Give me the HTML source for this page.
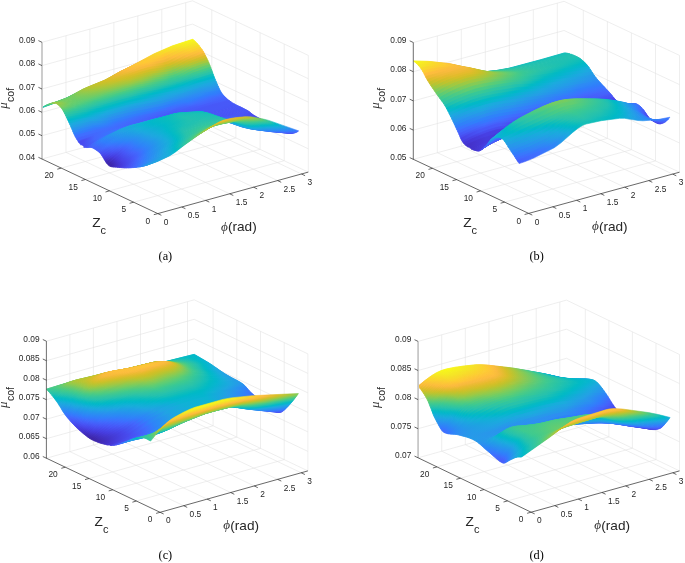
<!DOCTYPE html>
<html><head><meta charset="utf-8"><style>
html,body{margin:0;padding:0;background:#fff;}
svg{display:block;will-change:transform;font-family:"Liberation Sans",sans-serif;}
</style></head><body>
<svg width="685" height="563" viewBox="0 0 685 563">
<rect width="685" height="563" fill="#fff"/>
<path d="M133.7 202.2L284.2 160.7M109.6 190.8L260.1 149.3M85.4 179.5L235.9 138M61.3 168.1L211.8 126.6M181.8 207L66 152.4M205.7 200.4L89.9 145.8M229.7 193.8L113.9 139.2M253.6 187.2L137.8 132.6M277.6 180.6L161.8 126M301.5 174L185.7 119.4M42 159L42 42.3M66 152.4L66 35.7M89.9 145.8L89.9 29.1M113.9 139.2L113.9 22.5M137.8 132.6L137.8 15.9M161.8 126L161.8 9.3M185.7 119.4L185.7 2.7M42 159L192.5 117.5M42 135.7L192.5 94.2M42 112.3L192.5 70.8M42 89L192.5 47.5M42 65.6L192.5 24.1M42 42.3L192.5 0.8M308.3 172.1L308.3 55.4M284.2 160.7L284.2 44M260.1 149.3L260.1 32.6M235.9 138L235.9 21.3M211.8 126.6L211.8 9.9M308.3 172.1L192.5 117.5M308.3 148.8L192.5 94.2M308.3 125.4L192.5 70.8M308.3 102.1L192.5 47.5M308.3 78.7L192.5 24.1M308.3 55.4L192.5 0.8" stroke="#e2e2e2" stroke-width="0.6" fill="none"/>
<defs><linearGradient id="a82" gradientUnits="userSpaceOnUse" x1="42.5" x2="193"><stop offset="0" stop-color="#19bfb5"/><stop offset=".178" stop-color="#32c69e"/><stop offset=".344" stop-color="#5ecd74"/><stop offset=".4" stop-color="#79cc5f"/><stop offset=".478" stop-color="#bec32e"/><stop offset=".511" stop-color="#d5be27"/><stop offset=".578" stop-color="#f2ba38"/><stop offset=".611" stop-color="#fdbc3e"/><stop offset=".733" stop-color="#f8da2b"/><stop offset=".9" stop-color="#f7f51b"/><stop offset="1" stop-color="#f9fa15"/></linearGradient><linearGradient id="a81" gradientUnits="userSpaceOnUse" x1="43.62" x2="194.12"><stop offset="0" stop-color="#28c3ab"/><stop offset=".144" stop-color="#36c899"/><stop offset=".211" stop-color="#4dcc82"/><stop offset=".389" stop-color="#92ca4c"/><stop offset=".467" stop-color="#cdc028"/><stop offset=".522" stop-color="#ebba31"/><stop offset=".578" stop-color="#fcbc3e"/><stop offset=".756" stop-color="#f8d92b"/><stop offset=".933" stop-color="#f7f41c"/><stop offset="1" stop-color="#f8f817"/></linearGradient><linearGradient id="a80" gradientUnits="userSpaceOnUse" x1="45" x2="195.5"><stop offset="0" stop-color="#33c69d"/><stop offset=".133" stop-color="#40ca8d"/><stop offset=".2" stop-color="#62cd70"/><stop offset=".267" stop-color="#89cb53"/><stop offset=".389" stop-color="#b2c635"/><stop offset=".444" stop-color="#d4bf27"/><stop offset=".511" stop-color="#f5ba3b"/><stop offset=".556" stop-color="#febe3c"/><stop offset=".722" stop-color="#fccf30"/><stop offset=".833" stop-color="#f6e028"/><stop offset=".978" stop-color="#f7f31d"/><stop offset="1" stop-color="#f7f41c"/></linearGradient><linearGradient id="a79" gradientUnits="userSpaceOnUse" x1="46.56" x2="197.06"><stop offset="0" stop-color="#3fca8e"/><stop offset=".111" stop-color="#4dcc82"/><stop offset=".167" stop-color="#64cd6f"/><stop offset=".244" stop-color="#9ec942"/><stop offset=".378" stop-color="#c7c129"/><stop offset=".444" stop-color="#e5bb2c"/><stop offset=".5" stop-color="#faba3e"/><stop offset=".622" stop-color="#fecb33"/><stop offset=".789" stop-color="#feca33"/><stop offset=".922" stop-color="#f5e725"/><stop offset="1" stop-color="#f5ee21"/></linearGradient><linearGradient id="a78" gradientUnits="userSpaceOnUse" x1="48.16" x2="198.66"><stop offset="0" stop-color="#52cc7e"/><stop offset=".133" stop-color="#63cd70"/><stop offset=".178" stop-color="#7dcc5b"/><stop offset=".244" stop-color="#afc636"/><stop offset=".356" stop-color="#cfc027"/><stop offset=".444" stop-color="#eaba30"/><stop offset=".511" stop-color="#fbbb3e"/><stop offset=".644" stop-color="#fec934"/><stop offset=".778" stop-color="#febe3c"/><stop offset=".922" stop-color="#f6de29"/><stop offset="1" stop-color="#f5e626"/></linearGradient><linearGradient id="a77" gradientUnits="userSpaceOnUse" x1="49.7" x2="200.2"><stop offset="0" stop-color="#64cd6f"/><stop offset=".133" stop-color="#6dcd67"/><stop offset=".178" stop-color="#85cc56"/><stop offset=".244" stop-color="#b4c534"/><stop offset=".344" stop-color="#d0bf27"/><stop offset=".456" stop-color="#ebba31"/><stop offset=".544" stop-color="#fbbb3e"/><stop offset=".656" stop-color="#fec13a"/><stop offset=".722" stop-color="#f7ba3c"/><stop offset=".778" stop-color="#f2ba38"/><stop offset=".822" stop-color="#febd3d"/><stop offset=".933" stop-color="#fad62d"/><stop offset="1" stop-color="#f6dd29"/></linearGradient><linearGradient id="a76" gradientUnits="userSpaceOnUse" x1="51.13" x2="201.63"><stop offset="0" stop-color="#77cc60"/><stop offset=".111" stop-color="#71cd65"/><stop offset=".156" stop-color="#78cc5f"/><stop offset=".256" stop-color="#b4c533"/><stop offset=".378" stop-color="#d3bf27"/><stop offset=".567" stop-color="#f5ba3b"/><stop offset=".656" stop-color="#f9ba3d"/><stop offset=".756" stop-color="#e1bc2a"/><stop offset=".8" stop-color="#e8bb2e"/><stop offset=".844" stop-color="#fabb3e"/><stop offset=".933" stop-color="#fdcc32"/><stop offset="1" stop-color="#fad42e"/></linearGradient><linearGradient id="a75" gradientUnits="userSpaceOnUse" x1="52.46" x2="202.96"><stop offset="0" stop-color="#89cb53"/><stop offset=".078" stop-color="#74cd62"/><stop offset=".144" stop-color="#74cd62"/><stop offset=".267" stop-color="#afc636"/><stop offset=".411" stop-color="#d2bf27"/><stop offset=".544" stop-color="#e6bb2d"/><stop offset=".656" stop-color="#e9bb2f"/><stop offset=".756" stop-color="#cdc028"/><stop offset=".8" stop-color="#d5be27"/><stop offset=".844" stop-color="#eaba30"/><stop offset=".889" stop-color="#fbbb3e"/><stop offset="1" stop-color="#feca33"/></linearGradient><linearGradient id="a74" gradientUnits="userSpaceOnUse" x1="53.7" x2="204.2"><stop offset="0" stop-color="#96ca48"/><stop offset=".067" stop-color="#78cc5f"/><stop offset=".133" stop-color="#70cd65"/><stop offset=".189" stop-color="#83cc57"/><stop offset=".267" stop-color="#a5c83d"/><stop offset=".444" stop-color="#cfc027"/><stop offset=".556" stop-color="#d7be28"/><stop offset=".667" stop-color="#d2bf27"/><stop offset=".756" stop-color="#b5c533"/><stop offset=".789" stop-color="#bac430"/><stop offset=".844" stop-color="#d8be28"/><stop offset=".9" stop-color="#efba35"/><stop offset=".967" stop-color="#fdbc3e"/><stop offset="1" stop-color="#febf3b"/></linearGradient><linearGradient id="a73" gradientUnits="userSpaceOnUse" x1="54.9" x2="205.4"><stop offset="0" stop-color="#9fc942"/><stop offset=".067" stop-color="#78cc5f"/><stop offset=".122" stop-color="#6dcd68"/><stop offset=".178" stop-color="#78cc5f"/><stop offset=".278" stop-color="#9dc943"/><stop offset=".489" stop-color="#c9c129"/><stop offset=".656" stop-color="#bfc32d"/><stop offset=".756" stop-color="#9bc944"/><stop offset=".789" stop-color="#a0c840"/><stop offset=".856" stop-color="#cbc028"/><stop offset=".911" stop-color="#e2bc2b"/><stop offset="1" stop-color="#f1ba38"/></linearGradient><linearGradient id="a72" gradientUnits="userSpaceOnUse" x1="56.04" x2="206.54"><stop offset="0" stop-color="#a1c840"/><stop offset=".067" stop-color="#77cc5f"/><stop offset=".122" stop-color="#69cd6a"/><stop offset=".189" stop-color="#75cc61"/><stop offset=".322" stop-color="#9bc944"/><stop offset=".5" stop-color="#bbc430"/><stop offset=".622" stop-color="#aec637"/><stop offset=".689" stop-color="#98ca47"/><stop offset=".756" stop-color="#7fcc5a"/><stop offset=".789" stop-color="#85cb56"/><stop offset=".878" stop-color="#c3c22b"/><stop offset=".978" stop-color="#dbbd28"/><stop offset="1" stop-color="#ddbd29"/></linearGradient><linearGradient id="a71" gradientUnits="userSpaceOnUse" x1="57.13" x2="207.63"><stop offset="0" stop-color="#9fc941"/><stop offset=".078" stop-color="#70cd65"/><stop offset=".133" stop-color="#66cd6d"/><stop offset=".478" stop-color="#a8c73b"/><stop offset=".556" stop-color="#a5c83d"/><stop offset=".667" stop-color="#88cb53"/><stop offset=".744" stop-color="#65cd6e"/><stop offset=".778" stop-color="#65cd6e"/><stop offset=".822" stop-color="#80cc59"/><stop offset=".878" stop-color="#abc739"/><stop offset=".978" stop-color="#c3c22b"/><stop offset="1" stop-color="#c5c22a"/></linearGradient><linearGradient id="a70" gradientUnits="userSpaceOnUse" x1="58.16" x2="208.66"><stop offset="0" stop-color="#99c946"/><stop offset=".078" stop-color="#6ccd68"/><stop offset=".133" stop-color="#62cd70"/><stop offset=".311" stop-color="#78cc5f"/><stop offset=".489" stop-color="#94ca4a"/><stop offset=".567" stop-color="#8dcb4f"/><stop offset=".667" stop-color="#6dcd67"/><stop offset=".744" stop-color="#4ecc82"/><stop offset=".778" stop-color="#4dcc82"/><stop offset=".822" stop-color="#65cd6e"/><stop offset=".878" stop-color="#8fcb4e"/><stop offset=".978" stop-color="#a8c73b"/><stop offset="1" stop-color="#a9c73a"/></linearGradient><linearGradient id="a69" gradientUnits="userSpaceOnUse" x1="59.14" x2="209.64"><stop offset="0" stop-color="#92ca4b"/><stop offset=".078" stop-color="#67cd6c"/><stop offset=".133" stop-color="#5dcd75"/><stop offset=".3" stop-color="#64cd6f"/><stop offset=".467" stop-color="#7bcc5d"/><stop offset=".544" stop-color="#79cc5e"/><stop offset=".678" stop-color="#50cc7f"/><stop offset=".744" stop-color="#3bc992"/><stop offset=".789" stop-color="#3dca90"/><stop offset=".844" stop-color="#5ccc75"/><stop offset=".9" stop-color="#78cc5f"/><stop offset="1" stop-color="#8bcb51"/></linearGradient><linearGradient id="a68" gradientUnits="userSpaceOnUse" x1="60.07" x2="210.57"><stop offset="0" stop-color="#8acb51"/><stop offset=".078" stop-color="#62cd70"/><stop offset=".167" stop-color="#53cc7d"/><stop offset=".289" stop-color="#51cc7f"/><stop offset=".422" stop-color="#60cd72"/><stop offset=".544" stop-color="#5fcd73"/><stop offset=".733" stop-color="#32c69e"/><stop offset=".789" stop-color="#32c69e"/><stop offset=".844" stop-color="#44cb89"/><stop offset=".9" stop-color="#5bcc77"/><stop offset="1" stop-color="#69cd6b"/></linearGradient><linearGradient id="a67" gradientUnits="userSpaceOnUse" x1="60.95" x2="211.45"><stop offset="0" stop-color="#81cc58"/><stop offset=".089" stop-color="#58cc79"/><stop offset=".222" stop-color="#40ca8d"/><stop offset=".333" stop-color="#46cb87"/><stop offset=".533" stop-color="#4acb85"/><stop offset=".756" stop-color="#27c2ac"/><stop offset=".822" stop-color="#30c5a1"/><stop offset=".911" stop-color="#43ca8b"/><stop offset="1" stop-color="#4bcb83"/></linearGradient><linearGradient id="a66" gradientUnits="userSpaceOnUse" x1="61.77" x2="212.27"><stop offset="0" stop-color="#75cc61"/><stop offset=".111" stop-color="#48cb86"/><stop offset=".233" stop-color="#36c799"/><stop offset=".467" stop-color="#3ac994"/><stop offset=".589" stop-color="#32c69e"/><stop offset=".767" stop-color="#18bfb6"/><stop offset=".889" stop-color="#32c69f"/><stop offset="1" stop-color="#36c899"/></linearGradient><linearGradient id="a65" gradientUnits="userSpaceOnUse" x1="62.59" x2="213.09"><stop offset="0" stop-color="#67cd6c"/><stop offset=".111" stop-color="#3eca8f"/><stop offset=".244" stop-color="#2ec4a5"/><stop offset=".467" stop-color="#30c5a2"/><stop offset=".6" stop-color="#24c1ae"/><stop offset=".756" stop-color="#06bcbf"/><stop offset=".811" stop-color="#0fbeba"/><stop offset=".889" stop-color="#25c2ae"/><stop offset="1" stop-color="#29c3aa"/></linearGradient><linearGradient id="a64" gradientUnits="userSpaceOnUse" x1="63.47" x2="213.97"><stop offset="0" stop-color="#57cc7a"/><stop offset=".089" stop-color="#3ac994"/><stop offset=".244" stop-color="#23c1af"/><stop offset=".456" stop-color="#24c1ae"/><stop offset=".578" stop-color="#12beb9"/><stop offset=".678" stop-color="#01bac4"/><stop offset=".789" stop-color="#00b9c8"/><stop offset=".911" stop-color="#0dbdbb"/><stop offset="1" stop-color="#0ebebb"/></linearGradient><linearGradient id="a63" gradientUnits="userSpaceOnUse" x1="64.42" x2="214.92"><stop offset="0" stop-color="#43cb8a"/><stop offset=".189" stop-color="#1dc0b3"/><stop offset=".256" stop-color="#10beba"/><stop offset=".433" stop-color="#11beba"/><stop offset=".589" stop-color="#00b9c8"/><stop offset=".778" stop-color="#0db3d3"/><stop offset=".889" stop-color="#01b8c9"/><stop offset="1" stop-color="#01b7ca"/></linearGradient><linearGradient id="a62" gradientUnits="userSpaceOnUse" x1="65.46" x2="215.96"><stop offset="0" stop-color="#34c79b"/><stop offset=".133" stop-color="#1dc0b3"/><stop offset=".211" stop-color="#03bbc2"/><stop offset=".489" stop-color="#02b7cb"/><stop offset=".7" stop-color="#18addb"/><stop offset=".844" stop-color="#14b0d8"/><stop offset="1" stop-color="#14b0d8"/></linearGradient><linearGradient id="a61" gradientUnits="userSpaceOnUse" x1="66.52" x2="217.02"><stop offset="0" stop-color="#28c3ab"/><stop offset=".178" stop-color="#00b9c6"/><stop offset=".278" stop-color="#08b4d1"/><stop offset=".444" stop-color="#0eb3d4"/><stop offset=".678" stop-color="#1fa6e2"/><stop offset=".867" stop-color="#1ca9df"/><stop offset="1" stop-color="#1fa6e2"/></linearGradient><linearGradient id="a60" gradientUnits="userSpaceOnUse" x1="67.58" x2="218.08"><stop offset="0" stop-color="#12beb9"/><stop offset=".133" stop-color="#00b9c8"/><stop offset=".189" stop-color="#0cb3d3"/><stop offset=".256" stop-color="#18aedb"/><stop offset=".533" stop-color="#20a5e3"/><stop offset=".767" stop-color="#259ce7"/><stop offset=".944" stop-color="#23a0e5"/><stop offset="1" stop-color="#259ce7"/></linearGradient><linearGradient id="a59" gradientUnits="userSpaceOnUse" x1="68.64" x2="219.14"><stop offset="0" stop-color="#00b9c7"/><stop offset=".122" stop-color="#08b5d0"/><stop offset=".222" stop-color="#1ea8e1"/><stop offset=".556" stop-color="#2698ea"/><stop offset=".733" stop-color="#2994ed"/><stop offset=".944" stop-color="#2798ea"/><stop offset="1" stop-color="#2b91ef"/></linearGradient><linearGradient id="a58" gradientUnits="userSpaceOnUse" x1="69.71" x2="220.21"><stop offset="0" stop-color="#0eb3d4"/><stop offset=".167" stop-color="#1ca9e0"/><stop offset=".267" stop-color="#269ae8"/><stop offset=".544" stop-color="#2d8ef1"/><stop offset=".678" stop-color="#2d88f6"/><stop offset=".933" stop-color="#2c90f0"/><stop offset="1" stop-color="#2e87f7"/></linearGradient><linearGradient id="a57" gradientUnits="userSpaceOnUse" x1="70.77" x2="221.27"><stop offset="0" stop-color="#1caadf"/><stop offset=".167" stop-color="#23a1e5"/><stop offset=".267" stop-color="#2c8ff0"/><stop offset=".556" stop-color="#2f81fa"/><stop offset=".667" stop-color="#327cfc"/><stop offset=".856" stop-color="#2d89f6"/><stop offset=".978" stop-color="#2f81fa"/><stop offset="1" stop-color="#307efc"/></linearGradient><linearGradient id="a56" gradientUnits="userSpaceOnUse" x1="71.8" x2="222.3"><stop offset="0" stop-color="#23a0e5"/><stop offset=".167" stop-color="#2797ea"/><stop offset=".267" stop-color="#2e84f8"/><stop offset=".533" stop-color="#3677fe"/><stop offset=".656" stop-color="#3e6fff"/><stop offset=".767" stop-color="#2f80fb"/><stop offset=".956" stop-color="#317dfc"/><stop offset="1" stop-color="#3776fe"/></linearGradient><linearGradient id="a55" gradientUnits="userSpaceOnUse" x1="72.81" x2="223.31"><stop offset="0" stop-color="#2895ec"/><stop offset=".167" stop-color="#2d8ef2"/><stop offset=".267" stop-color="#337bfd"/><stop offset=".6" stop-color="#4466fd"/><stop offset=".678" stop-color="#426afe"/><stop offset=".767" stop-color="#3479fd"/><stop offset=".967" stop-color="#3975ff"/><stop offset="1" stop-color="#3d71ff"/></linearGradient><linearGradient id="a54" gradientUnits="userSpaceOnUse" x1="73.87" x2="224.37"><stop offset="0" stop-color="#2d89f5"/><stop offset=".167" stop-color="#2e84f9"/><stop offset=".278" stop-color="#3c72ff"/><stop offset=".656" stop-color="#465ffb"/><stop offset=".767" stop-color="#3b72ff"/><stop offset="1" stop-color="#406dfe"/></linearGradient><linearGradient id="a53" gradientUnits="userSpaceOnUse" x1="75.07" x2="225.57"><stop offset="0" stop-color="#327cfc"/><stop offset=".178" stop-color="#3678fd"/><stop offset=".311" stop-color="#416bfe"/><stop offset=".656" stop-color="#475af9"/><stop offset=".778" stop-color="#416bfe"/><stop offset="1" stop-color="#4368fe"/></linearGradient><linearGradient id="a52" gradientUnits="userSpaceOnUse" x1="76.5" x2="227"><stop offset="0" stop-color="#3f6eff"/><stop offset=".2" stop-color="#3f6fff"/><stop offset=".667" stop-color="#4758f8"/><stop offset=".833" stop-color="#4465fd"/><stop offset="1" stop-color="#4563fd"/></linearGradient><linearGradient id="a51" gradientUnits="userSpaceOnUse" x1="78.17" x2="228.67"><stop offset="0" stop-color="#4561fc"/><stop offset=".178" stop-color="#406dfe"/><stop offset=".478" stop-color="#4563fd"/><stop offset=".667" stop-color="#4758f8"/><stop offset=".967" stop-color="#4660fc"/><stop offset="1" stop-color="#465ffb"/></linearGradient><linearGradient id="a50" gradientUnits="userSpaceOnUse" x1="79.95" x2="230.45"><stop offset="0" stop-color="#4855f6"/><stop offset=".122" stop-color="#416cfe"/><stop offset=".333" stop-color="#406dfe"/><stop offset=".678" stop-color="#4758f8"/><stop offset="1" stop-color="#475cfa"/></linearGradient><linearGradient id="a49" gradientUnits="userSpaceOnUse" x1="82.87" x2="233.37"><stop offset="0" stop-color="#484bef"/><stop offset=".078" stop-color="#4467fd"/><stop offset=".189" stop-color="#3974ff"/><stop offset=".356" stop-color="#3d71ff"/><stop offset=".7" stop-color="#4757f7"/><stop offset="1" stop-color="#4759f8"/></linearGradient><linearGradient id="a48" gradientUnits="userSpaceOnUse" x1="85.97" x2="236.47"><stop offset="0" stop-color="#4851f3"/><stop offset=".089" stop-color="#3e6fff"/><stop offset=".222" stop-color="#307ffb"/><stop offset=".411" stop-color="#3975fe"/><stop offset=".667" stop-color="#4759f8"/><stop offset=".978" stop-color="#4757f7"/><stop offset="1" stop-color="#4758f8"/></linearGradient><linearGradient id="a47" gradientUnits="userSpaceOnUse" x1="87.7" x2="238.2"><stop offset="0" stop-color="#4757f7"/><stop offset=".078" stop-color="#3975ff"/><stop offset=".144" stop-color="#2e83f9"/><stop offset=".278" stop-color="#2d8bf3"/><stop offset=".5" stop-color="#3579fd"/><stop offset=".622" stop-color="#465efb"/><stop offset=".867" stop-color="#4853f5"/><stop offset="1" stop-color="#4758f8"/></linearGradient><linearGradient id="a46" gradientUnits="userSpaceOnUse" x1="88.84" x2="239.34"><stop offset="0" stop-color="#475bfa"/><stop offset=".056" stop-color="#3a74ff"/><stop offset=".1" stop-color="#2e83f9"/><stop offset=".244" stop-color="#2896eb"/><stop offset=".522" stop-color="#2f82fa"/><stop offset=".6" stop-color="#4467fd"/><stop offset=".711" stop-color="#4757f7"/><stop offset=".967" stop-color="#4855f6"/><stop offset="1" stop-color="#4758f8"/></linearGradient><linearGradient id="a45" gradientUnits="userSpaceOnUse" x1="89.82" x2="240.32"><stop offset="0" stop-color="#465ffb"/><stop offset=".067" stop-color="#307efb"/><stop offset=".178" stop-color="#2698ea"/><stop offset=".3" stop-color="#249ee6"/><stop offset=".522" stop-color="#2d8cf3"/><stop offset=".567" stop-color="#317cfc"/><stop offset=".622" stop-color="#4465fd"/><stop offset=".767" stop-color="#4854f6"/><stop offset=".989" stop-color="#4757f7"/><stop offset="1" stop-color="#4757f8"/></linearGradient><linearGradient id="a44" gradientUnits="userSpaceOnUse" x1="90.8" x2="241.3"><stop offset="0" stop-color="#4561fc"/><stop offset=".056" stop-color="#307efb"/><stop offset=".144" stop-color="#2698ea"/><stop offset=".256" stop-color="#1fa6e2"/><stop offset=".511" stop-color="#2698ea"/><stop offset=".578" stop-color="#2f80fb"/><stop offset=".633" stop-color="#4367fd"/><stop offset=".767" stop-color="#4854f6"/><stop offset=".978" stop-color="#4756f6"/><stop offset="1" stop-color="#4757f7"/></linearGradient><linearGradient id="a43" gradientUnits="userSpaceOnUse" x1="91.81" x2="242.31"><stop offset="0" stop-color="#4563fd"/><stop offset=".056" stop-color="#2f81fa"/><stop offset=".144" stop-color="#259ce7"/><stop offset=".256" stop-color="#1baade"/><stop offset=".511" stop-color="#23a1e4"/><stop offset=".578" stop-color="#2d89f6"/><stop offset=".611" stop-color="#3777fe"/><stop offset=".667" stop-color="#4465fd"/><stop offset=".778" stop-color="#4855f6"/><stop offset=".978" stop-color="#4855f6"/><stop offset="1" stop-color="#4757f7"/></linearGradient><linearGradient id="a42" gradientUnits="userSpaceOnUse" x1="92.85" x2="243.35"><stop offset="0" stop-color="#4564fd"/><stop offset=".056" stop-color="#2f82fa"/><stop offset=".156" stop-color="#23a0e5"/><stop offset=".267" stop-color="#18addb"/><stop offset=".511" stop-color="#1da8e0"/><stop offset=".578" stop-color="#2b91ef"/><stop offset=".622" stop-color="#337afd"/><stop offset=".689" stop-color="#4464fd"/><stop offset=".789" stop-color="#4855f6"/><stop offset=".967" stop-color="#4854f6"/><stop offset="1" stop-color="#4757f7"/></linearGradient><linearGradient id="a41" gradientUnits="userSpaceOnUse" x1="93.93" x2="244.43"><stop offset="0" stop-color="#4564fd"/><stop offset=".056" stop-color="#2f81fa"/><stop offset=".156" stop-color="#23a0e5"/><stop offset=".267" stop-color="#16afda"/><stop offset=".444" stop-color="#13b0d7"/><stop offset=".533" stop-color="#1caadf"/><stop offset=".644" stop-color="#347afd"/><stop offset=".711" stop-color="#4563fc"/><stop offset=".822" stop-color="#4854f5"/><stop offset=".989" stop-color="#4756f6"/><stop offset="1" stop-color="#4757f7"/></linearGradient><linearGradient id="a40" gradientUnits="userSpaceOnUse" x1="95.02" x2="245.52"><stop offset="0" stop-color="#4562fc"/><stop offset=".056" stop-color="#307ffb"/><stop offset=".167" stop-color="#22a1e4"/><stop offset=".3" stop-color="#11b1d6"/><stop offset=".422" stop-color="#0ab4d2"/><stop offset=".522" stop-color="#11b1d6"/><stop offset=".589" stop-color="#269ae8"/><stop offset=".667" stop-color="#3579fd"/><stop offset=".722" stop-color="#4564fd"/><stop offset=".856" stop-color="#4852f4"/><stop offset="1" stop-color="#4757f7"/></linearGradient><linearGradient id="a39" gradientUnits="userSpaceOnUse" x1="96.06" x2="246.56"><stop offset="0" stop-color="#4661fc"/><stop offset=".056" stop-color="#317cfc"/><stop offset=".178" stop-color="#22a2e4"/><stop offset=".322" stop-color="#09b4d1"/><stop offset=".489" stop-color="#03b6cd"/><stop offset=".533" stop-color="#09b4d1"/><stop offset=".589" stop-color="#22a2e4"/><stop offset=".689" stop-color="#3777fe"/><stop offset=".744" stop-color="#4562fc"/><stop offset=".889" stop-color="#4852f4"/><stop offset="1" stop-color="#4756f7"/></linearGradient><linearGradient id="a38" gradientUnits="userSpaceOnUse" x1="97.04" x2="247.54"><stop offset="0" stop-color="#465ffb"/><stop offset=".067" stop-color="#307efb"/><stop offset=".211" stop-color="#1da9e0"/><stop offset=".356" stop-color="#01b7cb"/><stop offset=".522" stop-color="#00b9c7"/><stop offset=".556" stop-color="#0bb3d2"/><stop offset=".6" stop-color="#20a4e3"/><stop offset=".7" stop-color="#3579fd"/><stop offset=".744" stop-color="#4465fd"/><stop offset=".878" stop-color="#4852f4"/><stop offset="1" stop-color="#4756f7"/></linearGradient><linearGradient id="a37" gradientUnits="userSpaceOnUse" x1="97.97" x2="248.47"><stop offset="0" stop-color="#465efb"/><stop offset=".056" stop-color="#3777fe"/><stop offset=".1" stop-color="#2d88f6"/><stop offset=".244" stop-color="#17aeda"/><stop offset=".344" stop-color="#01b8ca"/><stop offset=".522" stop-color="#03bbc2"/><stop offset=".556" stop-color="#02b7cb"/><stop offset=".6" stop-color="#1babde"/><stop offset=".689" stop-color="#2e86f8"/><stop offset=".733" stop-color="#406dfe"/><stop offset=".822" stop-color="#4759f8"/><stop offset=".978" stop-color="#4854f5"/><stop offset="1" stop-color="#4855f6"/></linearGradient><linearGradient id="a36" gradientUnits="userSpaceOnUse" x1="98.87" x2="249.37"><stop offset="0" stop-color="#475cfa"/><stop offset=".056" stop-color="#3a74ff"/><stop offset=".1" stop-color="#2e86f8"/><stop offset=".244" stop-color="#17afda"/><stop offset=".333" stop-color="#01b8ca"/><stop offset=".522" stop-color="#08bdbe"/><stop offset=".567" stop-color="#01b8c9"/><stop offset=".622" stop-color="#1babde"/><stop offset=".689" stop-color="#2d8df2"/><stop offset=".722" stop-color="#3678fe"/><stop offset=".756" stop-color="#4367fd"/><stop offset=".889" stop-color="#4854f6"/><stop offset="1" stop-color="#4853f5"/></linearGradient><linearGradient id="a35" gradientUnits="userSpaceOnUse" x1="99.77" x2="250.27"><stop offset="0" stop-color="#475af9"/><stop offset=".056" stop-color="#3d71ff"/><stop offset=".1" stop-color="#2e83f9"/><stop offset=".233" stop-color="#19acdc"/><stop offset=".333" stop-color="#01b8ca"/><stop offset=".456" stop-color="#0bbdbd"/><stop offset=".522" stop-color="#0ebebb"/><stop offset=".578" stop-color="#00b9c7"/><stop offset=".611" stop-color="#0cb3d3"/><stop offset=".667" stop-color="#22a2e4"/><stop offset=".722" stop-color="#317dfc"/><stop offset=".756" stop-color="#4269fe"/><stop offset=".889" stop-color="#4756f6"/><stop offset="1" stop-color="#4851f4"/></linearGradient><linearGradient id="a34" gradientUnits="userSpaceOnUse" x1="100.73" x2="251.23"><stop offset="0" stop-color="#4855f6"/><stop offset=".067" stop-color="#3c71ff"/><stop offset=".111" stop-color="#2e84f9"/><stop offset=".244" stop-color="#17aeda"/><stop offset=".333" stop-color="#01b8ca"/><stop offset=".433" stop-color="#0abdbd"/><stop offset=".522" stop-color="#13beb9"/><stop offset=".6" stop-color="#00b8c8"/><stop offset=".633" stop-color="#0bb4d2"/><stop offset=".678" stop-color="#22a2e4"/><stop offset=".733" stop-color="#3579fd"/><stop offset=".767" stop-color="#4368fe"/><stop offset=".956" stop-color="#4852f4"/><stop offset="1" stop-color="#484ff2"/></linearGradient><linearGradient id="a33" gradientUnits="userSpaceOnUse" x1="101.82" x2="252.32"><stop offset="0" stop-color="#484ef1"/><stop offset=".067" stop-color="#416cfe"/><stop offset=".122" stop-color="#2e84f8"/><stop offset=".244" stop-color="#18aedb"/><stop offset=".333" stop-color="#01b8ca"/><stop offset=".422" stop-color="#08bcbe"/><stop offset=".511" stop-color="#16bfb7"/><stop offset=".578" stop-color="#08bdbe"/><stop offset=".633" stop-color="#01b7cb"/><stop offset=".656" stop-color="#0eb3d4"/><stop offset=".689" stop-color="#23a0e5"/><stop offset=".733" stop-color="#317dfc"/><stop offset=".767" stop-color="#416bfe"/><stop offset="1" stop-color="#484cf0"/></linearGradient><linearGradient id="a32" gradientUnits="userSpaceOnUse" x1="102.98" x2="253.48"><stop offset="0" stop-color="#4745ea"/><stop offset=".067" stop-color="#4465fd"/><stop offset=".122" stop-color="#2f7ffb"/><stop offset=".233" stop-color="#1babde"/><stop offset=".333" stop-color="#01b7ca"/><stop offset=".411" stop-color="#06bcbf"/><stop offset=".5" stop-color="#19bfb6"/><stop offset=".578" stop-color="#0ebebb"/><stop offset=".644" stop-color="#00b8c9"/><stop offset=".656" stop-color="#05b6ce"/><stop offset=".689" stop-color="#21a4e3"/><stop offset=".744" stop-color="#3678fd"/><stop offset=".789" stop-color="#4369fe"/><stop offset="1" stop-color="#484aee"/></linearGradient><linearGradient id="a31" gradientUnits="userSpaceOnUse" x1="104.12" x2="254.62"><stop offset="0" stop-color="#463cdf"/><stop offset=".056" stop-color="#4758f8"/><stop offset=".1" stop-color="#3f6eff"/><stop offset=".144" stop-color="#2e85f8"/><stop offset=".244" stop-color="#19acdc"/><stop offset=".333" stop-color="#01b7cb"/><stop offset=".411" stop-color="#07bcbf"/><stop offset=".5" stop-color="#1bc0b4"/><stop offset=".578" stop-color="#12beb9"/><stop offset=".644" stop-color="#00b9c6"/><stop offset=".656" stop-color="#02b7cb"/><stop offset=".689" stop-color="#1fa6e2"/><stop offset=".744" stop-color="#327bfc"/><stop offset=".789" stop-color="#416bfe"/><stop offset=".989" stop-color="#484bef"/><stop offset="1" stop-color="#4849ed"/></linearGradient><linearGradient id="a30" gradientUnits="userSpaceOnUse" x1="105.27" x2="255.77"><stop offset="0" stop-color="#4434d0"/><stop offset=".044" stop-color="#484bef"/><stop offset=".1" stop-color="#4368fe"/><stop offset=".144" stop-color="#2f81fa"/><stop offset=".233" stop-color="#1da8e0"/><stop offset=".344" stop-color="#01b8c9"/><stop offset=".411" stop-color="#07bcbe"/><stop offset=".5" stop-color="#1dc0b3"/><stop offset=".589" stop-color="#12beb9"/><stop offset=".656" stop-color="#00b8c9"/><stop offset=".689" stop-color="#1da8e0"/><stop offset=".733" stop-color="#2e86f7"/><stop offset=".778" stop-color="#3d70ff"/><stop offset=".944" stop-color="#4853f5"/><stop offset="1" stop-color="#4849ed"/></linearGradient><linearGradient id="a29" gradientUnits="userSpaceOnUse" x1="106.49" x2="256.99"><stop offset="0" stop-color="#422ebf"/><stop offset=".033" stop-color="#463ee1"/><stop offset=".089" stop-color="#475dfa"/><stop offset=".133" stop-color="#3876fe"/><stop offset=".167" stop-color="#2d89f5"/><stop offset=".244" stop-color="#1baadf"/><stop offset=".344" stop-color="#01b8ca"/><stop offset=".411" stop-color="#08bcbe"/><stop offset=".489" stop-color="#1ec0b3"/><stop offset=".578" stop-color="#18bfb6"/><stop offset=".644" stop-color="#04bbc1"/><stop offset=".656" stop-color="#00b9c6"/><stop offset=".667" stop-color="#04b6ce"/><stop offset=".689" stop-color="#1baade"/><stop offset=".733" stop-color="#2d89f5"/><stop offset=".778" stop-color="#3a73ff"/><stop offset=".9" stop-color="#475cfa"/><stop offset="1" stop-color="#4848ec"/></linearGradient><linearGradient id="a28" gradientUnits="userSpaceOnUse" x1="107.95" x2="258.45"><stop offset="0" stop-color="#3f29b0"/><stop offset=".044" stop-color="#473ee1"/><stop offset=".1" stop-color="#465efb"/><stop offset=".133" stop-color="#3c72ff"/><stop offset=".167" stop-color="#2e86f7"/><stop offset=".244" stop-color="#1ca9e0"/><stop offset=".344" stop-color="#01b8ca"/><stop offset=".4" stop-color="#05bcc0"/><stop offset=".489" stop-color="#1fc0b2"/><stop offset=".589" stop-color="#18bfb6"/><stop offset=".644" stop-color="#08bcbe"/><stop offset=".667" stop-color="#01b7cb"/><stop offset=".689" stop-color="#19acdc"/><stop offset=".744" stop-color="#2e84f8"/><stop offset=".811" stop-color="#3f6eff"/><stop offset=".967" stop-color="#484ff2"/><stop offset="1" stop-color="#4847ec"/></linearGradient><linearGradient id="a27" gradientUnits="userSpaceOnUse" x1="109.64" x2="260.14"><stop offset="0" stop-color="#3e26a8"/><stop offset=".044" stop-color="#463bdd"/><stop offset=".089" stop-color="#4756f6"/><stop offset=".133" stop-color="#3e70ff"/><stop offset=".167" stop-color="#2e85f8"/><stop offset=".244" stop-color="#1da8e0"/><stop offset=".356" stop-color="#00b8c8"/><stop offset=".411" stop-color="#09bdbe"/><stop offset=".489" stop-color="#20c1b1"/><stop offset=".589" stop-color="#1bc0b4"/><stop offset=".644" stop-color="#0cbdbc"/><stop offset=".667" stop-color="#00b8c8"/><stop offset=".7" stop-color="#1ea7e1"/><stop offset=".744" stop-color="#2e87f7"/><stop offset=".822" stop-color="#3f6eff"/><stop offset=".967" stop-color="#484ff2"/><stop offset="1" stop-color="#4747eb"/></linearGradient><linearGradient id="a26" gradientUnits="userSpaceOnUse" x1="111.42" x2="261.92"><stop offset="0" stop-color="#3e27ac"/><stop offset=".044" stop-color="#463cdf"/><stop offset=".089" stop-color="#4756f7"/><stop offset=".133" stop-color="#3e70ff"/><stop offset=".167" stop-color="#2e84f8"/><stop offset=".244" stop-color="#1ea7e1"/><stop offset=".356" stop-color="#00b9c8"/><stop offset=".411" stop-color="#0abdbd"/><stop offset=".489" stop-color="#21c1b1"/><stop offset=".6" stop-color="#1bc0b4"/><stop offset=".644" stop-color="#10beba"/><stop offset=".667" stop-color="#00b9c6"/><stop offset=".678" stop-color="#06b5cf"/><stop offset=".7" stop-color="#1da8e0"/><stop offset=".744" stop-color="#2d89f6"/><stop offset=".822" stop-color="#3e6fff"/><stop offset=".956" stop-color="#4852f4"/><stop offset="1" stop-color="#4746eb"/></linearGradient><linearGradient id="a25" gradientUnits="userSpaceOnUse" x1="113.25" x2="263.75"><stop offset="0" stop-color="#402ab5"/><stop offset=".044" stop-color="#473fe2"/><stop offset=".1" stop-color="#465dfa"/><stop offset=".144" stop-color="#3776fe"/><stop offset=".178" stop-color="#2d89f5"/><stop offset=".256" stop-color="#1da9e0"/><stop offset=".344" stop-color="#01b8c9"/><stop offset=".4" stop-color="#08bcbe"/><stop offset=".489" stop-color="#21c1b0"/><stop offset=".611" stop-color="#1bc0b4"/><stop offset=".644" stop-color="#13beb8"/><stop offset=".667" stop-color="#01bac5"/><stop offset=".678" stop-color="#04b6ce"/><stop offset=".7" stop-color="#1caadf"/><stop offset=".744" stop-color="#2d8af5"/><stop offset=".822" stop-color="#3d71ff"/><stop offset=".956" stop-color="#4852f4"/><stop offset="1" stop-color="#4746ea"/></linearGradient><linearGradient id="a24" gradientUnits="userSpaceOnUse" x1="115.11" x2="265.61"><stop offset="0" stop-color="#422ebf"/><stop offset=".044" stop-color="#4741e5"/><stop offset=".111" stop-color="#4564fd"/><stop offset=".156" stop-color="#317cfc"/><stop offset=".244" stop-color="#20a5e2"/><stop offset=".3" stop-color="#0fb2d4"/><stop offset=".344" stop-color="#00b9c8"/><stop offset=".411" stop-color="#10beba"/><stop offset=".489" stop-color="#22c1b0"/><stop offset=".622" stop-color="#1bc0b4"/><stop offset=".644" stop-color="#16bfb7"/><stop offset=".667" stop-color="#02bbc3"/><stop offset=".678" stop-color="#02b7cc"/><stop offset=".7" stop-color="#1babde"/><stop offset=".744" stop-color="#2d8bf3"/><stop offset=".822" stop-color="#3c72ff"/><stop offset=".956" stop-color="#4852f4"/><stop offset="1" stop-color="#4745ea"/></linearGradient><linearGradient id="a23" gradientUnits="userSpaceOnUse" x1="116.97" x2="267.47"><stop offset="0" stop-color="#4332c9"/><stop offset=".044" stop-color="#4744e8"/><stop offset=".111" stop-color="#4564fd"/><stop offset=".167" stop-color="#2f82fa"/><stop offset=".256" stop-color="#1ea8e1"/><stop offset=".3" stop-color="#0eb2d4"/><stop offset=".333" stop-color="#00b8c9"/><stop offset=".4" stop-color="#10beba"/><stop offset=".489" stop-color="#23c1af"/><stop offset=".633" stop-color="#1cc0b4"/><stop offset=".656" stop-color="#10beba"/><stop offset=".667" stop-color="#03bbc2"/><stop offset=".678" stop-color="#01b7ca"/><stop offset=".7" stop-color="#1aacdd"/><stop offset=".756" stop-color="#2e87f7"/><stop offset=".844" stop-color="#406dfe"/><stop offset=".967" stop-color="#484ef1"/><stop offset="1" stop-color="#4745e9"/></linearGradient><linearGradient id="a22" gradientUnits="userSpaceOnUse" x1="118.83" x2="269.33"><stop offset="0" stop-color="#4535d2"/><stop offset=".056" stop-color="#484bef"/><stop offset=".122" stop-color="#4269fe"/><stop offset=".178" stop-color="#2e87f7"/><stop offset=".278" stop-color="#18aedb"/><stop offset=".322" stop-color="#02b7cb"/><stop offset=".356" stop-color="#05bcc0"/><stop offset=".456" stop-color="#20c1b1"/><stop offset=".589" stop-color="#22c1b0"/><stop offset=".644" stop-color="#1bc0b4"/><stop offset=".667" stop-color="#06bcc0"/><stop offset=".678" stop-color="#00b8c9"/><stop offset=".7" stop-color="#18addb"/><stop offset=".744" stop-color="#2d8ef1"/><stop offset=".811" stop-color="#3875fe"/><stop offset=".911" stop-color="#475cfa"/><stop offset="1" stop-color="#4744e8"/></linearGradient><linearGradient id="a21" gradientUnits="userSpaceOnUse" x1="120.68" x2="271.18"><stop offset="0" stop-color="#4639da"/><stop offset=".078" stop-color="#4757f8"/><stop offset=".133" stop-color="#3d70ff"/><stop offset=".167" stop-color="#2f82fa"/><stop offset=".267" stop-color="#1babde"/><stop offset=".322" stop-color="#01b8c9"/><stop offset=".356" stop-color="#09bdbe"/><stop offset=".422" stop-color="#1dc0b3"/><stop offset=".544" stop-color="#25c2ae"/><stop offset=".644" stop-color="#1ec0b2"/><stop offset=".678" stop-color="#00b9c7"/><stop offset=".689" stop-color="#08b4d0"/><stop offset=".7" stop-color="#17aeda"/><stop offset=".744" stop-color="#2c90f0"/><stop offset=".811" stop-color="#3876fe"/><stop offset=".9" stop-color="#465efb"/><stop offset="1" stop-color="#4743e7"/></linearGradient><linearGradient id="a20" gradientUnits="userSpaceOnUse" x1="122.54" x2="273.04"><stop offset="0" stop-color="#463ee1"/><stop offset=".089" stop-color="#4660fc"/><stop offset=".144" stop-color="#3479fd"/><stop offset=".256" stop-color="#1da8e0"/><stop offset=".289" stop-color="#10b2d5"/><stop offset=".322" stop-color="#00b9c7"/><stop offset=".389" stop-color="#1bc0b4"/><stop offset=".511" stop-color="#27c2ac"/><stop offset=".644" stop-color="#21c1b0"/><stop offset=".667" stop-color="#0dbdbc"/><stop offset=".678" stop-color="#01bac5"/><stop offset=".689" stop-color="#05b5ce"/><stop offset=".7" stop-color="#15b0d8"/><stop offset=".744" stop-color="#2b91ef"/><stop offset=".8" stop-color="#337afd"/><stop offset=".878" stop-color="#4563fd"/><stop offset="1" stop-color="#4742e6"/></linearGradient><linearGradient id="a19" gradientUnits="userSpaceOnUse" x1="124.4" x2="274.9"><stop offset="0" stop-color="#4743e7"/><stop offset=".089" stop-color="#4466fd"/><stop offset=".144" stop-color="#307ffb"/><stop offset=".267" stop-color="#19addc"/><stop offset=".311" stop-color="#01b8ca"/><stop offset=".333" stop-color="#05bcc0"/><stop offset=".378" stop-color="#1dc0b3"/><stop offset=".511" stop-color="#2ac3aa"/><stop offset=".644" stop-color="#24c1ae"/><stop offset=".667" stop-color="#11beba"/><stop offset=".678" stop-color="#02bbc3"/><stop offset=".689" stop-color="#03b6cd"/><stop offset=".711" stop-color="#1caadf"/><stop offset=".756" stop-color="#2d8cf3"/><stop offset=".811" stop-color="#3777fe"/><stop offset=".889" stop-color="#465ffb"/><stop offset="1" stop-color="#4741e5"/></linearGradient><linearGradient id="a18" gradientUnits="userSpaceOnUse" x1="126.23" x2="276.73"><stop offset="0" stop-color="#4849ed"/><stop offset=".078" stop-color="#4368fe"/><stop offset=".144" stop-color="#2e84f8"/><stop offset=".267" stop-color="#18aedb"/><stop offset=".311" stop-color="#00b9c7"/><stop offset=".333" stop-color="#0abdbd"/><stop offset=".367" stop-color="#1fc0b2"/><stop offset=".489" stop-color="#2cc4a7"/><stop offset=".644" stop-color="#27c2ac"/><stop offset=".667" stop-color="#15bfb7"/><stop offset=".678" stop-color="#05bcc0"/><stop offset=".689" stop-color="#01b7cb"/><stop offset=".711" stop-color="#1babde"/><stop offset=".767" stop-color="#2d89f6"/><stop offset=".822" stop-color="#3a73ff"/><stop offset=".9" stop-color="#475bfa"/><stop offset="1" stop-color="#4740e4"/></linearGradient><linearGradient id="a17" gradientUnits="userSpaceOnUse" x1="128.01" x2="278.51"><stop offset="0" stop-color="#484ef1"/><stop offset=".078" stop-color="#3f6eff"/><stop offset=".133" stop-color="#2e85f8"/><stop offset=".256" stop-color="#1aacdc"/><stop offset=".3" stop-color="#01b7ca"/><stop offset=".322" stop-color="#06bcc0"/><stop offset=".367" stop-color="#24c1af"/><stop offset=".511" stop-color="#2fc5a4"/><stop offset=".644" stop-color="#2ac3a9"/><stop offset=".667" stop-color="#1abfb5"/><stop offset=".678" stop-color="#08bcbe"/><stop offset=".689" stop-color="#00b8c8"/><stop offset=".711" stop-color="#19addc"/><stop offset=".767" stop-color="#2d8af5"/><stop offset=".822" stop-color="#3974ff"/><stop offset=".9" stop-color="#475bf9"/><stop offset="1" stop-color="#4740e4"/></linearGradient><linearGradient id="a16" gradientUnits="userSpaceOnUse" x1="129.73" x2="280.23"><stop offset="0" stop-color="#4854f5"/><stop offset=".067" stop-color="#3f6fff"/><stop offset=".122" stop-color="#2e85f8"/><stop offset=".256" stop-color="#17aeda"/><stop offset=".3" stop-color="#00b9c8"/><stop offset=".322" stop-color="#0abdbd"/><stop offset=".356" stop-color="#23c1af"/><stop offset=".444" stop-color="#2fc5a3"/><stop offset=".633" stop-color="#2ec4a4"/><stop offset=".656" stop-color="#28c3ab"/><stop offset=".667" stop-color="#1fc0b2"/><stop offset=".689" stop-color="#01bac6"/><stop offset=".7" stop-color="#08b5d0"/><stop offset=".711" stop-color="#17aeda"/><stop offset=".756" stop-color="#2b91ef"/><stop offset=".811" stop-color="#347afd"/><stop offset=".878" stop-color="#4562fc"/><stop offset="1" stop-color="#4740e4"/></linearGradient><linearGradient id="a15" gradientUnits="userSpaceOnUse" x1="131.4" x2="281.9"><stop offset="0" stop-color="#475af9"/><stop offset=".067" stop-color="#3a74ff"/><stop offset=".111" stop-color="#2e85f8"/><stop offset=".244" stop-color="#18addb"/><stop offset=".289" stop-color="#01b8ca"/><stop offset=".311" stop-color="#06bcbf"/><stop offset=".356" stop-color="#27c2ac"/><stop offset=".478" stop-color="#33c79d"/><stop offset=".644" stop-color="#2fc5a3"/><stop offset=".667" stop-color="#23c1af"/><stop offset=".689" stop-color="#02bbc3"/><stop offset=".7" stop-color="#04b6cd"/><stop offset=".711" stop-color="#14b0d8"/><stop offset=".744" stop-color="#269ae8"/><stop offset=".811" stop-color="#327cfc"/><stop offset=".878" stop-color="#4563fd"/><stop offset="1" stop-color="#4740e4"/></linearGradient><linearGradient id="a14" gradientUnits="userSpaceOnUse" x1="133.02" x2="283.52"><stop offset="0" stop-color="#465ffb"/><stop offset=".067" stop-color="#3579fd"/><stop offset=".233" stop-color="#18addb"/><stop offset=".289" stop-color="#00b9c6"/><stop offset=".311" stop-color="#0cbdbc"/><stop offset=".344" stop-color="#25c2ad"/><stop offset=".411" stop-color="#32c69f"/><stop offset=".544" stop-color="#37c897"/><stop offset=".644" stop-color="#32c69f"/><stop offset=".667" stop-color="#28c2ab"/><stop offset=".689" stop-color="#06bcbf"/><stop offset=".7" stop-color="#01b8ca"/><stop offset=".722" stop-color="#1aabdd"/><stop offset=".778" stop-color="#2d8cf3"/><stop offset=".822" stop-color="#347afd"/><stop offset=".878" stop-color="#4464fd"/><stop offset="1" stop-color="#4740e4"/></linearGradient><linearGradient id="a13" gradientUnits="userSpaceOnUse" x1="134.59" x2="285.09"><stop offset="0" stop-color="#4465fd"/><stop offset=".078" stop-color="#2f82fa"/><stop offset=".2" stop-color="#1da8e1"/><stop offset=".244" stop-color="#0eb3d4"/><stop offset=".278" stop-color="#00b9c7"/><stop offset=".3" stop-color="#0abdbd"/><stop offset=".344" stop-color="#29c3aa"/><stop offset=".467" stop-color="#3bc992"/><stop offset=".611" stop-color="#38c895"/><stop offset=".656" stop-color="#31c69f"/><stop offset=".678" stop-color="#21c1b1"/><stop offset=".7" stop-color="#00b9c6"/><stop offset=".733" stop-color="#1ea7e1"/><stop offset=".789" stop-color="#2d8bf4"/><stop offset=".833" stop-color="#3578fd"/><stop offset=".889" stop-color="#4563fc"/><stop offset="1" stop-color="#4741e5"/></linearGradient><linearGradient id="a12" gradientUnits="userSpaceOnUse" x1="136.1" x2="286.6"><stop offset="0" stop-color="#416bfe"/><stop offset=".078" stop-color="#2e86f8"/><stop offset=".2" stop-color="#1babde"/><stop offset=".267" stop-color="#00b9c7"/><stop offset=".289" stop-color="#09bdbe"/><stop offset=".333" stop-color="#28c2ab"/><stop offset=".456" stop-color="#40ca8d"/><stop offset=".556" stop-color="#43cb8a"/><stop offset=".644" stop-color="#39c895"/><stop offset=".678" stop-color="#27c2ac"/><stop offset=".7" stop-color="#03bbc2"/><stop offset=".711" stop-color="#03b6cd"/><stop offset=".733" stop-color="#1baade"/><stop offset=".8" stop-color="#2d8af5"/><stop offset=".844" stop-color="#3777fe"/><stop offset=".9" stop-color="#4661fc"/><stop offset="1" stop-color="#4741e5"/></linearGradient><linearGradient id="a11" gradientUnits="userSpaceOnUse" x1="137.54" x2="288.04"><stop offset="0" stop-color="#3c71ff"/><stop offset=".067" stop-color="#2e86f7"/><stop offset=".189" stop-color="#1babde"/><stop offset=".244" stop-color="#01b7ca"/><stop offset=".267" stop-color="#03bbc2"/><stop offset=".322" stop-color="#27c2ac"/><stop offset=".456" stop-color="#48cb86"/><stop offset=".533" stop-color="#4ecc81"/><stop offset=".644" stop-color="#3eca8f"/><stop offset=".678" stop-color="#2cc4a7"/><stop offset=".689" stop-color="#1fc0b2"/><stop offset=".7" stop-color="#0bbdbd"/><stop offset=".711" stop-color="#00b9c8"/><stop offset=".733" stop-color="#18addb"/><stop offset=".789" stop-color="#2b92ee"/><stop offset=".844" stop-color="#337afd"/><stop offset=".9" stop-color="#4563fd"/><stop offset="1" stop-color="#4741e5"/></linearGradient><linearGradient id="a10" gradientUnits="userSpaceOnUse" x1="138.78" x2="289.28"><stop offset="0" stop-color="#3777fe"/><stop offset=".067" stop-color="#2d8af5"/><stop offset=".189" stop-color="#19addc"/><stop offset=".233" stop-color="#01b7cb"/><stop offset=".267" stop-color="#09bdbe"/><stop offset=".311" stop-color="#27c2ac"/><stop offset=".467" stop-color="#55cc7c"/><stop offset=".533" stop-color="#5acc77"/><stop offset=".644" stop-color="#45cb88"/><stop offset=".689" stop-color="#27c2ac"/><stop offset=".711" stop-color="#03bbc1"/><stop offset=".722" stop-color="#02b7cc"/><stop offset=".744" stop-color="#1aacdd"/><stop offset=".822" stop-color="#2d89f6"/><stop offset=".856" stop-color="#347afd"/><stop offset=".911" stop-color="#4562fc"/><stop offset="1" stop-color="#4742e6"/></linearGradient><linearGradient id="a9" gradientUnits="userSpaceOnUse" x1="139.82" x2="290.32"><stop offset="0" stop-color="#327bfc"/><stop offset=".156" stop-color="#20a5e2"/><stop offset=".2" stop-color="#11b2d5"/><stop offset=".233" stop-color="#00b9c7"/><stop offset=".267" stop-color="#10beba"/><stop offset=".311" stop-color="#2bc3a8"/><stop offset=".422" stop-color="#4fcc80"/><stop offset=".5" stop-color="#67cd6c"/><stop offset=".6" stop-color="#5ccc76"/><stop offset=".644" stop-color="#4fcc80"/><stop offset=".689" stop-color="#2ec4a4"/><stop offset=".7" stop-color="#24c1af"/><stop offset=".722" stop-color="#01bac4"/><stop offset=".733" stop-color="#04b6ce"/><stop offset=".756" stop-color="#1aacdd"/><stop offset=".833" stop-color="#2d89f5"/><stop offset=".867" stop-color="#347afd"/><stop offset=".922" stop-color="#4660fc"/><stop offset="1" stop-color="#4744e8"/></linearGradient><linearGradient id="a8" gradientUnits="userSpaceOnUse" x1="140.75" x2="291.25"><stop offset="0" stop-color="#2f80fb"/><stop offset=".133" stop-color="#23a0e5"/><stop offset=".189" stop-color="#14b0d7"/><stop offset=".222" stop-color="#01b8c9"/><stop offset=".244" stop-color="#05bcc0"/><stop offset=".3" stop-color="#2ac3a9"/><stop offset=".4" stop-color="#4ecc81"/><stop offset=".489" stop-color="#74cd62"/><stop offset=".556" stop-color="#72cd63"/><stop offset=".644" stop-color="#5acc77"/><stop offset=".689" stop-color="#34c79b"/><stop offset=".711" stop-color="#21c1b0"/><stop offset=".733" stop-color="#01bac4"/><stop offset=".744" stop-color="#03b6cd"/><stop offset=".767" stop-color="#18aedb"/><stop offset=".844" stop-color="#2d8af4"/><stop offset=".878" stop-color="#347afd"/><stop offset=".922" stop-color="#4464fd"/><stop offset="1" stop-color="#4747eb"/></linearGradient><linearGradient id="a7" gradientUnits="userSpaceOnUse" x1="141.62" x2="292.12"><stop offset="0" stop-color="#2e83f9"/><stop offset=".133" stop-color="#22a2e4"/><stop offset=".189" stop-color="#11b2d5"/><stop offset=".211" stop-color="#02b7cc"/><stop offset=".233" stop-color="#03bbc2"/><stop offset=".289" stop-color="#29c3aa"/><stop offset=".378" stop-color="#4bcb84"/><stop offset=".478" stop-color="#80cc59"/><stop offset=".533" stop-color="#85cc56"/><stop offset=".633" stop-color="#6bcd69"/><stop offset=".667" stop-color="#54cc7c"/><stop offset=".7" stop-color="#34c79c"/><stop offset=".722" stop-color="#21c1b0"/><stop offset=".744" stop-color="#02bbc3"/><stop offset=".756" stop-color="#01b7cb"/><stop offset=".789" stop-color="#1aabdd"/><stop offset=".867" stop-color="#2e85f8"/><stop offset=".922" stop-color="#4269fe"/><stop offset="1" stop-color="#484aee"/></linearGradient><linearGradient id="a6" gradientUnits="userSpaceOnUse" x1="142.47" x2="292.97"><stop offset="0" stop-color="#2e87f7"/><stop offset=".144" stop-color="#1ea7e1"/><stop offset=".189" stop-color="#0db3d3"/><stop offset=".211" stop-color="#01b8c9"/><stop offset=".233" stop-color="#07bcbf"/><stop offset=".278" stop-color="#28c2ab"/><stop offset=".356" stop-color="#46cb87"/><stop offset=".478" stop-color="#8fcb4e"/><stop offset=".522" stop-color="#95ca49"/><stop offset=".611" stop-color="#81cc58"/><stop offset=".656" stop-color="#6bcd69"/><stop offset=".711" stop-color="#34c79b"/><stop offset=".733" stop-color="#24c1af"/><stop offset=".756" stop-color="#06bcc0"/><stop offset=".767" stop-color="#00b9c7"/><stop offset=".789" stop-color="#10b2d5"/><stop offset=".833" stop-color="#259de6"/><stop offset=".9" stop-color="#347afd"/><stop offset=".944" stop-color="#4564fd"/><stop offset="1" stop-color="#484df1"/></linearGradient><linearGradient id="a5" gradientUnits="userSpaceOnUse" x1="143.35" x2="293.85"><stop offset="0" stop-color="#2d8bf4"/><stop offset=".156" stop-color="#1babde"/><stop offset=".211" stop-color="#00b9c6"/><stop offset=".233" stop-color="#0dbdbb"/><stop offset=".267" stop-color="#27c2ac"/><stop offset=".344" stop-color="#47cb86"/><stop offset=".478" stop-color="#9fc941"/><stop offset=".522" stop-color="#a5c83d"/><stop offset=".611" stop-color="#91ca4d"/><stop offset=".656" stop-color="#7acc5d"/><stop offset=".722" stop-color="#35c799"/><stop offset=".756" stop-color="#1cc0b4"/><stop offset=".778" stop-color="#02bbc3"/><stop offset=".789" stop-color="#01b7cb"/><stop offset=".822" stop-color="#1caadf"/><stop offset=".889" stop-color="#2e86f7"/><stop offset=".944" stop-color="#4269fe"/><stop offset="1" stop-color="#4851f4"/></linearGradient><linearGradient id="a4" gradientUnits="userSpaceOnUse" x1="144.25" x2="294.75"><stop offset="0" stop-color="#2c8ff0"/><stop offset=".156" stop-color="#19addc"/><stop offset=".2" stop-color="#01b8c9"/><stop offset=".222" stop-color="#09bdbe"/><stop offset=".256" stop-color="#25c2ad"/><stop offset=".333" stop-color="#49cb85"/><stop offset=".467" stop-color="#a9c73a"/><stop offset=".511" stop-color="#b6c532"/><stop offset=".589" stop-color="#a8c73b"/><stop offset=".656" stop-color="#8acb52"/><stop offset=".722" stop-color="#40ca8d"/><stop offset=".767" stop-color="#22c1b0"/><stop offset=".789" stop-color="#05bcc0"/><stop offset=".8" stop-color="#00b8c8"/><stop offset=".833" stop-color="#1babde"/><stop offset=".9" stop-color="#2d87f7"/><stop offset=".933" stop-color="#3876fe"/><stop offset=".978" stop-color="#465ffb"/><stop offset="1" stop-color="#4756f7"/></linearGradient><linearGradient id="a3" gradientUnits="userSpaceOnUse" x1="145.15" x2="295.65"><stop offset="0" stop-color="#2a93ed"/><stop offset=".144" stop-color="#1babde"/><stop offset=".2" stop-color="#00b9c7"/><stop offset=".222" stop-color="#0fbebb"/><stop offset=".256" stop-color="#2ac3a9"/><stop offset=".311" stop-color="#42ca8b"/><stop offset=".433" stop-color="#a2c83f"/><stop offset=".489" stop-color="#c2c22c"/><stop offset=".544" stop-color="#c2c22c"/><stop offset=".633" stop-color="#a6c83c"/><stop offset=".667" stop-color="#90ca4d"/><stop offset=".744" stop-color="#3ac994"/><stop offset=".778" stop-color="#26c2ad"/><stop offset=".8" stop-color="#08bcbe"/><stop offset=".811" stop-color="#00b9c7"/><stop offset=".822" stop-color="#06b5cf"/><stop offset=".844" stop-color="#1aabdd"/><stop offset=".911" stop-color="#2d89f6"/><stop offset=".944" stop-color="#3777fe"/><stop offset=".989" stop-color="#4660fc"/><stop offset="1" stop-color="#475bf9"/></linearGradient><linearGradient id="a2" gradientUnits="userSpaceOnUse" x1="146.05" x2="296.55"><stop offset="0" stop-color="#2797ea"/><stop offset=".133" stop-color="#1baadf"/><stop offset=".167" stop-color="#0fb2d4"/><stop offset=".189" stop-color="#01b8ca"/><stop offset=".2" stop-color="#01bac4"/><stop offset=".244" stop-color="#28c2ab"/><stop offset=".3" stop-color="#42ca8b"/><stop offset=".411" stop-color="#9fc941"/><stop offset=".467" stop-color="#c7c129"/><stop offset=".511" stop-color="#d3bf27"/><stop offset=".589" stop-color="#c5c22a"/><stop offset=".656" stop-color="#a9c73a"/><stop offset=".7" stop-color="#7dcc5b"/><stop offset=".756" stop-color="#3dca90"/><stop offset=".789" stop-color="#29c3ab"/><stop offset=".822" stop-color="#01bac5"/><stop offset=".833" stop-color="#04b6ce"/><stop offset=".856" stop-color="#19acdc"/><stop offset=".922" stop-color="#2d8af4"/><stop offset=".956" stop-color="#3578fd"/><stop offset="1" stop-color="#4660fc"/></linearGradient><linearGradient id="a1" gradientUnits="userSpaceOnUse" x1="146.93" x2="297.43"><stop offset="0" stop-color="#259be8"/><stop offset=".133" stop-color="#1aacdd"/><stop offset=".167" stop-color="#0cb3d2"/><stop offset=".189" stop-color="#00b9c8"/><stop offset=".2" stop-color="#03bbc1"/><stop offset=".244" stop-color="#2cc3a7"/><stop offset=".289" stop-color="#41ca8c"/><stop offset=".389" stop-color="#9cc944"/><stop offset=".444" stop-color="#c8c129"/><stop offset=".489" stop-color="#ddbd29"/><stop offset=".556" stop-color="#dbbd28"/><stop offset=".633" stop-color="#c3c22b"/><stop offset=".678" stop-color="#a6c83c"/><stop offset=".756" stop-color="#4dcc82"/><stop offset=".789" stop-color="#32c69f"/><stop offset=".811" stop-color="#20c1b1"/><stop offset=".833" stop-color="#02bbc3"/><stop offset=".844" stop-color="#02b7cc"/><stop offset=".867" stop-color="#18aedb"/><stop offset=".944" stop-color="#2e86f7"/><stop offset=".989" stop-color="#416cfe"/><stop offset="1" stop-color="#4466fd"/></linearGradient><linearGradient id="a0" gradientUnits="userSpaceOnUse" x1="147.75" x2="298.25"><stop offset="0" stop-color="#249fe5"/><stop offset=".133" stop-color="#19addc"/><stop offset=".178" stop-color="#02b7cb"/><stop offset=".189" stop-color="#01bac5"/><stop offset=".2" stop-color="#06bcbf"/><stop offset=".233" stop-color="#29c3ab"/><stop offset=".278" stop-color="#3fca8e"/><stop offset=".367" stop-color="#98ca47"/><stop offset=".422" stop-color="#c6c22a"/><stop offset=".467" stop-color="#e2bc2b"/><stop offset=".511" stop-color="#ecba32"/><stop offset=".6" stop-color="#dcbd29"/><stop offset=".656" stop-color="#c6c22a"/><stop offset=".7" stop-color="#a1c840"/><stop offset=".778" stop-color="#46cb88"/><stop offset=".822" stop-color="#23c1af"/><stop offset=".844" stop-color="#04bbc1"/><stop offset=".856" stop-color="#01b8ca"/><stop offset=".889" stop-color="#1baade"/><stop offset=".978" stop-color="#337bfd"/><stop offset="1" stop-color="#416cfe"/></linearGradient></defs><g stroke-width=".6" stroke-linejoin="round"><path fill="url(#a82)" stroke="url(#a82)" d="M43 107l20.1-7.3l18.4-8.2l18.4-7.7l5-2.7l11.7-7.3l6.7-3.7l18.4-9.1l21.7-9.9l13.4-5.5l16.7-5.6l-1-.7l-20.1 6.5l-18.4 8l-33.4 18.1l-16.7 10.5l-6.7 3.5l-33.5 13.8l-21.7 8z"/><path fill="url(#a81)" stroke="url(#a81)" d="M44.2 106.2l8.4-2.7l11.7-4.5l18.4-9l18.4-7.6l5-2.6l13.4-7.9l15-7.2l25.1-9.8l16.7-7.4l18.4-6.6l-1.9-1.4l-20.1 6.6l-18.4 8l-33.4 17.5l-16.8 10.5l-6.6 3.4l-33.5 14l-21.7 8z"/><path fill="url(#a80)" stroke="url(#a80)" d="M45.8 105.4l10-3.3l11.7-4.5l15.1-8.2l21.7-9l15-8.2l13.4-6.2l8.4-3.1l21.7-6.5l16.7-7.9l16.8-6.1l-2.5-2.2l-20.1 7l-28.4 12.4l-25.1 12l-15 9.2l-5 2.6l-18.4 7.7l-18.4 8.4l-11.7 4.5l-8.4 2.8z"/><path fill="url(#a79)" stroke="url(#a79)" d="M47.4 104.7l8.3-2.6l11.7-4.2l5-2.5l8.4-4.9l5-2.6l20.1-8.1l15-7.4l13.4-5.8l8.4-2.9l16.7-3.7l5-1.3l5-2.3l11.7-6l16.8-6.2l-2.6-2.7l-16.7 5.9l-18.4 8.3l-18.4 6.3l-8.4 3.4l-13.3 6.2l-16.8 9.5l-20 8.3l-16.7 8.6l-11.8 4.6l-10 3.3z"/><path fill="url(#a78)" stroke="url(#a78)" d="M49 104.2l20-6.4l5-2.4l13.4-7.4l18.4-7.3l31.8-13.4l8.3-2.7l15.1-2.3l5-1.3l5-2.3l11.7-6.2l16.8-6.4l-2.6-3l-16.7 6.1l-16.7 8.1l-21.8 5.8l-8.3 3.1l-13.4 6l-15.1 7.9l-21.7 8.9l-11.7 6.6l-5 2.5l-11.7 4.4l-8.4 2.6z"/><path fill="url(#a77)" stroke="url(#a77)" d="M50.4 103.7l10.1-2.7l11.7-3.6l13.4-7.1l5-2.3l33.4-13.2l16.7-6.3l8.4-2.3l13.4-1.6l5-1.4l5-2.3l11.7-6.2l16.7-6.7l-2.3-3l-16.8 6.3l-11.7 6.1l-5 2.3l-5 1.3l-15 2.8l-8.4 2.7l-15.1 6.3l-15 7l-20.1 8l-5 2.6l-8.4 4.9l-5 2.5l-10 3.5l-10 3.1z"/><path fill="url(#a76)" stroke="url(#a76)" d="M51.8 103.3l10.1-2.1l11.7-3.2l15-7.5l5-2.1l30.1-11.6l16.7-5.7l10.1-2.8l13.4-1.6l5-1.3l5-2.3l11.7-6.3l16.7-6.9l-2.2-2.9l-16.7 6.4l-11.7 6.2l-5 2.3l-5.1 1.4l-13.3 1.7l-8.4 2.5l-51.8 20.7l-16.8 9l-10 3.3l-11.7 3.4z"/><path fill="url(#a75)" stroke="url(#a75)" d="M53.1 103l10-1.4l11.7-2.9l18.4-8.4l28.5-10.8l8.3-2.9l20.1-5.8l15-1.9l5-1.4l5.1-2.3l11.7-6.3l16.7-6.9l-2-3.2l-16.8 6.8l-11.7 6.3l-5 2.3l-5 1.3l-13.4 1.6l-10 2.9l-16.7 6l-31.8 12.5l-18.4 9.1l-11.7 3.5l-10 2.4z"/><path fill="url(#a74)" stroke="url(#a74)" d="M54.3 102.9l10-.8l10.1-2.2l5-1.8l16.7-7.2l26.8-10l6.7-2.2l21.7-5.7l13.4-1.7l5-1l5-2.1l13.4-7.3l16.7-6.7l-1.9-3.4l-16.8 6.9l-11.7 6.3l-5 2.3l-5 1.3l-13.4 1.6l-11.7 3.3l-15 4.9l-28.5 10.9l-6.7 2.7l-15 7.3l-11.7 3.1l-10 1.7z"/><path fill="url(#a73)" stroke="url(#a73)" d="M55.5 103.1l10-.4l5-.8l5-1.2l28.5-11l20-7.3l8.4-2.7l20.1-4.6l13.3-1.6l5.1-1l5-2.1l13.4-7.4l16.7-6.4l-1.9-3.7l-16.7 6.9l-13.4 7.2l-5 2l-5 1.1l-13.4 1.7l-21.7 6l-35.2 13l-18.3 8.2l-5.1 1.4l-6.7 1.4l-10 1.1z"/><path fill="url(#a72)" stroke="url(#a72)" d="M56.6 103.6l10-.3l5-.7l5.1-1.2l45.1-16.3l13.4-4.2l18.4-3.8l13.4-1.4l5-1.1l5-2.1l10-5.8l3.4-1.7l10-3.9l6.7-2.2l-1.8-3.7l-16.7 6.6l-13.4 7.3l-5 2.1l-5 1.1l-13.4 1.6l-20.1 5l-8.3 2.6l-23.4 8.6l-8.4 3.3l-11.7 5.1l-5 1.8l-10.1 2.1l-10 .5z"/><path fill="url(#a71)" stroke="url(#a71)" d="M57.7 104.4l10-.4l8.4-1.4l10-3.2l40.1-13.9l11.7-3.4l16.7-3l13.4-1.3l5-1.1l5.1-2.1l10-5.8l3.3-1.6l10.1-3.8l6.7-2.2l-1.7-3.6l-6.7 2.3l-10.1 3.9l-13.3 7.5l-5.1 2.1l-5 1.1l-13.4 1.4l-18.3 4l-8.4 2.5l-18.4 6.6l-31.8 12l-5 1.2l-5 .8l-10 .3z"/><path fill="url(#a70)" stroke="url(#a70)" d="M58.7 105.2l10-.4l8.4-1.4l21.7-6.5l28.4-9.6l11.7-3.3l16.8-2.9l11.7-1.1l6.6-1.3l5.1-2.1l10-5.7l3.3-1.5l10.1-3.8l6.7-2.1l-1.6-3.6l-6.7 2.2l-10.1 3.8l-3.3 1.6l-10 5.9l-5.1 2.1l-5 1.1l-13.4 1.4l-16.7 3.2l-13.4 4l-46.8 16.5l-8.3 1.7l-5.1 .5l-6.6 0z"/><path fill="url(#a69)" stroke="url(#a69)" d="M59.6 106.1l11.7-.8l10.1-2l18.4-4.9l16.7-5.7l23.4-6.8l16.7-2.8l13.4-1.4l5-1.1l5-2.1l13.4-6.9l10-3.7l6.7-2.1l-1.5-3.6l-6.7 2.1l-10 3.8l-3.4 1.6l-10 5.8l-5 2.1l-6.7 1.3l-11.7 1l-16.7 3l-11.7 3.4l-28.5 9.7l-21.7 6.9l-8.4 1.5l-10 .3z"/><path fill="url(#a68)" stroke="url(#a68)" d="M60.5 107.1l15.1-1.4l16.7-3.5l8.4-2.2l16.7-5.6l23.4-6.5l33.4-5.2l5.1-1.6l15-7.3l16.7-5.6l-1.4-3.7l-6.7 2.1l-10 3.7l-3.4 1.6l-10 5.6l-5 2l-6.7 1.3l-11.7 1.2l-16.8 2.8l-16.7 4.8l-23.4 7.9l-21.7 6.2l-8.4 1.4l-10 .5z"/><path fill="url(#a67)" stroke="url(#a67)" d="M61.4 108.1l15-1.5l16.7-3l8.4-2.1l16.7-5.4l21.8-5.9l35.1-5.8l5-1.7l15.1-6.8l16.7-5.3l-1.4-3.7l-16.7 5.7l-13.4 6.7l-3.3 1.5l-3.4 1l-5 .9l-11.7 1.3l-16.7 2.8l-23.4 6.7l-16.8 5.6l-10 2.7l-15 3.4l-6.7 .8l-8.4 .5z"/><path fill="url(#a66)" stroke="url(#a66)" d="M62.2 109.2l15-1.6l18.4-2.9l6.7-1.7l16.7-5.3l21.8-5.6l35.1-6.2l5-1.6l13.4-5.8l18.4-5.7l-1.3-3.6l-16.7 5.5l-15.1 7.1l-5 1.6l-5 1l-23.4 3.4l-6.7 1.3l-23.4 6.6l-16.7 5.4l-10.1 2.4l-15 2.8l-13.4 1.2z"/><path fill="url(#a65)" stroke="url(#a65)" d="M63 110.5l15.1-1.6l18.4-2.7l6.7-1.6l18.3-5.6l18.4-4.5l35.2-6.6l6.6-2l13.4-5.3l18.4-5.4l-1.3-3.8l-16.8 5.3l-15 6.6l-5 1.6l-35.1 6l-21.8 5.8l-16.7 5.3l-8.4 2.1l-16.7 2.9l-15 1.4z"/><path fill="url(#a64)" stroke="url(#a64)" d="M63.9 112.1l28.4-3.4l8.4-1.5l20.1-5.9l8.3-2.1l13.4-3l26.8-5.1l8.3-1.9l5-1.5l13.4-5.1l18.4-5l-1.4-3.9l-18.4 5.6l-13.4 5.6l-6.7 1.9l-35.1 6.5l-20.1 5.1l-16.7 5.2l-6.7 1.6l-18.4 2.9l-15 1.5z"/><path fill="url(#a63)" stroke="url(#a63)" d="M64.9 114.1l30.1-3.9l6.7-1.2l26.8-7.4l31.7-6.3l16.8-3.7l6.7-1.9l13.3-4.9l18.4-4.8l-1.6-4l-18.4 5.2l-13.4 5.3l-5 1.5l-8.3 1.9l-25.1 4.6l-11.7 2.6l-11.7 3l-20.1 6l-10 1.7l-26.8 3.2z"/><path fill="url(#a62)" stroke="url(#a62)" d="M66 116.3l20.1-3.1l11.7-1.3l5-1l25.1-6.8l31.7-6.2l16.8-3.8l8.3-2.4l15.1-5.2l16.7-4.1l-1.7-3.9l-18.4 5l-13.4 4.9l-5 1.5l-11.7 2.7l-23.4 4.5l-13.4 2.8l-28.4 7.9l-6.7 1.3l-30.1 3.7z"/><path fill="url(#a61)" stroke="url(#a61)" d="M67.1 118.5l20-3.5l11.7-1.2l5-.8l25.1-6.7l30.1-5.7l13.4-3.2l11.7-3.1l16.7-5.7l8.4-2.1l8.4-1.6l-1.7-3.9l-18.4 4.7l-13.4 4.8l-6.7 1.9l-16.7 3.8l-31.8 6.3l-26.8 7.3l-5 .9l-31.7 4.3z"/><path fill="url(#a60)" stroke="url(#a60)" d="M68.1 120.7l20.1-3.9l11.7-1l5-.7l25.1-6.4l30.1-5.8l23.4-6.2l20.1-6.6l6.7-1.5l8.3-1.4l-1.7-3.8l-16.7 4l-16.7 5.7l-8.4 2.2l-15 3.5l-31.8 6.2l-25.1 6.7l-5 .9l-11.7 1.4l-20.1 3.2z"/><path fill="url(#a59)" stroke="url(#a59)" d="M69.2 122.9l8.3-2l11.7-2.2l16.8-1.3l25-6.3l30.1-5.8l11.8-3.2l30.1-9.6l8.3-1.9l8.4-1.1l-1.7-3.7l-8.4 1.5l-6.7 1.6l-20 6.6l-21.8 5.6l-31.8 6.1l-26.7 6.9l-15.1 1.6l-20 3.7z"/><path fill="url(#a58)" stroke="url(#a58)" d="M70.2 125.2l20.1-4.5l16.7-1l26.8-6.5l28.4-5.5l6.7-1.8l15-5.3l20.1-6.2l6.7-1.5l10-1.3l-1.7-3.4l-8.3 1.2l-6.7 1.5l-20.1 6.5l-23.4 6.5l-30.1 5.7l-25.1 6.4l-16.7 1.5l-11.7 2.2l-8.4 1.9z"/><path fill="url(#a57)" stroke="url(#a57)" d="M71.3 127.7l20.1-4.9l5-.4l8.3 0l5.1-.7l25-6.1l28.5-5.6l6.7-1.8l15-6l15.1-4.5l10-2.7l11.7-1.7l-1.7-2.9l-10 1.3l-6.7 1.6l-33.5 10.7l-8.3 2.3l-28.5 5.4l-26.7 6.6l-16.7 1.2l-11.7 2.3l-8.4 2z"/><path fill="url(#a56)" stroke="url(#a56)" d="M72.3 130l20.1-5l5-.5l8.4-.1l5-.6l26.7-6.5l28.5-5.7l5-1.4l11.7-5.3l5-1.9l21.7-6l13.4-2.4l-1.6-2.2l-10 1.3l-6.7 1.5l-20.1 6.1l-15 5.6l-6.7 1.8l-28.5 5.6l-26.7 6.5l-16.7 .8l-20.1 4.7z"/><path fill="url(#a55)" stroke="url(#a55)" d="M73.3 132.4l20.1-5.2l5-.6l11.7-.8l33.4-7.8l23.5-4.7l5-1.5l11.7-5.6l3.3-1.3l23.4-6.4l13.4-2.8l-1.6-1.9l-13.4 2.3l-16.7 4.6l-8.4 2.6l-11.7 5.1l-6.7 2.1l-30.1 6l-25 6.1l-5.1 .6l-8.3 0l-5 .5l-20.1 4.9z"/><path fill="url(#a54)" stroke="url(#a54)" d="M74.4 134.9l20.1-5.4l18.4-2.5l33.4-7.9l21.8-4.3l5-1.5l15-6.9l21.8-6l15-3.6l-1.8-1.8l-13.3 2.5l-21.8 6l-5 1.8l-11.7 5.5l-5 1.5l-26.8 5.3l-28.4 6.8l-5 .6l-8.4 .2l-5 .6l-20.1 5.1z"/><path fill="url(#a53)" stroke="url(#a53)" d="M75.7 137.5l21.7-6.2l15.1-2.8l35.1-8.3l23.4-4.8l5-1.6l10.1-4.4l5-1.8l20.1-5.8l15-3.7l-2-2l-13.4 2.9l-23.4 6.4l-3.4 1.3l-11.7 5.6l-5 1.5l-23.4 4.7l-31.8 7.5l-3.3 .6l-10.1 .6l-5 .7l-20 5.3z"/><path fill="url(#a52)" stroke="url(#a52)" d="M77.3 140.1l18.4-6l23.4-6.1l31.8-7.3l21.7-4.4l18.4-6.3l15.1-4.8l21.7-5.7l-2.6-2.3l-15 3.5l-21.7 6.2l-13.4 6l-6.7 2.2l-21.7 4.4l-33.5 7.8l-16.7 2.4l-21.8 5.9z"/><path fill="url(#a51)" stroke="url(#a51)" d="M79 142.7l15.1-6.3l23.4-7.1l33.5-7.6l23.4-4.7l20-5.9l16.8-5.3l18.3-4.8l-2.8-2.4l-16.7 4.2l-18.4 5.4l-15 5.9l-5 1.7l-21.8 4.4l-36.8 8.6l-13.3 2.8l-23.5 6.8z"/><path fill="url(#a50)" stroke="url(#a50)" d="M80.9 145.2l8.3-4.8l6.7-3.2l6.7-2.4l13.4-4.1l10-2.6l21.7-4.7l28.5-5.6l20-5.4l16.8-5.1l18.4-5.1l-2.9-2.1l-20.1 5.2l-35.1 11.2l-25.1 5.1l-33.4 7.9l-20.1 5.7l-16.7 5.9z"/><path fill="url(#a49)" stroke="url(#a49)" d="M84.9 147.6l10-6.4l6.7-3.4l10-3.7l10.1-3.2l8.3-2.1l16.8-3.4l30.1-5.4l11.7-2.5l30.1-7.9l16.7-5.1l-6.5-4l-18.4 4.8l-36.8 11.4l-23.4 4.7l-33.4 7.8l-21.7 6.3l-16.8 6.3z"/><path fill="url(#a48)" stroke="url(#a48)" d="M87.1 147.5l10-6.4l6.7-3.5l11.7-4.7l10-3.2l8.4-2l25.1-4.8l6.7-1l13.3-1.2l10.1-1.9l11.7-2.7l20-5.3l16.8-5.3l-3.5-1.7l-23.4 6.9l-26.8 7l-8.3 1.9l-28.5 5.2l-18.4 3.8l-8.3 2.1l-13.4 4.3l-8.4 3.2l-6.7 3.6l-8.3 5.5z"/><path fill="url(#a47)" stroke="url(#a47)" d="M88.3 147.4l8.4-5.7l8.4-4.7l11.7-5l10-3.5l10-2.3l26.8-5l5-.5l13.4 0l10-1.7l10-2.2l20.1-5.3l16.7-5.3l-2-1l-16.7 5.2l-30.1 7.7l-10.1 2.1l-15 2l-10 1.7l-21.8 4.2l-8.3 2l-10.1 3.2l-11.7 4.5l-6.7 3.4l-10 6.4z"/><path fill="url(#a46)" stroke="url(#a46)" d="M89.3 147.3l8.4-5.9l8.4-5l13.3-6.1l8.4-2.9l8.4-2l16.7-3.4l13.4-2.3l5 0l11.7 1l11.7-1.7l8.4-1.7l20-5.3l16.7-5.3l-1.6-.8l-16.7 5.3l-20.1 5.3l-10 2.3l-10 1.9l-13.4 .6l-6.7 .8l-25.1 4.7l-10 2.3l-10 3.4l-11.7 4.8l-8.4 4.6l-8.4 5.6z"/><path fill="url(#a45)" stroke="url(#a45)" d="M90.3 147.3l8.4-6.2l8.3-5.2l13.4-6.4l8.4-3l25-5.6l13.4-2.4l5 .1l8.4 1.5l3.3 .3l6.7-.5l8.4-1.2l6.7-1.4l18.4-4.8l16.7-5.4l-1.5-.7l-16.8 5.3l-20 5.3l-8.4 1.8l-11.7 1.9l-11.7-.4l-5 .2l-26.8 4.9l-11.7 2.7l-8.3 2.8l-13.4 5.8l-8.4 4.9l-8.3 5.8z"/><path fill="url(#a44)" stroke="url(#a44)" d="M91.3 147.5l8.4-6.5l8.3-5.4l13.4-6.7l8.4-3l25.1-6.1l13.3-2.4l5 .2l11.8 2.4l8.3-.4l8.4-.9l10-2.2l13.4-3.4l16.7-5.5l-1.6-.8l-16.7 5.4l-18.4 4.8l-8.4 1.8l-13.4 1.8l-11.7-1.3l-5 0l-13.4 2.3l-16.7 3.4l-8.3 2.1l-8.4 2.9l-13.4 6.2l-8.3 5.1l-8.4 6z"/><path fill="url(#a43)" stroke="url(#a43)" d="M92.3 147.7l8.4-6.5l6.7-4.5l15-8l6.7-2.6l21.7-5.9l10.1-2.3l10-1.6l3.4 .3l10 2.5l3.3 .4l8.4-.1l6.7-.5l8.3-1.6l13.4-3.3l8.4-2.4l10-3.5l-1.6-.8l-16.7 5.5l-18.4 4.7l-6.7 1.3l-8.4 1.1l-6.7 .4l-11.7-2.1l-5-.2l-13.4 2.4l-25 5.8l-8.4 3l-13.4 6.5l-8.3 5.3l-8.4 6.4z"/><path fill="url(#a42)" stroke="url(#a42)" d="M93.4 148.2l8.3-6.5l6.7-4.6l15.1-8.1l8.3-3.3l21.8-6.3l10-2.4l8.4-1.4l5 .5l8.3 2.3l3.4 .5l10 .3l6.7-.4l10-1.9l10.1-2.3l8.3-2.5l10.1-3.4l-1.7-.9l-16.7 5.5l-13.4 3.4l-10.1 2.1l-6.6 .7l-8.4 .3l-3.3-.3l-10.1-2.3l-5-.2l-15 2.9l-23.5 5.8l-8.3 3.1l-13.4 6.8l-8.4 5.5l-8.3 6.4z"/><path fill="url(#a41)" stroke="url(#a41)" d="M94.5 148.9l8.4-6.4l6.6-4.6l15.1-8.2l6.7-3l6.7-2.3l16.7-5.2l18.4-4.3l5 .5l8.4 2.3l3.3 .6l11.7 .7l6.7-.3l10-1.7l8.4-1.9l10-2.9l8.4-3l-1.8-.9l-16.7 5.5l-11.7 2.9l-10.1 2l-6.6 .6l-10.1 0l-3.3-.5l-10.1-2.5l-3.3-.3l-10 1.7l-10.1 2.4l-21.7 6l-6.7 2.7l-15 8l-6.7 4.6l-8.4 6.5z"/><path fill="url(#a40)" stroke="url(#a40)" d="M95.6 149.6l8.3-6.3l6.7-4.5l10-5.8l8.4-4.3l8.4-3.5l10-3.7l16.7-4.7l8.4-2.2l3.3-.3l3.4 .4l11.7 2.8l11.7 1.3l6.7 0l10-1.5l8.4-1.7l10-2.9l8.4-2.9l-1.7-.9l-10.1 3.5l-8.3 2.4l-10.1 2.3l-10 1.8l-6.7 .2l-10-.4l-3.4-.6l-8.3-2.3l-5.1-.5l-6.6 1.2l-11.7 2.8l-21.8 6.6l-8.3 3.4l-15.1 8.2l-6.7 4.5l-8.3 6.5z"/><path fill="url(#a39)" stroke="url(#a39)" d="M96.6 150.3l8.3-6.1l8.4-5.5l10-5.9l8.4-4.4l10-4.3l8.4-3.2l23.4-6.8l3.3-.4l3.4 .3l10 2.3l11.7 2l5 .5l3.4 0l10-1.2l6.7-1.2l10-2.8l10.1-3.3l-1.7-.8l-8.3 2.9l-10 2.9l-8.4 1.8l-10 1.7l-6.7 .2l-11.7-1l-3.4-.7l-8.3-2.2l-3.4-.5l-3.3 .3l-15.1 3.8l-15 4.5l-10.1 3.7l-6.7 3.1l-15 8.3l-6.7 4.5l-8.4 6.4z"/><path fill="url(#a38)" stroke="url(#a38)" d="M97.5 150.9l16.7-11.4l11.7-7l8.4-4.5l16.7-7l23.4-7.2l3.4-.5l5 .3l13.4 2.5l10 2.4l5 .4l8.4-.8l8.3-1.4l11.8-3.2l8.3-2.7l-1.5-.8l-8.4 2.9l-10 2.9l-8.4 1.7l-10 1.3l-6.7-.1l-11.7-1.6l-13.4-3l-3.3 0l-3.4 .7l-21.7 6.1l-8.4 3.1l-10 4.2l-8.4 4.2l-10 5.8l-8.4 5.5l-8.3 6.2z"/><path fill="url(#a37)" stroke="url(#a37)" d="M98.4 151.6l16.7-11.2l13.4-8.3l6.7-3.7l16.7-7.2l13.4-4.5l10-3l5.1-.7l6.6 .5l10.1 1.6l10 3.1l5 .8l8.4-.7l8.4-1.4l11.7-3l8.3-2.5l-1.4-.9l-8.4 2.8l-11.7 3.2l-6.7 1.2l-10 1.2l-6.7-.5l-23.4-4.7l-3.4-.2l-3.3 .5l-23.4 7l-8.4 3.2l-10 4.4l-6.7 3.5l-11.7 7l-8.4 5.5l-8.3 6z"/><path fill="url(#a36)" stroke="url(#a36)" d="M99.3 152.3l26.8-17.5l10-6l16.7-7.3l13.4-4.7l10-3.1l3.4-.7l5-.3l11.7 .9l3.4 .9l10 4l1.7 .4l3.3 .1l8.4-.8l6.7-1.1l20-5l-1.4-1l-8.4 2.6l-11.7 3.1l-8.4 1.4l-8.3 .7l-5-.5l-10.1-2.7l-13.3-2.3l-5.1-.2l-3.3 .5l-23.4 7.4l-16.7 7.1l-8.4 4.5l-11.7 7.2l-16.7 11.3z"/><path fill="url(#a35)" stroke="url(#a35)" d="M100.2 153.3l28.5-19l8.3-5l8.4-3.9l8.3-3.5l15.1-5.5l8.3-2.6l3.4-.7l5-.6l11.7 .2l3.4 .9l10 4.8l1.7 .5l3.3 .2l13.4-1.6l21.7-4.6l-1.4-1.2l-8.4 2.4l-11.7 2.9l-6.7 1.1l-8.3 .8l-5.1-.4l-10-3.4l-3.3-.8l-13.4-1.4l-3.4 .1l-3.3 .6l-10 3.1l-13.4 4.6l-16.7 7.3l-6.7 3.7l-13.4 8.4l-16.7 11.2z"/><path fill="url(#a34)" stroke="url(#a34)" d="M101.2 154.6l30.1-20.7l6.7-4.1l8.4-3.9l8.3-3.5l15.1-5.7l8.4-2.6l8.3-1.6l11.7-.5l3.4 .9l10 5.4l1.7 .6l3.3 .4l11.7-1.4l23.4-4.2l-1.6-1.3l-20 4.7l-8.4 1.3l-6.7 .7l-3.3-.2l-1.7-.5l-10-4.2l-3.4-.9l-11.7-.7l-5 .4l-3.4 .7l-10 3.1l-13.4 4.8l-8.3 3.5l-8.4 3.9l-8.4 4.9l-28.4 18.7z"/><path fill="url(#a33)" stroke="url(#a33)" d="M102.4 156.4l30.1-21.7l6.7-4.2l6.7-3.3l10-4.2l15.1-5.8l8.3-2.8l10.1-2l10-.8l1.7 .3l3.3 1.4l8.4 5l1.6 .7l3.4 .4l6.7-.5l28.4-4.2l-1.9-1.5l-21.7 4.4l-13.4 1.6l-3.3-.3l-1.7-.6l-10-4.9l-3.4-1l-11.7 .1l-8.3 1.4l-8.4 2.6l-15.1 5.5l-8.3 3.5l-8.4 3.9l-6.7 4l-30.1 20.2z"/><path fill="url(#a32)" stroke="url(#a32)" d="M103.6 158.3l30.1-22.7l6.7-4.4l6.6-3.3l8.4-3.6l16.7-6.7l8.4-2.8l10-2.1l10.1-1.1l1.6 .2l3.4 1.5l8.3 5.1l1.7 .7l3.4 .5l6.6-.5l28.5-3.7l-1.9-1.3l-25.1 4.2l-10 1.1l-3.4-.4l-1.6-.7l-8.4-4.8l-3.3-1.4l-1.7-.4l-10 .6l-10.1 1.9l-8.3 2.7l-15.1 5.7l-8.4 3.5l-8.3 4l-6.7 4.1l-30.1 21.1z"/><path fill="url(#a31)" stroke="url(#a31)" d="M104.7 160.2l30.1-23.7l6.7-4.6l13.3-6.4l16.8-6.8l8.3-3l10.1-2.4l11.7-1.5l3.3 .8l10 5.9l3.4 1.1l6.7-.2l30.1-3.3l-1.8-1.1l-28.4 3.9l-6.7 .6l-3.4-.5l-1.6-.7l-8.4-5l-3.3-1.5l-1.7-.3l-10 1l-10.1 2.1l-8.3 2.8l-16.8 6.5l-8.3 3.6l-6.7 3.3l-6.7 4.3l-30.1 22.1z"/><path fill="url(#a30)" stroke="url(#a30)" d="M105.8 162.1l30.1-24.7l6.7-4.7l6.7-3.5l6.7-3.1l16.7-7l8.4-3l10-2.4l11.7-1.7l3.4 .8l10 5.8l3.4 1.1l6.6 0l13.4-1.5l16.7-1.5l-1.8-1l-28.4 3.4l-6.7 .5l-3.4-.5l-1.7-.7l-8.3-5.1l-3.4-1.4l-1.6-.3l-11.7 1.5l-10.1 2.3l-8.3 3l-16.8 6.8l-13.3 6.3l-6.7 4.5l-30.1 23z"/><path fill="url(#a29)" stroke="url(#a29)" d="M107.1 163.9l30.1-25.5l6.7-4.9l6.7-3.6l6.7-3.1l16.7-7.1l8.4-3.1l11.7-2.8l10-1.5l1.7 .2l3.3 1.3l6.7 4l3.4 1.7l3.3 .6l5-.2l13.4-1.3l16.7-1.2l-2-1.1l-30.1 3.2l-6.7 .1l-3.3-1.1l-10.1-5.8l-3.3-.8l-11.7 1.5l-10.1 2.4l-8.3 3l-16.7 6.9l-13.4 6.5l-6.7 4.6l-30.1 24z"/><path fill="url(#a28)" stroke="url(#a28)" d="M108.8 165.6l28.4-24.7l8.4-6.4l6.6-3.6l6.7-3.2l16.8-7.3l8.3-3.1l11.7-2.9l10.1-1.6l1.6 .1l3.4 1.3l6.7 4l3.3 1.6l3.4 .6l5 0l13.3-1.2l16.8-.9l-2.7-1.4l-16.7 1.4l-13.4 1.4l-6.7 .1l-3.3-1.2l-10-5.7l-3.4-.8l-11.7 1.7l-10 2.4l-8.4 3.1l-16.7 7l-6.7 3.1l-6.7 3.5l-6.7 4.8l-30.1 24.8z"/><path fill="url(#a27)" stroke="url(#a27)" d="M110.5 166.5l28.4-24.6l8.4-6.3l6.7-3.8l8.4-4.1l15-6.6l8.4-3.1l11.7-2.9l10-1.8l3.4 .7l3.3 1.6l6.7 4l1.7 .7l3.3 .6l6.7-.1l11.7-1l16.7-.6l-2.8-1.5l-16.7 1.1l-13.4 1.3l-5 .1l-3.3-.6l-3.4-1.7l-6.7-4l-3.3-1.3l-1.7-.1l-10 1.5l-11.7 2.8l-8.4 3.1l-16.7 7.2l-6.7 3.2l-6.7 3.6l-6.7 4.9l-30.1 25.8z"/><path fill="url(#a26)" stroke="url(#a26)" d="M112.3 166.9l28.5-24l8.3-6.3l8.4-4.8l8.3-4.1l13.4-5.8l8.4-3.1l11.7-2.9l10-1.9l3.4 .6l3.3 1.6l6.7 3.9l1.7 .8l3.3 .7l5-.1l13.4-1l16.7-.4l-2.9-1.5l-16.7 .8l-13.4 1.1l-5 .1l-3.3-.6l-3.4-1.7l-6.7-3.9l-3.3-1.3l-1.7-.1l-10 1.7l-11.7 2.9l-6.7 2.4l-16.7 7.2l-8.4 4l-6.7 3.7l-8.3 6.4l-28.5 24.7z"/><path fill="url(#a25)" stroke="url(#a25)" d="M114.2 167l30.1-24.4l8.3-6l8.4-4.8l8.4-4.2l11.7-4.9l8.3-3l11.7-3l10.1-2l3.3 .6l3.4 1.5l6.6 4l1.7 .7l3.4 .7l5 0l13.4-.9l16.7-.2l-3-1.6l-16.7 .5l-13.4 1.1l-5 .1l-3.4-.7l-1.6-.7l-6.7-4l-3.4-1.6l-3.3-.6l-10 1.8l-11.7 2.9l-8.4 3.1l-15.1 6.7l-8.3 4.1l-6.7 3.8l-8.4 6.3l-28.4 24.4z"/><path fill="url(#a24)" stroke="url(#a24)" d="M116 167.1l20.1-15.4l11.7-9.3l8.4-5.8l8.3-5l6.7-3.4l11.7-4.8l8.4-2.9l11.7-3l10-2.1l3.4 .5l3.3 1.6l6.7 3.9l1.7 .8l3.3 .7l5 .1l13.4-.8l16.7-.2l-2.9-1.5l-16.8 .3l-13.3 1l-5 0l-3.4-.7l-1.7-.7l-6.7-4l-3.3-1.6l-3.3-.6l-10.1 2l-11.7 3l-8.3 3l-13.4 5.8l-8.4 4.2l-8.3 4.8l-6.7 5l-30.1 25z"/><path fill="url(#a23)" stroke="url(#a23)" d="M117.9 167.3l20.1-14.6l15-11.8l11.7-7.6l5-2.8l5.1-2.4l10-4l8.3-2.8l13.4-3.4l8.4-1.8l1.7 .1l3.3 1.1l8.4 4.8l1.6 .7l3.4 .8l5 .1l13.4-.6l16.7-.1l-3-1.6l-16.7 .2l-13.4 .9l-5 0l-3.3-.7l-1.7-.8l-6.7-3.9l-3.3-1.6l-3.4-.5l-10 2l-11.7 3l-8.4 3l-11.7 4.9l-8.4 4.2l-8.3 4.9l-6.7 4.7l-31.8 25.4z"/><path fill="url(#a22)" stroke="url(#a22)" d="M119.8 167.5l20-14l15.1-11.7l13.3-8.8l8.4-4.4l10-3.7l8.4-2.8l13.4-3.5l8.3-1.8l1.7 0l3.4 1.1l8.3 4.8l1.7 .7l3.3 .9l6.7 .2l28.5-.5l-3-1.6l-16.7 .2l-11.7 .6l-6.7 0l-3.4-.8l-1.7-.7l-6.6-3.9l-3.4-1.6l-3.3-.5l-10.1 2.1l-11.7 3l-8.3 2.9l-11.7 4.7l-11.7 6.5l-10.1 6.6l-13.4 10.6l-20 15.1z"/><path fill="url(#a21)" stroke="url(#a21)" d="M121.6 167.6l20.1-13.6l16.7-12.6l13.4-8.8l5-2.7l3.3-1.4l16.8-5.6l20-5.2l3.4-.3l3.3 1.1l10.1 5.6l3.3 .8l6.7 .4l28.4-.3l-3-1.6l-16.7 .1l-13.4 .5l-5-.1l-3.3-.8l-1.7-.8l-8.4-4.8l-3.3-1.1l-1.7 0l-8.3 1.8l-13.4 3.5l-8.4 2.7l-10 3.9l-5 2.4l-5 2.9l-11.7 7.7l-15.1 11.7l-20.1 14.4z"/><path fill="url(#a20)" stroke="url(#a20)" d="M123.5 167.7l18.4-12.3l18.4-13.3l15-9.9l6.7-3.1l10-3.5l8.4-2.6l18.4-4.7l3.3-.2l3.4 1l10 5.6l3.4 .9l8.3 .6l26.8-.1l-3-1.7l-28.4 .4l-6.7-.3l-1.7-.3l-3.3-1.3l-8.4-4.8l-3.3-1l-1.7-.1l-21.8 5.4l-16.7 5.8l-3.3 1.4l-5 2.6l-13.4 8.7l-16.7 12.9l-20.1 13.8z"/><path fill="url(#a19)" stroke="url(#a19)" d="M125.3 167.8l51.9-35.1l3.3-1.8l5-1.9l10.1-3.4l8.3-2.4l16.7-4.3l3.4-.2l3.3 1l10.1 5.7l3.3 .9l10 .7l25.1 0l-2.9-1.6l-26.8 .2l-8.4-.4l-3.3-.9l-10-5.5l-3.4-1.1l-3.3 .2l-20.1 5.2l-16.7 5.7l-3.4 1.3l-5 2.7l-15 10l-18.4 13.7l-16.7 11.2z"/><path fill="url(#a18)" stroke="url(#a18)" d="M127.1 167.8l48.5-32.5l5-3.1l3.4-1.5l10-3.5l15.1-4.4l13.3-3.3l3.4-.2l3.3 1l10.1 5.6l3.3 1l5 .7l6.7 .3l23.4 .1l-2.9-1.5l-26.7 0l-8.4-.6l-3.3-.9l-10-5.6l-3.4-1.1l-3.3 .3l-18.4 4.7l-18.4 6l-6.7 3.1l-16.7 11.1l-15.1 10.8l-20.1 13.5z"/><path fill="url(#a17)" stroke="url(#a17)" d="M128.9 167.8l53.5-35.1l3.3-1.6l10.1-3.5l16.7-4.8l11.7-2.8l3.3-.2l1.7 .4l3.4 1.4l8.3 4.9l3.4 1l6.7 .9l6.6 .3l11.8 .3l10-.2l-2.8-1.4l-25.1 0l-10-.8l-3.4-1l-10-5.6l-3.4-1.1l-3.3 .3l-15.1 3.7l-8.3 2.4l-10 3.3l-6.7 2.5l-3.4 1.8l-51.8 34.9z"/><path fill="url(#a16)" stroke="url(#a16)" d="M130.6 167.7l53.5-34.5l3.3-1.6l10.1-3.6l16.7-4.8l11.7-2.8l3.3-.2l1.7 .4l3.4 1.5l8.3 4.8l5 1.4l6.7 .8l8.4 .5l10 .2l8.4-.2l-2.7-1.3l-10.1 .2l-13.3-.3l-11.8-1l-3.3-1l-8.4-4.8l-3.3-1.5l-1.7-.4l-3.3 .2l-13.4 3.3l-16.7 4.9l-8.4 3l-3.3 1.5l-5 3.1l-48.5 32.3z"/><path fill="url(#a15)" stroke="url(#a15)" d="M132.2 167.6l53.5-34l5.1-2.2l10-3.6l16.7-4.7l10-2.3l3.4-.2l1.7 .4l3.3 1.5l8.4 4.7l5 1.4l6.7 1l8.3 .6l10.1 .3l8.3-.1l-2.6-1.2l-10 .1l-11.7-.3l-6.7-.4l-6.7-.9l-3.4-1.1l-8.3-4.8l-3.4-1.4l-1.6-.4l-3.4 .2l-11.7 2.8l-16.7 4.8l-10 3.5l-3.4 1.6l-53.5 34.9z"/><path fill="url(#a14)" stroke="url(#a14)" d="M133.8 167.5l53.5-33.5l5-2.2l11.8-4.3l15-4.2l10-2.2l3.4-.2l1.7 .4l3.3 1.4l8.4 4.8l5 1.4l6.7 1l8.3 .7l10.1 .5l8.3 0l-2.5-1.2l-8.4 .2l-10-.3l-8.4-.5l-6.7-.9l-5-1.4l-8.4-4.8l-3.3-1.4l-1.7-.4l-3.3 .2l-10 2.3l-16.8 4.7l-10 3.5l-5 2.2l-53.5 34.4z"/><path fill="url(#a13)" stroke="url(#a13)" d="M135.4 167.4l46.8-29.1l6.7-3.9l5-2.3l11.7-4.5l6.7-2.1l8.3-2.1l10.1-2.1l3.3-.2l5 1.8l8.4 4.7l5 1.4l6.7 1.1l8.4 .9l10 .6l8.4 .2l-2.5-1.1l-8.4 .1l-10-.4l-8.4-.7l-6.6-.9l-5.1-1.5l-8.3-4.7l-3.4-1.5l-1.6-.4l-3.4 .2l-10 2.3l-16.7 4.7l-10.1 3.7l-5 2.2l-53.5 33.8z"/><path fill="url(#a12)" stroke="url(#a12)" d="M136.8 167.2l18.4-10.9l26.8-16.8l8.4-4.8l16.7-7l5-1.7l8.4-2.2l11.7-2.4l3.3-.1l5 1.8l8.4 4.5l5 1.5l6.7 1.2l8.4 1l10 .8l8.3 .3l-2.3-1l-8.4-.1l-10-.5l-8.4-.8l-6.7-1l-5-1.5l-8.4-4.7l-5-1.8l-3.3 .2l-10 2.2l-15.1 4.2l-11.7 4.3l-5 2.3l-53.5 33.3z"/><path fill="url(#a11)" stroke="url(#a11)" d="M138.2 167.1l16.7-9.6l20.1-12.8l16.7-9.7l16.8-7.3l5-1.8l8.3-2.1l11.7-2.3l3.4-.1l5 1.7l8.4 4.4l5 1.5l8.3 1.6l8.4 1.1l16.7 1.3l-2.2-.9l-8.3-.2l-10.1-.8l-8.3-.9l-6.7-1.1l-5-1.5l-8.4-4.6l-5-1.8l-3.4 .1l-10 2.1l-8.4 2.1l-6.6 2.2l-10.1 3.9l-6.7 3l-6.7 3.8l-28.4 17.8l-18.4 11.1z"/><path fill="url(#a10)" stroke="url(#a10)" d="M139.3 166.9l18.4-10.3l18.4-11.9l16.8-9.6l16.7-7.7l5-1.7l8.4-2.2l11.7-2.2l3.3-.1l5 1.6l8.4 4.2l6.7 1.9l15 2.8l16.7 1.6l-1.7-.5l-8.4-.4l-10-.9l-8.4-1.1l-6.7-1.3l-5-1.5l-8.4-4.5l-5-1.7l-3.3 .1l-11.7 2.3l-8.4 2.2l-5 1.7l-16.7 7.2l-16.8 9.7l-20 12.8l-16.7 9.7z"/><path fill="url(#a9)" stroke="url(#a9)" d="M140.3 166.8l18.4-10.1l18.4-11.9l16.7-9.7l11.7-5.7l6.7-2.9l5-1.7l6.7-1.6l11.7-2.1l3.4-.1l5 1.4l10 4.4l10 2.7l13.4 2.6l13.4 1.3l-1.5-.2l-16.8-1.4l-8.3-1.3l-8.4-1.6l-5-1.6l-8.4-4.3l-5-1.7l-3.3 .1l-11.7 2.3l-8.4 2.1l-5 1.8l-16.7 7.4l-16.7 9.7l-18.4 11.8l-18.4 10.5z"/><path fill="url(#a8)" stroke="url(#a8)" d="M141.2 166.6l10-5.1l10.1-5.7l16.7-11l16.7-9.7l16.7-8.4l5-1.9l6.7-1.7l11.7-2.1l5.1-.4l5 1.2l10 4.1l15.1 4.2l10 2l11.7 1.3l-1.4 0l-15.1-1.5l-15-2.8l-6.7-1.8l-10.1-4.7l-5-1.5l-3.3 .1l-11.7 2.2l-6.7 1.6l-5 1.7l-6.7 2.8l-11.7 5.6l-16.8 9.6l-18.4 11.9l-18.3 10.2z"/><path fill="url(#a7)" stroke="url(#a7)" d="M142 166.4l10.1-4.9l10-5.6l18.4-12.1l16.7-9.7l16.8-8.5l3.3-1.3l6.7-1.7l13.4-2.2l5 0l3.3 .9l10.1 3.6l18.4 5.5l10 1.9l8.3 1l-1.3 .2l-13.4-1.5l-11.7-2.4l-11.7-3.2l-10-4.2l-5.1-1.4l-3.3 .1l-11.7 2.1l-6.7 1.6l-5 1.7l-18.4 8.8l-16.7 9.7l-18.4 11.9l-18.4 10z"/><path fill="url(#a6)" stroke="url(#a6)" d="M142.9 166.3l10-4.8l10.1-5.5l16.7-11.2l6.7-4.1l23.4-13.2l6.7-3.1l8.3-2.3l13.4-2.2l5 .1l5 1.1l26.8 8.8l10 2.1l8.4 1.2l-1.4 .2l-10-1.2l-10-1.9l-16.8-4.8l-10-3.9l-3.3-.9l-5-.1l-13.4 2.3l-6.7 1.7l-5 2l-16.8 8.4l-16.7 9.8l-16.7 11l-10 5.7l-10.1 5z"/><path fill="url(#a5)" stroke="url(#a5)" d="M143.8 166l8.4-3.7l11.7-6.2l23.4-15.5l23.4-13.5l6.7-3.3l6.7-1.9l6.7-1.3l8.3-1.1l3.4-.2l3.3 .4l15.1 4.1l16.7 5.9l8.3 1.9l8.4 1.3l-1.4 .4l-8.4-1.1l-10-2l-20.1-6.2l-6.7-2.4l-5-1.3l-5-.1l-13.4 2.2l-6.7 1.7l-3.3 1.3l-16.8 8.6l-16.7 9.8l-18.4 12.1l-10 5.6l-10 4.9z"/><path fill="url(#a4)" stroke="url(#a4)" d="M144.7 165.8l8.4-3.6l11.7-6l25.1-16.7l23.4-13.8l5-2.4l6.7-2l6.7-1.2l8.3-1.1l3.4-.1l3.3 .3l5 1l10.1 2.7l16.7 6.1l8.3 2.1l8.4 1.6l-1.4 .4l-8.4-1.2l-8.4-1.8l-16.7-5.7l-15-4.4l-3.4-.4l-3.3 .2l-13.4 2l-8.4 2.4l-6.7 3.1l-23.4 13.4l-23.4 15.3l-10 5.5l-10 4.7z"/><path fill="url(#a3)" stroke="url(#a3)" d="M145.6 165.5l10-4.1l11.7-6l15.1-10.6l10-6.6l21.8-13.1l5-2.4l6.7-2l6.7-1.2l8.3-1l3.4-.1l5 .5l13.4 3.1l18.4 6.7l15 3.6l-1.4 .5l-8.4-1.4l-8.4-2l-16.7-6l-15-3.9l-3.4-.4l-3.3 .2l-8.4 1.1l-6.7 1.3l-6.7 1.9l-6.7 3.3l-23.4 13.7l-23.4 15.5l-11.7 6.2l-8.3 3.6z"/><path fill="url(#a2)" stroke="url(#a2)" d="M146.5 165.2l8.4-3.1l11.7-5.7l5-3.1l11.7-8.5l11.7-7.9l16.7-10.4l8.4-4.4l6.7-2l6.7-1.2l10-1l3.3 0l5.1 .6l11.7 2.7l16.7 6.1l16.7 4.6l-1.4 .7l-8.4-1.7l-8.4-2.2l-16.7-6.1l-13.4-3.4l-5-.5l-3.3 .1l-8.4 1.1l-6.7 1.2l-6.7 1.9l-5 2.5l-23.4 13.9l-8.4 5.4l-15 10.5l-11.7 6.1l-10 4.3z"/><path fill="url(#a1)" stroke="url(#a1)" d="M147.4 165l10-3.7l11.7-5.7l28.4-20.2l15.1-9.5l8.3-4.4l6.7-2l6.7-1.1l10-1.1l3.4 0l5 .6l13.4 2.9l15 5.5l16.8 5.2l-1.4 .7l-16.7-4.4l-16.7-6.1l-13.4-3.1l-5-.5l-3.4 .2l-8.3 1l-6.7 1.2l-6.7 1.9l-8.4 4.4l-18.4 11.3l-10 6.7l-11.7 8.5l-5 3.1l-11.7 5.7l-8.4 3.3z"/><path fill="url(#a0)" stroke="url(#a0)" d="M148.2 164.7l10-3.5l11.7-5.5l5-3.3l10-7.7l18.4-13.1l15.1-9.2l5-2.2l5-1.3l6.7-1.2l10-1l5.1 .1l5 .7l8.3 1.6l5.1 1.3l30.1 10.5l-1.3 .8l-16.7-4.8l-15.1-5.6l-13.4-3.1l-5-.6l-3.3 0l-10.1 1.1l-6.7 1.2l-6.6 1.9l-8.4 4.5l-15.1 9.3l-13.3 9.2l-11.7 8.6l-5.1 3.1l-11.7 5.5l-8.3 3.1z"/></g>
<path d="M42 159.3L42 42.3" stroke="#c8c8c8" stroke-width="1.8" fill="none"/>
<path d="M157.8 213.6L42 159M157.8 213.6L308.3 172.1M157.8 213.6L153.8 214.7M133.7 202.2L129.6 203.3M109.6 190.8L105.5 192M85.4 179.5L81.4 180.6M61.3 168.1L57.3 169.2M157.8 213.6L161.4 215.3M181.8 207L185.4 208.7M205.7 200.4L209.3 202.1M229.7 193.8L233.3 195.5M253.6 187.2L257.2 188.9M277.6 180.6L281.2 182.3M301.5 174L305.1 175.7M42 159L38.4 157.3M42 135.7L38.4 134M42 112.3L38.4 110.6M42 89L38.4 87.3M42 65.6L38.4 63.9M42 42.3L38.4 40.6" stroke="#262626" stroke-width="0.7" fill="none"/>
<g font-size="8.35" fill="#262626"><text x="150.2" y="223.7" text-anchor="end">0</text><text x="126.1" y="212.3" text-anchor="end">5</text><text x="102" y="200.9" text-anchor="end">10</text><text x="77.8" y="189.6" text-anchor="end">15</text><text x="53.7" y="178.2" text-anchor="end">20</text><text x="163.8" y="224.7">0</text><text x="187.8" y="218.1">0.5</text><text x="211.7" y="211.5">1</text><text x="235.7" y="204.9">1.5</text><text x="259.6" y="198.3">2</text><text x="283.6" y="191.7">2.5</text><text x="307.5" y="185.1">3</text><text x="35.2" y="159.6" text-anchor="end">0.04</text><text x="35.2" y="136.3" text-anchor="end">0.05</text><text x="35.2" y="112.9" text-anchor="end">0.06</text><text x="35.2" y="89.6" text-anchor="end">0.07</text><text x="35.2" y="66.2" text-anchor="end">0.08</text><text x="35.2" y="42.9" text-anchor="end">0.09</text></g>
<g fill="#262626"><text x="92.3" y="227.4" font-size="13.7">Z</text><text x="100.6" y="234" font-size="11">c</text><text x="221" y="230.6" font-size="13.2" font-family="Liberation Serif" font-style="italic" fill="#333">&#981;</text><text x="228" y="230.9" font-size="13.6">(rad)</text><text transform="translate(7.2 108.8) rotate(-90)"><tspan font-family="Liberation Serif" font-style="italic" font-size="13" fill="#333">&#956;</tspan><tspan font-size="10.6" dy="6.8" dx="0.3">cof</tspan></text></g>
<text x="165.4" y="260" font-family="Liberation Serif" font-size="12.3" text-anchor="middle" fill="#000">(a)</text>
<path d="M504.7 202.1L655.5 160.9M480.6 190.9L631.4 149.7M456.6 179.6L607.4 138.4M432.5 168.3L583.3 127.1M552.7 206.8L437.3 152.7M576.7 200.3L461.3 146.2M600.7 193.7L485.3 139.6M624.7 187.2L509.3 133.1M648.7 180.6L533.3 126.5M672.7 174.1L557.3 120M413.3 159.3L413.3 42.5M437.3 152.7L437.3 35.9M461.3 146.2L461.3 29.4M485.3 139.6L485.3 22.8M509.3 133.1L509.3 16.3M533.3 126.5L533.3 9.7M557.3 120L557.3 3.2M413.3 159.3L564.1 118.1M413.3 130.1L564.1 88.9M413.3 100.9L564.1 59.7M413.3 71.7L564.1 30.5M413.3 42.5L564.1 1.3M679.5 172.2L679.5 55.4M655.5 160.9L655.5 44.1M631.4 149.7L631.4 32.9M607.4 138.4L607.4 21.6M583.3 127.1L583.3 10.3M679.5 172.2L564.1 118.1M679.5 143L564.1 88.9M679.5 113.8L564.1 59.7M679.5 84.6L564.1 30.5M679.5 55.4L564.1 1.3" stroke="#e2e2e2" stroke-width="0.6" fill="none"/>
<defs><linearGradient id="b69" gradientUnits="userSpaceOnUse" x1="414.17" x2="564.97"><stop offset="0" stop-color="#f9fa15"/><stop offset=".111" stop-color="#f7dd2a"/><stop offset=".2" stop-color="#febf3c"/><stop offset=".222" stop-color="#f7ba3c"/><stop offset=".267" stop-color="#d7be28"/><stop offset=".289" stop-color="#bfc32d"/><stop offset=".344" stop-color="#74cd62"/><stop offset=".389" stop-color="#42ca8b"/><stop offset=".433" stop-color="#30c5a2"/><stop offset=".611" stop-color="#08bcbe"/><stop offset="1" stop-color="#07bcbf"/></linearGradient><linearGradient id="b68" gradientUnits="userSpaceOnUse" x1="416.05" x2="566.85"><stop offset="0" stop-color="#f8f719"/><stop offset=".122" stop-color="#f8d92b"/><stop offset=".211" stop-color="#febd3d"/><stop offset=".233" stop-color="#f5ba3b"/><stop offset=".278" stop-color="#d4bf27"/><stop offset=".3" stop-color="#bcc42f"/><stop offset=".378" stop-color="#5acc77"/><stop offset=".411" stop-color="#3eca8f"/><stop offset=".489" stop-color="#2dc4a6"/><stop offset=".656" stop-color="#0fbeba"/><stop offset="1" stop-color="#10beba"/></linearGradient><linearGradient id="b67" gradientUnits="userSpaceOnUse" x1="418.14" x2="568.94"><stop offset="0" stop-color="#f6f020"/><stop offset=".133" stop-color="#fad52e"/><stop offset=".222" stop-color="#fdbc3e"/><stop offset=".244" stop-color="#f3ba39"/><stop offset=".278" stop-color="#dcbd29"/><stop offset=".3" stop-color="#c6c22a"/><stop offset=".344" stop-color="#91ca4c"/><stop offset=".389" stop-color="#5dcd75"/><stop offset=".433" stop-color="#3eca8f"/><stop offset=".578" stop-color="#25c2ad"/><stop offset=".733" stop-color="#18bfb6"/><stop offset="1" stop-color="#17bfb6"/></linearGradient><linearGradient id="b66" gradientUnits="userSpaceOnUse" x1="420.39" x2="571.19"><stop offset="0" stop-color="#f5e725"/><stop offset=".156" stop-color="#fdcd31"/><stop offset=".233" stop-color="#fbbb3e"/><stop offset=".289" stop-color="#d9be28"/><stop offset=".311" stop-color="#c4c22b"/><stop offset=".378" stop-color="#77cc5f"/><stop offset=".422" stop-color="#51cc7f"/><stop offset=".478" stop-color="#3bc992"/><stop offset=".622" stop-color="#27c2ac"/><stop offset=".911" stop-color="#1cc0b4"/><stop offset="1" stop-color="#1cc0b4"/></linearGradient><linearGradient id="b65" gradientUnits="userSpaceOnUse" x1="422.45" x2="573.25"><stop offset="0" stop-color="#f8d92b"/><stop offset=".156" stop-color="#fec934"/><stop offset=".233" stop-color="#fcbc3e"/><stop offset=".267" stop-color="#eeba34"/><stop offset=".3" stop-color="#d6be28"/><stop offset=".333" stop-color="#b6c532"/><stop offset=".411" stop-color="#64cd6f"/><stop offset=".467" stop-color="#47cb87"/><stop offset=".567" stop-color="#31c6a0"/><stop offset=".744" stop-color="#22c1b0"/><stop offset="1" stop-color="#1ec0b2"/></linearGradient><linearGradient id="b64" gradientUnits="userSpaceOnUse" x1="424.09" x2="574.89"><stop offset="0" stop-color="#fecb33"/><stop offset=".244" stop-color="#fabb3e"/><stop offset=".3" stop-color="#ddbd29"/><stop offset=".333" stop-color="#c0c32d"/><stop offset=".422" stop-color="#65cd6e"/><stop offset=".511" stop-color="#3eca8f"/><stop offset=".656" stop-color="#2ac3a9"/><stop offset=".889" stop-color="#1fc0b2"/><stop offset="1" stop-color="#1fc0b2"/></linearGradient><linearGradient id="b63" gradientUnits="userSpaceOnUse" x1="425.6" x2="576.4"><stop offset="0" stop-color="#febd3d"/><stop offset=".244" stop-color="#fabb3e"/><stop offset=".3" stop-color="#e2bc2b"/><stop offset=".333" stop-color="#c7c129"/><stop offset=".422" stop-color="#6ecd67"/><stop offset=".511" stop-color="#43cb8a"/><stop offset=".622" stop-color="#2fc5a3"/><stop offset=".833" stop-color="#1fc0b2"/><stop offset="1" stop-color="#1fc0b2"/></linearGradient><linearGradient id="b62" gradientUnits="userSpaceOnUse" x1="427.21" x2="578.01"><stop offset="0" stop-color="#edba33"/><stop offset=".144" stop-color="#f9ba3e"/><stop offset=".256" stop-color="#f5ba3b"/><stop offset=".311" stop-color="#dbbd28"/><stop offset=".344" stop-color="#c0c32d"/><stop offset=".433" stop-color="#6fcd66"/><stop offset=".544" stop-color="#3eca8f"/><stop offset=".678" stop-color="#2bc3a8"/><stop offset=".856" stop-color="#1fc0b2"/><stop offset="1" stop-color="#1fc0b2"/></linearGradient><linearGradient id="b61" gradientUnits="userSpaceOnUse" x1="428.96" x2="579.76"><stop offset="0" stop-color="#d9be28"/><stop offset=".089" stop-color="#efba35"/><stop offset=".244" stop-color="#f3ba39"/><stop offset=".3" stop-color="#dfbc2a"/><stop offset=".333" stop-color="#c9c128"/><stop offset=".4" stop-color="#91ca4c"/><stop offset=".456" stop-color="#6bcd69"/><stop offset=".567" stop-color="#3bc992"/><stop offset=".7" stop-color="#29c3aa"/><stop offset=".878" stop-color="#1dc0b3"/><stop offset="1" stop-color="#1cc0b3"/></linearGradient><linearGradient id="b60" gradientUnits="userSpaceOnUse" x1="430.75" x2="581.55"><stop offset="0" stop-color="#c4c22b"/><stop offset=".067" stop-color="#e0bc2a"/><stop offset=".178" stop-color="#eeba34"/><stop offset=".256" stop-color="#ebba31"/><stop offset=".322" stop-color="#cec027"/><stop offset=".378" stop-color="#a6c83c"/><stop offset=".456" stop-color="#71cd64"/><stop offset=".567" stop-color="#3eca8f"/><stop offset=".689" stop-color="#2bc3a8"/><stop offset=".944" stop-color="#17bfb6"/><stop offset="1" stop-color="#16bfb7"/></linearGradient><linearGradient id="b59" gradientUnits="userSpaceOnUse" x1="432.53" x2="583.33"><stop offset="0" stop-color="#adc638"/><stop offset=".056" stop-color="#ccc028"/><stop offset=".144" stop-color="#e3bc2b"/><stop offset=".244" stop-color="#e6bb2d"/><stop offset=".311" stop-color="#cfc027"/><stop offset=".378" stop-color="#a5c83d"/><stop offset=".478" stop-color="#68cd6c"/><stop offset=".578" stop-color="#3cc991"/><stop offset=".7" stop-color="#2ac3a9"/><stop offset="1" stop-color="#0cbdbc"/></linearGradient><linearGradient id="b58" gradientUnits="userSpaceOnUse" x1="434.27" x2="585.07"><stop offset="0" stop-color="#96ca48"/><stop offset=".067" stop-color="#bfc32d"/><stop offset=".156" stop-color="#d8be28"/><stop offset=".244" stop-color="#dcbd29"/><stop offset=".311" stop-color="#c7c129"/><stop offset=".389" stop-color="#98ca47"/><stop offset=".511" stop-color="#56cc7b"/><stop offset=".589" stop-color="#38c895"/><stop offset=".722" stop-color="#26c2ad"/><stop offset="1" stop-color="#04bbc1"/></linearGradient><linearGradient id="b57" gradientUnits="userSpaceOnUse" x1="435.99" x2="586.79"><stop offset="0" stop-color="#7ecc5b"/><stop offset=".078" stop-color="#b0c636"/><stop offset=".167" stop-color="#cac128"/><stop offset=".244" stop-color="#cdc027"/><stop offset=".322" stop-color="#b4c533"/><stop offset=".489" stop-color="#5ccc75"/><stop offset=".578" stop-color="#38c896"/><stop offset=".7" stop-color="#24c1ae"/><stop offset=".933" stop-color="#02bac3"/><stop offset="1" stop-color="#00b9c8"/></linearGradient><linearGradient id="b56" gradientUnits="userSpaceOnUse" x1="437.74" x2="588.54"><stop offset="0" stop-color="#66cd6d"/><stop offset=".078" stop-color="#98ca47"/><stop offset=".156" stop-color="#b4c534"/><stop offset=".244" stop-color="#b9c430"/><stop offset=".322" stop-color="#a3c83e"/><stop offset=".522" stop-color="#45cb88"/><stop offset=".622" stop-color="#2cc4a7"/><stop offset=".833" stop-color="#03bbc2"/><stop offset=".978" stop-color="#05b5cf"/><stop offset="1" stop-color="#08b5d0"/></linearGradient><linearGradient id="b55" gradientUnits="userSpaceOnUse" x1="439.53" x2="590.33"><stop offset="0" stop-color="#52cc7e"/><stop offset=".1" stop-color="#88cb53"/><stop offset=".189" stop-color="#a0c941"/><stop offset=".267" stop-color="#9dc943"/><stop offset=".367" stop-color="#7ccc5c"/><stop offset=".544" stop-color="#37c897"/><stop offset=".678" stop-color="#13beb8"/><stop offset=".767" stop-color="#02bac3"/><stop offset=".878" stop-color="#06b5cf"/><stop offset="1" stop-color="#17aeda"/></linearGradient><linearGradient id="b54" gradientUnits="userSpaceOnUse" x1="441.33" x2="592.13"><stop offset="0" stop-color="#3fca8e"/><stop offset=".133" stop-color="#78cc5f"/><stop offset=".222" stop-color="#86cb55"/><stop offset=".311" stop-color="#7acc5e"/><stop offset=".522" stop-color="#38c896"/><stop offset=".622" stop-color="#1bc0b4"/><stop offset=".689" stop-color="#04bbc1"/><stop offset=".789" stop-color="#04b6cd"/><stop offset=".956" stop-color="#1caadf"/><stop offset="1" stop-color="#1fa6e2"/></linearGradient><linearGradient id="b53" gradientUnits="userSpaceOnUse" x1="443.1" x2="593.9"><stop offset="0" stop-color="#33c79c"/><stop offset=".156" stop-color="#62cd71"/><stop offset=".244" stop-color="#68cd6b"/><stop offset=".389" stop-color="#4fcc80"/><stop offset=".544" stop-color="#2cc4a6"/><stop offset=".656" stop-color="#01bac4"/><stop offset=".744" stop-color="#08b4d1"/><stop offset=".911" stop-color="#1ea7e1"/><stop offset="1" stop-color="#249ee6"/></linearGradient><linearGradient id="b52" gradientUnits="userSpaceOnUse" x1="444.77" x2="595.57"><stop offset="0" stop-color="#2ac3a9"/><stop offset=".167" stop-color="#49cb85"/><stop offset=".267" stop-color="#4ccb83"/><stop offset=".5" stop-color="#2dc4a6"/><stop offset=".567" stop-color="#15bfb8"/><stop offset=".611" stop-color="#02bac3"/><stop offset=".667" stop-color="#06b5cf"/><stop offset=".789" stop-color="#1babde"/><stop offset="1" stop-color="#2796eb"/></linearGradient><linearGradient id="b51" gradientUnits="userSpaceOnUse" x1="446.3" x2="597.1"><stop offset="0" stop-color="#17bfb6"/><stop offset=".078" stop-color="#2dc4a5"/><stop offset=".222" stop-color="#38c896"/><stop offset=".422" stop-color="#2bc3a8"/><stop offset=".5" stop-color="#1ac0b5"/><stop offset=".567" stop-color="#01bac4"/><stop offset=".622" stop-color="#08b4d0"/><stop offset=".711" stop-color="#1babde"/><stop offset="1" stop-color="#2b91ef"/></linearGradient><linearGradient id="b50" gradientUnits="userSpaceOnUse" x1="447.73" x2="598.53"><stop offset="0" stop-color="#01bac4"/><stop offset=".122" stop-color="#25c2ad"/><stop offset=".267" stop-color="#2bc3a8"/><stop offset=".4" stop-color="#1abfb5"/><stop offset=".522" stop-color="#00b9c7"/><stop offset=".589" stop-color="#0eb2d4"/><stop offset=".7" stop-color="#1fa5e2"/><stop offset=".989" stop-color="#2d8cf3"/><stop offset="1" stop-color="#2d8cf3"/></linearGradient><linearGradient id="b49" gradientUnits="userSpaceOnUse" x1="449.05" x2="599.85"><stop offset="0" stop-color="#08b5d0"/><stop offset=".056" stop-color="#01bac5"/><stop offset=".2" stop-color="#19bfb5"/><stop offset=".311" stop-color="#12beb9"/><stop offset=".433" stop-color="#00b9c7"/><stop offset=".511" stop-color="#09b4d1"/><stop offset=".622" stop-color="#1da8e0"/><stop offset=".878" stop-color="#2d8bf3"/><stop offset="1" stop-color="#2d87f7"/></linearGradient><linearGradient id="b48" gradientUnits="userSpaceOnUse" x1="450.32" x2="601.12"><stop offset="0" stop-color="#18addb"/><stop offset=".111" stop-color="#01b8ca"/><stop offset=".256" stop-color="#02bbc3"/><stop offset=".389" stop-color="#05b6ce"/><stop offset=".6" stop-color="#21a3e3"/><stop offset=".833" stop-color="#2e87f7"/><stop offset="1" stop-color="#2e83f9"/></linearGradient><linearGradient id="b47" gradientUnits="userSpaceOnUse" x1="451.59" x2="602.39"><stop offset="0" stop-color="#20a5e3"/><stop offset=".189" stop-color="#06b5cf"/><stop offset=".311" stop-color="#0cb3d3"/><stop offset=".567" stop-color="#249fe5"/><stop offset=".833" stop-color="#2f7ffb"/><stop offset="1" stop-color="#307ffb"/></linearGradient><linearGradient id="b46" gradientUnits="userSpaceOnUse" x1="452.86" x2="603.66"><stop offset="0" stop-color="#259be7"/><stop offset=".189" stop-color="#18aedb"/><stop offset=".411" stop-color="#21a3e3"/><stop offset=".833" stop-color="#3678fd"/><stop offset="1" stop-color="#337afd"/></linearGradient><linearGradient id="b45" gradientUnits="userSpaceOnUse" x1="454.11" x2="604.91"><stop offset="0" stop-color="#2b92ef"/><stop offset=".189" stop-color="#20a5e2"/><stop offset=".389" stop-color="#259be8"/><stop offset=".733" stop-color="#3579fd"/><stop offset=".867" stop-color="#3d71ff"/><stop offset="1" stop-color="#3876fe"/></linearGradient><linearGradient id="b44" gradientUnits="userSpaceOnUse" x1="455.32" x2="606.12"><stop offset="0" stop-color="#2e87f7"/><stop offset=".178" stop-color="#269ae8"/><stop offset=".356" stop-color="#2a93ed"/><stop offset=".667" stop-color="#3678fe"/><stop offset=".844" stop-color="#426afe"/><stop offset="1" stop-color="#3c72ff"/></linearGradient><linearGradient id="b43" gradientUnits="userSpaceOnUse" x1="456.54" x2="607.34"><stop offset="0" stop-color="#327cfc"/><stop offset=".178" stop-color="#2c8ff0"/><stop offset=".344" stop-color="#2d89f6"/><stop offset=".622" stop-color="#3d70ff"/><stop offset=".856" stop-color="#4563fd"/><stop offset="1" stop-color="#406dfe"/></linearGradient><linearGradient id="b42" gradientUnits="userSpaceOnUse" x1="457.73" x2="608.53"><stop offset="0" stop-color="#3e70ff"/><stop offset=".122" stop-color="#2f81fa"/><stop offset=".289" stop-color="#2f82f9"/><stop offset=".567" stop-color="#4368fe"/><stop offset=".878" stop-color="#465efb"/><stop offset="1" stop-color="#4269fe"/></linearGradient><linearGradient id="b41" gradientUnits="userSpaceOnUse" x1="458.87" x2="609.67"><stop offset="0" stop-color="#4564fd"/><stop offset=".178" stop-color="#3479fd"/><stop offset=".311" stop-color="#3a73ff"/><stop offset=".489" stop-color="#4660fc"/><stop offset=".789" stop-color="#4758f8"/><stop offset=".989" stop-color="#4564fd"/><stop offset="1" stop-color="#4465fd"/></linearGradient><linearGradient id="b40" gradientUnits="userSpaceOnUse" x1="459.95" x2="610.75"><stop offset="0" stop-color="#4758f8"/><stop offset=".167" stop-color="#3f6fff"/><stop offset=".289" stop-color="#416bfe"/><stop offset=".467" stop-color="#4855f6"/><stop offset=".733" stop-color="#4850f3"/><stop offset="1" stop-color="#4661fc"/></linearGradient><linearGradient id="b39" gradientUnits="userSpaceOnUse" x1="461.06" x2="611.86"><stop offset="0" stop-color="#484df0"/><stop offset=".156" stop-color="#4464fd"/><stop offset=".278" stop-color="#4562fc"/><stop offset=".456" stop-color="#4849ed"/><stop offset=".722" stop-color="#4747eb"/><stop offset="1" stop-color="#475cfa"/></linearGradient><linearGradient id="b38" gradientUnits="userSpaceOnUse" x1="462.46" x2="613.26"><stop offset="0" stop-color="#4742e6"/><stop offset=".122" stop-color="#4757f7"/><stop offset=".256" stop-color="#475af9"/><stop offset=".444" stop-color="#463cdf"/><stop offset=".7" stop-color="#463cdf"/><stop offset=".844" stop-color="#4850f2"/><stop offset="1" stop-color="#4756f6"/></linearGradient><linearGradient id="b37" gradientUnits="userSpaceOnUse" x1="464.16" x2="614.96"><stop offset="0" stop-color="#463bdc"/><stop offset=".122" stop-color="#484cef"/><stop offset=".267" stop-color="#484df0"/><stop offset=".433" stop-color="#4434ce"/><stop offset=".689" stop-color="#4434d0"/><stop offset=".811" stop-color="#484aee"/><stop offset="1" stop-color="#484ef1"/></linearGradient><linearGradient id="b36" gradientUnits="userSpaceOnUse" x1="466.4" x2="617.2"><stop offset="0" stop-color="#4536d4"/><stop offset=".133" stop-color="#4740e4"/><stop offset=".278" stop-color="#463ee1"/><stop offset=".433" stop-color="#412dbd"/><stop offset=".689" stop-color="#4230c3"/><stop offset=".789" stop-color="#4743e7"/><stop offset="1" stop-color="#4847ec"/></linearGradient><linearGradient id="b35" gradientUnits="userSpaceOnUse" x1="469.81" x2="620.61"><stop offset="0" stop-color="#4432cb"/><stop offset=".111" stop-color="#463bdc"/><stop offset=".256" stop-color="#463bdd"/><stop offset=".356" stop-color="#422ebe"/><stop offset=".433" stop-color="#3e27aa"/><stop offset=".678" stop-color="#3f29b2"/><stop offset=".744" stop-color="#4434d0"/><stop offset=".8" stop-color="#4741e5"/><stop offset="1" stop-color="#4744e8"/></linearGradient><linearGradient id="b34" gradientUnits="userSpaceOnUse" x1="472.51" x2="623.31"><stop offset="0" stop-color="#4433cc"/><stop offset=".1" stop-color="#473fe3"/><stop offset=".256" stop-color="#4743e7"/><stop offset=".356" stop-color="#4434cf"/><stop offset=".433" stop-color="#412dbc"/><stop offset=".689" stop-color="#422fc1"/><stop offset=".789" stop-color="#4742e6"/><stop offset="1" stop-color="#4746eb"/></linearGradient><linearGradient id="b33" gradientUnits="userSpaceOnUse" x1="473.62" x2="624.42"><stop offset="0" stop-color="#4433cd"/><stop offset=".1" stop-color="#4741e6"/><stop offset=".256" stop-color="#4848ec"/><stop offset=".456" stop-color="#4537d5"/><stop offset=".689" stop-color="#4536d5"/><stop offset=".811" stop-color="#4849ed"/><stop offset="1" stop-color="#4849ed"/></linearGradient><linearGradient id="b32" gradientUnits="userSpaceOnUse" x1="474.44" x2="625.24"><stop offset="0" stop-color="#4434cf"/><stop offset=".111" stop-color="#4744e9"/><stop offset=".267" stop-color="#484cf0"/><stop offset=".644" stop-color="#473fe3"/><stop offset=".867" stop-color="#484ef1"/><stop offset="1" stop-color="#484bee"/></linearGradient><linearGradient id="b31" gradientUnits="userSpaceOnUse" x1="475.16" x2="625.96"><stop offset="0" stop-color="#4435d0"/><stop offset=".111" stop-color="#4746ea"/><stop offset=".289" stop-color="#4851f4"/><stop offset=".722" stop-color="#484cf0"/><stop offset=".911" stop-color="#4851f3"/><stop offset="1" stop-color="#484cf0"/></linearGradient><linearGradient id="b30" gradientUnits="userSpaceOnUse" x1="475.84" x2="626.64"><stop offset="0" stop-color="#4535d2"/><stop offset=".111" stop-color="#4848ec"/><stop offset=".322" stop-color="#4759f9"/><stop offset=".544" stop-color="#4759f8"/><stop offset=".789" stop-color="#4756f7"/><stop offset="1" stop-color="#484ef1"/></linearGradient><linearGradient id="b29" gradientUnits="userSpaceOnUse" x1="476.56" x2="627.36"><stop offset="0" stop-color="#4536d3"/><stop offset=".111" stop-color="#484aee"/><stop offset=".344" stop-color="#4465fd"/><stop offset=".511" stop-color="#4367fd"/><stop offset="1" stop-color="#4850f2"/></linearGradient><linearGradient id="b28" gradientUnits="userSpaceOnUse" x1="477.3" x2="628.1"><stop offset="0" stop-color="#4537d5"/><stop offset=".1" stop-color="#484cef"/><stop offset=".278" stop-color="#4367fd"/><stop offset=".444" stop-color="#3677fe"/><stop offset=".844" stop-color="#465efb"/><stop offset="1" stop-color="#4852f4"/></linearGradient><linearGradient id="b27" gradientUnits="userSpaceOnUse" x1="478.07" x2="628.87"><stop offset="0" stop-color="#4538d8"/><stop offset=".1" stop-color="#4850f3"/><stop offset=".267" stop-color="#3e70ff"/><stop offset=".389" stop-color="#2f82fa"/><stop offset=".544" stop-color="#2f80fb"/><stop offset=".833" stop-color="#4563fc"/><stop offset="1" stop-color="#4854f5"/></linearGradient><linearGradient id="b26" gradientUnits="userSpaceOnUse" x1="478.89" x2="629.69"><stop offset="0" stop-color="#463adb"/><stop offset=".089" stop-color="#4854f5"/><stop offset=".222" stop-color="#3b73ff"/><stop offset=".322" stop-color="#2e85f8"/><stop offset=".467" stop-color="#2c90f0"/><stop offset=".711" stop-color="#347afd"/><stop offset=".878" stop-color="#4563fc"/><stop offset="1" stop-color="#4756f7"/></linearGradient><linearGradient id="b25" gradientUnits="userSpaceOnUse" x1="479.73" x2="630.53"><stop offset="0" stop-color="#463de0"/><stop offset=".089" stop-color="#475bfa"/><stop offset=".189" stop-color="#3678fe"/><stop offset=".289" stop-color="#2d8bf4"/><stop offset=".444" stop-color="#259be8"/><stop offset=".667" stop-color="#2d89f5"/><stop offset=".778" stop-color="#3678fe"/><stop offset=".922" stop-color="#4562fc"/><stop offset="1" stop-color="#4759f8"/></linearGradient><linearGradient id="b24" gradientUnits="userSpaceOnUse" x1="480.58" x2="631.38"><stop offset="0" stop-color="#4742e6"/><stop offset=".078" stop-color="#4660fb"/><stop offset=".167" stop-color="#317dfc"/><stop offset=".378" stop-color="#22a2e4"/><stop offset=".522" stop-color="#22a2e4"/><stop offset=".756" stop-color="#2e84f8"/><stop offset=".911" stop-color="#4368fe"/><stop offset="1" stop-color="#475cfa"/></linearGradient><linearGradient id="b23" gradientUnits="userSpaceOnUse" x1="481.42" x2="632.22"><stop offset="0" stop-color="#4747eb"/><stop offset=".078" stop-color="#4367fd"/><stop offset=".156" stop-color="#2e84f9"/><stop offset=".356" stop-color="#1caadf"/><stop offset=".489" stop-color="#17aeda"/><stop offset=".722" stop-color="#2a93ed"/><stop offset=".856" stop-color="#3678fd"/><stop offset=".989" stop-color="#4561fc"/><stop offset="1" stop-color="#4660fb"/></linearGradient><linearGradient id="b22" gradientUnits="userSpaceOnUse" x1="482.27" x2="633.07"><stop offset="0" stop-color="#484df0"/><stop offset=".078" stop-color="#3e6fff"/><stop offset=".122" stop-color="#2f81fa"/><stop offset=".267" stop-color="#20a5e3"/><stop offset=".422" stop-color="#03b6cd"/><stop offset=".522" stop-color="#08b4d1"/><stop offset=".667" stop-color="#1fa5e2"/><stop offset=".889" stop-color="#3678fe"/><stop offset="1" stop-color="#4563fd"/></linearGradient><linearGradient id="b21" gradientUnits="userSpaceOnUse" x1="483.17" x2="633.97"><stop offset="0" stop-color="#4853f5"/><stop offset=".056" stop-color="#406dfe"/><stop offset=".1" stop-color="#2f81fa"/><stop offset=".222" stop-color="#20a4e3"/><stop offset=".3" stop-color="#0fb2d5"/><stop offset=".356" stop-color="#00b9c8"/><stop offset=".456" stop-color="#09bdbd"/><stop offset=".567" stop-color="#01b8ca"/><stop offset=".711" stop-color="#1fa6e2"/><stop offset=".856" stop-color="#2e85f8"/><stop offset=".989" stop-color="#4269fe"/><stop offset="1" stop-color="#4367fd"/></linearGradient><linearGradient id="b20" gradientUnits="userSpaceOnUse" x1="484.2" x2="635"><stop offset="0" stop-color="#475bf9"/><stop offset=".044" stop-color="#3d71ff"/><stop offset=".089" stop-color="#2e85f8"/><stop offset=".211" stop-color="#1caadf"/><stop offset=".3" stop-color="#00b8c8"/><stop offset=".344" stop-color="#0bbdbc"/><stop offset=".411" stop-color="#22c1b0"/><stop offset=".489" stop-color="#21c1b0"/><stop offset=".611" stop-color="#00b9c6"/><stop offset=".667" stop-color="#0ab4d2"/><stop offset=".767" stop-color="#23a0e5"/><stop offset=".944" stop-color="#3777fe"/><stop offset="1" stop-color="#426afe"/></linearGradient><linearGradient id="b19" gradientUnits="userSpaceOnUse" x1="485.44" x2="636.24"><stop offset="0" stop-color="#4464fd"/><stop offset=".056" stop-color="#2f81fa"/><stop offset=".178" stop-color="#1aacdd"/><stop offset=".256" stop-color="#00b9c7"/><stop offset=".289" stop-color="#0abdbd"/><stop offset=".356" stop-color="#29c3ab"/><stop offset=".444" stop-color="#32c69e"/><stop offset=".556" stop-color="#27c2ac"/><stop offset=".656" stop-color="#01bac4"/><stop offset=".7" stop-color="#06b5cf"/><stop offset=".756" stop-color="#1caadf"/><stop offset=".9" stop-color="#2e87f7"/><stop offset=".967" stop-color="#3875fe"/><stop offset="1" stop-color="#406dfe"/></linearGradient><linearGradient id="b18" gradientUnits="userSpaceOnUse" x1="486.82" x2="637.62"><stop offset="0" stop-color="#3c71ff"/><stop offset=".033" stop-color="#2e83f9"/><stop offset=".144" stop-color="#18aedb"/><stop offset=".2" stop-color="#00b8c8"/><stop offset=".233" stop-color="#08bcbe"/><stop offset=".3" stop-color="#29c3aa"/><stop offset=".422" stop-color="#3eca8e"/><stop offset=".511" stop-color="#39c995"/><stop offset=".622" stop-color="#20c1b1"/><stop offset=".689" stop-color="#02bbc3"/><stop offset=".722" stop-color="#03b6cd"/><stop offset=".778" stop-color="#1babde"/><stop offset=".922" stop-color="#2e85f8"/><stop offset="1" stop-color="#406cfe"/></linearGradient><linearGradient id="b17" gradientUnits="userSpaceOnUse" x1="488.12" x2="638.92"><stop offset="0" stop-color="#307ffb"/><stop offset=".1" stop-color="#1caadf"/><stop offset=".156" stop-color="#01b8c9"/><stop offset=".189" stop-color="#0bbdbd"/><stop offset=".244" stop-color="#27c2ac"/><stop offset=".4" stop-color="#4dcc82"/><stop offset=".467" stop-color="#51cc7f"/><stop offset=".578" stop-color="#35c79a"/><stop offset=".667" stop-color="#1bc0b4"/><stop offset=".722" stop-color="#01bac5"/><stop offset=".756" stop-color="#08b4d1"/><stop offset=".8" stop-color="#1babde"/><stop offset=".967" stop-color="#3678fd"/><stop offset="1" stop-color="#416bfe"/></linearGradient><linearGradient id="b16" gradientUnits="userSpaceOnUse" x1="489.33" x2="640.13"><stop offset="0" stop-color="#2d8cf3"/><stop offset=".089" stop-color="#16afd9"/><stop offset=".122" stop-color="#01b7cb"/><stop offset=".144" stop-color="#04bbc1"/><stop offset=".2" stop-color="#27c2ac"/><stop offset=".333" stop-color="#4ccb83"/><stop offset=".422" stop-color="#62cd71"/><stop offset=".489" stop-color="#5ecd74"/><stop offset=".633" stop-color="#2fc5a3"/><stop offset=".7" stop-color="#16bfb7"/><stop offset=".744" stop-color="#00b9c6"/><stop offset=".778" stop-color="#0ab4d2"/><stop offset=".833" stop-color="#1ea7e1"/><stop offset=".967" stop-color="#3678fd"/><stop offset="1" stop-color="#4368fe"/></linearGradient><linearGradient id="b15" gradientUnits="userSpaceOnUse" x1="490.68" x2="641.48"><stop offset="0" stop-color="#2798ea"/><stop offset=".067" stop-color="#14b0d8"/><stop offset=".1" stop-color="#01b8c9"/><stop offset=".122" stop-color="#06bcbf"/><stop offset=".167" stop-color="#26c2ad"/><stop offset=".3" stop-color="#4ecc81"/><stop offset=".411" stop-color="#70cd65"/><stop offset=".478" stop-color="#6fcd66"/><stop offset=".567" stop-color="#4fcc81"/><stop offset=".644" stop-color="#32c69e"/><stop offset=".711" stop-color="#1cc0b3"/><stop offset=".756" stop-color="#02bbc3"/><stop offset=".789" stop-color="#06b5cf"/><stop offset=".833" stop-color="#1babde"/><stop offset=".956" stop-color="#317dfc"/><stop offset="1" stop-color="#4465fd"/></linearGradient><linearGradient id="b14" gradientUnits="userSpaceOnUse" x1="492.53" x2="643.33"><stop offset="0" stop-color="#21a3e4"/><stop offset=".044" stop-color="#13b1d7"/><stop offset=".078" stop-color="#01b8c9"/><stop offset=".1" stop-color="#06bcc0"/><stop offset=".144" stop-color="#25c2ae"/><stop offset=".278" stop-color="#4fcc80"/><stop offset=".4" stop-color="#78cc5f"/><stop offset=".467" stop-color="#7bcc5d"/><stop offset=".556" stop-color="#5dcd74"/><stop offset=".644" stop-color="#37c897"/><stop offset=".722" stop-color="#20c1b1"/><stop offset=".767" stop-color="#03bbc2"/><stop offset=".8" stop-color="#05b5cf"/><stop offset=".844" stop-color="#1babde"/><stop offset=".944" stop-color="#2f81fa"/><stop offset=".989" stop-color="#4466fd"/><stop offset="1" stop-color="#465ffb"/></linearGradient><linearGradient id="b13" gradientUnits="userSpaceOnUse" x1="494.62" x2="645.42"><stop offset="0" stop-color="#1caadf"/><stop offset=".067" stop-color="#00b8c8"/><stop offset=".1" stop-color="#0dbdbc"/><stop offset=".156" stop-color="#2bc3a8"/><stop offset=".278" stop-color="#4dcc82"/><stop offset=".4" stop-color="#75cc61"/><stop offset=".467" stop-color="#79cc5f"/><stop offset=".556" stop-color="#5dcd75"/><stop offset=".644" stop-color="#38c896"/><stop offset=".722" stop-color="#21c1b0"/><stop offset=".778" stop-color="#01bac5"/><stop offset=".8" stop-color="#05b6ce"/><stop offset=".844" stop-color="#1caadf"/><stop offset=".933" stop-color="#2f81fa"/><stop offset=".967" stop-color="#426bfe"/><stop offset="1" stop-color="#4854f5"/></linearGradient><linearGradient id="b12" gradientUnits="userSpaceOnUse" x1="496.63" x2="647.43"><stop offset="0" stop-color="#16afd9"/><stop offset=".056" stop-color="#00b8c8"/><stop offset=".089" stop-color="#09bdbe"/><stop offset=".156" stop-color="#29c3aa"/><stop offset=".278" stop-color="#46cb88"/><stop offset=".4" stop-color="#6dcd67"/><stop offset=".467" stop-color="#71cd64"/><stop offset=".556" stop-color="#58cc79"/><stop offset=".656" stop-color="#34c79c"/><stop offset=".722" stop-color="#20c1b1"/><stop offset=".767" stop-color="#02bbc3"/><stop offset=".789" stop-color="#02b7cc"/><stop offset=".833" stop-color="#1aabdd"/><stop offset=".922" stop-color="#2f81fa"/><stop offset=".956" stop-color="#4368fe"/><stop offset="1" stop-color="#4747eb"/></linearGradient><linearGradient id="b11" gradientUnits="userSpaceOnUse" x1="499.28" x2="650.08"><stop offset="0" stop-color="#0bb3d2"/><stop offset=".044" stop-color="#00b9c8"/><stop offset=".089" stop-color="#09bdbd"/><stop offset=".178" stop-color="#2ac3a9"/><stop offset=".3" stop-color="#43ca8b"/><stop offset=".411" stop-color="#64cd6f"/><stop offset=".489" stop-color="#63cd70"/><stop offset=".667" stop-color="#30c5a2"/><stop offset=".722" stop-color="#1cc0b4"/><stop offset=".767" stop-color="#00b9c6"/><stop offset=".789" stop-color="#06b5cf"/><stop offset=".822" stop-color="#1aacdd"/><stop offset=".9" stop-color="#2d88f6"/><stop offset=".922" stop-color="#3579fd"/><stop offset=".956" stop-color="#465efb"/><stop offset=".989" stop-color="#4743e8"/><stop offset="1" stop-color="#463adc"/></linearGradient><linearGradient id="b10" gradientUnits="userSpaceOnUse" x1="502.16" x2="652.96"><stop offset="0" stop-color="#09b4d1"/><stop offset=".067" stop-color="#00bac6"/><stop offset=".133" stop-color="#11beba"/><stop offset=".244" stop-color="#2ec4a4"/><stop offset=".356" stop-color="#48cb86"/><stop offset=".433" stop-color="#59cc78"/><stop offset=".522" stop-color="#4fcc80"/><stop offset=".7" stop-color="#22c1b0"/><stop offset=".756" stop-color="#01bac5"/><stop offset=".778" stop-color="#06b5cf"/><stop offset=".811" stop-color="#19acdc"/><stop offset=".9" stop-color="#2e84f9"/><stop offset=".933" stop-color="#416cfe"/><stop offset=".967" stop-color="#4852f4"/><stop offset="1" stop-color="#4538d8"/></linearGradient><linearGradient id="b9" gradientUnits="userSpaceOnUse" x1="504.41" x2="655.21"><stop offset="0" stop-color="#16afda"/><stop offset=".111" stop-color="#00b8c9"/><stop offset=".178" stop-color="#0abdbd"/><stop offset=".3" stop-color="#30c5a2"/><stop offset=".422" stop-color="#4ccb83"/><stop offset=".5" stop-color="#49cb85"/><stop offset=".689" stop-color="#21c1b1"/><stop offset=".744" stop-color="#01bac5"/><stop offset=".767" stop-color="#05b6ce"/><stop offset=".811" stop-color="#1caadf"/><stop offset=".9" stop-color="#2f81fa"/><stop offset=".933" stop-color="#4269fe"/><stop offset=".978" stop-color="#4848ed"/><stop offset="1" stop-color="#4538d7"/></linearGradient><linearGradient id="b8" gradientUnits="userSpaceOnUse" x1="506.18" x2="656.98"><stop offset="0" stop-color="#1ea7e1"/><stop offset=".122" stop-color="#0db3d3"/><stop offset=".189" stop-color="#00b8c8"/><stop offset=".244" stop-color="#0abdbd"/><stop offset=".322" stop-color="#2dc4a6"/><stop offset=".422" stop-color="#42ca8b"/><stop offset=".522" stop-color="#3dc990"/><stop offset=".667" stop-color="#23c1af"/><stop offset=".733" stop-color="#01bac4"/><stop offset=".756" stop-color="#04b6cd"/><stop offset=".8" stop-color="#1babde"/><stop offset=".889" stop-color="#2e85f8"/><stop offset=".933" stop-color="#4367fd"/><stop offset=".978" stop-color="#4847ec"/><stop offset="1" stop-color="#4537d6"/></linearGradient><linearGradient id="b7" gradientUnits="userSpaceOnUse" x1="507.79" x2="658.59"><stop offset="0" stop-color="#249ee6"/><stop offset=".178" stop-color="#11b1d6"/><stop offset=".256" stop-color="#00b9c6"/><stop offset=".289" stop-color="#0dbdbb"/><stop offset=".344" stop-color="#2bc3a8"/><stop offset=".433" stop-color="#3cc991"/><stop offset=".544" stop-color="#35c79a"/><stop offset=".656" stop-color="#21c1b1"/><stop offset=".722" stop-color="#01bac4"/><stop offset=".756" stop-color="#08b4d1"/><stop offset=".8" stop-color="#1da8e0"/><stop offset=".889" stop-color="#2e83f9"/><stop offset=".933" stop-color="#4466fd"/><stop offset=".978" stop-color="#4848ec"/><stop offset="1" stop-color="#4538d8"/></linearGradient><linearGradient id="b6" gradientUnits="userSpaceOnUse" x1="509.46" x2="660.26"><stop offset="0" stop-color="#2895ec"/><stop offset=".211" stop-color="#17aeda"/><stop offset=".289" stop-color="#00b9c6"/><stop offset=".322" stop-color="#12beb9"/><stop offset=".367" stop-color="#2bc3a8"/><stop offset=".444" stop-color="#37c897"/><stop offset=".578" stop-color="#2dc4a5"/><stop offset=".667" stop-color="#15bfb7"/><stop offset=".711" stop-color="#02bac4"/><stop offset=".744" stop-color="#07b5d0"/><stop offset=".789" stop-color="#1caadf"/><stop offset=".889" stop-color="#2f81fa"/><stop offset=".933" stop-color="#4466fd"/><stop offset=".978" stop-color="#484aee"/><stop offset="1" stop-color="#463bdd"/></linearGradient><linearGradient id="b5" gradientUnits="userSpaceOnUse" x1="511.1" x2="661.9"><stop offset="0" stop-color="#2d8df2"/><stop offset=".244" stop-color="#1aacdd"/><stop offset=".311" stop-color="#00b9c6"/><stop offset=".333" stop-color="#0abdbd"/><stop offset=".378" stop-color="#28c2ab"/><stop offset=".444" stop-color="#33c69d"/><stop offset=".589" stop-color="#27c2ac"/><stop offset=".711" stop-color="#00b9c7"/><stop offset=".744" stop-color="#0db3d3"/><stop offset=".8" stop-color="#21a3e3"/><stop offset=".9" stop-color="#337bfc"/><stop offset=".944" stop-color="#4562fc"/><stop offset="1" stop-color="#4741e5"/></linearGradient><linearGradient id="b4" gradientUnits="userSpaceOnUse" x1="512.71" x2="663.51"><stop offset="0" stop-color="#2e85f8"/><stop offset=".211" stop-color="#249fe5"/><stop offset=".289" stop-color="#14b0d8"/><stop offset=".322" stop-color="#01b8ca"/><stop offset=".344" stop-color="#05bcc0"/><stop offset=".389" stop-color="#25c2ae"/><stop offset=".444" stop-color="#2fc5a3"/><stop offset=".578" stop-color="#23c1af"/><stop offset=".7" stop-color="#00b9c7"/><stop offset=".733" stop-color="#0bb3d2"/><stop offset=".789" stop-color="#20a4e3"/><stop offset=".9" stop-color="#337bfc"/><stop offset=".956" stop-color="#465ffb"/><stop offset="1" stop-color="#4849ed"/></linearGradient><linearGradient id="b3" gradientUnits="userSpaceOnUse" x1="514.3" x2="665.1"><stop offset="0" stop-color="#327bfc"/><stop offset=".189" stop-color="#2993ed"/><stop offset=".289" stop-color="#1baade"/><stop offset=".344" stop-color="#00b9c7"/><stop offset=".367" stop-color="#0abdbd"/><stop offset=".4" stop-color="#22c1b0"/><stop offset=".456" stop-color="#2bc3a8"/><stop offset=".567" stop-color="#1fc0b2"/><stop offset=".678" stop-color="#01bac5"/><stop offset=".711" stop-color="#05b6ce"/><stop offset=".767" stop-color="#1da9e0"/><stop offset=".9" stop-color="#327cfc"/><stop offset=".956" stop-color="#4564fd"/><stop offset="1" stop-color="#4851f4"/></linearGradient><linearGradient id="b2" gradientUnits="userSpaceOnUse" x1="515.75" x2="666.55"><stop offset="0" stop-color="#3c72ff"/><stop offset=".189" stop-color="#2d8bf3"/><stop offset=".3" stop-color="#1da8e0"/><stop offset=".333" stop-color="#0cb3d3"/><stop offset=".356" stop-color="#00b8c8"/><stop offset=".378" stop-color="#08bdbe"/><stop offset=".411" stop-color="#1fc0b2"/><stop offset=".456" stop-color="#26c2ad"/><stop offset=".567" stop-color="#18bfb6"/><stop offset=".656" stop-color="#01bac4"/><stop offset=".7" stop-color="#05b6ce"/><stop offset=".756" stop-color="#1ca9df"/><stop offset=".878" stop-color="#2e84f8"/><stop offset=".956" stop-color="#426afe"/><stop offset="1" stop-color="#475bfa"/></linearGradient><linearGradient id="b1" gradientUnits="userSpaceOnUse" x1="517.1" x2="667.9"><stop offset="0" stop-color="#4369fe"/><stop offset=".133" stop-color="#3579fd"/><stop offset=".256" stop-color="#2a93ee"/><stop offset=".333" stop-color="#15afd9"/><stop offset=".367" stop-color="#00b8c8"/><stop offset=".389" stop-color="#08bcbe"/><stop offset=".422" stop-color="#1cc0b4"/><stop offset=".489" stop-color="#1ec0b3"/><stop offset=".644" stop-color="#00b9c6"/><stop offset=".689" stop-color="#05b6ce"/><stop offset=".756" stop-color="#1ea7e1"/><stop offset=".867" stop-color="#2d87f7"/><stop offset=".944" stop-color="#3a73ff"/><stop offset="1" stop-color="#4467fd"/></linearGradient><linearGradient id="b0" gradientUnits="userSpaceOnUse" x1="518.42" x2="669.22"><stop offset="0" stop-color="#4660fc"/><stop offset=".144" stop-color="#3c72ff"/><stop offset=".244" stop-color="#2d88f6"/><stop offset=".333" stop-color="#1aacdd"/><stop offset=".378" stop-color="#00b8c8"/><stop offset=".433" stop-color="#17bfb6"/><stop offset=".533" stop-color="#10beba"/><stop offset=".633" stop-color="#00b9c7"/><stop offset=".689" stop-color="#0ab4d1"/><stop offset=".756" stop-color="#21a4e3"/><stop offset=".867" stop-color="#2d88f6"/><stop offset="1" stop-color="#3a74ff"/></linearGradient></defs><g stroke-width=".6" stroke-linejoin="round"><path fill="url(#b69)" stroke="url(#b69)" d="M415 62.1l8.4-.3l8.4 .3l18.4 1.8l6.7 1.7l15.1 5.3l5 1l5.1 .2l16.7-1.8l13.4-2.5l30.2-8l23.4-6.7l-1.7-.1l-23.5 6.7l-31.8 8.6l-13.4 2.4l-15.1 1.6l-5-.1l-5-1.1l-16.8-6.1l-6.7-1.6l-18.4-2.1l-15.1-.4z"/><path fill="url(#b68)" stroke="url(#b68)" d="M417.1 63.9l8.3-.6l8.4-.1l18.4 1.1l6.7 1.5l16.8 5.3l5 .8l5.1-.1l15-1.6l13.4-2.4l23.5-6l30.2-8.4l-3.3-.4l-23.4 6.7l-31.9 8.5l-13.4 2.4l-15 1.6l-5.1-.1l-5-1.1l-16.7-6l-6.7-1.6l-18.5-1.9l-15.1-.3z"/><path fill="url(#b67)" stroke="url(#b67)" d="M419.2 66.2l6.7-.9l8.4-.5l10.1-.2l10 .4l6.7 1.2l13.4 4l5 1.1l5.1 .5l8.3-.5l13.5-1.5l11.7-2.2l21.8-5.5l30.1-8.2l-3.4-.8l-26.9 7.6l-26.8 7.1l-13.4 2.5l-16.7 1.7l-5.1-.2l-5-1l-15.1-5.1l-6.7-1.7l-18.4-1.5l-8.4-.2l-8.3 .4z"/><path fill="url(#b66)" stroke="url(#b66)" d="M421.6 69.3l6.7-1.4l8.3-1.1l10.1-.7l10-.3l6.7 .9l13.4 3.6l6.7 1.3l5.1 .2l11.7-.8l11.7-1.5l10.1-1.9l20.1-4.8l30.2-8.1l-3.8-1.2l-30.1 8.4l-23.5 5.9l-13.4 2.4l-15.1 1.5l-5 .1l-5-.7l-16.8-5.2l-6.7-1.4l-18.4-.8l-8.4 .3l-8.4 .7z"/><path fill="url(#b65)" stroke="url(#b65)" d="M423.3 72.4l15.1-3.3l20.1-2.6l3.4 .1l5 .7l13.4 3.4l6.7 1.1l8.4-.1l13.4-1.2l11.7-1.7l15.1-3.2l38.5-10.2l-2.8-1.1l-30.2 8.1l-20.1 5l-11.7 2.2l-11.8 1.4l-10 .8l-5-.2l-6.7-1.4l-13.4-3.7l-6.7-1.1l-10.1 0l-10 .4l-8.4 .8l-6.7 1.1z"/><path fill="url(#b64)" stroke="url(#b64)" d="M424.8 75.3l21.8-5.2l11.7-2.6l3.4-.4l6.7 .4l15.1 3.6l6.7 .9l13.4-.6l11.7-1.1l10.1-1.7l16.7-3.5l33.5-9l-2.3-1l-28.5 7.6l-15.1 3.7l-13.4 2.8l-11.7 1.6l-11.8 .9l-6.7 .1l-6.7-1.1l-15.1-3.8l-6.7-.7l-10 .6l-10.1 1l-8.3 1.4l-6.7 1.5z"/><path fill="url(#b63)" stroke="url(#b63)" d="M426.4 78.4l20.1-6.2l13.4-3.6l3.3-.7l3.4-.1l5 .5l13.4 2.9l6.7 .9l16.8-.7l13.4-1.4l23.4-4.6l31.9-8.6l-2.5-1.1l-35.2 9.3l-16.7 3.6l-11.8 1.9l-13.4 1.1l-10 .2l-6.7-1.1l-13.4-3.3l-6.7-.7l-3.4 .3l-15.1 2.4l-18.4 4.1z"/><path fill="url(#b62)" stroke="url(#b62)" d="M428.1 81.4l8.3-3.7l8.4-2.9l13.4-4l6.7-1.6l3.4-.2l5 .2l15.1 2.6l5 .4l13.4-.3l11.7-.8l10.1-1.3l16.7-3.2l33.6-8.9l-2.8-1.4l-31.8 8.6l-16.7 3.6l-10.1 1.7l-13.4 1.3l-13.4 .5l-6.7-.9l-15.1-3.5l-6.7-.3l-13.4 3l-23.5 6.1z"/><path fill="url(#b61)" stroke="url(#b61)" d="M429.9 84.1l6.7-3.5l8.3-3.5l10.1-3.3l11.7-3.1l3.4-.3l5 0l20.1 2.1l16.8-.4l11.7-.8l11.7-1.7l13.4-2.6l31.9-8.1l-2.9-1.8l-33.5 9l-18.5 3.6l-10 1.3l-11.7 .8l-11.8 .3l-6.7-.8l-13.4-2.7l-5-.4l-3.4 .2l-3.3 .6l-16.8 4.8l-16.7 5.7z"/><path fill="url(#b60)" stroke="url(#b60)" d="M431.7 86.8l8.3-4.6l8.4-3.7l10.1-3.5l10-2.7l8.4-.5l20.1 1.3l20.1-.5l10.1-.8l10-1.4l13.4-2.6l31.9-7.4l-2.9-2.3l-31.9 8.4l-16.7 3.2l-10.1 1.4l-11.7 .9l-15.1 .3l-5-.4l-15.1-2.2l-5-.2l-3.4 .3l-10 2.6l-11.7 3.6l-8.4 3.3l-6.7 3.2z"/><path fill="url(#b59)" stroke="url(#b59)" d="M433.4 89.3l8.4-4.8l8.4-4l10-3.7l10.1-2.8l5-.6l5-.1l18.4 .6l20.2-.5l10-.7l8.4-1.1l11.7-2.2l35.2-7.4l-2.8-2.5l-31.8 7.9l-13.4 2.5l-11.8 1.7l-10 .7l-18.4 .4l-20.2-1.7l-5 0l-3.3 .4l-10.1 2.6l-10 3.3l-8.4 3.5l-8.4 4.5z"/><path fill="url(#b58)" stroke="url(#b58)" d="M435.1 91.8l8.4-4.9l10.1-4.9l10-3.7l8.4-2.3l8.4-1l20.1 .1l21.8-.7l10-.7l16.8-2.7l36.8-7.4l-2.7-2.6l-33.6 7.5l-13.4 2.5l-8.3 1.2l-10.1 .7l-20.1 .5l-20.1-1.1l-8.4 .7l-10 2.7l-10.1 3.6l-8.4 3.8l-8.3 4.7z"/><path fill="url(#b57)" stroke="url(#b57)" d="M436.8 94.3l8.4-5l10.1-4.9l10-3.9l8.4-2.3l5-.8l6.7-.5l40.2-1.3l10.1-.7l16.8-2.6l35.1-6.7l-2.7-3l-35.2 7.3l-18.4 3.1l-10 .7l-21.8 .7l-20.1-.4l-8.4 .8l-8.4 2.2l-10 3.7l-10.1 4.8l-8.4 4.9z"/><path fill="url(#b56)" stroke="url(#b56)" d="M438.6 96.8l10.1-5.8l10-4.7l10.1-3.7l8.4-2.1l6.7-1l8.4-.7l18.4-1.2l18.4-.4l8.4-.6l13.4-1.9l38.5-6.7l-2.8-3.7l-36.9 7.2l-16.8 2.7l-8.3 .6l-23.5 .7l-18.4 .2l-10.1 1.1l-8.4 2.2l-10 3.8l-10.1 4.9l-8.3 5z"/><path fill="url(#b55)" stroke="url(#b55)" d="M440.4 99.2l10.1-5.5l10-4.6l10.1-3.7l10-2.5l10.1-1.6l20.1-1.9l21.8-.5l8.4-.6l50.2-7.5l-2.8-4.3l-36.9 6.8l-15.1 2.3l-8.4 .6l-40.2 1.5l-11.7 1.2l-8.4 2.1l-10 3.7l-10.1 4.7l-10 5.9z"/><path fill="url(#b54)" stroke="url(#b54)" d="M442.2 101.7l11.8-6.1l11.7-5l10-3.3l10.1-2.3l10-1.7l16.8-2.1l6.7-.3l16.8-.2l6.7-.4l50.2-6.7l-2.8-4.5l-50.3 8.1l-8.4 .6l-21.8 .6l-20.1 1.5l-10 1.4l-10.1 2.4l-10 3.7l-10.1 4.7l-10 5.7z"/><path fill="url(#b53)" stroke="url(#b53)" d="M444 104.2l11.7-5.8l11.7-4.9l10.1-3.3l13.4-3l23.5-3.7l6.7-.4l16.7-.2l6.7-.4l50.3-6.4l-2.8-4.1l-50.3 7.1l-6.7 .5l-23.4 .5l-18.5 2l-10 1.6l-10.1 2.4l-10 3.5l-10.1 4.4l-11.7 6.2z"/><path fill="url(#b52)" stroke="url(#b52)" d="M445.6 106.7l13.4-6.4l11.7-4.6l10.1-3.1l13.4-2.9l21.7-3.5l31.9-1.6l23.4-2.9l25.2-3.5l-2.6-3.4l-48.6 6.3l-8.3 .5l-16.8 .2l-6.7 .4l-25.1 3.7l-11.8 2.7l-10 3.3l-11.7 4.9l-11.8 6z"/><path fill="url(#b51)" stroke="url(#b51)" d="M447 109.3l11.8-5.5l11.7-4.7l10.1-3.2l11.7-2.7l26.8-4.3l26.8-1.7l20.1-2l16.8-2.5l15-2.8l-2.3-2.9l-50.3 6.4l-23.4 .8l-6.8 .4l-21.7 3.5l-13.4 2.9l-10.1 3.1l-11.7 4.7l-13.4 6.5z"/><path fill="url(#b50)" stroke="url(#b50)" d="M448.4 112l11.7-5.5l11.8-4.7l10-3.1l10.1-2.4l11.7-2.1l16.8-2.6l48.6-4.2l16.7-3l13.4-3l-2.2-2.5l-18.4 3l-18.4 2.4l-16.8 1.7l-25.1 1.3l-25.2 4l-11.7 2.6l-11.7 3.6l-11.8 4.8l-11.7 5.6z"/><path fill="url(#b49)" stroke="url(#b49)" d="M449.7 114.6l11.7-5.6l10.1-4l10-3.3l10.1-2.5l11.7-2.2l20.1-3.1l46.9-4.3l15.1-3l15.1-3.8l-2-2.2l-13.4 2.7l-16.8 2.7l-21.8 2.2l-26.8 1.9l-26.8 4.3l-11.7 2.7l-10.1 3.2l-11.7 4.7l-11.7 5.5z"/><path fill="url(#b48)" stroke="url(#b48)" d="M451 117.2l11.7-5.6l10-4.1l10.1-3.3l8.4-2.1l11.7-2.2l23.5-3.6l26.8-2.9l18.4-1.6l30.2-7.6l-2.1-2.2l-13.4 3.2l-16.7 3.1l-46.9 4.1l-18.5 2.8l-11.7 2.1l-10.1 2.4l-10 3.1l-11.7 4.7l-11.8 5.5z"/><path fill="url(#b47)" stroke="url(#b47)" d="M452.2 119.8l10.1-4.8l10-4.2l10.1-3.5l8.4-2.2l11.7-2.3l25.1-3.8l26.8-3.4l13.4-1.1l5.1-.7l30.1-8.2l-2-2.2l-16.8 4.2l-13.4 2.9l-45.2 4.3l-21.8 3.2l-11.7 2.2l-10.1 2.5l-10 3.3l-10.1 4.1l-11.7 5.5z"/><path fill="url(#b46)" stroke="url(#b46)" d="M453.5 122.4l10.1-4.8l8.3-3.5l10.1-3.5l8.4-2.4l11.7-2.3l26.8-4.1l45.2-6.2l16.8-4.5l13.4-4.2l-2-2.1l-30.2 7.8l-5 .7l-13.4 1l-26.8 3.1l-23.5 3.5l-11.7 2.2l-8.4 2.2l-10.1 3.3l-10 4.1l-11.7 5.5z"/><path fill="url(#b45)" stroke="url(#b45)" d="M454.7 125l10.1-4.8l8.3-3.4l10.1-3.5l8.4-2.4l11.7-2.2l72.1-11.3l16.7-4.6l13.4-4.6l-1.9-2.1l-16.8 4.9l-13.4 3.6l-18.4 2l-25.2 3.4l-26.8 4l-11.7 2.2l-8.4 2.3l-10 3.4l-10.1 4.2l-10 4.8z"/><path fill="url(#b44)" stroke="url(#b44)" d="M455.9 127.6l10.1-4.7l8.4-3.4l8.3-2.9l8.4-2.5l10.1-2.1l20.1-3.1l53.6-9.4l6.7-1.6l10.1-3l15-5.4l-1.9-2.1l-13.4 4.4l-16.8 4.5l-18.4 2.5l-51.9 7.9l-13.5 2.6l-8.3 2.3l-10.1 3.6l-8.4 3.5l-10 4.8z"/><path fill="url(#b43)" stroke="url(#b43)" d="M457.1 130.2l10.1-4.6l8.4-3.4l8.4-2.9l8.3-2.4l8.4-1.8l20.1-3l13.4-2.4l41.9-8.5l15.1-4.2l16.7-6.2l-1.9-2.1l-15.1 5.3l-16.7 4.4l-72.1 11.6l-11.7 2.4l-8.4 2.5l-8.4 3l-8.3 3.4l-10.1 4.8z"/><path fill="url(#b42)" stroke="url(#b42)" d="M458.3 132.7l8.4-3.9l8.4-3.4l8.3-3l8.4-2.5l10.1-2.1l21.8-3l20.1-3.9l11.7-2.6l31.8-8.2l10.1-3.5l11.7-4.6l-1.9-2l-16.7 6.1l-15.1 4.2l-51.9 9.6l-23.5 3.6l-8.4 1.8l-8.3 2.4l-8.4 3l-8.4 3.4l-10.1 4.6z"/><path fill="url(#b41)" stroke="url(#b41)" d="M459.4 135.3l8.4-4l8.4-3.5l8.4-3l8.3-2.6l10.1-1.9l21.8-2.6l28.5-6.1l11.7-3.2l23.4-7.1l21.8-8l-1.8-2l-18.4 6.9l-15.1 4.1l-36.8 7.9l-16.8 3.1l-20.1 3l-10 2.2l-8.4 2.5l-8.4 3l-8.4 3.4l-8.4 3.9z"/><path fill="url(#b40)" stroke="url(#b40)" d="M460.5 137.9l6.7-3.5l8.4-3.8l8.3-3.2l8.4-2.6l5-1.3l5.1-.8l16.7-1.3l6.7-1l26.8-6.1l15.1-4.3l43.6-15.5l-1.7-1.9l-11.7 4.5l-10.1 3.5l-33.5 9.1l-30.2 6.3l-21.7 2.9l-10.1 2l-8.4 2.6l-8.4 2.9l-8.3 3.5l-8.4 3.9z"/><path fill="url(#b39)" stroke="url(#b39)" d="M461.6 140.4l6.7-3.6l8.4-3.9l6.7-2.7l8.4-2.8l5-1.4l5.1-.9l18.4-1l5-.6l25.1-6.1l15.1-4.1l20.1-8.2l26.8-9.1l-1.8-2.3l-21.8 7.9l-23.5 7.5l-11.7 3.3l-28.5 6.2l-23.4 2.7l-10.1 2.1l-8.4 2.7l-8.3 3.1l-15.1 7z"/><path fill="url(#b38)" stroke="url(#b38)" d="M463.3 142.9l8.4-4.3l8.3-3.6l8.4-3.1l8.4-2.5l8.4-1.4l15.1-.6l6.7-.7l38.5-10.3l5-2l11.7-5.9l5.1-2.1l26.8-8.3l-2.6-3.3l-45.3 16.1l-13.4 3.7l-26.8 6.3l-6.7 .9l-16.8 1.2l-5 .8l-5 1.3l-8.4 2.7l-8.4 3.2l-8.3 3.8l-6.7 3.5z"/><path fill="url(#b37)" stroke="url(#b37)" d="M465 144.8l15.1-6.4l8.4-2.9l10-3l8.4-1.5l15.1-1l6.7-.9l36.9-10.1l6.7-2.7l10-5.6l5-2.3l28.5-8.3l-2.8-3.3l-13.4 4.1l-13.4 4.7l-20.1 8.7l-18.4 5l-21.8 5.5l-6.7 .7l-16.8 .7l-5 .9l-5 1.4l-8.4 2.8l-6.7 2.6l-8.4 3.9l-6.7 3.6z"/><path fill="url(#b36)" stroke="url(#b36)" d="M467.8 147.1l15.1-5.6l20.1-5.9l6.7-1.2l15-1.4l6.7-1.1l35.2-9.8l6.7-2.5l11.8-6.8l5-2.5l28.5-7.8l-4.4-4.3l-26.8 8.3l-5.1 2.1l-11.7 5.9l-5 2l-38.6 10.3l-6.7 .8l-15 .6l-8.4 1.4l-8.4 2.5l-8.4 3.1l-8.3 3.6l-8.4 4.2z"/><path fill="url(#b35)" stroke="url(#b35)" d="M471.9 149.3l6.7-3.1l8.3-3.3l8.4-2.9l10.1-3l8.3-1.4l15.1-.7l6.7-.8l11.8-3.1l25.1-7.3l5-2l11.7-6.8l5.1-2.5l28.5-8l-6.6-4l-28.4 8.2l-5.1 2.4l-10 5.5l-6.7 2.8l-36.9 10.1l-6.7 .9l-15.1 1.1l-8.4 1.6l-18.4 5.8l-15.1 6.3z"/><path fill="url(#b34)" stroke="url(#b34)" d="M473.2 149.8l15.1-6.9l15-5.2l10.1-2.4l16.7-1.7l6.7-1.1l18.5-4.8l21.8-6.2l15-7.7l5.1-2l26.8-7.2l-2.1-.4l-28.5 8.1l-5.1 2.5l-8.3 5.1l-5.1 2.7l-13.4 4.3l-26.8 7.4l-6.7 .8l-15.1 .6l-6.7 1l-10 2.8l-10.1 3.3l-8.3 3.2l-6.7 3z"/><path fill="url(#b33)" stroke="url(#b33)" d="M474.1 150.1l16.7-7.8l15.1-5.3l10.1-2.5l21.7-3.8l35.2-9.1l6.7-2.2l16.8-7.3l11.7-3.3l16.8-4.2l-1.5-.1l-28.5 8l-5 2.3l-11.7 6.5l-5 1.9l-36.9 10.1l-6.7 .9l-15.1 1.1l-8.4 1.6l-8.3 2.4l-8.4 2.9l-8.4 3.5l-8.4 3.9z"/><path fill="url(#b32)" stroke="url(#b32)" d="M474.8 150.3l18.4-8.6l8.4-3.3l6.7-2.2l10.1-2.7l55.3-13.4l6.7-2.1l18.4-6.8l11.7-3.1l15.1-3.4l-1.2-.1l-28.5 7.6l-16.7 8l-6.7 2.2l-35.2 9.3l-23.5 3.4l-10 2.5l-15.1 5.4l-15.1 7z"/><path fill="url(#b31)" stroke="url(#b31)" d="M475.5 150.5l13.4-6.6l10.1-4.3l8.3-3.2l13.4-4.2l25.2-7.1l30.1-7l28.5-8.7l21.8-4.7l-1.1-.1l-13.4 3.2l-13.4 3.6l-5 1.8l-13.4 5.6l-6.7 2.1l-35.2 9l-21.8 4.4l-10.1 2.6l-15 5.5l-16.8 7.8z"/><path fill="url(#b30)" stroke="url(#b30)" d="M476.2 150.7l15.1-7.5l11.7-5.3l21.8-8l13.4-4.4l11.7-3.2l25.1-5.2l31.9-8.4l20.1-4l-1.1 0l-13.4 2.8l-11.7 3l-20.2 7l-6.7 2l-28.4 6.7l-35.2 9.4l-8.4 2.8l-8.4 3.3l-18.4 8.7z"/><path fill="url(#b29)" stroke="url(#b29)" d="M476.9 150.9l15.1-7.9l13.4-6.3l23.5-9.5l11.7-4.2l11.7-3l21.8-4.2l35.2-7.7l18.4-3.4l-1.2 0l-21.7 4.6l-30.2 8.7l-26.8 6l-16.8 4.6l-16.7 5.4l-11.7 4.2l-11.8 5l-15.1 7.3z"/><path fill="url(#b28)" stroke="url(#b28)" d="M477.7 151l15-8.3l13.5-6.7l23.4-10.5l13.4-4.9l15.1-3.4l70.4-12.5l-1.2 0l-20.1 3.9l-31.9 7.8l-25.1 5.1l-10 2.7l-13.4 4.5l-23.5 9.1l-11.7 5.3l-15.1 7.6z"/><path fill="url(#b27)" stroke="url(#b27)" d="M478.5 151l16.7-9.9l13.4-7l21.8-10.3l6.7-2.7l6.7-2.3l8.4-2.2l10-1.9l67.1-10l-1.3 0l-18.4 3.3l-35.2 7.2l-20.1 3.8l-13.4 3.3l-11.8 4.3l-23.4 9.9l-13.4 6.4l-15.1 8z"/><path fill="url(#b26)" stroke="url(#b26)" d="M479.3 150.9l16.8-10.8l13.4-7.5l21.8-10.6l6.7-2.8l6.7-2.3l10-2.5l11.7-1.9l16.8-2.3l25.1-2.6l21.8-3l-1.3 .1l-68.7 11.5l-8.4 1.6l-8.4 2.2l-6.7 2.2l-6.7 2.7l-23.5 10.7l-13.4 6.9l-15 8.5z"/><path fill="url(#b25)" stroke="url(#b25)" d="M480.2 150.5l15-10.5l13.4-8.1l23.5-11.7l6.7-2.8l6.7-2.4l10.1-2.4l13.4-2l15-1.8l25.2-1.8l21.8-2.5l-1.4 .2l-20.1 3l-25.1 3.1l-20.1 2.9l-11.8 2.2l-8.4 2.1l-6.7 2.3l-6.7 2.8l-21.7 10.4l-13.4 7.2l-16.8 10.3z"/><path fill="url(#b24)" stroke="url(#b24)" d="M481 150l15.1-11.1l13.4-8.5l23.4-12l6.7-2.9l6.7-2.4l11.8-2.7l15.1-1.9l13.4-1.3l20.1-.6l25.1-2.3l-1.4 .3l-21.7 2.8l-25.2 2.2l-16.7 2.2l-11.8 1.9l-10 2.4l-6.7 2.4l-6.7 2.8l-23.5 11.5l-13.4 7.9l-15.1 10z"/><path fill="url(#b23)" stroke="url(#b23)" d="M481.8 149.4l15.1-11.5l13.4-8.8l23.5-12.5l6.7-3l6.7-2.4l6.7-1.7l6.7-1.2l21.8-2.2l6.7-.4l16.7 .1l26.8-1.8l-1.3 .4l-23.5 2.5l-21.7 1.2l-15.1 1.6l-13.4 1.9l-11.8 2.7l-6.7 2.3l-6.7 2.9l-23.4 11.8l-13.4 8.3l-15.1 10.8z"/><path fill="url(#b22)" stroke="url(#b22)" d="M482.7 148.7l15.1-11.8l13.4-9.1l23.4-12.9l6.7-3.1l6.7-2.4l6.7-1.7l6.7-1.2l21.8-1.9l6.7-.2l18.5 .6l25.1-1.2l-1.4 .4l-26.8 2.2l-16.7 .2l-6.7 .4l-21.8 2.4l-6.7 1.2l-6.7 1.8l-6.7 2.3l-6.7 3l-23.5 12.1l-13.4 8.7l-15.1 11.3z"/><path fill="url(#b21)" stroke="url(#b21)" d="M483.6 148l15.1-12.1l13.4-9.3l23.5-13.3l6.7-3.2l6.7-2.5l6.7-1.7l8.4-1.3l21.8-1.5l5 0l18.4 1l25.1-.5l-1.5 .3l-13.4 1l-13.4 .7l-16.7-.3l-6.7 .3l-21.8 2.1l-6.7 1.2l-6.7 1.7l-6.7 2.4l-6.7 3l-23.5 12.6l-13.4 8.9l-15.1 11.7z"/><path fill="url(#b20)" stroke="url(#b20)" d="M484.8 147l16.7-13.6l13.4-9.2l15.1-8.8l8.4-4.5l6.7-3.1l6.7-2.3l6.7-1.5l6.7-.9l21.8-1.2l6.7 .2l16.7 1.3l25.2 .2l-1.8 .1l-25.2 1l-18.4-.7l-6.7 .1l-13.4 1l-8.4 .9l-6.7 1.1l-6.7 1.7l-6.7 2.5l-6.7 3.1l-23.4 13.1l-13.4 9.1l-15.1 11.9z"/><path fill="url(#b19)" stroke="url(#b19)" d="M486.1 145.7l16.8-14l6.7-4.9l6.7-4.5l21.8-12.2l8.4-3.8l6.7-2.3l6.7-1.5l6.7-.8l21.7-.9l6.7 .3l16.8 1.5l25.1 1.5l-2.2-.5l-25.1 .3l-16.8-1l-6.7-.2l-21.7 1.5l-6.7 1l-6.7 1.5l-6.7 2.3l-6.8 3l-8.3 4.5l-15.1 8.7l-13.4 9.1l-16.8 13.4z"/><path fill="url(#b18)" stroke="url(#b18)" d="M487.5 144l8.4-7.4l8.4-6.8l6.7-5l6.7-4.3l13.4-7.4l10-5.1l8.4-3.5l6.7-2l6.7-1.3l6.7-.7l21.8-.4l10 .7l36.9 4.1l-2.2-1.2l-25.1-.6l-16.8-1.5l-6.7-.2l-21.8 1l-6.7 1l-6.7 1.5l-6.7 2.3l-6.7 3l-8.4 4.5l-15 8.8l-13.4 9.2l-16.8 13.8z"/><path fill="url(#b17)" stroke="url(#b17)" d="M488.7 142.2l8.4-7.3l8.4-6.7l6.7-4.9l6.7-4.3l13.4-7.1l10-4.9l8.4-3.4l6.7-2l6.7-1.2l6.7-.6l25.2-.1l8.3 .7l15.1 1.8l20.1 3.6l-1.9-1.4l-46.9-3.9l-15.1 .2l-8.4 .5l-6.7 .8l-6.7 1.5l-6.7 2.2l-8.4 3.8l-21.8 12l-6.7 4.4l-6.7 4.9l-8.3 6.8l-8.4 7.3z"/><path fill="url(#b16)" stroke="url(#b16)" d="M489.9 140.5l8.4-7.1l8.4-6.5l6.7-4.8l6.7-4.1l13.4-7l10.1-4.7l8.3-3.3l8.4-2.4l6.7-1.1l6.7-.4l20.1 0l6.7 .4l10.1 1l10 1.5l10.1 2.1l10 2.7l-1.9-1.6l-20.1-2.8l-25.1-2.5l-23.5 .3l-6.7 .7l-6.7 1.2l-6.7 2l-8.4 3.5l-10 5l-13.4 7.3l-6.7 4.3l-6.8 4.9l-8.3 6.8l-8.4 7.4z"/><path fill="url(#b15)" stroke="url(#b15)" d="M491.4 138.9l16.8-12.9l6.7-4.6l6.7-4l13.4-6.8l10-4.6l8.4-3.3l8.4-2.4l6.7-1l8.4-.5l18.4 .1l10.1 .6l10 1.3l8.4 1.6l8.4 2.3l10 3.4l-2.3-2l-10.1-2.2l-10.1-1.7l-13.4-1.8l-10-.8l-25.1 0l-6.7 .6l-6.8 1.2l-6.7 2l-8.3 3.4l-10.1 4.8l-13.4 7.1l-6.7 4.3l-6.7 4.8l-8.4 6.7l-8.3 7.3z"/><path fill="url(#b14)" stroke="url(#b14)" d="M493.6 137.7l16.8-11.8l8.4-5.1l6.7-3.7l15.1-7.4l8.3-3.7l8.4-3.1l8.4-2.2l8.4-1l8.3-.3l16.8 0l11.7 .9l8.4 1.4l8.4 2.2l8.4 3.1l8.3 3.9l-3.5-4l-10.1-2.7l-10-2.2l-10.1-1.5l-10-1.1l-6.7-.3l-20.1 0l-6.7 .4l-6.7 1l-8.4 2.4l-8.4 3.3l-10 4.7l-13.5 7l-6.7 4.1l-6.7 4.7l-8.3 6.6l-8.4 7z"/><path fill="url(#b13)" stroke="url(#b13)" d="M495.6 137.3l11.7-7.6l10.1-6l8.4-4.5l15-7.3l8.4-3.8l8.4-3.3l6.7-2l6.7-1.3l10.1-.9l18.4-.3l6.7 .4l8.4 1l8.3 1.7l6.7 2.2l8.4 3.8l8.4 4.7l-3.1-4.8l-10.1-4l-8.4-2.6l-6.7-1.5l-10-1.5l-10.1-.7l-18.4-.1l-8.4 .4l-6.7 .9l-8.4 2.1l-8.3 3.1l-10.1 4.6l-13.4 6.6l-6.7 3.8l-8.4 5.4l-16.7 12.4z"/><path fill="url(#b12)" stroke="url(#b12)" d="M497.7 137l23.4-12.9l28.5-13.7l6.7-2.8l6.7-2.3l5-1.4l6.7-1.1l10.1-.9l16.7-.4l8.4 .5l8.4 1.4l8.4 2.1l6.7 2.8l6.7 3.6l8.4 5.4l-3.3-5.3l-8.4-4.1l-8.4-3.4l-6.7-2l-8.4-1.6l-8.4-.9l-8.3-.3l-18.5 .2l-10 1l-8.4 1.9l-8.4 3l-8.3 3.6l-15.1 7.3l-6.7 3.5l-8.4 4.9l-18.4 12.4z"/><path fill="url(#b11)" stroke="url(#b11)" d="M500.9 137.6l58.6-27.4l10.1-3.3l11.7-2.1l10.1-.8l13.4-.5l8.4 .6l8.3 1.6l8.4 2.3l6.7 2.9l6.7 3.8l8.4 5.7l-5.2-6.1l-8.4-4.8l-8.3-3.8l-6.7-2.2l-8.4-1.7l-8.4-1.1l-8.4-.3l-16.7 .3l-10.1 .9l-6.7 1.3l-6.7 2l-6.7 2.5l-8.4 3.8l-23.4 11.7l-11.7 6.8l-11.8 7.6z"/><path fill="url(#b10)" stroke="url(#b10)" d="M503.4 139.6l35.2-15.8l16.8-8.3l8.3-3.7l5.1-1.8l5-1.3l11.7-2l10.1-.9l11.7-.5l6.7 .4l8.4 1.5l8.4 2.1l6.7 2.6l8.3 4.4l8.4 5.4l-4-2.4l-8.4-5.7l-6.7-3.8l-6.7-2.9l-8.4-2.3l-8.4-1.5l-8.4-.6l-13.4 .4l-10 .7l-11.7 2.1l-5.1 1.4l-6.7 2.6l-33.5 15.6l-23.4 11.9z"/><path fill="url(#b9)" stroke="url(#b9)" d="M505.4 142.4l35.2-15.9l18.4-9.7l6.7-3.1l5-1.9l5.1-1.3l11.7-2.1l10-1l11.8-.6l6.7 .5l6.7 1.1l10 2.5l6.7 2.5l8.4 4.2l8.4 5.1l-3.1-1.6l-8.4-5.5l-6.7-3.7l-6.7-2.9l-8.4-2.3l-8.4-1.6l-8.4-.7l-11.7 .5l-10 .8l-6.7 .9l-6.7 1.5l-10.1 3.3l-23.5 11.1l-35.1 15.9z"/><path fill="url(#b8)" stroke="url(#b8)" d="M507 144.9l16.7-7.2l18.5-8.6l18.4-10.5l6.7-3.3l8.4-2.9l11.7-2.3l10.1-1.2l11.7-.7l6.7 .2l6.7 1l10 2.2l6.7 2.2l8.4 3.8l10.1 5.9l-2.6-1.3l-8.3-5.3l-8.4-4.2l-6.7-2.6l-8.4-2.1l-8.4-1.5l-6.7-.4l-11.7 .5l-10.1 1l-11.7 2l-5 1.3l-5 1.9l-6.7 3l-18.5 9.3l-35.2 15.8z"/><path fill="url(#b7)" stroke="url(#b7)" d="M508.6 147.6l16.8-7.2l18.4-8.7l20.1-12.1l6.7-3.5l6.7-2.2l10.1-2.1l10-1.3l13.4-1l5 .1l6.7 .8l11.8 2.5l6.7 2.1l8.4 3.5l10 5.4l-2.6-.9l-8.4-5.1l-8.4-4.1l-6.7-2.5l-10-2.4l-6.7-1.1l-6.7-.5l-13.4 .8l-10.1 1.1l-11.7 2.2l-8.4 2.9l-6.7 3.2l-18.4 10l-35.2 15.8z"/><path fill="url(#b6)" stroke="url(#b6)" d="M510.3 150.1l16.8-7l18.4-8.8l6.7-4l13.4-8.9l6.7-3.6l5-1.9l10.1-2.3l10-1.4l13.4-1.2l5.1-.1l6.7 .6l13.4 2.7l6.7 1.8l8.3 3.1l10.1 4.6l-2.7 0l-10.1-5.7l-8.3-3.7l-6.7-2.2l-10.1-2.2l-6.7-1l-6.7-.2l-11.7 .8l-10.1 1.1l-11.7 2.3l-3.4 1l-5 2l-6.7 3.5l-18.4 10.7l-18.4 8.6l-16.8 7.3z"/><path fill="url(#b5)" stroke="url(#b5)" d="M511.9 152.4l16.7-6.8l18.5-8.9l6.7-4.2l13.4-9.4l6.7-3.8l5-2l8.4-1.9l8.4-1.4l11.7-1.3l8.4-.6l5 .3l8.4 1.3l13.4 2.8l10 3l10.1 3.7l-2.5 .7l-10.1-5.1l-8.4-3.4l-6.7-1.9l-11.7-2.5l-6.7-.8l-5-.1l-13.4 1.1l-10.1 1.3l-10.1 2.1l-6.7 2.3l-6.7 3.5l-15 9.6l-5.1 2.9l-18.4 8.7l-16.7 7.1z"/><path fill="url(#b4)" stroke="url(#b4)" d="M513.5 154.9l15.1-6l20.1-9.7l6.7-4.4l13.4-9.9l6.7-4.1l5.1-2l6.7-1.6l8.3-1.5l10.1-1.3l10-.9l5.1 .1l6.7 .9l18.4 3.4l18.4 4.7l-2.6 .9l-10-4.2l-8.4-2.9l-11.8-2.8l-10-1.8l-5-.5l-5.1 .2l-13.4 1.2l-10 1.5l-10.1 2.2l-5 1.9l-6.7 3.8l-13.4 9.1l-6.7 4l-18.4 8.9l-16.8 6.9z"/><path fill="url(#b3)" stroke="url(#b3)" d="M515.1 157.3l15-6l18.5-8.9l6.7-4.1l13.4-10.5l6.7-4.6l5-2.4l6.7-1.8l8.4-1.7l8.4-1.2l11.7-1.2l5-.1l6.7 .7l10.1 1.8l28.5 4.3l-2.5 1.3l-10-3.2l-8.4-2.3l-16.8-3.4l-6.7-1l-5-.3l-8.4 .6l-10 1.1l-10.1 1.6l-8.4 2l-5 2l-6.7 3.9l-13.4 9.6l-6.7 4.3l-18.4 8.9l-16.8 6.8z"/><path fill="url(#b2)" stroke="url(#b2)" d="M516.4 159.4l6.7-2.4l8.4-3.5l20.1-9.9l6.7-4.6l11.8-9.6l5-3.7l5-2.9l5-1.7l8.4-1.9l8.4-1.4l11.7-1.4l6.7-.5l6.7 .6l13.4 2.2l26.8 1.6l-2.2 1.9l-18.4-3.9l-20.1-3.5l-6.7-.7l-5 .1l-11.8 1.2l-8.3 1.2l-8.4 1.6l-6.7 1.8l-5 2.4l-6.7 4.5l-13.4 10.2l-6.8 4.1l-18.4 8.8l-15.1 6z"/><path fill="url(#b1)" stroke="url(#b1)" d="M517.8 161.5l6.7-2.3l8.3-3.5l20.1-10l6.7-4.8l11.8-10l5-3.9l5-3l3.4-1.2l6.7-1.7l8.4-1.6l20.1-2.5l5 .2l11.7 2l5.1 .5l15 0l11.8-.8l-2.2 2.2l-26.8-3.1l-15-2.5l-5.1-.3l-18.4 1.9l-15.1 2.8l-6.7 2.1l-5 2.9l-5 3.6l-11.8 9.4l-6.7 4.5l-20.1 9.9l-8.4 3.5l-6.7 2.4z"/><path fill="url(#b0)" stroke="url(#b0)" d="M519.1 163.6l6.7-2.3l8.4-3.5l20.1-10.1l6.7-4.9l11.7-10.4l5-4l5.1-3.1l3.3-1.3l15.1-3.3l18.4-2.4l5 0l13.4 2.2l5.1 .3l15.1-1.3l11.7-2.3l-2.1 2.6l-13.4-.1l-13.4-.6l-15.1-2.4l-6.7-.3l-18.5 2.1l-15 3.1l-5.1 1.7l-5 2.9l-5 3.8l-11.7 9.8l-6.7 4.6l-20.2 10l-8.3 3.5l-6.7 2.3z"/></g>
<path d="M413.3 159.6L413.3 42.5" stroke="#505050" stroke-width="0.8" fill="none"/>
<path d="M528.7 213.4L413.3 159.3M528.7 213.4L679.5 172.2M528.7 213.4L524.6 214.5M504.7 202.1L500.6 203.2M480.6 190.9L476.6 192M456.6 179.6L452.5 180.7M432.5 168.3L428.5 169.4M528.7 213.4L532.3 215.1M552.7 206.8L556.3 208.5M576.7 200.3L580.3 202M600.7 193.7L604.3 195.4M624.7 187.2L628.3 188.9M648.7 180.6L652.3 182.3M672.7 174.1L676.3 175.8M413.3 159.3L409.7 157.6M413.3 130.1L409.7 128.4M413.3 100.9L409.7 99.2M413.3 71.7L409.7 70M413.3 42.5L409.7 40.8" stroke="#262626" stroke-width="0.7" fill="none"/>
<g font-size="8.35" fill="#262626"><text x="521.1" y="223.5" text-anchor="end">0</text><text x="497.1" y="212.2" text-anchor="end">5</text><text x="473" y="201" text-anchor="end">10</text><text x="449" y="189.7" text-anchor="end">15</text><text x="424.9" y="178.4" text-anchor="end">20</text><text x="534.7" y="224.5">0</text><text x="558.7" y="217.9">0.5</text><text x="582.7" y="211.4">1</text><text x="606.7" y="204.8">1.5</text><text x="630.7" y="198.3">2</text><text x="654.7" y="191.7">2.5</text><text x="678.7" y="185.2">3</text><text x="406.5" y="159.9" text-anchor="end">0.05</text><text x="406.5" y="130.7" text-anchor="end">0.06</text><text x="406.5" y="101.5" text-anchor="end">0.07</text><text x="406.5" y="72.3" text-anchor="end">0.08</text><text x="406.5" y="43.1" text-anchor="end">0.09</text></g>
<g fill="#262626"><text x="463.2" y="227.2" font-size="13.7">Z</text><text x="471.5" y="233.8" font-size="11">c</text><text x="591.9" y="230.4" font-size="13.2" font-family="Liberation Serif" font-style="italic" fill="#333">&#981;</text><text x="598.9" y="230.7" font-size="13.6">(rad)</text><text transform="translate(378.5 108.8) rotate(-90)"><tspan font-family="Liberation Serif" font-style="italic" font-size="13" fill="#333">&#956;</tspan><tspan font-size="10.6" dy="6.8" dx="0.3">cof</tspan></text></g>
<text x="536.6" y="260" font-family="Liberation Serif" font-size="12.3" text-anchor="middle" fill="#000">(b)</text>
<path d="M136.4 501L284.2 459.6M112.7 489.8L260.5 448.4M89 478.5L236.8 437.1M65.3 467.2L213.1 425.8M183.6 505.7L69.9 451.6M207.1 499.1L93.4 445M230.7 492.5L117 438.4M254.2 485.9L140.5 431.8M277.7 479.4L164 425.3M301.2 472.8L187.5 418.7M46.4 458.2L46.4 341.2M69.9 451.6L69.9 334.6M93.4 445L93.4 328M117 438.4L117 321.4M140.5 431.8L140.5 314.8M164 425.3L164 308.3M187.5 418.7L187.5 301.7M46.4 458.2L194.2 416.8M46.4 438.7L194.2 397.3M46.4 419.2L194.2 377.8M46.4 399.7L194.2 358.3M46.4 380.2L194.2 338.8M46.4 360.7L194.2 319.3M46.4 341.2L194.2 299.8M307.9 470.9L307.9 353.9M284.2 459.6L284.2 342.6M260.5 448.4L260.5 331.4M236.8 437.1L236.8 320.1M213.1 425.8L213.1 308.8M307.9 470.9L194.2 416.8M307.9 451.4L194.2 397.3M307.9 431.9L194.2 377.8M307.9 412.4L194.2 358.3M307.9 392.9L194.2 338.8M307.9 373.4L194.2 319.3M307.9 353.9L194.2 299.8" stroke="#e2e2e2" stroke-width="0.6" fill="none"/>
<defs><linearGradient id="c83" gradientUnits="userSpaceOnUse" x1="46.43" x2="194.23"><stop offset="0" stop-color="#49cb85"/><stop offset=".178" stop-color="#4fcc81"/><stop offset=".322" stop-color="#33c79d"/><stop offset=".689" stop-color="#0fbebb"/><stop offset=".856" stop-color="#01bac4"/><stop offset="1" stop-color="#00b8c9"/></linearGradient><linearGradient id="c82" gradientUnits="userSpaceOnUse" x1="47.16" x2="194.96"><stop offset="0" stop-color="#43ca8b"/><stop offset=".111" stop-color="#59cc78"/><stop offset=".2" stop-color="#57cc7a"/><stop offset=".333" stop-color="#39c995"/><stop offset=".689" stop-color="#1bc0b4"/><stop offset=".867" stop-color="#03bbc2"/><stop offset="1" stop-color="#01b8c9"/></linearGradient><linearGradient id="c81" gradientUnits="userSpaceOnUse" x1="48.59" x2="196.39"><stop offset="0" stop-color="#39c995"/><stop offset=".111" stop-color="#6bcd69"/><stop offset=".178" stop-color="#72cd64"/><stop offset=".433" stop-color="#3cc991"/><stop offset=".722" stop-color="#27c2ac"/><stop offset=".922" stop-color="#02bbc3"/><stop offset="1" stop-color="#01b8ca"/></linearGradient><linearGradient id="c80" gradientUnits="userSpaceOnUse" x1="50.1" x2="197.9"><stop offset="0" stop-color="#31c6a0"/><stop offset=".044" stop-color="#4ecc82"/><stop offset=".111" stop-color="#7ecc5b"/><stop offset=".156" stop-color="#8bcb51"/><stop offset=".244" stop-color="#7fcc5a"/><stop offset=".489" stop-color="#49cb85"/><stop offset=".678" stop-color="#38c895"/><stop offset=".844" stop-color="#19bfb5"/><stop offset=".944" stop-color="#01bac4"/><stop offset="1" stop-color="#02b7cb"/></linearGradient><linearGradient id="c79" gradientUnits="userSpaceOnUse" x1="51.61" x2="199.41"><stop offset="0" stop-color="#29c3aa"/><stop offset=".044" stop-color="#4acb84"/><stop offset=".1" stop-color="#85cb55"/><stop offset=".144" stop-color="#9ec942"/><stop offset=".233" stop-color="#99c946"/><stop offset=".389" stop-color="#76cc60"/><stop offset=".489" stop-color="#60cd72"/><stop offset=".656" stop-color="#51cc7f"/><stop offset=".778" stop-color="#30c5a2"/><stop offset=".878" stop-color="#17bfb7"/><stop offset=".944" stop-color="#02bbc3"/><stop offset="1" stop-color="#03b6cd"/></linearGradient><linearGradient id="c78" gradientUnits="userSpaceOnUse" x1="52.99" x2="200.79"><stop offset="0" stop-color="#1bc0b4"/><stop offset=".022" stop-color="#31c6a0"/><stop offset=".044" stop-color="#45cb88"/><stop offset=".1" stop-color="#8dcb4f"/><stop offset=".133" stop-color="#a7c73c"/><stop offset=".178" stop-color="#adc638"/><stop offset=".356" stop-color="#99c946"/><stop offset=".489" stop-color="#76cc61"/><stop offset=".656" stop-color="#66cd6d"/><stop offset=".778" stop-color="#35c79a"/><stop offset=".878" stop-color="#1cc0b4"/><stop offset=".944" stop-color="#02bbc2"/><stop offset="1" stop-color="#04b6ce"/></linearGradient><linearGradient id="c77" gradientUnits="userSpaceOnUse" x1="54.24" x2="202.04"><stop offset="0" stop-color="#0abdbd"/><stop offset=".011" stop-color="#1fc0b2"/><stop offset=".044" stop-color="#3fca8e"/><stop offset=".1" stop-color="#90ca4d"/><stop offset=".133" stop-color="#aec637"/><stop offset=".178" stop-color="#b6c532"/><stop offset=".344" stop-color="#afc636"/><stop offset=".489" stop-color="#8acb52"/><stop offset=".656" stop-color="#7acc5e"/><stop offset=".778" stop-color="#3ac994"/><stop offset=".889" stop-color="#1bc0b4"/><stop offset=".944" stop-color="#03bbc2"/><stop offset=".989" stop-color="#03b6cd"/><stop offset="1" stop-color="#06b5cf"/></linearGradient><linearGradient id="c76" gradientUnits="userSpaceOnUse" x1="55.39" x2="203.19"><stop offset="0" stop-color="#01bac5"/><stop offset=".022" stop-color="#25c2ae"/><stop offset=".056" stop-color="#47cb87"/><stop offset=".1" stop-color="#8dcb4f"/><stop offset=".133" stop-color="#afc636"/><stop offset=".167" stop-color="#bac430"/><stop offset=".333" stop-color="#c0c32d"/><stop offset=".489" stop-color="#9bc944"/><stop offset=".656" stop-color="#8bcb51"/><stop offset=".722" stop-color="#63cd70"/><stop offset=".789" stop-color="#3ac993"/><stop offset=".889" stop-color="#1dc0b3"/><stop offset=".944" stop-color="#03bbc2"/><stop offset=".989" stop-color="#04b6cd"/><stop offset="1" stop-color="#07b5d0"/></linearGradient><linearGradient id="c75" gradientUnits="userSpaceOnUse" x1="56.46" x2="204.26"><stop offset="0" stop-color="#03b6cd"/><stop offset=".011" stop-color="#03bbc1"/><stop offset=".033" stop-color="#2ac3a9"/><stop offset=".056" stop-color="#3fca8e"/><stop offset=".111" stop-color="#96ca48"/><stop offset=".144" stop-color="#b5c533"/><stop offset=".256" stop-color="#cac128"/><stop offset=".344" stop-color="#ccc028"/><stop offset=".489" stop-color="#aac73a"/><stop offset=".644" stop-color="#9ec942"/><stop offset=".689" stop-color="#88cb53"/><stop offset=".789" stop-color="#3eca8f"/><stop offset=".889" stop-color="#1fc0b2"/><stop offset=".944" stop-color="#02bbc2"/><stop offset=".989" stop-color="#05b6ce"/><stop offset="1" stop-color="#09b4d1"/></linearGradient><linearGradient id="c74" gradientUnits="userSpaceOnUse" x1="57.45" x2="205.25"><stop offset="0" stop-color="#0fb2d5"/><stop offset=".011" stop-color="#01b8c9"/><stop offset=".022" stop-color="#0bbdbd"/><stop offset=".033" stop-color="#22c1b0"/><stop offset=".067" stop-color="#47cb86"/><stop offset=".111" stop-color="#90ca4d"/><stop offset=".144" stop-color="#b2c534"/><stop offset=".233" stop-color="#cfc027"/><stop offset=".333" stop-color="#d7be28"/><stop offset=".444" stop-color="#bec32e"/><stop offset=".656" stop-color="#a7c73c"/><stop offset=".711" stop-color="#82cc58"/><stop offset=".789" stop-color="#42ca8b"/><stop offset=".9" stop-color="#1abfb5"/><stop offset=".944" stop-color="#02bbc3"/><stop offset=".978" stop-color="#02b7cc"/><stop offset="1" stop-color="#0bb4d2"/></linearGradient><linearGradient id="c73" gradientUnits="userSpaceOnUse" x1="58.36" x2="206.16"><stop offset="0" stop-color="#18addb"/><stop offset=".011" stop-color="#08b4d0"/><stop offset=".022" stop-color="#01bac4"/><stop offset=".044" stop-color="#29c3aa"/><stop offset=".067" stop-color="#3fca8e"/><stop offset=".122" stop-color="#99c946"/><stop offset=".156" stop-color="#b7c531"/><stop offset=".222" stop-color="#d2bf27"/><stop offset=".311" stop-color="#e1bc2a"/><stop offset=".4" stop-color="#d4bf27"/><stop offset=".5" stop-color="#c0c32c"/><stop offset=".644" stop-color="#b5c533"/><stop offset=".689" stop-color="#9ec942"/><stop offset=".789" stop-color="#46cb87"/><stop offset=".9" stop-color="#1bc0b4"/><stop offset=".944" stop-color="#02bbc3"/><stop offset=".978" stop-color="#03b6cd"/><stop offset="1" stop-color="#0cb3d3"/></linearGradient><linearGradient id="c72" gradientUnits="userSpaceOnUse" x1="59.22" x2="207.02"><stop offset="0" stop-color="#1da8e0"/><stop offset=".011" stop-color="#13b0d7"/><stop offset=".022" stop-color="#01b7cb"/><stop offset=".033" stop-color="#09bdbe"/><stop offset=".044" stop-color="#21c1b0"/><stop offset=".078" stop-color="#4acb85"/><stop offset=".122" stop-color="#95ca49"/><stop offset=".156" stop-color="#b7c532"/><stop offset=".211" stop-color="#d3bf27"/><stop offset=".289" stop-color="#e7bb2e"/><stop offset=".367" stop-color="#e4bb2c"/><stop offset=".489" stop-color="#cac128"/><stop offset=".644" stop-color="#bec32d"/><stop offset=".689" stop-color="#a7c73c"/><stop offset=".789" stop-color="#4acb84"/><stop offset=".844" stop-color="#32c69f"/><stop offset=".9" stop-color="#1cc0b4"/><stop offset=".944" stop-color="#02bbc3"/><stop offset=".978" stop-color="#04b6cd"/><stop offset="1" stop-color="#0eb3d4"/></linearGradient><linearGradient id="c71" gradientUnits="userSpaceOnUse" x1="60.05" x2="207.85"><stop offset="0" stop-color="#22a2e4"/><stop offset=".011" stop-color="#1aacdd"/><stop offset=".033" stop-color="#01bac4"/><stop offset=".056" stop-color="#2ac3a9"/><stop offset=".078" stop-color="#42ca8b"/><stop offset=".122" stop-color="#90ca4d"/><stop offset=".156" stop-color="#b6c532"/><stop offset=".2" stop-color="#d1bf27"/><stop offset=".278" stop-color="#ecba32"/><stop offset=".356" stop-color="#edba33"/><stop offset=".478" stop-color="#d3bf27"/><stop offset=".644" stop-color="#c6c22a"/><stop offset=".689" stop-color="#afc637"/><stop offset=".789" stop-color="#4ecc81"/><stop offset=".833" stop-color="#36c898"/><stop offset=".9" stop-color="#1cc0b3"/><stop offset=".944" stop-color="#02bac3"/><stop offset=".978" stop-color="#05b6ce"/><stop offset="1" stop-color="#0fb2d5"/></linearGradient><linearGradient id="c70" gradientUnits="userSpaceOnUse" x1="60.86" x2="208.66"><stop offset="0" stop-color="#259ce7"/><stop offset=".022" stop-color="#14b0d8"/><stop offset=".033" stop-color="#01b7cb"/><stop offset=".044" stop-color="#0bbdbd"/><stop offset=".056" stop-color="#24c1af"/><stop offset=".078" stop-color="#3dc990"/><stop offset=".122" stop-color="#8ccb50"/><stop offset=".156" stop-color="#b5c533"/><stop offset=".2" stop-color="#d3bf27"/><stop offset=".267" stop-color="#efba35"/><stop offset=".333" stop-color="#f5ba3b"/><stop offset=".478" stop-color="#dbbd28"/><stop offset=".644" stop-color="#cdc027"/><stop offset=".689" stop-color="#b6c533"/><stop offset=".756" stop-color="#70cd65"/><stop offset=".811" stop-color="#42ca8b"/><stop offset=".9" stop-color="#1dc0b3"/><stop offset=".944" stop-color="#02bac4"/><stop offset=".978" stop-color="#05b5cf"/><stop offset="1" stop-color="#11b2d5"/></linearGradient><linearGradient id="c69" gradientUnits="userSpaceOnUse" x1="61.64" x2="209.44"><stop offset="0" stop-color="#2797eb"/><stop offset=".022" stop-color="#1aacdd"/><stop offset=".033" stop-color="#08b4d0"/><stop offset=".044" stop-color="#02bbc2"/><stop offset=".056" stop-color="#1cc0b4"/><stop offset=".089" stop-color="#49cb85"/><stop offset=".133" stop-color="#9ac945"/><stop offset=".167" stop-color="#bdc32e"/><stop offset=".2" stop-color="#d5be27"/><stop offset=".267" stop-color="#f3ba39"/><stop offset=".333" stop-color="#fabb3e"/><stop offset=".5" stop-color="#e0bc2a"/><stop offset=".644" stop-color="#d4bf27"/><stop offset=".689" stop-color="#bcc42f"/><stop offset=".733" stop-color="#8fcb4e"/><stop offset=".789" stop-color="#55cc7c"/><stop offset=".833" stop-color="#38c895"/><stop offset=".9" stop-color="#1dc0b3"/><stop offset=".944" stop-color="#01bac4"/><stop offset=".978" stop-color="#06b5cf"/><stop offset="1" stop-color="#12b1d6"/></linearGradient><linearGradient id="c68" gradientUnits="userSpaceOnUse" x1="62.42" x2="210.22"><stop offset="0" stop-color="#2b91ef"/><stop offset=".033" stop-color="#11b1d6"/><stop offset=".044" stop-color="#00b9c8"/><stop offset=".067" stop-color="#29c3aa"/><stop offset=".089" stop-color="#44cb8a"/><stop offset=".133" stop-color="#97ca48"/><stop offset=".167" stop-color="#bdc32e"/><stop offset=".2" stop-color="#d7be28"/><stop offset=".267" stop-color="#f7ba3c"/><stop offset=".344" stop-color="#fdbc3e"/><stop offset=".433" stop-color="#efba35"/><stop offset=".6" stop-color="#e0bc2a"/><stop offset=".656" stop-color="#d7be28"/><stop offset=".689" stop-color="#c2c22c"/><stop offset=".733" stop-color="#94ca4a"/><stop offset=".789" stop-color="#57cc7a"/><stop offset=".833" stop-color="#39c994"/><stop offset=".9" stop-color="#1dc0b3"/><stop offset=".944" stop-color="#01bac4"/><stop offset=".978" stop-color="#08b5d0"/><stop offset="1" stop-color="#13b0d7"/></linearGradient><linearGradient id="c67" gradientUnits="userSpaceOnUse" x1="63.21" x2="211.01"><stop offset="0" stop-color="#2d8bf4"/><stop offset=".033" stop-color="#17aeda"/><stop offset=".044" stop-color="#03b6cd"/><stop offset=".056" stop-color="#09bdbe"/><stop offset=".067" stop-color="#24c1ae"/><stop offset=".089" stop-color="#3fca8e"/><stop offset=".133" stop-color="#94ca4a"/><stop offset=".167" stop-color="#bdc32e"/><stop offset=".2" stop-color="#d9be28"/><stop offset=".256" stop-color="#f6ba3c"/><stop offset=".322" stop-color="#febf3b"/><stop offset=".433" stop-color="#f4ba3a"/><stop offset=".644" stop-color="#e0bc2a"/><stop offset=".689" stop-color="#c8c129"/><stop offset=".733" stop-color="#99c946"/><stop offset=".789" stop-color="#59cc78"/><stop offset=".833" stop-color="#3ac994"/><stop offset=".9" stop-color="#1cc0b3"/><stop offset=".933" stop-color="#04bbc1"/><stop offset=".967" stop-color="#04b6cd"/><stop offset="1" stop-color="#15b0d8"/></linearGradient><linearGradient id="c66" gradientUnits="userSpaceOnUse" x1="63.99" x2="211.79"><stop offset="0" stop-color="#2e85f8"/><stop offset=".033" stop-color="#1babde"/><stop offset=".044" stop-color="#09b4d1"/><stop offset=".056" stop-color="#03bbc2"/><stop offset=".067" stop-color="#1ec0b2"/><stop offset=".089" stop-color="#3cc991"/><stop offset=".133" stop-color="#92ca4b"/><stop offset=".167" stop-color="#bdc32e"/><stop offset=".2" stop-color="#dabd28"/><stop offset=".256" stop-color="#f9ba3d"/><stop offset=".322" stop-color="#fec13a"/><stop offset=".456" stop-color="#f7ba3c"/><stop offset=".644" stop-color="#e6bb2d"/><stop offset=".689" stop-color="#cdc028"/><stop offset=".722" stop-color="#abc739"/><stop offset=".789" stop-color="#5bcc77"/><stop offset=".833" stop-color="#3ac993"/><stop offset=".9" stop-color="#1cc0b4"/><stop offset=".933" stop-color="#03bbc2"/><stop offset=".967" stop-color="#05b6ce"/><stop offset="1" stop-color="#16afd9"/></linearGradient><linearGradient id="c65" gradientUnits="userSpaceOnUse" x1="64.77" x2="212.57"><stop offset="0" stop-color="#307ffb"/><stop offset=".033" stop-color="#1ea8e1"/><stop offset=".056" stop-color="#00b9c6"/><stop offset=".078" stop-color="#2dc4a6"/><stop offset=".089" stop-color="#39c995"/><stop offset=".133" stop-color="#90ca4d"/><stop offset=".156" stop-color="#b0c636"/><stop offset=".189" stop-color="#d1bf27"/><stop offset=".222" stop-color="#e9ba30"/><stop offset=".256" stop-color="#faba3e"/><stop offset=".344" stop-color="#fec13a"/><stop offset=".533" stop-color="#f6ba3c"/><stop offset=".656" stop-color="#e7bb2e"/><stop offset=".7" stop-color="#c8c129"/><stop offset=".733" stop-color="#a1c840"/><stop offset=".789" stop-color="#5ccc76"/><stop offset=".833" stop-color="#3ac993"/><stop offset=".889" stop-color="#22c1b0"/><stop offset=".933" stop-color="#02bbc3"/><stop offset=".967" stop-color="#06b5cf"/><stop offset="1" stop-color="#17aeda"/></linearGradient><linearGradient id="c64" gradientUnits="userSpaceOnUse" x1="65.58" x2="213.38"><stop offset="0" stop-color="#3479fd"/><stop offset=".044" stop-color="#15afd9"/><stop offset=".056" stop-color="#01b8ca"/><stop offset=".067" stop-color="#11beba"/><stop offset=".078" stop-color="#2ac3a9"/><stop offset=".1" stop-color="#48cb86"/><stop offset=".133" stop-color="#8dcb4f"/><stop offset=".156" stop-color="#aec637"/><stop offset=".189" stop-color="#d0c027"/><stop offset=".222" stop-color="#e9bb2f"/><stop offset=".256" stop-color="#f9ba3e"/><stop offset=".333" stop-color="#fec239"/><stop offset=".589" stop-color="#f7ba3d"/><stop offset=".656" stop-color="#ecba32"/><stop offset=".7" stop-color="#ccc028"/><stop offset=".733" stop-color="#a4c83e"/><stop offset=".789" stop-color="#5ccc75"/><stop offset=".833" stop-color="#39c994"/><stop offset=".889" stop-color="#21c1b1"/><stop offset=".933" stop-color="#01bac4"/><stop offset=".967" stop-color="#08b4d1"/><stop offset="1" stop-color="#18addb"/></linearGradient><linearGradient id="c63" gradientUnits="userSpaceOnUse" x1="66.41" x2="214.21"><stop offset="0" stop-color="#3a74ff"/><stop offset=".011" stop-color="#2e85f8"/><stop offset=".044" stop-color="#19addc"/><stop offset=".056" stop-color="#04b6cd"/><stop offset=".067" stop-color="#0abdbd"/><stop offset=".078" stop-color="#26c2ad"/><stop offset=".1" stop-color="#44cb8a"/><stop offset=".133" stop-color="#89cb53"/><stop offset=".156" stop-color="#abc739"/><stop offset=".189" stop-color="#cdc028"/><stop offset=".233" stop-color="#ecba32"/><stop offset=".267" stop-color="#fabb3e"/><stop offset=".411" stop-color="#fec13a"/><stop offset=".611" stop-color="#f9ba3e"/><stop offset=".656" stop-color="#f0ba36"/><stop offset=".689" stop-color="#dabd28"/><stop offset=".711" stop-color="#c3c22b"/><stop offset=".756" stop-color="#86cb55"/><stop offset=".789" stop-color="#5ccc76"/><stop offset=".833" stop-color="#39c895"/><stop offset=".889" stop-color="#1fc0b2"/><stop offset=".922" stop-color="#04bbc1"/><stop offset=".944" stop-color="#01b8ca"/><stop offset="1" stop-color="#19addc"/></linearGradient><linearGradient id="c62" gradientUnits="userSpaceOnUse" x1="67.24" x2="215.04"><stop offset="0" stop-color="#3f6fff"/><stop offset=".011" stop-color="#2f80fa"/><stop offset=".044" stop-color="#1caadf"/><stop offset=".056" stop-color="#09b4d1"/><stop offset=".067" stop-color="#04bbc1"/><stop offset=".078" stop-color="#21c1b1"/><stop offset=".1" stop-color="#3fca8e"/><stop offset=".144" stop-color="#96ca48"/><stop offset=".178" stop-color="#bdc32e"/><stop offset=".211" stop-color="#d9be28"/><stop offset=".267" stop-color="#f5ba3b"/><stop offset=".333" stop-color="#febf3c"/><stop offset=".544" stop-color="#fec03a"/><stop offset=".644" stop-color="#f7ba3c"/><stop offset=".678" stop-color="#e6bb2d"/><stop offset=".7" stop-color="#d2bf27"/><stop offset=".722" stop-color="#b7c532"/><stop offset=".778" stop-color="#67cd6c"/><stop offset=".822" stop-color="#3eca8f"/><stop offset=".889" stop-color="#1cc0b4"/><stop offset=".922" stop-color="#02bbc2"/><stop offset=".944" stop-color="#02b7cb"/><stop offset="1" stop-color="#1aacdd"/></linearGradient><linearGradient id="c61" gradientUnits="userSpaceOnUse" x1="68.08" x2="215.88"><stop offset="0" stop-color="#426afe"/><stop offset=".011" stop-color="#327cfc"/><stop offset=".044" stop-color="#1ea7e1"/><stop offset=".067" stop-color="#01bac5"/><stop offset=".089" stop-color="#2ec4a5"/><stop offset=".1" stop-color="#3ac993"/><stop offset=".144" stop-color="#8ecb4e"/><stop offset=".178" stop-color="#b5c533"/><stop offset=".211" stop-color="#d1bf27"/><stop offset=".278" stop-color="#f1ba37"/><stop offset=".344" stop-color="#fdbd3d"/><stop offset=".511" stop-color="#fec537"/><stop offset=".644" stop-color="#faba3e"/><stop offset=".678" stop-color="#e9bb2f"/><stop offset=".7" stop-color="#d4bf27"/><stop offset=".722" stop-color="#b8c431"/><stop offset=".778" stop-color="#66cd6d"/><stop offset=".822" stop-color="#3cc991"/><stop offset=".878" stop-color="#22c1b0"/><stop offset=".922" stop-color="#01bac4"/><stop offset=".956" stop-color="#09b4d1"/><stop offset="1" stop-color="#1babde"/></linearGradient><linearGradient id="c60" gradientUnits="userSpaceOnUse" x1="68.91" x2="216.71"><stop offset="0" stop-color="#4465fd"/><stop offset=".011" stop-color="#3677fe"/><stop offset=".044" stop-color="#20a4e3"/><stop offset=".056" stop-color="#16afd9"/><stop offset=".067" stop-color="#01b8ca"/><stop offset=".078" stop-color="#11beba"/><stop offset=".089" stop-color="#29c3aa"/><stop offset=".111" stop-color="#46cb88"/><stop offset=".144" stop-color="#84cc56"/><stop offset=".178" stop-color="#abc739"/><stop offset=".222" stop-color="#cec027"/><stop offset=".3" stop-color="#efba35"/><stop offset=".367" stop-color="#fdbd3d"/><stop offset=".5" stop-color="#fec735"/><stop offset=".644" stop-color="#fbbb3e"/><stop offset=".678" stop-color="#ebba31"/><stop offset=".7" stop-color="#d5be27"/><stop offset=".722" stop-color="#b9c431"/><stop offset=".778" stop-color="#64cd6e"/><stop offset=".822" stop-color="#3bc992"/><stop offset=".878" stop-color="#1fc0b2"/><stop offset=".911" stop-color="#04bbc1"/><stop offset=".933" stop-color="#01b7ca"/><stop offset=".989" stop-color="#1aacdd"/><stop offset="1" stop-color="#1caadf"/></linearGradient><linearGradient id="c59" gradientUnits="userSpaceOnUse" x1="69.75" x2="217.55"><stop offset="0" stop-color="#4661fc"/><stop offset=".011" stop-color="#3b73ff"/><stop offset=".022" stop-color="#2e84f9"/><stop offset=".056" stop-color="#1aacdd"/><stop offset=".067" stop-color="#05b5cf"/><stop offset=".078" stop-color="#06bcbf"/><stop offset=".089" stop-color="#23c1af"/><stop offset=".111" stop-color="#3eca8f"/><stop offset=".144" stop-color="#78cc5f"/><stop offset=".178" stop-color="#9fc941"/><stop offset=".233" stop-color="#c8c129"/><stop offset=".3" stop-color="#e4bb2c"/><stop offset=".378" stop-color="#fcbc3e"/><stop offset=".489" stop-color="#fec834"/><stop offset=".644" stop-color="#fcbc3e"/><stop offset=".667" stop-color="#f2ba39"/><stop offset=".7" stop-color="#d5be27"/><stop offset=".722" stop-color="#b8c431"/><stop offset=".778" stop-color="#62cd70"/><stop offset=".811" stop-color="#40ca8d"/><stop offset=".878" stop-color="#1dc0b3"/><stop offset=".911" stop-color="#02bbc3"/><stop offset=".933" stop-color="#02b7cc"/><stop offset=".989" stop-color="#1babde"/><stop offset="1" stop-color="#1da9e0"/></linearGradient><linearGradient id="c58" gradientUnits="userSpaceOnUse" x1="70.58" x2="218.38"><stop offset="0" stop-color="#475dfa"/><stop offset=".011" stop-color="#3f6eff"/><stop offset=".022" stop-color="#2f80fb"/><stop offset=".056" stop-color="#1da9e0"/><stop offset=".078" stop-color="#01bac4"/><stop offset=".1" stop-color="#2dc4a6"/><stop offset=".122" stop-color="#47cb87"/><stop offset=".156" stop-color="#7acc5d"/><stop offset=".211" stop-color="#acc739"/><stop offset=".278" stop-color="#cec027"/><stop offset=".344" stop-color="#eaba30"/><stop offset=".389" stop-color="#fbbb3e"/><stop offset=".489" stop-color="#fec735"/><stop offset=".644" stop-color="#fbbb3e"/><stop offset=".678" stop-color="#e9ba2f"/><stop offset=".7" stop-color="#d3bf27"/><stop offset=".722" stop-color="#b6c532"/><stop offset=".778" stop-color="#5fcd73"/><stop offset=".811" stop-color="#3eca8f"/><stop offset=".878" stop-color="#1abfb5"/><stop offset=".911" stop-color="#01bac4"/><stop offset=".933" stop-color="#04b6cd"/><stop offset=".978" stop-color="#19addc"/><stop offset="1" stop-color="#1ea7e1"/></linearGradient><linearGradient id="c57" gradientUnits="userSpaceOnUse" x1="71.41" x2="219.21"><stop offset="0" stop-color="#4759f8"/><stop offset=".011" stop-color="#426afe"/><stop offset=".022" stop-color="#327bfc"/><stop offset=".067" stop-color="#15b0d8"/><stop offset=".078" stop-color="#01b8ca"/><stop offset=".089" stop-color="#0ebebb"/><stop offset=".1" stop-color="#26c2ac"/><stop offset=".133" stop-color="#4ecc81"/><stop offset=".167" stop-color="#78cc5f"/><stop offset=".222" stop-color="#a3c83e"/><stop offset=".311" stop-color="#cfc027"/><stop offset=".367" stop-color="#eaba30"/><stop offset=".411" stop-color="#fbbb3e"/><stop offset=".5" stop-color="#fec338"/><stop offset=".633" stop-color="#faba3e"/><stop offset=".667" stop-color="#edba33"/><stop offset=".7" stop-color="#cfc027"/><stop offset=".722" stop-color="#b1c635"/><stop offset=".778" stop-color="#5ccc75"/><stop offset=".811" stop-color="#3cc991"/><stop offset=".867" stop-color="#20c1b1"/><stop offset=".9" stop-color="#04bbc1"/><stop offset=".922" stop-color="#01b7ca"/><stop offset=".978" stop-color="#1aacdd"/><stop offset="1" stop-color="#1fa6e2"/></linearGradient><linearGradient id="c56" gradientUnits="userSpaceOnUse" x1="72.27" x2="220.07"><stop offset="0" stop-color="#4855f6"/><stop offset=".011" stop-color="#4465fd"/><stop offset=".022" stop-color="#3777fe"/><stop offset=".067" stop-color="#19acdc"/><stop offset=".078" stop-color="#06b5cf"/><stop offset=".089" stop-color="#04bbc1"/><stop offset=".1" stop-color="#1dc0b3"/><stop offset=".122" stop-color="#36c898"/><stop offset=".167" stop-color="#69cd6b"/><stop offset=".222" stop-color="#93ca4a"/><stop offset=".333" stop-color="#cbc028"/><stop offset=".389" stop-color="#eaba30"/><stop offset=".433" stop-color="#fabb3e"/><stop offset=".567" stop-color="#fcbb3e"/><stop offset=".644" stop-color="#f1ba37"/><stop offset=".678" stop-color="#dfbc2a"/><stop offset=".7" stop-color="#c9c128"/><stop offset=".733" stop-color="#9bc945"/><stop offset=".778" stop-color="#59cc78"/><stop offset=".811" stop-color="#3ac993"/><stop offset=".867" stop-color="#1ec0b2"/><stop offset=".9" stop-color="#03bbc2"/><stop offset=".922" stop-color="#02b7cb"/><stop offset=".978" stop-color="#1babde"/><stop offset="1" stop-color="#1fa5e2"/></linearGradient><linearGradient id="c55" gradientUnits="userSpaceOnUse" x1="73.16" x2="220.96"><stop offset="0" stop-color="#4851f3"/><stop offset=".011" stop-color="#4661fc"/><stop offset=".022" stop-color="#3c72ff"/><stop offset=".033" stop-color="#2e82f9"/><stop offset=".067" stop-color="#1da9e0"/><stop offset=".089" stop-color="#00b9c7"/><stop offset=".111" stop-color="#26c2ac"/><stop offset=".156" stop-color="#51cc7f"/><stop offset=".222" stop-color="#83cc57"/><stop offset=".356" stop-color="#cac128"/><stop offset=".411" stop-color="#e8bb2f"/><stop offset=".467" stop-color="#f7ba3c"/><stop offset=".622" stop-color="#edba33"/><stop offset=".667" stop-color="#dfbc2a"/><stop offset=".689" stop-color="#cdc027"/><stop offset=".722" stop-color="#a4c83e"/><stop offset=".778" stop-color="#55cc7c"/><stop offset=".811" stop-color="#39c995"/><stop offset=".867" stop-color="#1dc0b3"/><stop offset=".9" stop-color="#02bbc3"/><stop offset=".922" stop-color="#03b7cc"/><stop offset=".967" stop-color="#19addc"/><stop offset="1" stop-color="#20a4e3"/></linearGradient><linearGradient id="c54" gradientUnits="userSpaceOnUse" x1="74.05" x2="221.85"><stop offset="0" stop-color="#484df0"/><stop offset=".022" stop-color="#406dfe"/><stop offset=".033" stop-color="#307efb"/><stop offset=".078" stop-color="#16afda"/><stop offset=".089" stop-color="#03b6cd"/><stop offset=".1" stop-color="#05bcc0"/><stop offset=".111" stop-color="#1cc0b3"/><stop offset=".122" stop-color="#2bc3a8"/><stop offset=".167" stop-color="#4ecc81"/><stop offset=".244" stop-color="#7fcc5a"/><stop offset=".356" stop-color="#bcc42f"/><stop offset=".4" stop-color="#d7be28"/><stop offset=".456" stop-color="#ebba31"/><stop offset=".6" stop-color="#e6bb2d"/><stop offset=".656" stop-color="#dcbd29"/><stop offset=".689" stop-color="#c4c22b"/><stop offset=".722" stop-color="#9cc944"/><stop offset=".778" stop-color="#51cc7f"/><stop offset=".811" stop-color="#37c897"/><stop offset=".856" stop-color="#23c1af"/><stop offset=".9" stop-color="#01bac4"/><stop offset=".922" stop-color="#03b6cd"/><stop offset=".967" stop-color="#1aacdd"/><stop offset="1" stop-color="#21a3e3"/></linearGradient><linearGradient id="c53" gradientUnits="userSpaceOnUse" x1="74.96" x2="222.76"><stop offset="0" stop-color="#4849ed"/><stop offset=".022" stop-color="#4369fe"/><stop offset=".033" stop-color="#3479fd"/><stop offset=".078" stop-color="#1babde"/><stop offset=".1" stop-color="#00b9c7"/><stop offset=".122" stop-color="#23c1af"/><stop offset=".178" stop-color="#49cb85"/><stop offset=".356" stop-color="#adc638"/><stop offset=".411" stop-color="#d0c027"/><stop offset=".467" stop-color="#e1bc2a"/><stop offset=".633" stop-color="#d7be28"/><stop offset=".667" stop-color="#ccc028"/><stop offset=".7" stop-color="#aec637"/><stop offset=".778" stop-color="#4dcc82"/><stop offset=".811" stop-color="#36c899"/><stop offset=".856" stop-color="#21c1b0"/><stop offset=".889" stop-color="#05bcc0"/><stop offset=".911" stop-color="#01b8c9"/><stop offset=".967" stop-color="#1aabdd"/><stop offset="1" stop-color="#22a2e4"/></linearGradient><linearGradient id="c52" gradientUnits="userSpaceOnUse" x1="75.9" x2="223.7"><stop offset="0" stop-color="#4745ea"/><stop offset=".022" stop-color="#4464fd"/><stop offset=".033" stop-color="#3974ff"/><stop offset=".044" stop-color="#2e84f9"/><stop offset=".089" stop-color="#15afd9"/><stop offset=".1" stop-color="#04b6cd"/><stop offset=".111" stop-color="#03bbc2"/><stop offset=".133" stop-color="#26c2ad"/><stop offset=".211" stop-color="#50cc80"/><stop offset=".333" stop-color="#8fcb4e"/><stop offset=".411" stop-color="#c3c22b"/><stop offset=".467" stop-color="#d6be27"/><stop offset=".633" stop-color="#cdc028"/><stop offset=".667" stop-color="#c1c32c"/><stop offset=".711" stop-color="#98ca47"/><stop offset=".778" stop-color="#48cb86"/><stop offset=".822" stop-color="#30c5a1"/><stop offset=".867" stop-color="#16bfb7"/><stop offset=".889" stop-color="#04bbc1"/><stop offset=".911" stop-color="#01b7cb"/><stop offset=".967" stop-color="#1babde"/><stop offset="1" stop-color="#23a1e4"/></linearGradient><linearGradient id="c51" gradientUnits="userSpaceOnUse" x1="76.83" x2="224.63"><stop offset="0" stop-color="#4742e6"/><stop offset=".022" stop-color="#4660fc"/><stop offset=".044" stop-color="#307ffb"/><stop offset=".089" stop-color="#1babde"/><stop offset=".111" stop-color="#01b8c9"/><stop offset=".122" stop-color="#07bcbf"/><stop offset=".144" stop-color="#26c2ad"/><stop offset=".244" stop-color="#52cc7e"/><stop offset=".333" stop-color="#80cc59"/><stop offset=".411" stop-color="#b7c532"/><stop offset=".467" stop-color="#ccc028"/><stop offset=".633" stop-color="#c2c22c"/><stop offset=".667" stop-color="#b6c532"/><stop offset=".711" stop-color="#8ecb4e"/><stop offset=".778" stop-color="#44cb8a"/><stop offset=".856" stop-color="#1cc0b4"/><stop offset=".889" stop-color="#02bbc2"/><stop offset=".911" stop-color="#02b7cc"/><stop offset=".967" stop-color="#1caadf"/><stop offset="1" stop-color="#23a0e5"/></linearGradient><linearGradient id="c50" gradientUnits="userSpaceOnUse" x1="77.77" x2="225.57"><stop offset="0" stop-color="#473fe2"/><stop offset=".022" stop-color="#475cfa"/><stop offset=".033" stop-color="#416bfe"/><stop offset=".044" stop-color="#347afd"/><stop offset=".089" stop-color="#1fa6e2"/><stop offset=".1" stop-color="#17aeda"/><stop offset=".122" stop-color="#00b9c7"/><stop offset=".133" stop-color="#08bcbe"/><stop offset=".156" stop-color="#23c1af"/><stop offset=".3" stop-color="#5dcd75"/><stop offset=".367" stop-color="#8acb52"/><stop offset=".433" stop-color="#b7c532"/><stop offset=".478" stop-color="#c1c32c"/><stop offset=".644" stop-color="#b4c533"/><stop offset=".689" stop-color="#9ac946"/><stop offset=".778" stop-color="#3fca8e"/><stop offset=".844" stop-color="#21c1b0"/><stop offset=".889" stop-color="#01bac4"/><stop offset=".911" stop-color="#03b6cd"/><stop offset=".956" stop-color="#1aacdd"/><stop offset="1" stop-color="#249fe5"/></linearGradient><linearGradient id="c49" gradientUnits="userSpaceOnUse" x1="78.71" x2="226.51"><stop offset="0" stop-color="#463cdf"/><stop offset=".022" stop-color="#4758f8"/><stop offset=".044" stop-color="#3974ff"/><stop offset=".056" stop-color="#2f82fa"/><stop offset=".1" stop-color="#1ca9e0"/><stop offset=".133" stop-color="#00b9c7"/><stop offset=".156" stop-color="#13beb9"/><stop offset=".189" stop-color="#2ac3a9"/><stop offset=".289" stop-color="#49cb85"/><stop offset=".356" stop-color="#72cd64"/><stop offset=".433" stop-color="#aac73a"/><stop offset=".478" stop-color="#b5c533"/><stop offset=".644" stop-color="#a7c73c"/><stop offset=".689" stop-color="#8dcb4f"/><stop offset=".778" stop-color="#3bc992"/><stop offset=".844" stop-color="#1dc0b3"/><stop offset=".878" stop-color="#04bbc1"/><stop offset=".9" stop-color="#01b8ca"/><stop offset=".956" stop-color="#1babde"/><stop offset="1" stop-color="#249ee6"/></linearGradient><linearGradient id="c48" gradientUnits="userSpaceOnUse" x1="79.65" x2="227.45"><stop offset="0" stop-color="#4639da"/><stop offset=".022" stop-color="#4854f6"/><stop offset=".044" stop-color="#3f6fff"/><stop offset=".056" stop-color="#327cfc"/><stop offset=".111" stop-color="#1babde"/><stop offset=".144" stop-color="#00b8c8"/><stop offset=".167" stop-color="#0bbdbc"/><stop offset=".2" stop-color="#24c1ae"/><stop offset=".311" stop-color="#47cb87"/><stop offset=".389" stop-color="#7ecc5b"/><stop offset=".444" stop-color="#a1c840"/><stop offset=".489" stop-color="#a8c73b"/><stop offset=".644" stop-color="#99c946"/><stop offset=".689" stop-color="#80cc59"/><stop offset=".767" stop-color="#3dca90"/><stop offset=".833" stop-color="#21c1b0"/><stop offset=".878" stop-color="#02bbc3"/><stop offset=".911" stop-color="#07b5d0"/><stop offset=".956" stop-color="#1babde"/><stop offset="1" stop-color="#249ee6"/></linearGradient><linearGradient id="c47" gradientUnits="userSpaceOnUse" x1="80.61" x2="228.41"><stop offset="0" stop-color="#4537d6"/><stop offset=".022" stop-color="#4850f3"/><stop offset=".044" stop-color="#4269fe"/><stop offset=".067" stop-color="#2f82fa"/><stop offset=".122" stop-color="#1babde"/><stop offset=".156" stop-color="#02b7cb"/><stop offset=".178" stop-color="#04bbc1"/><stop offset=".233" stop-color="#27c2ac"/><stop offset=".322" stop-color="#40ca8d"/><stop offset=".444" stop-color="#94ca4a"/><stop offset=".489" stop-color="#9bc945"/><stop offset=".644" stop-color="#8bcb51"/><stop offset=".689" stop-color="#73cd63"/><stop offset=".767" stop-color="#39c895"/><stop offset=".833" stop-color="#1dc0b3"/><stop offset=".878" stop-color="#01bac5"/><stop offset=".911" stop-color="#09b4d1"/><stop offset=".956" stop-color="#1caadf"/><stop offset="1" stop-color="#259de6"/></linearGradient><linearGradient id="c46" gradientUnits="userSpaceOnUse" x1="81.6" x2="229.4"><stop offset="0" stop-color="#4435d1"/><stop offset=".022" stop-color="#484cf0"/><stop offset=".044" stop-color="#4564fd"/><stop offset=".067" stop-color="#327cfc"/><stop offset=".122" stop-color="#20a5e3"/><stop offset=".178" stop-color="#01b8ca"/><stop offset=".2" stop-color="#04bbc1"/><stop offset=".267" stop-color="#29c3aa"/><stop offset=".344" stop-color="#42ca8c"/><stop offset=".433" stop-color="#80cc59"/><stop offset=".478" stop-color="#8ecb4f"/><stop offset=".633" stop-color="#7fcc5a"/><stop offset=".678" stop-color="#6dcd67"/><stop offset=".756" stop-color="#39c994"/><stop offset=".822" stop-color="#1fc0b2"/><stop offset=".867" stop-color="#02bbc2"/><stop offset=".9" stop-color="#05b5cf"/><stop offset=".956" stop-color="#1ca9df"/><stop offset="1" stop-color="#259de7"/></linearGradient><linearGradient id="c45" gradientUnits="userSpaceOnUse" x1="82.62" x2="230.42"><stop offset="0" stop-color="#4433cc"/><stop offset=".022" stop-color="#4848ec"/><stop offset=".056" stop-color="#426afe"/><stop offset=".078" stop-color="#2f7ffb"/><stop offset=".133" stop-color="#20a4e3"/><stop offset=".2" stop-color="#01b8ca"/><stop offset=".233" stop-color="#09bdbd"/><stop offset=".289" stop-color="#28c2ab"/><stop offset=".356" stop-color="#3eca8f"/><stop offset=".444" stop-color="#78cc5f"/><stop offset=".489" stop-color="#80cc59"/><stop offset=".644" stop-color="#6ecd66"/><stop offset=".711" stop-color="#4dcc82"/><stop offset=".767" stop-color="#32c69f"/><stop offset=".822" stop-color="#1bc0b4"/><stop offset=".867" stop-color="#01bac5"/><stop offset=".9" stop-color="#08b5d0"/><stop offset=".956" stop-color="#1da8e0"/><stop offset="1" stop-color="#259ce7"/></linearGradient><linearGradient id="c44" gradientUnits="userSpaceOnUse" x1="83.69" x2="231.49"><stop offset="0" stop-color="#4331c6"/><stop offset=".022" stop-color="#4744e8"/><stop offset=".056" stop-color="#4564fd"/><stop offset=".089" stop-color="#2f82fa"/><stop offset=".156" stop-color="#1ea7e1"/><stop offset=".222" stop-color="#01b8c9"/><stop offset=".256" stop-color="#08bcbe"/><stop offset=".322" stop-color="#2cc4a7"/><stop offset=".378" stop-color="#42ca8c"/><stop offset=".444" stop-color="#6acd6a"/><stop offset=".489" stop-color="#71cd64"/><stop offset=".644" stop-color="#61cd71"/><stop offset=".744" stop-color="#35c799"/><stop offset=".811" stop-color="#1cc0b3"/><stop offset=".856" stop-color="#02bbc3"/><stop offset=".889" stop-color="#04b6ce"/><stop offset=".944" stop-color="#1babde"/><stop offset="1" stop-color="#259ce7"/></linearGradient><linearGradient id="c43" gradientUnits="userSpaceOnUse" x1="84.81" x2="232.61"><stop offset="0" stop-color="#422ec0"/><stop offset=".022" stop-color="#4740e4"/><stop offset=".056" stop-color="#465efb"/><stop offset=".089" stop-color="#337afd"/><stop offset=".156" stop-color="#23a1e4"/><stop offset=".211" stop-color="#10b2d5"/><stop offset=".244" stop-color="#01b8c9"/><stop offset=".278" stop-color="#09bdbe"/><stop offset=".344" stop-color="#2ec4a5"/><stop offset=".4" stop-color="#45cb88"/><stop offset=".456" stop-color="#61cd71"/><stop offset=".567" stop-color="#60cd73"/><stop offset=".667" stop-color="#50cc80"/><stop offset=".8" stop-color="#1dc0b3"/><stop offset=".856" stop-color="#01bac5"/><stop offset=".889" stop-color="#07b5d0"/><stop offset=".944" stop-color="#1caadf"/><stop offset="1" stop-color="#259be7"/></linearGradient><linearGradient id="c42" gradientUnits="userSpaceOnUse" x1="85.95" x2="233.75"><stop offset="0" stop-color="#412cba"/><stop offset=".022" stop-color="#463cdf"/><stop offset=".056" stop-color="#4758f8"/><stop offset=".089" stop-color="#3b73ff"/><stop offset=".111" stop-color="#2e83f9"/><stop offset=".189" stop-color="#1fa6e2"/><stop offset=".233" stop-color="#0fb2d4"/><stop offset=".267" stop-color="#00b8c9"/><stop offset=".3" stop-color="#0bbdbd"/><stop offset=".356" stop-color="#2cc4a7"/><stop offset=".456" stop-color="#55cc7c"/><stop offset=".578" stop-color="#53cc7d"/><stop offset=".667" stop-color="#46cb88"/><stop offset=".789" stop-color="#1ec0b3"/><stop offset=".844" stop-color="#01bac4"/><stop offset=".878" stop-color="#04b6ce"/><stop offset=".933" stop-color="#1aacdd"/><stop offset="1" stop-color="#259be8"/></linearGradient><linearGradient id="c41" gradientUnits="userSpaceOnUse" x1="87.13" x2="234.93"><stop offset="0" stop-color="#402ab5"/><stop offset=".022" stop-color="#4539d9"/><stop offset=".056" stop-color="#4853f4"/><stop offset=".089" stop-color="#416bfe"/><stop offset=".122" stop-color="#2f82fa"/><stop offset=".211" stop-color="#1ea8e1"/><stop offset=".256" stop-color="#0db3d3"/><stop offset=".289" stop-color="#00b9c7"/><stop offset=".322" stop-color="#0fbebb"/><stop offset=".367" stop-color="#2bc3a8"/><stop offset=".456" stop-color="#49cb85"/><stop offset=".589" stop-color="#47cb87"/><stop offset=".678" stop-color="#3bc992"/><stop offset=".767" stop-color="#23c1af"/><stop offset=".833" stop-color="#02bbc3"/><stop offset=".867" stop-color="#03b7cc"/><stop offset=".933" stop-color="#1babde"/><stop offset="1" stop-color="#259be8"/></linearGradient><linearGradient id="c40" gradientUnits="userSpaceOnUse" x1="88.35" x2="236.15"><stop offset="0" stop-color="#3f29b0"/><stop offset=".033" stop-color="#463de0"/><stop offset=".078" stop-color="#475cfa"/><stop offset=".111" stop-color="#3b72ff"/><stop offset=".144" stop-color="#2e86f7"/><stop offset=".256" stop-color="#16afd9"/><stop offset=".3" stop-color="#01b8c9"/><stop offset=".333" stop-color="#0bbdbd"/><stop offset=".378" stop-color="#29c3aa"/><stop offset=".456" stop-color="#3eca8f"/><stop offset=".644" stop-color="#3ac993"/><stop offset=".744" stop-color="#27c2ac"/><stop offset=".822" stop-color="#03bbc2"/><stop offset=".867" stop-color="#05b6ce"/><stop offset=".933" stop-color="#1caadf"/><stop offset="1" stop-color="#269ae8"/></linearGradient><linearGradient id="c39" gradientUnits="userSpaceOnUse" x1="89.63" x2="237.43"><stop offset="0" stop-color="#3e27ac"/><stop offset=".033" stop-color="#4639da"/><stop offset=".067" stop-color="#484ff2"/><stop offset=".111" stop-color="#426afe"/><stop offset=".156" stop-color="#2e84f9"/><stop offset=".267" stop-color="#18aedb"/><stop offset=".311" stop-color="#01b7cb"/><stop offset=".344" stop-color="#08bcbe"/><stop offset=".389" stop-color="#27c2ac"/><stop offset=".467" stop-color="#38c896"/><stop offset=".667" stop-color="#33c69d"/><stop offset=".744" stop-color="#22c1b0"/><stop offset=".811" stop-color="#03bbc2"/><stop offset=".856" stop-color="#04b6cd"/><stop offset=".933" stop-color="#1ca9df"/><stop offset="1" stop-color="#269ae9"/></linearGradient><linearGradient id="c38" gradientUnits="userSpaceOnUse" x1="90.98" x2="238.78"><stop offset="0" stop-color="#3e27a9"/><stop offset=".044" stop-color="#463cde"/><stop offset=".089" stop-color="#4756f7"/><stop offset=".133" stop-color="#3e6fff"/><stop offset=".167" stop-color="#2f81fa"/><stop offset=".278" stop-color="#19addc"/><stop offset=".333" stop-color="#00b8c8"/><stop offset=".356" stop-color="#05bcc0"/><stop offset=".411" stop-color="#28c2ab"/><stop offset=".478" stop-color="#32c69e"/><stop offset=".678" stop-color="#2dc4a5"/><stop offset=".744" stop-color="#1ac0b5"/><stop offset=".8" stop-color="#02bbc2"/><stop offset=".844" stop-color="#03b6cd"/><stop offset=".922" stop-color="#1baade"/><stop offset="1" stop-color="#2699e9"/></linearGradient><linearGradient id="c37" gradientUnits="userSpaceOnUse" x1="92.44" x2="240.24"><stop offset="0" stop-color="#3e26a8"/><stop offset=".056" stop-color="#473ee2"/><stop offset=".111" stop-color="#475cfa"/><stop offset=".156" stop-color="#3b73ff"/><stop offset=".189" stop-color="#2e84f8"/><stop offset=".3" stop-color="#16afd9"/><stop offset=".344" stop-color="#01b8ca"/><stop offset=".378" stop-color="#09bdbe"/><stop offset=".422" stop-color="#24c1ae"/><stop offset=".489" stop-color="#2dc4a6"/><stop offset=".678" stop-color="#28c3ab"/><stop offset=".744" stop-color="#12beb9"/><stop offset=".789" stop-color="#01bac4"/><stop offset=".844" stop-color="#07b5d0"/><stop offset=".922" stop-color="#1da9e0"/><stop offset="1" stop-color="#2698ea"/></linearGradient><linearGradient id="c36" gradientUnits="userSpaceOnUse" x1="94" x2="241.8"><stop offset="0" stop-color="#3e26a9"/><stop offset=".056" stop-color="#463bdd"/><stop offset=".111" stop-color="#4756f7"/><stop offset=".167" stop-color="#3d71ff"/><stop offset=".2" stop-color="#2e82f9"/><stop offset=".3" stop-color="#1babde"/><stop offset=".367" stop-color="#00b8c8"/><stop offset=".4" stop-color="#0bbdbc"/><stop offset=".444" stop-color="#21c1b1"/><stop offset=".611" stop-color="#25c2ad"/><stop offset=".689" stop-color="#1fc0b2"/><stop offset=".778" stop-color="#01bac5"/><stop offset=".833" stop-color="#09b4d1"/><stop offset=".922" stop-color="#1ea7e1"/><stop offset="1" stop-color="#2797eb"/></linearGradient><linearGradient id="c35" gradientUnits="userSpaceOnUse" x1="95.62" x2="243.42"><stop offset="0" stop-color="#3e27aa"/><stop offset=".067" stop-color="#463de0"/><stop offset=".133" stop-color="#475af9"/><stop offset=".178" stop-color="#3e6fff"/><stop offset=".211" stop-color="#2f81fa"/><stop offset=".311" stop-color="#1ca9df"/><stop offset=".389" stop-color="#00b9c7"/><stop offset=".467" stop-color="#19bfb5"/><stop offset=".667" stop-color="#1abfb5"/><stop offset=".756" stop-color="#01bac5"/><stop offset=".811" stop-color="#08b4d0"/><stop offset=".911" stop-color="#1ea7e1"/><stop offset="1" stop-color="#2895ec"/></linearGradient><linearGradient id="c34" gradientUnits="userSpaceOnUse" x1="97.24" x2="245.04"><stop offset="0" stop-color="#3f28ad"/><stop offset=".078" stop-color="#473ee1"/><stop offset=".156" stop-color="#465efb"/><stop offset=".2" stop-color="#3a73ff"/><stop offset=".233" stop-color="#2e85f8"/><stop offset=".322" stop-color="#1ea7e1"/><stop offset=".378" stop-color="#0bb4d2"/><stop offset=".411" stop-color="#00b9c8"/><stop offset=".5" stop-color="#0ebdbb"/><stop offset=".667" stop-color="#0fbebb"/><stop offset=".744" stop-color="#00b9c8"/><stop offset=".9" stop-color="#1fa5e2"/><stop offset="1" stop-color="#2c90f0"/></linearGradient><linearGradient id="c33" gradientUnits="userSpaceOnUse" x1="98.9" x2="246.7"><stop offset="0" stop-color="#3f28b0"/><stop offset=".1" stop-color="#4743e7"/><stop offset=".189" stop-color="#4466fd"/><stop offset=".233" stop-color="#307ffb"/><stop offset=".322" stop-color="#21a3e4"/><stop offset=".389" stop-color="#10b2d5"/><stop offset=".433" stop-color="#01b8c9"/><stop offset=".6" stop-color="#07bcbf"/><stop offset=".711" stop-color="#00b9c6"/><stop offset=".767" stop-color="#09b4d1"/><stop offset=".867" stop-color="#1ea7e1"/><stop offset="1" stop-color="#2d88f6"/></linearGradient><linearGradient id="c32" gradientUnits="userSpaceOnUse" x1="100.78" x2="248.58"><stop offset="0" stop-color="#402ab4"/><stop offset=".122" stop-color="#4747eb"/><stop offset=".211" stop-color="#416bfe"/><stop offset=".256" stop-color="#2e84f8"/><stop offset=".344" stop-color="#21a4e3"/><stop offset=".422" stop-color="#0bb3d2"/><stop offset=".478" stop-color="#01b8c9"/><stop offset=".678" stop-color="#00b9c6"/><stop offset=".744" stop-color="#09b4d1"/><stop offset=".844" stop-color="#1ea7e1"/><stop offset="1" stop-color="#307efb"/></linearGradient><linearGradient id="c31" gradientUnits="userSpaceOnUse" x1="103.18" x2="250.98"><stop offset="0" stop-color="#412cbb"/><stop offset=".122" stop-color="#4745e9"/><stop offset=".211" stop-color="#4367fd"/><stop offset=".256" stop-color="#2f80fb"/><stop offset=".344" stop-color="#23a0e5"/><stop offset=".467" stop-color="#07b5d0"/><stop offset=".667" stop-color="#01b8ca"/><stop offset=".744" stop-color="#12b1d6"/><stop offset=".911" stop-color="#2b91ef"/><stop offset=".978" stop-color="#337bfc"/><stop offset="1" stop-color="#3c72ff"/></linearGradient><linearGradient id="c30" gradientUnits="userSpaceOnUse" x1="106.25" x2="254.05"><stop offset="0" stop-color="#4230c4"/><stop offset=".122" stop-color="#4747eb"/><stop offset=".211" stop-color="#4466fd"/><stop offset=".267" stop-color="#2e83f9"/><stop offset=".367" stop-color="#21a3e4"/><stop offset=".489" stop-color="#0cb3d3"/><stop offset=".656" stop-color="#04b6ce"/><stop offset=".811" stop-color="#22a1e4"/><stop offset=".956" stop-color="#337bfc"/><stop offset="1" stop-color="#4269fe"/></linearGradient><linearGradient id="c29" gradientUnits="userSpaceOnUse" x1="109.87" x2="257.67"><stop offset="0" stop-color="#4535d2"/><stop offset=".133" stop-color="#484df0"/><stop offset=".222" stop-color="#406cfe"/><stop offset=".267" stop-color="#2f82f9"/><stop offset=".378" stop-color="#21a3e4"/><stop offset=".5" stop-color="#11b1d6"/><stop offset=".656" stop-color="#0bb4d2"/><stop offset=".8" stop-color="#259de7"/><stop offset=".933" stop-color="#337bfc"/><stop offset="1" stop-color="#4563fd"/></linearGradient><linearGradient id="c28" gradientUnits="userSpaceOnUse" x1="113.23" x2="261.03"><stop offset="0" stop-color="#4740e4"/><stop offset=".144" stop-color="#4854f5"/><stop offset=".222" stop-color="#406dfe"/><stop offset=".267" stop-color="#2f82f9"/><stop offset=".389" stop-color="#20a4e3"/><stop offset=".522" stop-color="#11b1d6"/><stop offset=".656" stop-color="#0db3d3"/><stop offset=".789" stop-color="#269ae9"/><stop offset=".911" stop-color="#3579fd"/><stop offset=".989" stop-color="#465efb"/><stop offset="1" stop-color="#475af9"/></linearGradient><linearGradient id="c27" gradientUnits="userSpaceOnUse" x1="115.87" x2="263.67"><stop offset="0" stop-color="#484df0"/><stop offset=".167" stop-color="#465efb"/><stop offset=".222" stop-color="#3d71ff"/><stop offset=".267" stop-color="#2e85f8"/><stop offset=".389" stop-color="#1fa5e2"/><stop offset=".522" stop-color="#10b2d5"/><stop offset=".656" stop-color="#0cb3d3"/><stop offset=".767" stop-color="#259ce7"/><stop offset=".878" stop-color="#327bfc"/><stop offset=".944" stop-color="#4563fc"/><stop offset="1" stop-color="#484ff2"/></linearGradient><linearGradient id="c26" gradientUnits="userSpaceOnUse" x1="118.16" x2="265.96"><stop offset="0" stop-color="#4759f9"/><stop offset=".178" stop-color="#4367fd"/><stop offset=".244" stop-color="#2f80fa"/><stop offset=".344" stop-color="#249fe6"/><stop offset=".478" stop-color="#11b1d6"/><stop offset=".644" stop-color="#0ab4d1"/><stop offset=".733" stop-color="#21a4e3"/><stop offset=".867" stop-color="#3678fd"/><stop offset=".933" stop-color="#465efb"/><stop offset="1" stop-color="#4744e8"/></linearGradient><linearGradient id="c25" gradientUnits="userSpaceOnUse" x1="120.32" x2="268.12"><stop offset="0" stop-color="#4466fd"/><stop offset=".178" stop-color="#3e6fff"/><stop offset=".244" stop-color="#2e86f8"/><stop offset=".344" stop-color="#22a2e4"/><stop offset=".478" stop-color="#0fb2d4"/><stop offset=".656" stop-color="#0ab4d2"/><stop offset=".744" stop-color="#249fe5"/><stop offset=".856" stop-color="#3677fe"/><stop offset=".911" stop-color="#4661fc"/><stop offset=".989" stop-color="#4741e5"/><stop offset="1" stop-color="#463cdf"/></linearGradient><linearGradient id="c24" gradientUnits="userSpaceOnUse" x1="122.48" x2="270.28"><stop offset="0" stop-color="#3a74ff"/><stop offset=".189" stop-color="#347afd"/><stop offset=".333" stop-color="#21a3e3"/><stop offset=".478" stop-color="#0ab4d2"/><stop offset=".656" stop-color="#08b5d0"/><stop offset=".733" stop-color="#21a3e4"/><stop offset=".844" stop-color="#337afd"/><stop offset=".9" stop-color="#4563fd"/><stop offset=".978" stop-color="#4743e7"/><stop offset="1" stop-color="#463adb"/></linearGradient><linearGradient id="c23" gradientUnits="userSpaceOnUse" x1="124.62" x2="272.42"><stop offset="0" stop-color="#2f81fa"/><stop offset=".189" stop-color="#2f82f9"/><stop offset=".333" stop-color="#1da8e0"/><stop offset=".478" stop-color="#03b6cd"/><stop offset=".656" stop-color="#03b6cd"/><stop offset=".733" stop-color="#20a4e3"/><stop offset=".822" stop-color="#2e84f9"/><stop offset=".889" stop-color="#4368fe"/><stop offset=".967" stop-color="#4848ec"/><stop offset="1" stop-color="#463adc"/></linearGradient><linearGradient id="c22" gradientUnits="userSpaceOnUse" x1="126.58" x2="274.38"><stop offset="0" stop-color="#2d8df2"/><stop offset=".189" stop-color="#2d8bf4"/><stop offset=".344" stop-color="#17aeda"/><stop offset=".433" stop-color="#01b8c9"/><stop offset=".656" stop-color="#00b9c7"/><stop offset=".689" stop-color="#09b4d1"/><stop offset=".733" stop-color="#1ea7e1"/><stop offset=".822" stop-color="#2e86f7"/><stop offset=".867" stop-color="#3a74ff"/><stop offset=".933" stop-color="#4758f8"/><stop offset="1" stop-color="#463bde"/></linearGradient><linearGradient id="c21" gradientUnits="userSpaceOnUse" x1="128.32" x2="276.12"><stop offset="0" stop-color="#2797ea"/><stop offset=".167" stop-color="#2c90ef"/><stop offset=".311" stop-color="#16afda"/><stop offset=".389" stop-color="#01b8c9"/><stop offset=".489" stop-color="#08bdbe"/><stop offset=".656" stop-color="#04bbc1"/><stop offset=".689" stop-color="#02b7cb"/><stop offset=".733" stop-color="#1babde"/><stop offset=".822" stop-color="#2d89f6"/><stop offset=".867" stop-color="#3777fe"/><stop offset=".922" stop-color="#465efb"/><stop offset=".989" stop-color="#4742e6"/><stop offset="1" stop-color="#463de0"/></linearGradient><linearGradient id="c20" gradientUnits="userSpaceOnUse" x1="129.96" x2="277.76"><stop offset="0" stop-color="#23a1e4"/><stop offset=".156" stop-color="#2698ea"/><stop offset=".256" stop-color="#1da9e0"/><stop offset=".356" stop-color="#01b8c9"/><stop offset=".411" stop-color="#0abdbd"/><stop offset=".478" stop-color="#19bfb5"/><stop offset=".644" stop-color="#13beb8"/><stop offset=".689" stop-color="#00bac6"/><stop offset=".711" stop-color="#08b5d0"/><stop offset=".744" stop-color="#1caadf"/><stop offset=".833" stop-color="#2d87f7"/><stop offset=".878" stop-color="#3974ff"/><stop offset=".933" stop-color="#475cfa"/><stop offset="1" stop-color="#473fe3"/></linearGradient><linearGradient id="c19" gradientUnits="userSpaceOnUse" x1="131.58" x2="279.38"><stop offset="0" stop-color="#1caadf"/><stop offset=".144" stop-color="#23a0e5"/><stop offset=".233" stop-color="#1caadf"/><stop offset=".311" stop-color="#01b7cb"/><stop offset=".356" stop-color="#04bbc1"/><stop offset=".444" stop-color="#23c1af"/><stop offset=".633" stop-color="#21c1b0"/><stop offset=".667" stop-color="#17bfb6"/><stop offset=".7" stop-color="#01bac5"/><stop offset=".722" stop-color="#09b4d1"/><stop offset=".756" stop-color="#1da9e0"/><stop offset=".844" stop-color="#2e86f7"/><stop offset=".889" stop-color="#3b73ff"/><stop offset=".944" stop-color="#475af9"/><stop offset="1" stop-color="#4742e6"/></linearGradient><linearGradient id="c18" gradientUnits="userSpaceOnUse" x1="133.12" x2="280.92"><stop offset="0" stop-color="#13b0d7"/><stop offset=".111" stop-color="#1ea8e1"/><stop offset=".222" stop-color="#18aedb"/><stop offset=".289" stop-color="#00b9c8"/><stop offset=".344" stop-color="#0ebebb"/><stop offset=".422" stop-color="#29c3aa"/><stop offset=".533" stop-color="#2dc4a5"/><stop offset=".656" stop-color="#27c2ac"/><stop offset=".689" stop-color="#12beb9"/><stop offset=".711" stop-color="#01bac5"/><stop offset=".722" stop-color="#02b7cb"/><stop offset=".756" stop-color="#1aacdc"/><stop offset=".856" stop-color="#2e87f7"/><stop offset=".9" stop-color="#3a74ff"/><stop offset=".956" stop-color="#475cfa"/><stop offset="1" stop-color="#4849ed"/></linearGradient><linearGradient id="c17" gradientUnits="userSpaceOnUse" x1="134.44" x2="282.24"><stop offset="0" stop-color="#06b5cf"/><stop offset=".078" stop-color="#16afd9"/><stop offset=".189" stop-color="#16afd9"/><stop offset=".267" stop-color="#00b9c6"/><stop offset=".4" stop-color="#2cc4a6"/><stop offset=".489" stop-color="#33c79d"/><stop offset=".656" stop-color="#2dc4a5"/><stop offset=".689" stop-color="#1ec0b2"/><stop offset=".722" stop-color="#01bac5"/><stop offset=".733" stop-color="#02b7cb"/><stop offset=".767" stop-color="#19acdc"/><stop offset=".878" stop-color="#2e85f8"/><stop offset=".944" stop-color="#4369fe"/><stop offset="1" stop-color="#4853f4"/></linearGradient><linearGradient id="c16" gradientUnits="userSpaceOnUse" x1="135.59" x2="283.39"><stop offset="0" stop-color="#00b8c9"/><stop offset=".133" stop-color="#0eb3d4"/><stop offset=".2" stop-color="#07b5d0"/><stop offset=".244" stop-color="#01bac5"/><stop offset=".344" stop-color="#28c2ab"/><stop offset=".467" stop-color="#39c995"/><stop offset=".656" stop-color="#32c69e"/><stop offset=".689" stop-color="#27c2ac"/><stop offset=".733" stop-color="#01bac5"/><stop offset=".744" stop-color="#02b7cb"/><stop offset=".778" stop-color="#19addc"/><stop offset=".889" stop-color="#2d88f6"/><stop offset=".933" stop-color="#3677fe"/><stop offset=".989" stop-color="#4661fc"/><stop offset="1" stop-color="#475dfa"/></linearGradient><linearGradient id="c15" gradientUnits="userSpaceOnUse" x1="136.66" x2="284.46"><stop offset="0" stop-color="#02bbc3"/><stop offset=".156" stop-color="#02b7cb"/><stop offset=".222" stop-color="#02bbc3"/><stop offset=".311" stop-color="#29c3aa"/><stop offset=".467" stop-color="#41ca8c"/><stop offset=".656" stop-color="#38c896"/><stop offset=".7" stop-color="#29c3ab"/><stop offset=".744" stop-color="#01bac4"/><stop offset=".767" stop-color="#08b4d0"/><stop offset=".8" stop-color="#1babdd"/><stop offset=".922" stop-color="#2e85f8"/><stop offset="1" stop-color="#4367fd"/></linearGradient><linearGradient id="c14" gradientUnits="userSpaceOnUse" x1="137.7" x2="285.5"><stop offset="0" stop-color="#0bbdbc"/><stop offset=".156" stop-color="#02bbc2"/><stop offset=".211" stop-color="#0cbdbc"/><stop offset=".289" stop-color="#2cc4a7"/><stop offset=".467" stop-color="#4ccb83"/><stop offset=".644" stop-color="#42ca8b"/><stop offset=".711" stop-color="#2ac3a9"/><stop offset=".756" stop-color="#02bbc3"/><stop offset=".778" stop-color="#05b6ce"/><stop offset=".822" stop-color="#1babde"/><stop offset=".956" stop-color="#2e83f9"/><stop offset="1" stop-color="#3b73ff"/></linearGradient><linearGradient id="c13" gradientUnits="userSpaceOnUse" x1="138.72" x2="286.52"><stop offset="0" stop-color="#17bfb6"/><stop offset=".178" stop-color="#15bfb8"/><stop offset=".311" stop-color="#37c898"/><stop offset=".467" stop-color="#59cc78"/><stop offset=".644" stop-color="#4ecc82"/><stop offset=".711" stop-color="#30c5a1"/><stop offset=".744" stop-color="#1bc0b4"/><stop offset=".767" stop-color="#04bcc1"/><stop offset=".789" stop-color="#02b7cb"/><stop offset=".844" stop-color="#1babde"/><stop offset=".978" stop-color="#2e85f8"/><stop offset="1" stop-color="#307efb"/></linearGradient><linearGradient id="c12" gradientUnits="userSpaceOnUse" x1="139.68" x2="287.48"><stop offset="0" stop-color="#20c1b1"/><stop offset=".189" stop-color="#27c2ac"/><stop offset=".367" stop-color="#50cc80"/><stop offset=".467" stop-color="#66cd6d"/><stop offset=".633" stop-color="#5ccc76"/><stop offset=".678" stop-color="#4acb84"/><stop offset=".756" stop-color="#1ec0b2"/><stop offset=".789" stop-color="#02bbc3"/><stop offset=".822" stop-color="#06b5cf"/><stop offset=".867" stop-color="#1aacdd"/><stop offset="1" stop-color="#2d89f5"/></linearGradient><linearGradient id="c11" gradientUnits="userSpaceOnUse" x1="140.62" x2="288.42"><stop offset="0" stop-color="#26c2ad"/><stop offset=".2" stop-color="#33c69e"/><stop offset=".311" stop-color="#50cc80"/><stop offset=".456" stop-color="#75cc61"/><stop offset=".6" stop-color="#6ecd67"/><stop offset=".656" stop-color="#63cd70"/><stop offset=".733" stop-color="#33c69d"/><stop offset=".778" stop-color="#1abfb5"/><stop offset=".811" stop-color="#02bbc2"/><stop offset=".844" stop-color="#05b6ce"/><stop offset=".9" stop-color="#1babde"/><stop offset="1" stop-color="#2a93ed"/></linearGradient><linearGradient id="c10" gradientUnits="userSpaceOnUse" x1="141.56" x2="289.36"><stop offset="0" stop-color="#2bc3a8"/><stop offset=".189" stop-color="#3cc991"/><stop offset=".422" stop-color="#83cc57"/><stop offset=".511" stop-color="#88cb53"/><stop offset=".644" stop-color="#77cc60"/><stop offset=".7" stop-color="#54cc7c"/><stop offset=".744" stop-color="#35c79a"/><stop offset=".8" stop-color="#1ac0b5"/><stop offset=".844" stop-color="#01bac4"/><stop offset=".878" stop-color="#06b5cf"/><stop offset=".933" stop-color="#1babde"/><stop offset="1" stop-color="#259de6"/></linearGradient><linearGradient id="c9" gradientUnits="userSpaceOnUse" x1="142.5" x2="290.3"><stop offset="0" stop-color="#2ec4a5"/><stop offset=".144" stop-color="#45cb89"/><stop offset=".367" stop-color="#8ccb50"/><stop offset=".467" stop-color="#9ec942"/><stop offset=".6" stop-color="#92ca4c"/><stop offset=".656" stop-color="#84cc56"/><stop offset=".722" stop-color="#52cc7e"/><stop offset=".756" stop-color="#39c994"/><stop offset=".833" stop-color="#19bfb6"/><stop offset=".878" stop-color="#01bac4"/><stop offset=".911" stop-color="#05b5cf"/><stop offset=".978" stop-color="#1baade"/><stop offset="1" stop-color="#1fa6e2"/></linearGradient><linearGradient id="c8" gradientUnits="userSpaceOnUse" x1="143.43" x2="291.23"><stop offset="0" stop-color="#30c5a2"/><stop offset=".1" stop-color="#4ccb83"/><stop offset=".3" stop-color="#96ca48"/><stop offset=".456" stop-color="#b4c534"/><stop offset=".567" stop-color="#acc738"/><stop offset=".656" stop-color="#97ca48"/><stop offset=".711" stop-color="#6ecd67"/><stop offset=".778" stop-color="#3bc993"/><stop offset=".867" stop-color="#1ac0b5"/><stop offset=".911" stop-color="#02bbc3"/><stop offset=".944" stop-color="#02b7cc"/><stop offset="1" stop-color="#16afda"/></linearGradient><linearGradient id="c7" gradientUnits="userSpaceOnUse" x1="144.37" x2="292.17"><stop offset="0" stop-color="#31c69f"/><stop offset=".067" stop-color="#4fcc81"/><stop offset=".2" stop-color="#93ca4b"/><stop offset=".311" stop-color="#b7c532"/><stop offset=".467" stop-color="#cbc128"/><stop offset=".578" stop-color="#c0c32d"/><stop offset=".656" stop-color="#abc739"/><stop offset=".711" stop-color="#84cc56"/><stop offset=".789" stop-color="#46cb88"/><stop offset=".911" stop-color="#19bfb5"/><stop offset=".956" stop-color="#03bbc2"/><stop offset="1" stop-color="#04b6ce"/></linearGradient><linearGradient id="c6" gradientUnits="userSpaceOnUse" x1="145.28" x2="293.08"><stop offset="0" stop-color="#33c69d"/><stop offset=".044" stop-color="#4ecc82"/><stop offset=".144" stop-color="#98ca47"/><stop offset=".244" stop-color="#c2c22b"/><stop offset=".356" stop-color="#d8be28"/><stop offset=".5" stop-color="#e0bc2a"/><stop offset=".622" stop-color="#cac128"/><stop offset=".678" stop-color="#b3c534"/><stop offset=".8" stop-color="#57cc7a"/><stop offset=".867" stop-color="#37c897"/><stop offset=".956" stop-color="#1bc0b4"/><stop offset="1" stop-color="#04bbc1"/></linearGradient><linearGradient id="c5" gradientUnits="userSpaceOnUse" x1="146.17" x2="293.97"><stop offset="0" stop-color="#33c79c"/><stop offset=".033" stop-color="#4dcc82"/><stop offset=".111" stop-color="#9cc944"/><stop offset=".167" stop-color="#c0c32d"/><stop offset=".233" stop-color="#d9bd28"/><stop offset=".333" stop-color="#ebba31"/><stop offset=".511" stop-color="#f1ba37"/><stop offset=".633" stop-color="#dabd28"/><stop offset=".689" stop-color="#c2c32c"/><stop offset=".767" stop-color="#88cb53"/><stop offset=".867" stop-color="#49cb85"/><stop offset=".933" stop-color="#32c69f"/><stop offset="1" stop-color="#1dc0b3"/></linearGradient><linearGradient id="c4" gradientUnits="userSpaceOnUse" x1="147.06" x2="294.86"><stop offset="0" stop-color="#33c79c"/><stop offset=".022" stop-color="#47cb87"/><stop offset=".1" stop-color="#aac73a"/><stop offset=".144" stop-color="#cec027"/><stop offset=".222" stop-color="#edba33"/><stop offset=".3" stop-color="#fcbb3e"/><stop offset=".533" stop-color="#febd3d"/><stop offset=".6" stop-color="#f3ba39"/><stop offset=".678" stop-color="#dcbd29"/><stop offset=".722" stop-color="#c3c22b"/><stop offset=".878" stop-color="#5dcd75"/><stop offset=".956" stop-color="#39c895"/><stop offset="1" stop-color="#2ec5a4"/></linearGradient><linearGradient id="c3" gradientUnits="userSpaceOnUse" x1="147.92" x2="295.72"><stop offset="0" stop-color="#33c79d"/><stop offset=".022" stop-color="#4ccb83"/><stop offset=".078" stop-color="#a3c83f"/><stop offset=".111" stop-color="#cac128"/><stop offset=".156" stop-color="#e9bb2f"/><stop offset=".211" stop-color="#fcbc3e"/><stop offset=".344" stop-color="#feca33"/><stop offset=".533" stop-color="#fec934"/><stop offset=".633" stop-color="#fbbb3e"/><stop offset=".711" stop-color="#dfbc29"/><stop offset=".756" stop-color="#c5c22a"/><stop offset=".889" stop-color="#73cd63"/><stop offset="1" stop-color="#3ac993"/></linearGradient><linearGradient id="c2" gradientUnits="userSpaceOnUse" x1="148.72" x2="296.52"><stop offset="0" stop-color="#32c69e"/><stop offset=".011" stop-color="#3dca90"/><stop offset=".056" stop-color="#8ecb4f"/><stop offset=".089" stop-color="#c3c22b"/><stop offset=".111" stop-color="#ddbd29"/><stop offset=".156" stop-color="#fabb3e"/><stop offset=".233" stop-color="#fdcc32"/><stop offset=".344" stop-color="#f9d82c"/><stop offset=".533" stop-color="#fad62d"/><stop offset=".678" stop-color="#fcbc3e"/><stop offset=".722" stop-color="#ecba32"/><stop offset=".778" stop-color="#d0bf27"/><stop offset=".856" stop-color="#a5c83d"/><stop offset="1" stop-color="#4fcc81"/></linearGradient><linearGradient id="c1" gradientUnits="userSpaceOnUse" x1="149.5" x2="297.3"><stop offset="0" stop-color="#32c69f"/><stop offset=".011" stop-color="#3eca8f"/><stop offset=".056" stop-color="#9ac945"/><stop offset=".078" stop-color="#c3c22b"/><stop offset=".089" stop-color="#d3bf27"/><stop offset=".111" stop-color="#edba33"/><stop offset=".122" stop-color="#f6ba3c"/><stop offset=".144" stop-color="#fec13a"/><stop offset=".278" stop-color="#f5e327"/><stop offset=".522" stop-color="#f5e426"/><stop offset=".7" stop-color="#fec13a"/><stop offset=".733" stop-color="#f8ba3d"/><stop offset=".8" stop-color="#dcbd29"/><stop offset=".856" stop-color="#c0c32d"/><stop offset=".978" stop-color="#75cc61"/><stop offset="1" stop-color="#67cd6c"/></linearGradient><linearGradient id="c0" gradientUnits="userSpaceOnUse" x1="150.26" x2="298.06"><stop offset="0" stop-color="#31c6a0"/><stop offset=".011" stop-color="#3eca8e"/><stop offset=".044" stop-color="#8ccb50"/><stop offset=".067" stop-color="#bdc32e"/><stop offset=".078" stop-color="#d1bf27"/><stop offset=".089" stop-color="#e2bc2b"/><stop offset=".111" stop-color="#fabb3e"/><stop offset=".144" stop-color="#fdcc32"/><stop offset=".244" stop-color="#f5eb23"/><stop offset=".344" stop-color="#f7f41c"/><stop offset=".533" stop-color="#f6f01f"/><stop offset=".678" stop-color="#fbd22f"/><stop offset=".767" stop-color="#fcbb3e"/><stop offset=".856" stop-color="#d8be28"/><stop offset=".911" stop-color="#bac430"/><stop offset="1" stop-color="#82cc57"/></linearGradient></defs><g stroke-width=".6" stroke-linejoin="round"><path fill="url(#c83)" stroke="url(#c83)" d="M46.5 389.2l11.4-3.6l14.8-4.1l19.7-3.4l23-4.9l46-10.5l32.9-8.3l-.1 0l-32.8 8.3l-44.4 10.2l-24.6 5.2l-19.7 3.4l-26.3 7.7z"/><path fill="url(#c82)" stroke="url(#c82)" d="M47.9 390.7l13.1-5.7l6.6-2.3l6.5-1.9l37.8-7.2l31.2-7.3l23-4.6l29.6-6.5l-1.5-.8l-32.8 8.3l-44.4 10.2l-24.6 5.2l-19.7 3.4l-26.3 7.7z"/><path fill="url(#c81)" stroke="url(#c81)" d="M49.3 392.3l8.2-4.8l6.6-3.3l6.6-2.6l4.9-1.4l41-8.1l29.6-6.9l21.4-3.6l29.5-5.6l-2.3-1.3l-29.6 7.1l-52.5 11.9l-19.7 4.1l-19.7 3.4l-13.2 3.9l-13.1 4.7z"/><path fill="url(#c80)" stroke="url(#c80)" d="M50.9 394.1l8.2-6l6.6-4l4.9-2.3l6.6-2.1l11.5-2.5l31.2-6.1l27.9-6.7l21.3-2.9l29.6-4.6l-2.5-1.4l-29.6 6.2l-23 4.3l-31.2 7.3l-37.7 7.3l-5 1.3l-6.5 2.4l-6.6 2.8l-8.2 4.1z"/><path fill="url(#c79)" stroke="url(#c79)" d="M52.3 395.8l8.3-6.9l6.5-4.7l6.6-3.3l6.6-1.9l21.3-4.9l19.7-3.6l27.9-6.8l21.4-2.2l29.5-3.7l-2.3-1.4l-29.6 5.1l-21.3 3.3l-29.6 7l-41 8.2l-6.6 2l-4.9 2.1l-6.6 3.6l-8.2 5.4z"/><path fill="url(#c78)" stroke="url(#c78)" d="M53.6 397.4l9.9-9l6.6-4.9l4.9-2.5l11.5-3.3l16.4-4.1l19.7-3.6l27.9-6.8l6.6-.7l14.8-.9l29.5-3.1l-2-1.2l-29.6 4.2l-21.3 2.6l-28 6.7l-19.7 3.7l-21.3 4.7l-6.6 1.8l-6.6 3.2l-6.5 4.3l-8.2 6.4z"/><path fill="url(#c77)" stroke="url(#c77)" d="M54.8 399l11.5-11.2l5-3.8l3.2-1.9l5-2l21.3-6.1l6.6-1.5l16.4-2.9l27.9-6.8l6.6-.6l14.8-.5l29.5-2.5l-1.9-1.1l-29.5 3.4l-14.8 1.2l-6.6 .8l-27.9 6.8l-19.7 3.6l-21.4 5.1l-6.5 1.9l-6.6 3.5l-6.6 4.9l-8.2 7.2z"/><path fill="url(#c76)" stroke="url(#c76)" d="M55.9 400.4l11.5-11.7l5-4l3.2-2.1l3.3-1.5l5-1.7l19.7-6.1l6.5-1.4l14.8-2.6l27.9-6.8l6.6-.5l14.8-.1l29.5-2l-1.7-1l-29.6 2.7l-14.8 .7l-6.5 .7l-27.9 6.8l-18.1 3.2l-11.5 2.9l-16.4 4.6l-4.9 2.2l-3.3 2.1l-5 3.9l-9.8 9.4z"/><path fill="url(#c75)" stroke="url(#c75)" d="M57 401.8l6.5-7.2l5-4.9l4.9-4.2l3.3-2.2l3.3-1.7l8.2-3.2l16.4-5.3l6.6-1.5l14.8-2.6l27.9-6.8l6.5-.4l14.8 .3l29.6-1.6l-1.7-1l-29.5 2.3l-14.8 .3l-6.6 .5l-27.9 6.9l-16.4 2.8l-6.6 1.6l-21.4 6.4l-4.9 2l-3.3 2l-4.9 3.9l-11.5 11.4z"/><path fill="url(#c74)" stroke="url(#c74)" d="M57.9 403.2l6.6-7.5l4.9-5.1l4.9-4.3l3.3-2.4l3.3-1.8l8.2-3.6l8.2-3.1l6.6-2.1l6.6-1.6l16.4-2.9l27.9-6.8l6.6-.3l14.8 .6l29.5-1.2l-1.5-.9l-29.5 1.8l-14.8-.1l-6.6 .4l-27.9 6.9l-14.8 2.5l-6.6 1.5l-18 5.7l-6.6 2.4l-3.3 1.6l-3.3 2.2l-4.9 4l-11.5 12z"/><path fill="url(#c73)" stroke="url(#c73)" d="M58.8 404.6l6.6-7.8l4.9-5.2l4.9-4.6l3.3-2.5l3.3-1.9l9.8-4.7l6.6-2.6l6.6-2.2l6.6-1.6l16.4-2.9l23-5.7l4.9-1l6.6-.2l14.7 .7l29.6-.8l-1.4-.8l-29.6 1.4l-14.8-.4l-6.5 .3l-27.9 6.8l-16.5 2.9l-6.5 1.6l-14.8 5.1l-8.2 3.3l-3.3 1.8l-3.3 2.2l-4.9 4.3l-4.9 5l-6.6 7.3z"/><path fill="url(#c72)" stroke="url(#c72)" d="M59.6 406l6.6-8.1l4.9-5.5l5-4.7l3.2-2.6l3.3-2.1l9.9-5l6.5-2.8l6.6-2.3l6.6-1.6l16.4-2.8l23-5.7l4.9-1l6.6-.2l14.8 1l29.5-.5l-1.3-.8l-29.6 1l-14.7-.6l-6.6 .3l-27.9 6.7l-16.4 2.9l-6.6 1.6l-13.2 4.7l-9.8 4.4l-3.3 1.9l-3.3 2.4l-4.9 4.4l-4.9 5.2l-6.6 7.6z"/><path fill="url(#c71)" stroke="url(#c71)" d="M60.5 407.3l6.5-8.3l5-5.7l4.9-4.9l3.3-2.7l3.3-2.3l9.8-5.3l6.6-3l6.6-2.4l6.5-1.6l16.4-2.8l21.4-5.2l6.6-1.4l6.5-.1l14.8 1.2l29.6-.2l-1.4-.8l-29.5 .7l-14.8-.9l-6.6 .2l-4.9 1l-23 5.8l-16.4 2.8l-6.6 1.6l-6.6 2.2l-6.5 2.8l-9.9 4.7l-3.3 2.1l-3.2 2.5l-5 4.6l-4.9 5.4l-6.6 7.8z"/><path fill="url(#c70)" stroke="url(#c70)" d="M61.3 408.6l6.5-8.6l4.9-5.9l5-5.1l3.3-2.8l4.9-3.3l9.8-5.5l6.6-3l4.9-1.8l6.6-1.6l16.4-2.8l21.4-5.2l6.5-1.3l6.6-.1l14.8 1.4l29.6 .1l-1.3-.8l-29.6 .4l-14.7-1.1l-6.6 .2l-4.9 .9l-23 5.7l-16.4 2.8l-6.6 1.6l-6.6 2.3l-6.6 3l-9.8 5.1l-3.3 2.2l-3.3 2.6l-4.9 4.8l-4.9 5.6l-6.6 8.2z"/><path fill="url(#c69)" stroke="url(#c69)" d="M62 409.9l6.6-8.9l4.9-6.1l5-5.2l3.2-3l5-3.4l9.8-5.8l6.6-3.1l4.9-1.8l6.6-1.7l16.4-2.8l21.4-5.2l6.5-1.3l6.6 .1l14.8 1.5l29.5 .4l-1.2-.8l-29.6 .1l-14.8-1.3l-6.5 .1l-6.6 1.3l-21.3 5.3l-16.5 2.8l-6.5 1.6l-6.6 2.4l-6.6 3.1l-9.8 5.4l-3.3 2.3l-3.3 2.8l-4.9 4.9l-4.9 5.8l-6.6 8.4z"/><path fill="url(#c68)" stroke="url(#c68)" d="M62.8 411.2l6.6-9.2l4.9-6.3l4.9-5.4l3.3-3.1l4.9-3.5l9.9-6l6.6-3.3l4.9-1.8l6.6-1.7l16.4-3l21.3-5.1l6.6-1.2l6.6 .1l14.8 1.8l29.5 .6l-1.2-.8l-29.6-.2l-14.8-1.5l-6.5 0l-6.6 1.3l-21.4 5.3l-16.4 2.8l-6.6 1.6l-4.9 1.8l-6.5 3l-9.9 5.6l-4.9 3.4l-3.3 2.9l-4.9 5.2l-5 5.9l-6.5 8.7z"/><path fill="url(#c67)" stroke="url(#c67)" d="M63.6 412.4l6.6-9.5l4.9-6.4l4.9-5.6l3.3-3.2l4.9-3.7l9.9-6.1l6.6-3.4l4.9-1.8l8.2-2.1l16.4-3.2l21.4-5.1l4.9-.8l6.6 .2l14.7 2.1l29.6 .8l-1.3-.8l-29.5-.5l-14.8-1.6l-6.6-.1l-6.5 1.2l-21.4 5.2l-16.4 2.9l-6.6 1.7l-4.9 1.8l-6.6 3.2l-9.8 5.8l-4.9 3.5l-3.3 3l-5 5.4l-4.9 6.1l-6.6 9z"/><path fill="url(#c66)" stroke="url(#c66)" d="M64.4 413.6l6.5-9.8l5-6.6l4.9-5.8l3.3-3.2l4.9-3.8l9.9-6.3l6.5-3.4l5-1.9l42.7-9.8l8.2-1.5l6.5 .3l9.9 1.7l4.9 .6l14.8 .7l14.8 .3l-1.3-.8l-29.5-.7l-14.8-1.9l-6.6-.1l-6.5 1.2l-21.4 5.1l-14.8 2.7l-8.2 2l-4.9 1.9l-6.6 3.2l-9.8 6.1l-5 3.6l-3.2 3.1l-5 5.5l-4.9 6.3l-6.6 9.4z"/><path fill="url(#c65)" stroke="url(#c65)" d="M65.2 414.7l6.5-10l5-6.8l4.9-5.9l3.3-3.3l4.9-3.8l9.8-6.4l6.6-3.5l4.9-1.9l39.5-9.4l11.5-2.2l6.5 .4l9.9 1.9l4.9 .6l14.8 .9l14.8 .4l-1.3-.9l-29.6-.9l-4.9-.5l-9.8-1.6l-6.6-.3l-6.6 1.2l-19.7 4.7l-16.4 3.3l-8.2 2l-4.9 1.9l-6.6 3.3l-9.9 6.3l-4.9 3.7l-3.3 3.2l-4.9 5.7l-4.9 6.5l-6.6 9.6z"/><path fill="url(#c64)" stroke="url(#c64)" d="M66 415.8l6.6-10.2l4.9-7l4.9-5.9l3.3-3.4l4.9-3.9l9.9-6.4l6.5-3.4l5-2l13.1-3.6l19.7-4.9l13.2-2.9l4.9-.7l4.9 .3l11.5 2.4l4.9 .6l14.8 1l14.8 .4l-1.3-.9l-14.8-.3l-14.8-.8l-4.9-.6l-9.9-1.8l-6.5-.3l-9.9 1.8l-41.1 9.6l-4.9 1.9l-6.6 3.4l-9.8 6.4l-4.9 3.8l-3.3 3.2l-4.9 5.8l-5 6.7l-6.5 9.9z"/><path fill="url(#c63)" stroke="url(#c63)" d="M66.8 416.8l6.6-10.3l4.9-7.1l5-6.1l3.2-3.3l5-3.9l8.2-5.4l6.5-3.6l6.6-2.8l14.8-4.5l14.8-4l13.1-2.9l8.2-1.3l4.9 .4l11.5 2.5l5 .8l14.7 1.1l14.8 .4l-1.3-.9l-14.8-.4l-14.8-.9l-4.9-.7l-9.8-1.9l-6.6-.5l-4.9 .7l-9.9 2.2l-36.1 8.9l-5 1.9l-6.5 3.5l-9.9 6.4l-4.9 3.8l-3.3 3.4l-4.9 5.9l-4.9 6.8l-6.6 10.1z"/><path fill="url(#c62)" stroke="url(#c62)" d="M67.7 417.9l6.5-10.5l5-7.2l4.9-6.1l4.9-4.8l8.2-5.7l8.2-4.7l6.6-3l11.5-4.2l11.5-3.6l9.8-2.7l11.5-2.4l8.3-1.3l4.9 .5l11.5 2.8l4.9 .8l14.8 1.1l14.8 .5l-1.4-.9l-14.8-.5l-14.7-1l-5-.7l-11.5-2.4l-4.9-.3l-6.5 1l-13.2 2.9l-18.1 4.6l-13.1 3.8l-6.6 2.7l-6.5 3.7l-9.9 6.5l-3.3 2.8l-3.2 3.3l-5 6.1l-4.9 6.9l-6.6 10.3z"/><path fill="url(#c61)" stroke="url(#c61)" d="M68.5 418.9l6.6-10.6l6.5-9.3l5-5.8l4.9-4.3l8.2-5.3l8.2-4.4l8.2-3.6l16.4-6.3l8.3-2.6l8.2-2l11.5-2.2l4.9-.6l4.9 .5l11.5 3l4.9 .9l14.8 1.2l14.8 .5l-1.3-1l-14.8-.4l-14.8-1.1l-4.9-.8l-11.5-2.7l-4.9-.3l-9.9 1.6l-13.1 2.9l-13.2 3.7l-13.1 4.2l-6.6 2.6l-6.6 3.4l-9.8 6.2l-4.9 4l-3.3 3.3l-4.9 6.1l-5 7.1l-6.5 10.5z"/><path fill="url(#c60)" stroke="url(#c60)" d="M69.3 419.8l6.6-10.6l6.6-9.3l4.9-5.7l4.9-4.4l8.2-5.1l8.2-4.2l18.1-8.2l9.9-3.9l6.5-1.9l8.2-1.9l11.5-2.1l3.3-.3l4.9 .5l11.5 3.2l5 .9l16.4 1.4l13.1 .3l-1.3-.9l-14.8-.4l-14.8-1.2l-4.9-.8l-11.5-2.9l-4.9-.5l-4.9 .6l-13.2 2.6l-8.2 2.1l-9.8 3.1l-14.8 5.4l-6.6 2.9l-9.8 5.5l-8.3 5.6l-4.9 4.9l-4.9 6.1l-4.9 7.1l-6.6 10.6z"/><path fill="url(#c59)" stroke="url(#c59)" d="M70.2 420.8l6.5-10.6l5-7.1l4.9-6.1l4.9-4.9l4.9-3.4l8.2-4.5l24.7-11.9l8.2-3.4l6.6-1.9l8.2-2l11.5-2.1l3.3-.3l4.9 .6l11.5 3.3l4.9 .9l16.4 1.4l13.2 .3l-1.4-.9l-13.1-.3l-16.4-1.4l-5-.9l-11.5-3.1l-4.9-.5l-4.9 .6l-11.5 2.2l-8.2 2l-6.6 2l-9.8 3.8l-16.5 7.1l-8.2 4.3l-8.2 5.2l-4.9 4.4l-4.9 5.7l-6.6 9.4l-6.6 10.5z"/><path fill="url(#c58)" stroke="url(#c58)" d="M71 421.8l6.6-10.6l4.9-7.1l4.9-6.1l4.9-4.8l5-3.3l6.5-3.6l14.8-7.1l13.2-6.7l6.5-2.9l6.6-1.9l8.2-1.9l11.5-2.2l3.3-.4l4.9 .6l11.5 3.2l4.9 .9l16.5 1.5l13.1 .3l-1.3-.9l-13.2-.3l-16.4-1.5l-4.9-.9l-11.5-3.2l-4.9-.6l-3.3 .3l-11.5 2.1l-8.2 2l-6.6 1.9l-8.2 3.3l-21.4 9.9l-8.2 4.3l-6.5 4.1l-5 4.4l-4.9 5.7l-6.6 9.3l-6.5 10.6z"/><path fill="url(#c57)" stroke="url(#c57)" d="M71.8 422.7l6.6-10.5l4.9-7l5-6.1l4.9-4.7l3.3-2.3l6.5-3.7l16.5-7.9l14.7-7.8l5-2.1l4.9-1.5l9.8-2.4l11.5-2.3l3.3-.3l4.9 .4l11.5 3.1l5 .9l14.8 1.3l14.7 .5l-1.3-1l-13.1-.3l-16.5-1.4l-4.9-.9l-11.5-3.3l-4.9-.6l-3.3 .3l-11.5 2.2l-8.2 1.9l-6.6 1.9l-6.5 2.8l-28 13.6l-6.5 3.7l-5 3.4l-4.9 4.8l-4.9 6.1l-4.9 7.1l-6.6 10.6z"/><path fill="url(#c56)" stroke="url(#c56)" d="M72.7 423.7l6.6-10.4l4.9-7l4.9-6l5-4.7l3.3-2.3l6.5-3.7l14.8-6.9l14.8-7.9l6.5-2.9l5-1.6l9.8-2.4l11.5-2.4l3.3-.4l4.9 .4l11.5 2.8l5 .8l14.7 1.2l14.8 .6l-1.4-1l-13.1-.3l-16.5-1.5l-4.9-.9l-11.5-3.1l-4.9-.6l-3.3 .3l-11.5 2.3l-8.2 1.9l-6.6 2l-6.5 2.8l-13.2 6.9l-16.4 7.9l-6.6 3.7l-3.3 2.3l-4.9 4.8l-4.9 6.1l-4.9 7.1l-6.6 10.5z"/><path fill="url(#c55)" stroke="url(#c55)" d="M73.6 424.6l6.6-10.3l4.9-6.9l4.9-6l5-4.6l3.2-2.3l6.6-3.6l16.4-7.7l13.2-7l6.5-3l14.8-4l11.5-2.6l3.3-.4l6.6 .5l9.8 2.3l4.9 .7l14.8 1.2l14.8 .6l-1.4-1l-14.8-.5l-14.8-1.3l-4.9-.8l-11.5-3l-4.9-.5l-3.3 .4l-11.5 2.3l-9.9 2.5l-4.9 1.5l-6.6 3l-14.7 7.8l-14.8 7l-6.6 3.7l-3.3 2.2l-4.9 4.8l-4.9 6l-4.9 7l-6.6 10.5z"/><path fill="url(#c54)" stroke="url(#c54)" d="M74.5 425.5l6.6-10.2l4.9-6.8l4.9-5.9l4.9-4.6l3.3-2.3l6.6-3.6l16.4-7.6l13.2-7l6.5-3l6.6-1.9l13.1-3.3l8.2-1.8l3.3-.2l4.9 .4l13.2 2.5l16.4 1.2l14.8 .7l-1.4-1l-14.8-.5l-14.8-1.2l-4.9-.8l-11.5-2.7l-4.9-.4l-3.3 .4l-11.5 2.5l-14.8 4l-6.6 3l-13.1 7l-16.4 7.7l-6.6 3.7l-3.3 2.2l-4.9 4.7l-4.9 6l-5 7l-6.5 10.3z"/><path fill="url(#c53)" stroke="url(#c53)" d="M75.4 426.5l6.6-10.1l4.9-6.8l4.9-5.8l5-4.6l3.3-2.2l6.5-3.6l14.8-6.8l14.8-7.8l6.6-3l6.5-1.9l13.2-3.4l8.2-1.8l3.3-.3l4.9 .3l13.1 2.2l31.2 1.8l-1.5-1l-14.8-.6l-14.7-1.2l-5-.7l-9.8-2.1l-6.6-.5l-3.3 .5l-11.5 2.5l-14.7 4.1l-6.6 3l-13.1 7l-16.5 7.6l-6.5 3.7l-3.3 2.2l-5 4.6l-4.9 6l-4.9 6.9l-6.6 10.2z"/><path fill="url(#c52)" stroke="url(#c52)" d="M76.4 427.4l6.5-9.9l5-6.7l4.9-5.7l4.9-4.5l4.9-3.2l5-2.7l14.7-6.9l14.8-7.8l6.6-3l6.6-2l13.1-3.3l8.2-1.9l3.3-.3l4.9 .2l13.2 1.9l31.2 1.7l-1.5-1l-31.2-1.8l-13.2-2.4l-4.9-.4l-3.3 .3l-8.2 1.8l-13.1 3.3l-6.6 2l-6.6 2.9l-14.8 7.8l-14.7 6.8l-6.6 3.7l-3.3 2.2l-4.9 4.6l-4.9 5.8l-5 6.9l-6.5 10.1z"/><path fill="url(#c51)" stroke="url(#c51)" d="M77.3 428.3l6.6-9.7l4.9-6.5l4.9-5.7l5-4.5l4.9-3.2l4.9-2.7l16.4-7.8l13.2-7.1l6.5-3l18.1-4.9l9.9-2.3l3.2-.3l5 .1l13.1 1.6l31.2 1.6l-1.5-1l-31.2-1.7l-13.1-2.1l-5-.3l-3.2 .3l-8.3 1.9l-13.1 3.3l-6.6 2l-6.5 3l-14.8 7.8l-14.8 6.8l-6.6 3.6l-3.2 2.3l-5 4.5l-4.9 5.8l-4.9 6.8l-6.6 9.9z"/><path fill="url(#c50)" stroke="url(#c50)" d="M78.2 429.1l6.6-9.4l4.9-6.4l5-5.5l4.9-4.4l4.9-3.3l4.9-2.7l16.5-7.9l13.1-7.2l6.6-3l18-4.9l9.9-2.3l3.3-.4l4.9 .1l13.1 1.3l31.2 1.4l-1.5-1l-31.2-1.6l-13.1-1.8l-4.9-.2l-3.3 .4l-9.9 2.2l-18 5l-6.6 2.9l-13.1 7.1l-16.5 7.7l-4.9 2.7l-4.9 3.2l-4.9 4.5l-5 5.7l-4.9 6.7l-6.6 9.8z"/><path fill="url(#c49)" stroke="url(#c49)" d="M79.2 430l6.5-9.2l5-6.2l4.9-5.4l4.9-4.3l5-3.3l4.9-2.8l16.4-8l14.8-8.1l4.9-2.2l16.4-4.5l9.9-2.3l4.9-.8l4.9 0l13.2 1l31.2 1.1l-1.5-.9l-31.2-1.5l-13.2-1.5l-4.9-.1l-3.3 .4l-9.8 2.3l-18.1 4.9l-6.6 3l-13.1 7.1l-16.4 7.9l-4.9 2.7l-5 3.2l-4.9 4.5l-4.9 5.6l-5 6.5l-6.5 9.5z"/><path fill="url(#c48)" stroke="url(#c48)" d="M80.1 430.8l6.6-8.8l4.9-6l4.9-5.3l5-4.3l4.9-3.4l4.9-2.8l16.4-8.2l14.8-8.1l4.9-2.3l16.5-4.5l9.8-2.3l5-.7l4.9-.2l11.5 .7l32.8 1l-1.5-.9l-31.2-1.3l-13.1-1.2l-5 0l-3.2 .4l-9.9 2.2l-18.1 5l-6.5 3l-13.2 7.2l-16.4 8l-4.9 2.7l-4.9 3.3l-5 4.4l-4.9 5.5l-4.9 6.3l-6.6 9.3z"/><path fill="url(#c47)" stroke="url(#c47)" d="M81.1 431.6l6.6-8.5l6.5-7.6l5-4.8l4.9-4l9.9-5.9l14.7-7.5l13.2-7.4l6.5-3l16.5-4.6l9.8-2.2l4.9-.8l6.6-.2l42.7 1l-1.6-.9l-31.2-1l-13.1-.9l-4.9 0l-5 .8l-9.8 2.3l-16.4 4.5l-5 2.2l-14.8 8.1l-16.4 8.1l-4.9 2.8l-4.9 3.3l-5 4.4l-4.9 5.3l-4.9 6.2l-6.6 9z"/><path fill="url(#c46)" stroke="url(#c46)" d="M82.1 432.5l6.6-8.2l6.5-7.4l5-4.7l4.9-3.9l9.8-6l14.8-7.7l13.2-7.5l6.5-3.1l14.8-4.1l11.5-2.6l4.9-.8l6.6-.3l42.7 .5l-1.6-.9l-32.8-.8l-9.9-.6l-6.6 .2l-4.9 .7l-9.8 2.3l-16.5 4.5l-6.5 3.1l-13.2 7.4l-16.4 8.2l-8.2 5l-4.9 4l-4.9 4.9l-6.6 7.7l-6.6 8.7z"/><path fill="url(#c45)" stroke="url(#c45)" d="M83.1 433.4l6.6-7.9l6.6-7.1l4.9-4.7l4.9-3.9l9.9-6.1l14.8-7.8l13.1-7.6l6.6-3.1l14.8-4.1l11.4-2.6l5-.8l6.5-.4l23-.3l19.7 .2l-1.6-.9l-42.7-.8l-6.6 .2l-4.9 .8l-9.9 2.3l-16.4 4.5l-6.6 3.1l-13.1 7.4l-14.8 7.6l-9.8 5.9l-5 3.9l-4.9 4.9l-6.6 7.5l-6.5 8.3z"/><path fill="url(#c44)" stroke="url(#c44)" d="M84.2 434.3l6.6-7.6l6.6-6.9l4.9-4.5l4.9-3.9l11.5-7.2l26.3-14.6l6.6-3.1l4.9-1.6l13.1-3.3l9.9-2.2l4.9-.7l27.9-.9l19.7 0l-1.7-.9l-42.7-.3l-6.6 .3l-4.9 .8l-11.5 2.7l-14.8 4.1l-6.6 3.1l-13.1 7.5l-14.8 7.7l-9.8 6.1l-5 3.9l-4.9 4.7l-6.5 7.2l-6.6 8.1z"/><path fill="url(#c43)" stroke="url(#c43)" d="M85.4 435.2l6.5-7.2l6.6-6.7l6.6-5.7l4.9-3.7l9.9-6.2l24.6-13.9l8.2-4l4.9-1.6l13.2-3.3l9.8-2.3l5-.8l27.9-1.2l19.7-.2l-1.9-.9l-18-.2l-29.6 .6l-4.9 .7l-9.9 2.2l-11.5 2.9l-6.5 2l-6.6 3.1l-13.1 7.5l-13.2 7l-11.5 7.1l-4.9 3.9l-4.9 4.6l-6.6 7l-6.6 7.8z"/><path fill="url(#c42)" stroke="url(#c42)" d="M86.5 436.1l13.2-13.3l6.5-5.6l5-3.7l6.5-4.4l8.2-4.9l19.7-11.2l8.3-4l18-4.9l9.9-2.3l4.9-.9l27.9-1.6l19.7-.3l-1.8-.9l-19.7 0l-27.9 1l-5 .8l-9.8 2.2l-13.1 3.4l-5 1.5l-6.5 3.1l-26.3 14.7l-11.5 7.3l-4.9 3.9l-5 4.5l-6.5 6.7l-6.6 7.5z"/><path fill="url(#c41)" stroke="url(#c41)" d="M87.7 437l13.2-12.7l6.5-5.5l6.6-4.8l8.2-5.4l8.2-4.9l16.4-9.4l8.3-4l18-5l9.9-2.3l4.9-.9l26.3-1.9l21.3-.5l-1.9-1l-19.7 .2l-27.9 1.3l-4.9 .8l-9.9 2.3l-18.1 5l-6.5 3l-23 13l-13.2 8.2l-4.9 3.7l-6.6 5.7l-6.5 6.5l-6.6 7.2z"/><path fill="url(#c40)" stroke="url(#c40)" d="M89 437.9l14.8-13.4l6.5-5.2l8.2-5.9l11.5-7.4l14.8-8.6l6.6-3.6l4.9-2.1l18.1-5.1l9.8-2.4l5-.9l26.2-2.2l21.4-.8l-2-1l-21.4 .4l-26.2 1.7l-5 .8l-9.8 2.4l-18.1 4.9l-8.2 4l-19.7 11.2l-14.8 9.4l-4.9 3.7l-6.6 5.6l-13.1 13.1z"/><path fill="url(#c39)" stroke="url(#c39)" d="M90.3 438.8l16.4-14l18.1-13.2l8.2-5.3l13.1-7.6l6.6-3.5l4.9-2.2l19.7-5.5l13.2-3l26.2-2.5l21.4-.9l-2.1-1.2l-21.4 .6l-26.2 2l-5 .9l-9.8 2.4l-18.1 5l-4.9 2.2l-6.6 3.6l-16.4 9.5l-11.5 7.4l-6.6 4.7l-6.5 5.3l-6.6 5.9l-8.2 8z"/><path fill="url(#c38)" stroke="url(#c38)" d="M91.7 439.6l18.1-14.4l21.3-15.4l18.1-10.6l9.8-4.7l24.7-6.9l8.2-1.9l26.2-2.8l21.4-1.1l-2.3-1.2l-21.3 .8l-26.3 2.3l-13.1 3l-19.7 5.5l-5 2.1l-6.5 3.6l-14.8 8.5l-9.9 6.4l-14.7 10.9l-8.3 7l-8.2 7.5z"/><path fill="url(#c37)" stroke="url(#c37)" d="M93.2 440.3l16.4-12.3l24.7-17.7l16.4-9.7l9.8-4.7l27.9-7.8l6.6-1.4l26.3-2.8l19.7-1.2l-2.4-1.4l-21.4 1l-26.2 2.6l-11.5 2.7l-21.4 6l-9.8 4.7l-13.2 7.5l-8.2 5.3l-18.1 13l-18 15z"/><path fill="url(#c36)" stroke="url(#c36)" d="M94.8 441l42.7-30.2l14.8-8.6l9.8-4.7l26.3-7.6l6.6-1.5l26.3-3.2l21.3-1.5l-2.6-1.6l-19.7 1.1l-26.3 2.7l-8.2 1.7l-26.2 7.4l-9.9 4.7l-11.5 6.6l-6.6 4.1l-21.3 15.4l-18.1 14z"/><path fill="url(#c35)" stroke="url(#c35)" d="M96.4 441.6l24.7-16.1l19.7-14.2l14.7-8.4l8.3-3.8l21.3-6.4l11.5-2.9l26.3-3.3l21.3-1.5l-2.6-1.9l-19.7 1.2l-26.2 3l-6.6 1.3l-27.9 8l-8.2 3.8l-16.5 9.4l-42.7 30.8z"/><path fill="url(#c34)" stroke="url(#c34)" d="M98 442.2l11.5-6.7l13.2-8.4l19.7-14.2l14.8-8.4l8.2-3.8l23-7.1l11.5-2.8l24.6-2.9l21.3-1.2l-2.5-2.5l-21.4 1.5l-26.3 3.2l-6.5 1.6l-26.3 7.7l-9.9 4.6l-14.7 8.6l-18.1 13l-24.6 16.9z"/><path fill="url(#c33)" stroke="url(#c33)" d="M99.8 442.8l11.5-6.1l13.1-8l16.4-12l4.9-3.2l13.2-7.4l9.8-4.4l23-7.1l9.9-2.4l24.6-2.8l9.9-.6l11.5-.1l-2.8-3.1l-21.3 1.4l-24.7 3l-9.8 2.3l-24.7 7.4l-8.2 3.8l-14.7 8.4l-19.8 14.2l-24.6 15.8z"/><path fill="url(#c32)" stroke="url(#c32)" d="M101.8 443.5l11.5-5.7l13.1-7.5l16.5-11.9l6.5-4.2l13.2-7.2l8.2-3.6l23-7.3l4.9-1.3l6.6-1.3l22.9-2.4l9.9-.2l11.5 .3l-3.3-3.9l-21.3 1l-24.6 3l-11.5 2.7l-23 7.2l-8.2 3.8l-13.2 7.4l-6.5 4.3l-14.8 10.9l-13.2 8.2l-11.5 6.6z"/><path fill="url(#c31)" stroke="url(#c31)" d="M104.6 444.2l11.5-5.2l13.1-7.2l4.9-3.2l11.5-8.4l6.6-4.2l13.1-7.1l9.9-4.2l23-7.2l9.8-2l23-2l9.9-.1l11.5 .5l-4.5-4.7l-11.5 0l-9.8 .5l-23 2.6l-9.9 2.1l-24.6 7.6l-9.8 4.5l-13.2 7.3l-4.9 3.3l-16.4 12l-13.2 7.8l-11.5 6.1z"/><path fill="url(#c30)" stroke="url(#c30)" d="M107.9 445.1l11.5-5l13.2-6.8l19.7-13.4l11.5-6.4l9.8-4.7l9.9-3.6l19.7-6l8.2-1.4l24.6-1.7l19.7 .3l-5.4-4.4l-11.5-.4l-9.8 .2l-23 2.3l-9.9 2l-23 7.2l-9.8 4.2l-13.2 7.2l-6.5 4.2l-16.4 11.9l-13.2 7.4l-11.5 5.5z"/><path fill="url(#c29)" stroke="url(#c29)" d="M111.8 445.5l11.5-4.5l13.1-6.3l5-2.9l14.7-9.9l16.5-8.7l8.2-3.6l14.8-4.8l11.5-3.4l8.2-1.2l26.2-1.1l18.1 .1l-6.2-4.5l-11.5-.5l-9.8 .1l-23 1.9l-9.9 2l-21.3 6.7l-8.2 3.1l-11.5 5.9l-9.9 5.7l-13.1 9.5l-4.9 3.2l-13.2 7l-11.5 5.2z"/><path fill="url(#c28)" stroke="url(#c28)" d="M114.7 445.2l9.8-3.3l14.8-6.3l6.6-3.8l13.1-8.7l18.1-9.4l8.2-3.3l19.7-6.2l6.6-1.8l6.5-.7l27.9-.2l16.5 .5l-4.6-4.1l-19.7-.1l-26.3 1.5l-6.6 1.2l-16.4 4.9l-11.5 4l-9.8 4.5l-13.2 7.1l-14.8 10.1l-4.9 3l-13.1 6.6l-11.5 4.8z"/><path fill="url(#c27)" stroke="url(#c27)" d="M117.1 444.7l13.1-4.4l13.1-5.2l5-2.8l14.7-9.4l18.1-9l9.9-3.6l19.7-6l4.9-1l6.6-.3l27.9 .8l14.8 .9l-3.9-4.2l-18-.2l-26.3 .6l-6.6 .8l-9.8 2.8l-16.5 5.3l-8.2 3.3l-18 9.5l-14.8 9.8l-4.9 2.8l-14.8 6.7l-9.9 3.5z"/><path fill="url(#c26)" stroke="url(#c26)" d="M119.3 444l13.1-4.1l13.1-4.7l5-2.7l14.7-9.1l18.1-8.7l11.5-4.1l19.7-5.8l4.9-.7l5 0l9.8 .8l18.1 .8l14.8 1.3l-3.5-3.8l-14.8-.6l-27.9-.3l-6.6 .4l-4.9 1l-19.7 6.1l-9.9 3.6l-18.1 9.1l-19.7 12.4l-14.8 6.2l-11.4 3.9z"/><path fill="url(#c25)" stroke="url(#c25)" d="M121.4 443.3l16.4-4.8l9.9-3.3l4.9-2.5l14.8-8.9l11.5-5.6l8.2-3.5l13.1-4.2l16.4-4.8l5-.7l4.9 .1l9.8 1l19.8 1.3l13.1 1.3l-3.4-3l-14.8-1.1l-29.6-1.2l-4.9 .3l-4.9 1l-19.7 6l-9.9 3.5l-18 8.9l-14.8 9.3l-5 2.7l-13.1 5.1l-13.1 4.2z"/><path fill="url(#c24)" stroke="url(#c24)" d="M123.6 442.7l26.3-7.5l4.9-2.4l14.8-8.7l16.4-7.5l8.2-3l24.6-7.1l3.3-.6l4.9 0l11.5 1.2l18.1 1.3l14.8 1.4l-3.5-2.1l-14.8-1.3l-18.1-1l-9.8-.9l-4.9 0l-5 .6l-19.7 5.9l-11.5 4l-18 8.5l-14.8 9.1l-4.9 2.6l-11.5 4l-14.8 4.5z"/><path fill="url(#c23)" stroke="url(#c23)" d="M125.7 442l13.1-3.3l13.1-3.7l5-2.4l14.7-8.4l16.5-7.4l8.2-2.9l24.6-7l3.3-.5l4.9 0l11.5 1.4l18.1 1.4l14.8 1.5l-3.4-1.4l-13.1-1.4l-19.7-1.3l-11.5-1.2l-4.9 .1l-3.3 .6l-18.1 5.2l-11.5 3.7l-8.2 3.5l-11.5 5.4l-14.8 8.8l-4.9 2.5l-26.3 7.8z"/><path fill="url(#c22)" stroke="url(#c22)" d="M127.5 441.3l11.5-2.5l14.8-4.2l4.9-2.2l14.8-8.3l16.4-7.4l6.6-2.4l26.2-7.3l3.3-.5l4.9 .1l13.2 1.8l31.2 2.9l-2.9-1.1l-14.8-1.4l-18.1-1.3l-11.5-1.3l-4.9 0l-3.3 .5l-24.6 7.1l-8.2 2.9l-16.4 7.5l-14.8 8.5l-5 2.4l-26.2 7.3z"/><path fill="url(#c21)" stroke="url(#c21)" d="M129.2 440.5l9.8-1.7l14.8-4l6.6-2.8l14.7-8l18.1-8.1l6.6-2.2l24.6-6.7l3.3-.4l4.9 .2l13.2 2l31.2 3l-2.7-.8l-32.9-3l-11.5-1.5l-4.9 0l-3.3 .5l-26.2 7.4l-6.6 2.3l-16.4 7.5l-14.8 8.3l-4.9 2.3l-13.2 3.8l-13.1 3.1z"/><path fill="url(#c20)" stroke="url(#c20)" d="M130.8 439.8l9.8-1.5l14.8-3.9l6.6-2.7l14.8-7.9l18-8l8.2-2.7l23-6l3.3-.4l4.9 .2l13.2 2.2l31.2 3.3l-2.6-.9l-31.2-2.9l-13.2-1.9l-4.9-.1l-3.3 .4l-24.6 6.8l-6.6 2.2l-18 8.1l-14.8 8.1l-4.9 2.3l-14.8 4.1l-11.5 2.3z"/><path fill="url(#c19)" stroke="url(#c19)" d="M132.4 439.1l9.8-1.4l14.8-3.8l6.6-2.7l14.8-7.6l18-8l9.9-3.1l21.3-5.5l3.3-.3l4.9 .2l13.2 2.3l31.2 3.3l-2.6-.4l-31.2-3.2l-13.1-2.1l-5-.2l-3.3 .5l-24.6 6.5l-6.6 2.3l-18 8l-14.8 8l-6.6 2.8l-14.7 3.9l-9.9 1.6z"/><path fill="url(#c18)" stroke="url(#c18)" d="M133.8 438.7l9.9-1.5l14.8-3.8l6.5-2.7l14.8-7.4l18.1-7.8l9.8-3.1l21.4-5.4l3.3-.4l3.3 .1l14.7 2.4l31.2 2.9l-2.3 .5l-31.2-3.4l-13.1-2.2l-5-.2l-3.2 .3l-23 6l-8.2 2.7l-18.1 8l-14.8 7.8l-6.6 2.7l-14.7 3.8l-9.9 1.5z"/><path fill="url(#c17)" stroke="url(#c17)" d="M135 438.4l9.9-1.6l14.8-3.9l6.5-2.6l14.8-7.3l18.1-7.7l11.5-3.5l19.7-4.9l3.3-.4l3.3 .1l14.7 2.3l31.2 2.3l-1.9 1.1l-31.2-3.1l-14.8-2.4l-3.2-.1l-3.3 .3l-21.4 5.4l-9.8 3.2l-18.1 7.8l-14.8 7.6l-6.5 2.6l-14.8 3.8l-9.9 1.5z"/><path fill="url(#c16)" stroke="url(#c16)" d="M136.1 438.2l9.9-1.9l14.8-3.9l6.5-2.6l14.8-7.1l19.7-8.2l11.5-3.3l18.1-4.5l3.3-.3l3.3 0l14.7 2.1l31.2 1.8l-1.7 1.4l-31.2-2.6l-14.8-2.4l-3.3-.1l-3.3 .3l-21.3 5.4l-9.9 3.1l-18 7.8l-14.8 7.3l-6.6 2.7l-14.8 3.8l-9.8 1.5z"/><path fill="url(#c15)" stroke="url(#c15)" d="M137.2 437.9l11.5-2.5l14.8-4.1l6.5-2.7l13.2-6.3l18-7.4l11.5-3.5l19.7-4.9l6.6-.3l14.8 1.9l31.2 1.3l-1.7 1.4l-31.2-2l-14.8-2.3l-3.3 0l-3.2 .3l-19.7 4.9l-11.5 3.5l-18.1 7.7l-14.8 7.2l-6.6 2.6l-14.7 3.9l-9.9 1.7z"/><path fill="url(#c14)" stroke="url(#c14)" d="M138.2 437.8l26.3-7l4.9-2l14.8-6.9l14.8-6.1l6.6-2.3l13.1-3.7l14.8-3.5l6.5-.4l14.8 1.7l31.2 .9l-1.6 1.5l-31.2-1.6l-14.8-2.1l-3.3 0l-3.3 .3l-18.1 4.5l-11.5 3.3l-19.7 8.2l-14.7 7.1l-6.6 2.5l-14.8 4l-9.8 1.9z"/><path fill="url(#c13)" stroke="url(#c13)" d="M139.2 437.6l26.3-7.5l19.7-8.6l21.3-8.3l13.2-3.7l14.8-3.5l6.5-.4l14.8 1.5l31.2 .4l-1.6 1.5l-31.2-1.1l-14.8-1.8l-6.5 .3l-14.8 3.6l-13.1 3.6l-6.6 2.4l-14.8 6.2l-13.1 6.2l-6.6 2.7l-14.8 4.1l-11.5 2.7z"/><path fill="url(#c12)" stroke="url(#c12)" d="M140.2 437.5l26.2-8.1l19.7-8.4l19.7-7.6l11.5-3.3l16.5-4.1l6.5-.7l16.4 1.3l31.3-.1l-1.6 1.6l-31.2-.7l-14.7-1.6l-6.6 .4l-14.8 3.5l-13.1 3.6l-6.6 2.4l-14.8 6l-14.7 6.9l-5 1.9l-26.3 7.2z"/><path fill="url(#c11)" stroke="url(#c11)" d="M141.1 437.5l24.6-8.2l21.4-8.9l19.7-7.5l11.5-3.3l16.4-3.9l6.6-.8l16.4 1.1l31.2-.6l-1.5 1.7l-31.2-.2l-14.8-1.4l-6.6 .4l-16.4 3.9l-13.1 3.8l-19.7 7.7l-19.7 8.6l-26.3 7.7z"/><path fill="url(#c10)" stroke="url(#c10)" d="M142 437.6l21.4-8l23-9.4l18-6.8l9.9-3.1l14.8-3.6l8.2-1.8l4.9-.4l16.4 .9l31.2-1l-1.5 1.6l-31.2 .4l-16.4-1.3l-6.6 .8l-16.4 4l-11.5 3.3l-19.7 7.6l-19.7 8.3l-26.3 8.4z"/><path fill="url(#c9)" stroke="url(#c9)" d="M143 437.7l45.9-19.1l19.8-7.1l14.7-4l13.2-2.8l4.9-.6l19.7 .5l29.6-1.3l-1.5 1.7l-31.2 .8l-16.5-1l-3.2 .2l-5 .9l-16.4 3.9l-11.5 3.4l-19.7 7.5l-19.7 8.2l-24.6 8.6z"/><path fill="url(#c8)" stroke="url(#c8)" d="M143.9 437.9l18.1-8.8l21.3-9.1l23-8.3l14.8-4.2l14.8-3.1l6.5-.9l19.7 .2l29.6-1.5l-1.5 1.7l-29.6 1.2l-14.7-.8l-5 .1l-4.9 .6l-9.8 2.2l-14.8 3.8l-9.9 3.3l-16.4 6.2l-18.1 7.5l-24.6 9.6z"/><path fill="url(#c7)" stroke="url(#c7)" d="M144.8 438.1l16.5-9.2l18-8.2l9.9-3.9l11.5-4l18-5.5l11.5-2.5l11.5-1.9l5-.3l16.4 .2l29.5-1.7l-1.5 1.8l-29.5 1.4l-19.7-.5l-5 .7l-14.7 3.1l-14.8 4.1l-21.4 7.7l-23 9.6l-19.7 8.8z"/><path fill="url(#c6)" stroke="url(#c6)" d="M145.7 438.4l8.2-5.5l8.2-5l6.6-3.4l8.2-3.7l14.8-5.8l14.8-4.9l11.5-3.4l11.5-2.5l13.1-2.1l6.6-.3l14.8 0l29.5-1.8l-1.4 1.7l-29.6 1.6l-19.7-.1l-9.8 1.5l-13.1 2.8l-14.8 4.3l-23 8.3l-19.7 8.5l-18.1 9.4z"/><path fill="url(#c5)" stroke="url(#c5)" d="M146.6 438.8l8.2-6.3l6.6-4.5l6.6-3.8l6.5-3.2l8.2-3.6l8.3-3.2l26.2-8.1l11.5-2.6l14.8-2.2l21.4-.6l29.5-1.8l-1.4 1.7l-29.6 1.8l-16.4-.1l-4.9 .3l-13.2 2.2l-9.8 2.1l-9.9 2.8l-13.1 4.3l-8.2 2.9l-9.9 4l-16.4 7.6l-16.4 9.7z"/><path fill="url(#c4)" stroke="url(#c4)" d="M147.5 439.2l8.2-7l6.6-5l4.9-3.2l6.6-3.5l9.8-4.5l8.2-3.2l26.3-7.9l9.9-2.2l16.4-2.4l21.3-.7l29.6-1.9l-1.4 1.8l-29.6 1.9l-21.3 .4l-14.8 2.3l-9.9 2.2l-26.2 8.1l-8.2 3.1l-8.3 3.5l-8.2 3.9l-6.5 3.6l-14.8 10z"/><path fill="url(#c3)" stroke="url(#c3)" d="M148.3 439.7l6.6-6.3l6.6-5.7l4.9-3.7l4.9-3l9.9-4.8l8.2-3.5l19.7-6.2l16.4-4.4l18.1-2.6l52.5-2.9l-1.3 1.8l-29.6 1.8l-21.3 .7l-16.4 2.4l-9.9 2.3l-26.3 8l-8.2 3.2l-8.2 3.7l-6.6 3.2l-6.5 4l-6.6 4.7l-8.2 6.6z"/><path fill="url(#c2)" stroke="url(#c2)" d="M149.1 440.1l11.5-11.6l8.2-6.6l4.9-2.8l9.9-5l6.6-2.8l6.5-2.2l24.7-7.1l11.5-2.1l16.4-1.8l47.6-2.5l-1.2 1.6l-29.6 1.9l-21.3 .8l-18.1 2.6l-11.5 2.8l-24.6 7.5l-8.3 3.4l-9.8 4.6l-4.9 2.7l-6.6 4.6l-6.6 5.4l-6.5 5.9z"/><path fill="url(#c1)" stroke="url(#c1)" d="M149.9 440.6l11.5-12.6l4.9-4.5l3.3-2.6l4.9-3l9.9-5.1l6.6-2.9l4.9-1.7l26.3-7.5l9.8-1.8l18.1-1.9l47.6-2.5l-1.3 1.7l-52.5 2.9l-13.1 1.7l-6.6 1.2l-19.7 5.5l-9.9 2.9l-6.5 2.4l-8.3 3.6l-9.8 5.1l-4.9 3.3l-5 4l-11.5 11.1z"/><path fill="url(#c0)" stroke="url(#c0)" d="M150.6 441.1l6.6-8.1l4.9-5.6l4.9-4.8l3.3-2.7l3.3-2.2l9.9-5.4l6.5-3.1l5-1.9l27.9-7.9l8.2-1.5l21.3-2.2l46-2.2l-1.1 1.6l-47.7 2.5l-18 2l-9.9 1.9l-26.3 7.5l-6.5 2.4l-6.6 2.9l-9.9 5.1l-3.2 2.1l-8.2 6.8l-11.5 12.1z"/></g>
<path d="M46.4 458.5L46.4 341.2" stroke="#505050" stroke-width="0.8" fill="none"/>
<path d="M160.1 512.3L46.4 458.2M160.1 512.3L307.9 470.9M160.1 512.3L156.1 513.4M136.4 501L132.4 502.2M112.7 489.8L108.7 490.9M89 478.5L85 479.6M65.3 467.2L61.3 468.3M160.1 512.3L163.7 514M183.6 505.7L187.2 507.4M207.1 499.1L210.8 500.8M230.7 492.5L234.3 494.3M254.2 485.9L257.8 487.7M277.7 479.4L281.3 481.1M301.2 472.8L304.9 474.5M46.4 458.2L42.8 456.5M46.4 438.7L42.8 437M46.4 419.2L42.8 417.5M46.4 399.7L42.8 398M46.4 380.2L42.8 378.5M46.4 360.7L42.8 359M46.4 341.2L42.8 339.5" stroke="#262626" stroke-width="0.7" fill="none"/>
<g font-size="8.35" fill="#262626"><text x="152.5" y="522.4" text-anchor="end">0</text><text x="128.8" y="511.1" text-anchor="end">5</text><text x="105.1" y="499.9" text-anchor="end">10</text><text x="81.4" y="488.6" text-anchor="end">15</text><text x="57.7" y="477.3" text-anchor="end">20</text><text x="166.1" y="523.4">0</text><text x="189.6" y="516.8">0.5</text><text x="213.1" y="510.2">1</text><text x="236.7" y="503.6">1.5</text><text x="260.2" y="497">2</text><text x="283.7" y="490.5">2.5</text><text x="307.2" y="483.9">3</text><text x="39.6" y="458.8" text-anchor="end">0.06</text><text x="39.6" y="439.3" text-anchor="end">0.065</text><text x="39.6" y="419.8" text-anchor="end">0.07</text><text x="39.6" y="400.3" text-anchor="end">0.075</text><text x="39.6" y="380.8" text-anchor="end">0.08</text><text x="39.6" y="361.3" text-anchor="end">0.085</text><text x="39.6" y="341.8" text-anchor="end">0.09</text></g>
<g fill="#262626"><text x="94.6" y="526.1" font-size="13.7">Z</text><text x="102.9" y="532.7" font-size="11">c</text><text x="223.3" y="529.3" font-size="13.2" font-family="Liberation Serif" font-style="italic" fill="#333">&#981;</text><text x="230.3" y="529.6" font-size="13.6">(rad)</text><text transform="translate(7.2 407.9) rotate(-90)"><tspan font-family="Liberation Serif" font-style="italic" font-size="13" fill="#333">&#956;</tspan><tspan font-size="10.6" dy="6.8" dx="0.3">cof</tspan></text></g>
<text x="165.4" y="558.8" font-family="Liberation Serif" font-size="12.3" text-anchor="middle" fill="#000">(c)</text>
<path d="M507.6 500.9L656 459.6M484 489.5L632.4 448.2M460.5 478.2L608.9 436.9M436.9 466.9L585.3 425.6M554.7 505.6L441.7 451.2M578.3 499.1L465.3 444.7M602 492.5L489 438.1M625.6 485.9L512.6 431.5M649.2 479.3L536.2 424.9M672.8 472.8L559.8 418.4M418.1 457.8L418.1 341.4M441.7 451.2L441.7 334.8M465.3 444.7L465.3 328.3M489 438.1L489 321.7M512.6 431.5L512.6 315.1M536.2 424.9L536.2 308.5M559.8 418.4L559.8 302M418.1 457.8L566.5 416.5M418.1 428.7L566.5 387.4M418.1 399.6L566.5 358.3M418.1 370.5L566.5 329.2M418.1 341.4L566.5 300.1M679.5 470.9L679.5 354.5M656 459.6L656 343.2M632.4 448.2L632.4 331.8M608.9 436.9L608.9 320.5M585.3 425.6L585.3 309.2M679.5 470.9L566.5 416.5M679.5 441.8L566.5 387.4M679.5 412.7L566.5 358.3M679.5 383.6L566.5 329.2M679.5 354.5L566.5 300.1" stroke="#e2e2e2" stroke-width="0.6" fill="none"/>
<defs><linearGradient id="d84" gradientUnits="userSpaceOnUse" x1="418.57" x2="566.97"><stop offset="0" stop-color="#f9ba3e"/><stop offset=".022" stop-color="#fec537"/><stop offset=".1" stop-color="#f5ec22"/><stop offset=".167" stop-color="#f9fa15"/><stop offset=".311" stop-color="#f5ed22"/><stop offset=".433" stop-color="#fbd22f"/><stop offset=".5" stop-color="#fbbb3e"/><stop offset=".556" stop-color="#d8be28"/><stop offset=".589" stop-color="#bfc32d"/><stop offset=".656" stop-color="#7dcc5b"/><stop offset=".722" stop-color="#3dc990"/><stop offset=".778" stop-color="#1ec0b2"/><stop offset=".811" stop-color="#01bac4"/><stop offset=".833" stop-color="#07b5d0"/><stop offset=".867" stop-color="#1babde"/><stop offset=".978" stop-color="#337bfc"/><stop offset="1" stop-color="#3f6fff"/></linearGradient><linearGradient id="d83" gradientUnits="userSpaceOnUse" x1="419.78" x2="568.18"><stop offset="0" stop-color="#f1ba38"/><stop offset=".011" stop-color="#fbbb3e"/><stop offset=".056" stop-color="#fbd42e"/><stop offset=".122" stop-color="#f6f11f"/><stop offset=".189" stop-color="#f8f818"/><stop offset=".356" stop-color="#f5e427"/><stop offset=".478" stop-color="#fec13a"/><stop offset=".5" stop-color="#f9ba3e"/><stop offset=".544" stop-color="#dfbc29"/><stop offset=".578" stop-color="#c6c22a"/><stop offset=".633" stop-color="#95ca49"/><stop offset=".722" stop-color="#3fca8e"/><stop offset=".778" stop-color="#22c1b0"/><stop offset=".811" stop-color="#03bbc2"/><stop offset=".833" stop-color="#04b6ce"/><stop offset=".867" stop-color="#1aacdd"/><stop offset=".978" stop-color="#327cfc"/><stop offset="1" stop-color="#3e6fff"/></linearGradient><linearGradient id="d82" gradientUnits="userSpaceOnUse" x1="421.18" x2="569.58"><stop offset="0" stop-color="#e6bb2d"/><stop offset=".022" stop-color="#fbbb3e"/><stop offset=".056" stop-color="#fdce31"/><stop offset=".122" stop-color="#f5ed22"/><stop offset=".189" stop-color="#f7f51b"/><stop offset=".356" stop-color="#f5e128"/><stop offset=".467" stop-color="#fec338"/><stop offset=".5" stop-color="#f7ba3d"/><stop offset=".544" stop-color="#dcbd29"/><stop offset=".578" stop-color="#c5c22a"/><stop offset=".633" stop-color="#95ca49"/><stop offset=".722" stop-color="#42ca8b"/><stop offset=".789" stop-color="#1cc0b4"/><stop offset=".811" stop-color="#06bcc0"/><stop offset=".833" stop-color="#02b7cb"/><stop offset=".878" stop-color="#1caadf"/><stop offset=".989" stop-color="#3777fe"/><stop offset="1" stop-color="#3d70ff"/></linearGradient><linearGradient id="d81" gradientUnits="userSpaceOnUse" x1="422.42" x2="570.82"><stop offset="0" stop-color="#d8be28"/><stop offset=".033" stop-color="#fbbb3e"/><stop offset=".078" stop-color="#fad42e"/><stop offset=".144" stop-color="#f5ef20"/><stop offset=".244" stop-color="#f5ee21"/><stop offset=".411" stop-color="#fbd32e"/><stop offset=".478" stop-color="#febe3c"/><stop offset=".5" stop-color="#f5ba3b"/><stop offset=".544" stop-color="#dabd28"/><stop offset=".578" stop-color="#c2c22b"/><stop offset=".644" stop-color="#8acb52"/><stop offset=".733" stop-color="#3cc991"/><stop offset=".789" stop-color="#1fc0b2"/><stop offset=".822" stop-color="#02bac4"/><stop offset=".844" stop-color="#06b5cf"/><stop offset=".878" stop-color="#1babde"/><stop offset=".989" stop-color="#3578fd"/><stop offset="1" stop-color="#3c72ff"/></linearGradient><linearGradient id="d80" gradientUnits="userSpaceOnUse" x1="423.56" x2="571.96"><stop offset="0" stop-color="#c9c129"/><stop offset=".022" stop-color="#e6bb2d"/><stop offset=".044" stop-color="#fcbb3e"/><stop offset=".089" stop-color="#fad52d"/><stop offset=".156" stop-color="#f5ed22"/><stop offset=".289" stop-color="#f5e626"/><stop offset=".433" stop-color="#fecb33"/><stop offset=".478" stop-color="#fdbc3e"/><stop offset=".511" stop-color="#edba33"/><stop offset=".556" stop-color="#d0bf27"/><stop offset=".611" stop-color="#a6c83c"/><stop offset=".722" stop-color="#45cb89"/><stop offset=".789" stop-color="#22c1b0"/><stop offset=".822" stop-color="#03bbc2"/><stop offset=".844" stop-color="#04b6cd"/><stop offset=".878" stop-color="#1aacdd"/><stop offset=".989" stop-color="#337afd"/><stop offset="1" stop-color="#3a74ff"/></linearGradient><linearGradient id="d79" gradientUnits="userSpaceOnUse" x1="424.65" x2="573.05"><stop offset="0" stop-color="#b7c532"/><stop offset=".011" stop-color="#c9c129"/><stop offset=".033" stop-color="#e7bb2d"/><stop offset=".056" stop-color="#fcbc3e"/><stop offset=".1" stop-color="#fad52d"/><stop offset=".156" stop-color="#f5e924"/><stop offset=".3" stop-color="#f5e128"/><stop offset=".433" stop-color="#fec934"/><stop offset=".478" stop-color="#fbbb3e"/><stop offset=".544" stop-color="#d5be27"/><stop offset=".589" stop-color="#b6c533"/><stop offset=".711" stop-color="#4fcc81"/><stop offset=".756" stop-color="#33c79c"/><stop offset=".8" stop-color="#1ac0b5"/><stop offset=".822" stop-color="#05bcc0"/><stop offset=".844" stop-color="#02b7cc"/><stop offset=".889" stop-color="#1ca9df"/><stop offset=".989" stop-color="#327cfc"/><stop offset="1" stop-color="#3875fe"/></linearGradient><linearGradient id="d78" gradientUnits="userSpaceOnUse" x1="425.71" x2="574.11"><stop offset="0" stop-color="#a4c83e"/><stop offset=".022" stop-color="#cac128"/><stop offset=".044" stop-color="#e8bb2f"/><stop offset=".056" stop-color="#f4ba3a"/><stop offset=".067" stop-color="#fdbd3d"/><stop offset=".133" stop-color="#f6df29"/><stop offset=".189" stop-color="#f5e626"/><stop offset=".389" stop-color="#fbd22f"/><stop offset=".467" stop-color="#fdbc3d"/><stop offset=".5" stop-color="#eeba34"/><stop offset=".544" stop-color="#d2bf27"/><stop offset=".6" stop-color="#abc739"/><stop offset=".722" stop-color="#46cb87"/><stop offset=".8" stop-color="#1dc0b3"/><stop offset=".833" stop-color="#01bac5"/><stop offset=".856" stop-color="#07b5d0"/><stop offset=".889" stop-color="#1baade"/><stop offset="1" stop-color="#3677fe"/></linearGradient><linearGradient id="d77" gradientUnits="userSpaceOnUse" x1="426.7" x2="575.1"><stop offset="0" stop-color="#90ca4d"/><stop offset=".022" stop-color="#bbc430"/><stop offset=".033" stop-color="#cdc028"/><stop offset=".056" stop-color="#ebba31"/><stop offset=".067" stop-color="#f6ba3c"/><stop offset=".078" stop-color="#febe3c"/><stop offset=".144" stop-color="#f6de29"/><stop offset=".233" stop-color="#f6e028"/><stop offset=".411" stop-color="#feca33"/><stop offset=".467" stop-color="#fcbb3e"/><stop offset=".533" stop-color="#d7be28"/><stop offset=".578" stop-color="#b9c431"/><stop offset=".678" stop-color="#69cd6a"/><stop offset=".744" stop-color="#39c994"/><stop offset=".8" stop-color="#1ec0b2"/><stop offset=".833" stop-color="#02bac4"/><stop offset=".856" stop-color="#05b5cf"/><stop offset=".889" stop-color="#1aabdd"/><stop offset="1" stop-color="#3479fd"/></linearGradient><linearGradient id="d76" gradientUnits="userSpaceOnUse" x1="427.58" x2="575.98"><stop offset="0" stop-color="#7bcc5d"/><stop offset=".033" stop-color="#bec32e"/><stop offset=".044" stop-color="#d0bf27"/><stop offset=".067" stop-color="#edba33"/><stop offset=".078" stop-color="#f9ba3d"/><stop offset=".1" stop-color="#fec636"/><stop offset=".156" stop-color="#f7dc2a"/><stop offset=".311" stop-color="#f9d62d"/><stop offset=".433" stop-color="#fec339"/><stop offset=".467" stop-color="#faba3e"/><stop offset=".522" stop-color="#dcbd29"/><stop offset=".556" stop-color="#c6c22a"/><stop offset=".633" stop-color="#8dcb4f"/><stop offset=".744" stop-color="#39c994"/><stop offset=".8" stop-color="#20c1b1"/><stop offset=".833" stop-color="#02bbc2"/><stop offset=".856" stop-color="#04b6ce"/><stop offset=".889" stop-color="#19acdc"/><stop offset="1" stop-color="#327bfc"/></linearGradient><linearGradient id="d75" gradientUnits="userSpaceOnUse" x1="428.38" x2="576.78"><stop offset="0" stop-color="#65cd6e"/><stop offset=".033" stop-color="#acc738"/><stop offset=".044" stop-color="#c1c32c"/><stop offset=".056" stop-color="#d4bf27"/><stop offset=".078" stop-color="#f0ba36"/><stop offset=".089" stop-color="#fbbb3e"/><stop offset=".133" stop-color="#fcd12f"/><stop offset=".189" stop-color="#f8da2b"/><stop offset=".4" stop-color="#fec934"/><stop offset=".456" stop-color="#fcbb3e"/><stop offset=".522" stop-color="#d9bd28"/><stop offset=".556" stop-color="#c3c22b"/><stop offset=".644" stop-color="#83cc57"/><stop offset=".744" stop-color="#3ac994"/><stop offset=".8" stop-color="#21c1b1"/><stop offset=".833" stop-color="#03bbc1"/><stop offset=".856" stop-color="#03b7cc"/><stop offset=".9" stop-color="#1caadf"/><stop offset="1" stop-color="#307efc"/></linearGradient><linearGradient id="d74" gradientUnits="userSpaceOnUse" x1="429.11" x2="577.51"><stop offset="0" stop-color="#51cc7f"/><stop offset=".044" stop-color="#b1c635"/><stop offset=".056" stop-color="#c6c22a"/><stop offset=".067" stop-color="#d8be28"/><stop offset=".1" stop-color="#fdbc3e"/><stop offset=".156" stop-color="#fad42e"/><stop offset=".333" stop-color="#fdce31"/><stop offset=".444" stop-color="#fdbd3d"/><stop offset=".478" stop-color="#f0ba36"/><stop offset=".522" stop-color="#d7be28"/><stop offset=".567" stop-color="#b9c430"/><stop offset=".678" stop-color="#67cd6c"/><stop offset=".744" stop-color="#3ac994"/><stop offset=".8" stop-color="#22c1b0"/><stop offset=".833" stop-color="#05bcc0"/><stop offset=".856" stop-color="#02b7cb"/><stop offset=".9" stop-color="#1babde"/><stop offset="1" stop-color="#2f80fa"/></linearGradient><linearGradient id="d73" gradientUnits="userSpaceOnUse" x1="429.78" x2="578.18"><stop offset="0" stop-color="#3fca8e"/><stop offset=".033" stop-color="#87cb54"/><stop offset=".056" stop-color="#b7c532"/><stop offset=".067" stop-color="#cbc028"/><stop offset=".089" stop-color="#ebba31"/><stop offset=".1" stop-color="#f6ba3c"/><stop offset=".111" stop-color="#febd3d"/><stop offset=".167" stop-color="#fcd12f"/><stop offset=".4" stop-color="#fec537"/><stop offset=".456" stop-color="#f9ba3d"/><stop offset=".511" stop-color="#dcbd29"/><stop offset=".544" stop-color="#c6c22a"/><stop offset=".633" stop-color="#88cb53"/><stop offset=".744" stop-color="#3ac993"/><stop offset=".8" stop-color="#23c1af"/><stop offset=".844" stop-color="#01bac5"/><stop offset=".867" stop-color="#06b5cf"/><stop offset=".9" stop-color="#1aacdd"/><stop offset="1" stop-color="#2e83f9"/></linearGradient><linearGradient id="d72" gradientUnits="userSpaceOnUse" x1="430.43" x2="578.83"><stop offset="0" stop-color="#33c79c"/><stop offset=".011" stop-color="#42ca8b"/><stop offset=".044" stop-color="#8ecb4e"/><stop offset=".067" stop-color="#bec32e"/><stop offset=".078" stop-color="#d1bf27"/><stop offset=".1" stop-color="#eeba34"/><stop offset=".111" stop-color="#f9ba3e"/><stop offset=".133" stop-color="#fec438"/><stop offset=".178" stop-color="#fdcd31"/><stop offset=".411" stop-color="#fec239"/><stop offset=".456" stop-color="#f7ba3d"/><stop offset=".511" stop-color="#dabd28"/><stop offset=".544" stop-color="#c4c22b"/><stop offset=".633" stop-color="#87cb54"/><stop offset=".744" stop-color="#3ac993"/><stop offset=".8" stop-color="#23c1af"/><stop offset=".844" stop-color="#01bac4"/><stop offset=".867" stop-color="#04b6ce"/><stop offset=".911" stop-color="#1ca9df"/><stop offset="1" stop-color="#2e86f7"/></linearGradient><linearGradient id="d71" gradientUnits="userSpaceOnUse" x1="431.05" x2="579.45"><stop offset="0" stop-color="#2bc3a8"/><stop offset=".022" stop-color="#48cb86"/><stop offset=".056" stop-color="#97ca48"/><stop offset=".078" stop-color="#c5c22a"/><stop offset=".089" stop-color="#d7be28"/><stop offset=".122" stop-color="#fbbb3e"/><stop offset=".178" stop-color="#fec934"/><stop offset=".411" stop-color="#fec13a"/><stop offset=".456" stop-color="#f6ba3c"/><stop offset=".511" stop-color="#d8be28"/><stop offset=".556" stop-color="#bac430"/><stop offset=".678" stop-color="#64cd6f"/><stop offset=".744" stop-color="#3ac993"/><stop offset=".8" stop-color="#24c1ae"/><stop offset=".844" stop-color="#02bbc3"/><stop offset=".867" stop-color="#03b6cd"/><stop offset=".911" stop-color="#1babde"/><stop offset="1" stop-color="#2d89f5"/></linearGradient><linearGradient id="d70" gradientUnits="userSpaceOnUse" x1="431.67" x2="580.07"><stop offset="0" stop-color="#1dc0b3"/><stop offset=".022" stop-color="#3ac993"/><stop offset=".056" stop-color="#85cb55"/><stop offset=".078" stop-color="#b7c532"/><stop offset=".089" stop-color="#cbc028"/><stop offset=".111" stop-color="#e9ba30"/><stop offset=".133" stop-color="#fcbb3e"/><stop offset=".189" stop-color="#fec537"/><stop offset=".411" stop-color="#fec03b"/><stop offset=".456" stop-color="#f4ba3a"/><stop offset=".511" stop-color="#d6be27"/><stop offset=".556" stop-color="#b8c431"/><stop offset=".7" stop-color="#54cc7c"/><stop offset=".756" stop-color="#36c799"/><stop offset=".811" stop-color="#1ec0b3"/><stop offset=".844" stop-color="#03bbc1"/><stop offset=".867" stop-color="#02b7cb"/><stop offset=".922" stop-color="#1da9e0"/><stop offset="1" stop-color="#2d8df2"/></linearGradient><linearGradient id="d69" gradientUnits="userSpaceOnUse" x1="432.29" x2="580.69"><stop offset="0" stop-color="#09bdbe"/><stop offset=".011" stop-color="#23c1af"/><stop offset=".033" stop-color="#40ca8d"/><stop offset=".067" stop-color="#8fcb4e"/><stop offset=".089" stop-color="#bec32e"/><stop offset=".1" stop-color="#d1bf27"/><stop offset=".122" stop-color="#ecba32"/><stop offset=".144" stop-color="#fbbb3e"/><stop offset=".267" stop-color="#fec13a"/><stop offset=".411" stop-color="#febe3c"/><stop offset=".444" stop-color="#f7ba3c"/><stop offset=".5" stop-color="#dbbd28"/><stop offset=".533" stop-color="#c5c22a"/><stop offset=".644" stop-color="#79cc5e"/><stop offset=".744" stop-color="#3ac994"/><stop offset=".811" stop-color="#1fc0b2"/><stop offset=".856" stop-color="#01bac5"/><stop offset=".878" stop-color="#05b6ce"/><stop offset=".922" stop-color="#1babde"/><stop offset="1" stop-color="#2c90ef"/></linearGradient><linearGradient id="d68" gradientUnits="userSpaceOnUse" x1="432.91" x2="581.31"><stop offset="0" stop-color="#00b9c7"/><stop offset=".022" stop-color="#2ac3a9"/><stop offset=".044" stop-color="#49cb85"/><stop offset=".089" stop-color="#b0c636"/><stop offset=".1" stop-color="#c4c22a"/><stop offset=".122" stop-color="#e2bc2b"/><stop offset=".156" stop-color="#f9ba3e"/><stop offset=".411" stop-color="#fdbd3d"/><stop offset=".444" stop-color="#f5ba3b"/><stop offset=".5" stop-color="#d9be28"/><stop offset=".533" stop-color="#c3c22b"/><stop offset=".656" stop-color="#70cd65"/><stop offset=".744" stop-color="#39c994"/><stop offset=".811" stop-color="#20c1b1"/><stop offset=".856" stop-color="#01bac4"/><stop offset=".878" stop-color="#03b6cd"/><stop offset=".922" stop-color="#1aacdc"/><stop offset="1" stop-color="#2994ed"/></linearGradient><linearGradient id="d67" gradientUnits="userSpaceOnUse" x1="433.56" x2="581.96"><stop offset="0" stop-color="#08b4d0"/><stop offset=".011" stop-color="#02bbc2"/><stop offset=".022" stop-color="#1dc0b3"/><stop offset=".044" stop-color="#3bc992"/><stop offset=".078" stop-color="#88cb54"/><stop offset=".1" stop-color="#b6c532"/><stop offset=".111" stop-color="#c9c129"/><stop offset=".133" stop-color="#e3bb2b"/><stop offset=".167" stop-color="#f5ba3b"/><stop offset=".389" stop-color="#febd3d"/><stop offset=".433" stop-color="#f5ba3b"/><stop offset=".5" stop-color="#d6be27"/><stop offset=".544" stop-color="#b8c431"/><stop offset=".7" stop-color="#52cc7e"/><stop offset=".756" stop-color="#36c799"/><stop offset=".811" stop-color="#21c1b1"/><stop offset=".856" stop-color="#03bbc2"/><stop offset=".889" stop-color="#06b5cf"/><stop offset=".933" stop-color="#1babde"/><stop offset="1" stop-color="#2797eb"/></linearGradient><linearGradient id="d66" gradientUnits="userSpaceOnUse" x1="434.23" x2="582.63"><stop offset="0" stop-color="#15b0d8"/><stop offset=".011" stop-color="#02b7cb"/><stop offset=".022" stop-color="#0bbdbc"/><stop offset=".033" stop-color="#26c2ad"/><stop offset=".056" stop-color="#43cb8a"/><stop offset=".1" stop-color="#a7c73c"/><stop offset=".122" stop-color="#cbc028"/><stop offset=".156" stop-color="#e9ba2f"/><stop offset=".256" stop-color="#f8ba3d"/><stop offset=".4" stop-color="#fabb3e"/><stop offset=".467" stop-color="#e5bb2c"/><stop offset=".511" stop-color="#cbc128"/><stop offset=".622" stop-color="#83cc57"/><stop offset=".733" stop-color="#3eca8f"/><stop offset=".811" stop-color="#22c1b0"/><stop offset=".867" stop-color="#01bac5"/><stop offset=".9" stop-color="#09b4d1"/><stop offset=".944" stop-color="#1caadf"/><stop offset="1" stop-color="#269ae8"/></linearGradient><linearGradient id="d65" gradientUnits="userSpaceOnUse" x1="434.93" x2="583.33"><stop offset="0" stop-color="#1baade"/><stop offset=".022" stop-color="#01bac5"/><stop offset=".044" stop-color="#2dc4a6"/><stop offset=".056" stop-color="#39c895"/><stop offset=".089" stop-color="#80cc59"/><stop offset=".111" stop-color="#adc638"/><stop offset=".133" stop-color="#cdc028"/><stop offset=".167" stop-color="#e5bb2c"/><stop offset=".322" stop-color="#f7ba3d"/><stop offset=".411" stop-color="#f4ba3a"/><stop offset=".478" stop-color="#dbbd28"/><stop offset=".522" stop-color="#c0c32d"/><stop offset=".689" stop-color="#56cc7b"/><stop offset=".756" stop-color="#35c799"/><stop offset=".822" stop-color="#1dc0b3"/><stop offset=".867" stop-color="#02bac4"/><stop offset=".9" stop-color="#06b5cf"/><stop offset=".956" stop-color="#1ca9df"/><stop offset="1" stop-color="#259de6"/></linearGradient><linearGradient id="d64" gradientUnits="userSpaceOnUse" x1="435.68" x2="584.08"><stop offset="0" stop-color="#20a5e3"/><stop offset=".011" stop-color="#17afda"/><stop offset=".022" stop-color="#03b6cd"/><stop offset=".033" stop-color="#08bcbe"/><stop offset=".044" stop-color="#24c1af"/><stop offset=".067" stop-color="#40ca8d"/><stop offset=".111" stop-color="#9ec942"/><stop offset=".133" stop-color="#c0c32c"/><stop offset=".167" stop-color="#dcbd29"/><stop offset=".3" stop-color="#f1ba37"/><stop offset=".4" stop-color="#f2ba38"/><stop offset=".467" stop-color="#dcbd29"/><stop offset=".511" stop-color="#c3c22b"/><stop offset=".678" stop-color="#5bcc77"/><stop offset=".744" stop-color="#39c895"/><stop offset=".822" stop-color="#1ec0b2"/><stop offset=".867" stop-color="#03bbc2"/><stop offset=".9" stop-color="#04b6cd"/><stop offset=".956" stop-color="#1babde"/><stop offset="1" stop-color="#23a0e5"/></linearGradient><linearGradient id="d63" gradientUnits="userSpaceOnUse" x1="436.46" x2="584.86"><stop offset="0" stop-color="#249fe5"/><stop offset=".022" stop-color="#0eb2d4"/><stop offset=".033" stop-color="#00b9c6"/><stop offset=".056" stop-color="#2bc3a8"/><stop offset=".078" stop-color="#49cb85"/><stop offset=".122" stop-color="#a3c83f"/><stop offset=".156" stop-color="#cac128"/><stop offset=".211" stop-color="#ddbd29"/><stop offset=".344" stop-color="#eeba34"/><stop offset=".422" stop-color="#e8bb2e"/><stop offset=".489" stop-color="#cbc128"/><stop offset=".611" stop-color="#81cc58"/><stop offset=".733" stop-color="#3cc991"/><stop offset=".822" stop-color="#1fc0b2"/><stop offset=".878" stop-color="#01bac4"/><stop offset=".911" stop-color="#06b5cf"/><stop offset=".967" stop-color="#1babde"/><stop offset="1" stop-color="#21a3e4"/></linearGradient><linearGradient id="d62" gradientUnits="userSpaceOnUse" x1="437.24" x2="585.64"><stop offset="0" stop-color="#2699e9"/><stop offset=".022" stop-color="#17aeda"/><stop offset=".033" stop-color="#04b6cd"/><stop offset=".044" stop-color="#07bcbf"/><stop offset=".056" stop-color="#22c1b0"/><stop offset=".078" stop-color="#3eca8f"/><stop offset=".122" stop-color="#95ca49"/><stop offset=".144" stop-color="#b4c533"/><stop offset=".178" stop-color="#cbc128"/><stop offset=".3" stop-color="#e5bb2c"/><stop offset=".4" stop-color="#e7bb2e"/><stop offset=".478" stop-color="#cbc028"/><stop offset=".578" stop-color="#91ca4d"/><stop offset=".733" stop-color="#3cc991"/><stop offset=".822" stop-color="#20c1b1"/><stop offset=".878" stop-color="#02bbc3"/><stop offset=".911" stop-color="#04b6cd"/><stop offset=".978" stop-color="#1caadf"/><stop offset="1" stop-color="#20a5e2"/></linearGradient><linearGradient id="d61" gradientUnits="userSpaceOnUse" x1="438.01" x2="586.41"><stop offset="0" stop-color="#2a93ee"/><stop offset=".022" stop-color="#1ca9df"/><stop offset=".044" stop-color="#00b9c6"/><stop offset=".067" stop-color="#2bc3a9"/><stop offset=".089" stop-color="#46cb87"/><stop offset=".133" stop-color="#99c946"/><stop offset=".167" stop-color="#bcc42f"/><stop offset=".256" stop-color="#d7be28"/><stop offset=".378" stop-color="#e3bc2b"/><stop offset=".444" stop-color="#d4bf27"/><stop offset=".5" stop-color="#b9c430"/><stop offset=".678" stop-color="#55cc7b"/><stop offset=".756" stop-color="#35c79a"/><stop offset=".833" stop-color="#1bc0b4"/><stop offset=".878" stop-color="#03bbc2"/><stop offset=".911" stop-color="#02b7cc"/><stop offset=".978" stop-color="#1aabdd"/><stop offset="1" stop-color="#1ea7e1"/></linearGradient><linearGradient id="d60" gradientUnits="userSpaceOnUse" x1="438.79" x2="587.19"><stop offset="0" stop-color="#2d8cf3"/><stop offset=".033" stop-color="#18aedb"/><stop offset=".044" stop-color="#04b6ce"/><stop offset=".056" stop-color="#06bcbf"/><stop offset=".067" stop-color="#21c1b0"/><stop offset=".089" stop-color="#3cc991"/><stop offset=".133" stop-color="#8ccb50"/><stop offset=".167" stop-color="#b1c635"/><stop offset=".256" stop-color="#cec027"/><stop offset=".367" stop-color="#dcbd29"/><stop offset=".433" stop-color="#d2bf27"/><stop offset=".5" stop-color="#b3c534"/><stop offset=".689" stop-color="#4dcc82"/><stop offset=".767" stop-color="#32c69f"/><stop offset=".833" stop-color="#1cc0b4"/><stop offset=".889" stop-color="#01bac4"/><stop offset=".922" stop-color="#04b6ce"/><stop offset=".989" stop-color="#1babde"/><stop offset="1" stop-color="#1da8e0"/></linearGradient><linearGradient id="d59" gradientUnits="userSpaceOnUse" x1="439.57" x2="587.97"><stop offset="0" stop-color="#2e86f7"/><stop offset=".033" stop-color="#1ca9df"/><stop offset=".056" stop-color="#00b9c6"/><stop offset=".078" stop-color="#2ac3a9"/><stop offset=".1" stop-color="#44cb89"/><stop offset=".144" stop-color="#8fcb4e"/><stop offset=".178" stop-color="#abc739"/><stop offset=".289" stop-color="#cdc028"/><stop offset=".389" stop-color="#d4bf27"/><stop offset=".467" stop-color="#bdc32e"/><stop offset=".667" stop-color="#56cc7b"/><stop offset=".744" stop-color="#36c898"/><stop offset=".833" stop-color="#1cc0b3"/><stop offset=".889" stop-color="#02bac3"/><stop offset=".933" stop-color="#07b5d0"/><stop offset="1" stop-color="#1caadf"/></linearGradient><linearGradient id="d58" gradientUnits="userSpaceOnUse" x1="440.37" x2="588.77"><stop offset="0" stop-color="#2f80fb"/><stop offset=".033" stop-color="#20a5e3"/><stop offset=".044" stop-color="#17aeda"/><stop offset=".056" stop-color="#03b6cd"/><stop offset=".067" stop-color="#07bcbf"/><stop offset=".078" stop-color="#21c1b0"/><stop offset=".111" stop-color="#4ccb83"/><stop offset=".144" stop-color="#82cc58"/><stop offset=".167" stop-color="#99c946"/><stop offset=".267" stop-color="#bfc32d"/><stop offset=".367" stop-color="#cdc028"/><stop offset=".433" stop-color="#c2c22b"/><stop offset=".533" stop-color="#94ca4a"/><stop offset=".722" stop-color="#3bc992"/><stop offset=".833" stop-color="#1dc0b3"/><stop offset=".889" stop-color="#02bbc3"/><stop offset=".933" stop-color="#05b6ce"/><stop offset="1" stop-color="#1aacdd"/></linearGradient><linearGradient id="d57" gradientUnits="userSpaceOnUse" x1="441.22" x2="589.62"><stop offset="0" stop-color="#347afd"/><stop offset=".044" stop-color="#1baade"/><stop offset=".067" stop-color="#01bac5"/><stop offset=".089" stop-color="#2ac3a9"/><stop offset=".111" stop-color="#41ca8c"/><stop offset=".156" stop-color="#81cc58"/><stop offset=".2" stop-color="#9cc944"/><stop offset=".3" stop-color="#bcc42f"/><stop offset=".389" stop-color="#c3c22b"/><stop offset=".467" stop-color="#adc638"/><stop offset=".678" stop-color="#4acb84"/><stop offset=".767" stop-color="#30c5a1"/><stop offset=".844" stop-color="#17bfb6"/><stop offset=".9" stop-color="#01bac5"/><stop offset=".944" stop-color="#07b5d0"/><stop offset="1" stop-color="#19addc"/></linearGradient><linearGradient id="d56" gradientUnits="userSpaceOnUse" x1="442.16" x2="590.56"><stop offset="0" stop-color="#3974ff"/><stop offset=".011" stop-color="#2e83f9"/><stop offset=".044" stop-color="#1fa6e2"/><stop offset=".056" stop-color="#15b0d8"/><stop offset=".067" stop-color="#02b7cc"/><stop offset=".078" stop-color="#08bcbe"/><stop offset=".089" stop-color="#21c1b1"/><stop offset=".122" stop-color="#46cb88"/><stop offset=".156" stop-color="#72cd63"/><stop offset=".2" stop-color="#8ecb4e"/><stop offset=".3" stop-color="#b1c635"/><stop offset=".389" stop-color="#b8c431"/><stop offset=".467" stop-color="#a4c83e"/><stop offset=".689" stop-color="#42ca8b"/><stop offset=".833" stop-color="#1cc0b4"/><stop offset=".9" stop-color="#01bac4"/><stop offset=".956" stop-color="#08b4d1"/><stop offset="1" stop-color="#17afda"/></linearGradient><linearGradient id="d55" gradientUnits="userSpaceOnUse" x1="443.19" x2="591.59"><stop offset="0" stop-color="#3d70ff"/><stop offset=".011" stop-color="#307ffb"/><stop offset=".056" stop-color="#1aacdd"/><stop offset=".067" stop-color="#09b4d1"/><stop offset=".078" stop-color="#01bac5"/><stop offset=".1" stop-color="#28c2ab"/><stop offset=".133" stop-color="#49cb85"/><stop offset=".167" stop-color="#6ccd68"/><stop offset=".256" stop-color="#97ca48"/><stop offset=".344" stop-color="#abc739"/><stop offset=".422" stop-color="#a6c83c"/><stop offset=".556" stop-color="#73cd63"/><stop offset=".711" stop-color="#38c895"/><stop offset=".822" stop-color="#1fc0b2"/><stop offset=".9" stop-color="#01bac4"/><stop offset=".956" stop-color="#06b5cf"/><stop offset="1" stop-color="#14b0d8"/></linearGradient><linearGradient id="d54" gradientUnits="userSpaceOnUse" x1="444.36" x2="592.76"><stop offset="0" stop-color="#3f6eff"/><stop offset=".011" stop-color="#317dfc"/><stop offset=".056" stop-color="#1ca9e0"/><stop offset=".078" stop-color="#01b7ca"/><stop offset=".089" stop-color="#08bcbe"/><stop offset=".1" stop-color="#1ec0b2"/><stop offset=".122" stop-color="#34c79c"/><stop offset=".167" stop-color="#5ccc76"/><stop offset=".278" stop-color="#8fcb4e"/><stop offset=".367" stop-color="#9fc942"/><stop offset=".444" stop-color="#93ca4a"/><stop offset=".689" stop-color="#3bc992"/><stop offset=".822" stop-color="#1dc0b3"/><stop offset=".9" stop-color="#02bac4"/><stop offset=".956" stop-color="#05b6ce"/><stop offset="1" stop-color="#12b1d6"/></linearGradient><linearGradient id="d53" gradientUnits="userSpaceOnUse" x1="445.65" x2="594.05"><stop offset="0" stop-color="#3e6fff"/><stop offset=".011" stop-color="#317dfc"/><stop offset=".067" stop-color="#17afda"/><stop offset=".078" stop-color="#06b5cf"/><stop offset=".089" stop-color="#01bac4"/><stop offset=".111" stop-color="#23c1af"/><stop offset=".167" stop-color="#4bcb83"/><stop offset=".289" stop-color="#82cc58"/><stop offset=".367" stop-color="#8fcb4e"/><stop offset=".456" stop-color="#82cc58"/><stop offset=".7" stop-color="#35c79a"/><stop offset=".822" stop-color="#19bfb5"/><stop offset=".9" stop-color="#01bac4"/><stop offset=".967" stop-color="#07b5d0"/><stop offset="1" stop-color="#10b2d5"/></linearGradient><linearGradient id="d52" gradientUnits="userSpaceOnUse" x1="447.03" x2="595.43"><stop offset="0" stop-color="#3c71ff"/><stop offset=".011" stop-color="#307efc"/><stop offset=".067" stop-color="#1aacdd"/><stop offset=".089" stop-color="#01b8ca"/><stop offset=".1" stop-color="#05bcc0"/><stop offset=".122" stop-color="#25c2ae"/><stop offset=".178" stop-color="#41ca8c"/><stop offset=".3" stop-color="#74cd62"/><stop offset=".378" stop-color="#7fcc5a"/><stop offset=".478" stop-color="#6ecd67"/><stop offset=".7" stop-color="#32c69e"/><stop offset=".811" stop-color="#19bfb5"/><stop offset=".889" stop-color="#01bac4"/><stop offset=".956" stop-color="#05b5cf"/><stop offset="1" stop-color="#11b2d5"/></linearGradient><linearGradient id="d51" gradientUnits="userSpaceOnUse" x1="448.48" x2="596.88"><stop offset="0" stop-color="#3974ff"/><stop offset=".011" stop-color="#2f7ffb"/><stop offset=".067" stop-color="#1caadf"/><stop offset=".1" stop-color="#00b9c7"/><stop offset=".111" stop-color="#07bcbf"/><stop offset=".133" stop-color="#23c1af"/><stop offset=".178" stop-color="#36c899"/><stop offset=".322" stop-color="#69cd6b"/><stop offset=".4" stop-color="#6dcd67"/><stop offset=".589" stop-color="#46cb88"/><stop offset=".789" stop-color="#1ac0b5"/><stop offset=".878" stop-color="#01bac5"/><stop offset=".944" stop-color="#07b5d0"/><stop offset="1" stop-color="#14b0d8"/></linearGradient><linearGradient id="d50" gradientUnits="userSpaceOnUse" x1="450" x2="598.4"><stop offset="0" stop-color="#3578fd"/><stop offset=".078" stop-color="#19addc"/><stop offset=".1" stop-color="#04b6ce"/><stop offset=".111" stop-color="#00b9c6"/><stop offset=".133" stop-color="#13beb9"/><stop offset=".167" stop-color="#2bc3a9"/><stop offset=".322" stop-color="#59cc78"/><stop offset=".4" stop-color="#5ecd74"/><stop offset=".644" stop-color="#35c79b"/><stop offset=".767" stop-color="#1bc0b4"/><stop offset=".856" stop-color="#01bac4"/><stop offset=".922" stop-color="#08b4d0"/><stop offset="1" stop-color="#19acdc"/></linearGradient><linearGradient id="d49" gradientUnits="userSpaceOnUse" x1="451.64" x2="600.04"><stop offset="0" stop-color="#317dfc"/><stop offset=".078" stop-color="#1caadf"/><stop offset=".122" stop-color="#00b9c8"/><stop offset=".144" stop-color="#0bbdbd"/><stop offset=".189" stop-color="#27c2ac"/><stop offset=".333" stop-color="#4bcb84"/><stop offset=".422" stop-color="#4ccc82"/><stop offset=".689" stop-color="#2ac3a9"/><stop offset=".833" stop-color="#01bac5"/><stop offset=".889" stop-color="#07b5d0"/><stop offset=".978" stop-color="#1caadf"/><stop offset="1" stop-color="#1ea7e1"/></linearGradient><linearGradient id="d48" gradientUnits="userSpaceOnUse" x1="453.42" x2="601.82"><stop offset="0" stop-color="#2f82fa"/><stop offset=".1" stop-color="#16afd9"/><stop offset=".133" stop-color="#02b7cb"/><stop offset=".167" stop-color="#07bcbf"/><stop offset=".233" stop-color="#29c3aa"/><stop offset=".356" stop-color="#3eca8f"/><stop offset=".533" stop-color="#35c79a"/><stop offset=".689" stop-color="#23c1af"/><stop offset=".8" stop-color="#01bac4"/><stop offset=".856" stop-color="#06b5cf"/><stop offset=".944" stop-color="#1ca9e0"/><stop offset="1" stop-color="#249fe5"/></linearGradient><linearGradient id="d47" gradientUnits="userSpaceOnUse" x1="455.36" x2="603.76"><stop offset="0" stop-color="#2e87f7"/><stop offset=".111" stop-color="#17aeda"/><stop offset=".167" stop-color="#01b8c9"/><stop offset=".2" stop-color="#06bcc0"/><stop offset=".267" stop-color="#26c2ad"/><stop offset=".367" stop-color="#34c79c"/><stop offset=".611" stop-color="#27c2ac"/><stop offset=".722" stop-color="#0abdbd"/><stop offset=".789" stop-color="#01b8c9"/><stop offset=".922" stop-color="#1ea6e1"/><stop offset="1" stop-color="#2796eb"/></linearGradient><linearGradient id="d46" gradientUnits="userSpaceOnUse" x1="457.38" x2="605.78"><stop offset="0" stop-color="#2d8bf4"/><stop offset=".144" stop-color="#14b0d7"/><stop offset=".2" stop-color="#01b8ca"/><stop offset=".244" stop-color="#08bcbe"/><stop offset=".311" stop-color="#24c1af"/><stop offset=".4" stop-color="#2ac3a9"/><stop offset=".6" stop-color="#1cc0b4"/><stop offset=".722" stop-color="#01bac5"/><stop offset=".789" stop-color="#09b4d1"/><stop offset=".889" stop-color="#1fa5e2"/><stop offset="1" stop-color="#2d8cf3"/></linearGradient><linearGradient id="d45" gradientUnits="userSpaceOnUse" x1="459.27" x2="607.67"><stop offset="0" stop-color="#2d8ef1"/><stop offset=".189" stop-color="#10b2d5"/><stop offset=".244" stop-color="#00b8c8"/><stop offset=".3" stop-color="#0dbdbc"/><stop offset=".367" stop-color="#1bc0b4"/><stop offset=".589" stop-color="#0ebdbb"/><stop offset=".689" stop-color="#00b8c8"/><stop offset=".867" stop-color="#22a2e4"/><stop offset="1" stop-color="#2f7ffb"/></linearGradient><linearGradient id="d44" gradientUnits="userSpaceOnUse" x1="460.98" x2="609.38"><stop offset="0" stop-color="#2c90ef"/><stop offset=".211" stop-color="#13b0d7"/><stop offset=".278" stop-color="#01b8ca"/><stop offset=".389" stop-color="#08bcbe"/><stop offset=".644" stop-color="#01b8c9"/><stop offset=".833" stop-color="#22a2e4"/><stop offset=".978" stop-color="#337afd"/><stop offset="1" stop-color="#3c71ff"/></linearGradient><linearGradient id="d43" gradientUnits="userSpaceOnUse" x1="462.72" x2="611.12"><stop offset="0" stop-color="#2a93ee"/><stop offset=".244" stop-color="#14b0d8"/><stop offset=".333" stop-color="#01b8ca"/><stop offset=".611" stop-color="#05b6ce"/><stop offset=".8" stop-color="#22a2e4"/><stop offset=".933" stop-color="#307ffb"/><stop offset="1" stop-color="#4564fd"/></linearGradient><linearGradient id="d42" gradientUnits="userSpaceOnUse" x1="464.63" x2="613.03"><stop offset="0" stop-color="#2895ec"/><stop offset=".267" stop-color="#19addc"/><stop offset=".389" stop-color="#0bb3d2"/><stop offset=".667" stop-color="#1aacdd"/><stop offset=".844" stop-color="#2b91ef"/><stop offset=".911" stop-color="#317cfc"/><stop offset=".978" stop-color="#4661fc"/><stop offset="1" stop-color="#4757f7"/></linearGradient><linearGradient id="d41" gradientUnits="userSpaceOnUse" x1="466.63" x2="615.03"><stop offset="0" stop-color="#2797eb"/><stop offset=".267" stop-color="#1fa5e2"/><stop offset=".433" stop-color="#1aacdd"/><stop offset=".678" stop-color="#21a3e3"/><stop offset=".833" stop-color="#2d8af4"/><stop offset=".889" stop-color="#3479fd"/><stop offset=".956" stop-color="#465efb"/><stop offset="1" stop-color="#484bef"/></linearGradient><linearGradient id="d40" gradientUnits="userSpaceOnUse" x1="468.55" x2="616.95"><stop offset="0" stop-color="#2699e9"/><stop offset=".244" stop-color="#259be8"/><stop offset=".444" stop-color="#21a4e3"/><stop offset=".656" stop-color="#249de6"/><stop offset=".833" stop-color="#307ffb"/><stop offset=".911" stop-color="#4564fd"/><stop offset=".989" stop-color="#4745e9"/><stop offset="1" stop-color="#4740e4"/></linearGradient><linearGradient id="d39" gradientUnits="userSpaceOnUse" x1="470.59" x2="618.99"><stop offset="0" stop-color="#269ae8"/><stop offset=".222" stop-color="#2a93ed"/><stop offset=".611" stop-color="#269ae9"/><stop offset=".8" stop-color="#347afd"/><stop offset=".889" stop-color="#465efb"/><stop offset=".967" stop-color="#4742e6"/><stop offset="1" stop-color="#4535d2"/></linearGradient><linearGradient id="d38" gradientUnits="userSpaceOnUse" x1="473.08" x2="621.48"><stop offset="0" stop-color="#259be8"/><stop offset=".3" stop-color="#2c90f0"/><stop offset=".622" stop-color="#2d8ef1"/><stop offset=".744" stop-color="#3579fd"/><stop offset=".856" stop-color="#475dfa"/><stop offset=".944" stop-color="#473fe3"/><stop offset="1" stop-color="#422ebe"/></linearGradient><linearGradient id="d37" gradientUnits="userSpaceOnUse" x1="475.8" x2="624.2"><stop offset="0" stop-color="#269ae9"/><stop offset=".289" stop-color="#2a92ee"/><stop offset=".656" stop-color="#307efb"/><stop offset=".822" stop-color="#4660fc"/><stop offset=".922" stop-color="#4742e7"/><stop offset=".978" stop-color="#4331c7"/><stop offset="1" stop-color="#402ab5"/></linearGradient><linearGradient id="d36" gradientUnits="userSpaceOnUse" x1="478.28" x2="626.68"><stop offset="0" stop-color="#2896eb"/><stop offset=".178" stop-color="#22a2e4"/><stop offset=".478" stop-color="#2e86f7"/><stop offset=".667" stop-color="#3876fe"/><stop offset=".844" stop-color="#4757f7"/><stop offset=".933" stop-color="#463cdf"/><stop offset="1" stop-color="#3f29b2"/></linearGradient><linearGradient id="d35" gradientUnits="userSpaceOnUse" x1="480.2" x2="628.6"><stop offset="0" stop-color="#2b92ee"/><stop offset=".122" stop-color="#1caadf"/><stop offset=".222" stop-color="#1da9e0"/><stop offset=".4" stop-color="#2d8bf4"/><stop offset=".633" stop-color="#3579fd"/><stop offset=".822" stop-color="#475af9"/><stop offset=".911" stop-color="#4741e5"/><stop offset=".967" stop-color="#4331c7"/><stop offset="1" stop-color="#3f28af"/></linearGradient><linearGradient id="d34" gradientUnits="userSpaceOnUse" x1="481.57" x2="629.97"><stop offset="0" stop-color="#2c8ff1"/><stop offset=".089" stop-color="#1aacdd"/><stop offset=".178" stop-color="#09b4d1"/><stop offset=".267" stop-color="#1ea7e1"/><stop offset=".378" stop-color="#2d8df2"/><stop offset=".633" stop-color="#347afd"/><stop offset=".811" stop-color="#475bf9"/><stop offset=".911" stop-color="#4740e3"/><stop offset=".978" stop-color="#412dbd"/><stop offset="1" stop-color="#3f28ad"/></linearGradient><linearGradient id="d33" gradientUnits="userSpaceOnUse" x1="482.71" x2="631.11"><stop offset="0" stop-color="#2d8cf3"/><stop offset=".078" stop-color="#16afd9"/><stop offset=".122" stop-color="#01b7cb"/><stop offset=".189" stop-color="#01bac4"/><stop offset=".233" stop-color="#07b5d0"/><stop offset=".278" stop-color="#1caadf"/><stop offset=".378" stop-color="#2c90f0"/><stop offset=".644" stop-color="#347afd"/><stop offset=".8" stop-color="#475cfa"/><stop offset=".9" stop-color="#4742e6"/><stop offset=".967" stop-color="#4230c3"/><stop offset="1" stop-color="#3e27ac"/></linearGradient><linearGradient id="d32" gradientUnits="userSpaceOnUse" x1="483.77" x2="632.17"><stop offset="0" stop-color="#2d89f5"/><stop offset=".067" stop-color="#16afd9"/><stop offset=".1" stop-color="#00b8c9"/><stop offset=".167" stop-color="#18bfb6"/><stop offset=".2" stop-color="#13beb9"/><stop offset=".244" stop-color="#00b8c8"/><stop offset=".3" stop-color="#1ca9df"/><stop offset=".389" stop-color="#2994ed"/><stop offset=".644" stop-color="#327bfc"/><stop offset=".789" stop-color="#465efb"/><stop offset=".9" stop-color="#4741e5"/><stop offset=".967" stop-color="#422fc2"/><stop offset="1" stop-color="#3e27ab"/></linearGradient><linearGradient id="d31" gradientUnits="userSpaceOnUse" x1="484.76" x2="633.16"><stop offset="0" stop-color="#2e87f7"/><stop offset=".056" stop-color="#1aacdd"/><stop offset=".089" stop-color="#00b8c8"/><stop offset=".111" stop-color="#0dbdbc"/><stop offset=".144" stop-color="#23c1af"/><stop offset=".189" stop-color="#27c2ac"/><stop offset=".222" stop-color="#1bc0b4"/><stop offset=".256" stop-color="#02bbc3"/><stop offset=".278" stop-color="#04b6cd"/><stop offset=".311" stop-color="#18addb"/><stop offset=".389" stop-color="#259ce7"/><stop offset=".656" stop-color="#337bfc"/><stop offset=".789" stop-color="#465efb"/><stop offset=".9" stop-color="#4740e4"/><stop offset=".967" stop-color="#422fc1"/><stop offset="1" stop-color="#3e27aa"/></linearGradient><linearGradient id="d30" gradientUnits="userSpaceOnUse" x1="485.69" x2="634.09"><stop offset="0" stop-color="#2e84f8"/><stop offset=".056" stop-color="#19addc"/><stop offset=".078" stop-color="#02b7cc"/><stop offset=".089" stop-color="#01bac4"/><stop offset=".133" stop-color="#27c2ac"/><stop offset=".178" stop-color="#2fc5a3"/><stop offset=".233" stop-color="#23c1af"/><stop offset=".278" stop-color="#02bbc3"/><stop offset=".3" stop-color="#03b6cd"/><stop offset=".344" stop-color="#1aacdd"/><stop offset=".567" stop-color="#2d8cf3"/><stop offset=".678" stop-color="#3678fd"/><stop offset=".8" stop-color="#475cfa"/><stop offset=".9" stop-color="#4740e4"/><stop offset=".967" stop-color="#422fc1"/><stop offset="1" stop-color="#3e27a9"/></linearGradient><linearGradient id="d29" gradientUnits="userSpaceOnUse" x1="486.67" x2="635.07"><stop offset="0" stop-color="#2f82fa"/><stop offset=".056" stop-color="#18addb"/><stop offset=".078" stop-color="#01b7ca"/><stop offset=".089" stop-color="#03bbc2"/><stop offset=".122" stop-color="#27c2ac"/><stop offset=".167" stop-color="#33c69d"/><stop offset=".233" stop-color="#2bc3a8"/><stop offset=".278" stop-color="#13beb9"/><stop offset=".3" stop-color="#03bbc2"/><stop offset=".333" stop-color="#05b5cf"/><stop offset=".389" stop-color="#1aacdd"/><stop offset=".622" stop-color="#2e85f8"/><stop offset=".711" stop-color="#3b73ff"/><stop offset=".833" stop-color="#4855f6"/><stop offset=".922" stop-color="#463adc"/><stop offset="1" stop-color="#3e26a9"/></linearGradient><linearGradient id="d28" gradientUnits="userSpaceOnUse" x1="487.76" x2="636.16"><stop offset="0" stop-color="#2f80fb"/><stop offset=".056" stop-color="#19addc"/><stop offset=".078" stop-color="#01b8ca"/><stop offset=".089" stop-color="#04bbc1"/><stop offset=".111" stop-color="#21c1b1"/><stop offset=".144" stop-color="#32c69f"/><stop offset=".189" stop-color="#36c899"/><stop offset=".267" stop-color="#27c2ac"/><stop offset=".333" stop-color="#02bbc3"/><stop offset=".378" stop-color="#07b5d0"/><stop offset=".456" stop-color="#1ca9df"/><stop offset=".656" stop-color="#2e83f9"/><stop offset=".778" stop-color="#4466fd"/><stop offset=".889" stop-color="#4745ea"/><stop offset=".956" stop-color="#4332c8"/><stop offset="1" stop-color="#3e26a8"/></linearGradient><linearGradient id="d27" gradientUnits="userSpaceOnUse" x1="488.93" x2="637.33"><stop offset="0" stop-color="#317dfc"/><stop offset=".056" stop-color="#1aacdd"/><stop offset=".078" stop-color="#01b8ca"/><stop offset=".089" stop-color="#04bbc1"/><stop offset=".111" stop-color="#23c1af"/><stop offset=".144" stop-color="#34c79c"/><stop offset=".189" stop-color="#38c896"/><stop offset=".289" stop-color="#28c2ab"/><stop offset=".378" stop-color="#01bac4"/><stop offset=".422" stop-color="#05b5cf"/><stop offset=".5" stop-color="#1ca9e0"/><stop offset=".722" stop-color="#3579fd"/><stop offset=".811" stop-color="#465ffb"/><stop offset=".911" stop-color="#473fe3"/><stop offset=".989" stop-color="#3f29b1"/><stop offset="1" stop-color="#3e26a8"/></linearGradient><linearGradient id="d26" gradientUnits="userSpaceOnUse" x1="490.09" x2="638.49"><stop offset="0" stop-color="#347afd"/><stop offset=".056" stop-color="#1aabdd"/><stop offset=".078" stop-color="#01b7ca"/><stop offset=".089" stop-color="#04bcc0"/><stop offset=".111" stop-color="#24c1ae"/><stop offset=".156" stop-color="#39c895"/><stop offset=".222" stop-color="#38c896"/><stop offset=".333" stop-color="#24c1ae"/><stop offset=".422" stop-color="#02bbc3"/><stop offset=".467" stop-color="#05b6ce"/><stop offset=".533" stop-color="#1babde"/><stop offset=".744" stop-color="#3677fe"/><stop offset=".822" stop-color="#465efb"/><stop offset=".911" stop-color="#4740e4"/><stop offset=".978" stop-color="#412cba"/><stop offset="1" stop-color="#3e26a9"/></linearGradient><linearGradient id="d25" gradientUnits="userSpaceOnUse" x1="491.23" x2="639.63"><stop offset="0" stop-color="#3777fe"/><stop offset=".056" stop-color="#1babde"/><stop offset=".078" stop-color="#02b7cb"/><stop offset=".089" stop-color="#04bcc1"/><stop offset=".111" stop-color="#25c2ad"/><stop offset=".156" stop-color="#3bc992"/><stop offset=".222" stop-color="#3bc992"/><stop offset=".389" stop-color="#22c1b0"/><stop offset=".478" stop-color="#01bac5"/><stop offset=".522" stop-color="#09b4d1"/><stop offset=".589" stop-color="#1da8e0"/><stop offset=".756" stop-color="#3678fd"/><stop offset=".822" stop-color="#4660fc"/><stop offset=".911" stop-color="#4741e5"/><stop offset=".978" stop-color="#412dbb"/><stop offset="1" stop-color="#3e27aa"/></linearGradient><linearGradient id="d24" gradientUnits="userSpaceOnUse" x1="492.4" x2="640.8"><stop offset="0" stop-color="#3a73ff"/><stop offset=".011" stop-color="#2f80fa"/><stop offset=".056" stop-color="#1ca9df"/><stop offset=".078" stop-color="#02b7cc"/><stop offset=".089" stop-color="#04bbc1"/><stop offset=".111" stop-color="#25c2ad"/><stop offset=".156" stop-color="#3cc991"/><stop offset=".233" stop-color="#3dca90"/><stop offset=".433" stop-color="#27c2ac"/><stop offset=".522" stop-color="#01bac5"/><stop offset=".556" stop-color="#06b5cf"/><stop offset=".622" stop-color="#1da8e0"/><stop offset=".767" stop-color="#3678fd"/><stop offset=".833" stop-color="#465efb"/><stop offset=".922" stop-color="#463ee1"/><stop offset="1" stop-color="#3e27ab"/></linearGradient><linearGradient id="d23" gradientUnits="userSpaceOnUse" x1="493.56" x2="641.96"><stop offset="0" stop-color="#3e70ff"/><stop offset=".011" stop-color="#317dfc"/><stop offset=".056" stop-color="#1ea8e1"/><stop offset=".067" stop-color="#15b0d8"/><stop offset=".078" stop-color="#04b6ce"/><stop offset=".089" stop-color="#02bbc3"/><stop offset=".111" stop-color="#24c2ae"/><stop offset=".156" stop-color="#3cc991"/><stop offset=".256" stop-color="#3fca8e"/><stop offset=".422" stop-color="#33c79d"/><stop offset=".5" stop-color="#1fc0b2"/><stop offset=".556" stop-color="#02bbc3"/><stop offset=".589" stop-color="#04b6ce"/><stop offset=".644" stop-color="#1da9e0"/><stop offset=".778" stop-color="#3777fe"/><stop offset=".833" stop-color="#4660fc"/><stop offset=".922" stop-color="#473fe2"/><stop offset="1" stop-color="#3f28ad"/></linearGradient><linearGradient id="d22" gradientUnits="userSpaceOnUse" x1="494.67" x2="643.07"><stop offset="0" stop-color="#406dfe"/><stop offset=".022" stop-color="#2e87f7"/><stop offset=".067" stop-color="#17aeda"/><stop offset=".078" stop-color="#07b5d0"/><stop offset=".089" stop-color="#01bac4"/><stop offset=".111" stop-color="#23c1af"/><stop offset=".144" stop-color="#37c897"/><stop offset=".178" stop-color="#41ca8c"/><stop offset=".4" stop-color="#3eca8f"/><stop offset=".522" stop-color="#26c2ad"/><stop offset=".6" stop-color="#00b9c6"/><stop offset=".622" stop-color="#06b5cf"/><stop offset=".656" stop-color="#1aacdd"/><stop offset=".756" stop-color="#2e84f9"/><stop offset=".822" stop-color="#4367fd"/><stop offset=".911" stop-color="#4744e8"/><stop offset=".967" stop-color="#4331c8"/><stop offset="1" stop-color="#3f28af"/></linearGradient><linearGradient id="d21" gradientUnits="userSpaceOnUse" x1="495.74" x2="644.14"><stop offset="0" stop-color="#426afe"/><stop offset=".022" stop-color="#2e84f8"/><stop offset=".067" stop-color="#19addc"/><stop offset=".089" stop-color="#00b9c6"/><stop offset=".122" stop-color="#2bc3a8"/><stop offset=".167" stop-color="#3fca8e"/><stop offset=".389" stop-color="#47cb87"/><stop offset=".511" stop-color="#32c69f"/><stop offset=".578" stop-color="#20c0b1"/><stop offset=".622" stop-color="#01bac4"/><stop offset=".644" stop-color="#07b5d0"/><stop offset=".678" stop-color="#1ca9df"/><stop offset=".756" stop-color="#2e87f7"/><stop offset=".8" stop-color="#3b73ff"/><stop offset=".856" stop-color="#475bfa"/><stop offset=".933" stop-color="#463de0"/><stop offset="1" stop-color="#3f29b2"/></linearGradient><linearGradient id="d20" gradientUnits="userSpaceOnUse" x1="496.77" x2="645.17"><stop offset="0" stop-color="#4367fd"/><stop offset=".022" stop-color="#2f82f9"/><stop offset=".067" stop-color="#1aacdd"/><stop offset=".089" stop-color="#00b9c8"/><stop offset=".1" stop-color="#0bbdbd"/><stop offset=".111" stop-color="#1ec0b2"/><stop offset=".133" stop-color="#31c6a0"/><stop offset=".167" stop-color="#3fca8e"/><stop offset=".389" stop-color="#4bcb83"/><stop offset=".522" stop-color="#37c898"/><stop offset=".6" stop-color="#26c2ad"/><stop offset=".644" stop-color="#01bac6"/><stop offset=".656" stop-color="#03b6cc"/><stop offset=".689" stop-color="#1caadf"/><stop offset=".756" stop-color="#2d8af5"/><stop offset=".8" stop-color="#3876fe"/><stop offset=".856" stop-color="#465dfa"/><stop offset=".933" stop-color="#473ee1"/><stop offset="1" stop-color="#402ab4"/></linearGradient><linearGradient id="d19" gradientUnits="userSpaceOnUse" x1="497.89" x2="646.29"><stop offset="0" stop-color="#4464fd"/><stop offset=".022" stop-color="#2f80fa"/><stop offset=".067" stop-color="#1babde"/><stop offset=".089" stop-color="#01b8c9"/><stop offset=".1" stop-color="#09bdbe"/><stop offset=".111" stop-color="#1dc0b3"/><stop offset=".133" stop-color="#31c5a1"/><stop offset=".167" stop-color="#3fca8e"/><stop offset=".367" stop-color="#4ecc81"/><stop offset=".511" stop-color="#41ca8c"/><stop offset=".6" stop-color="#31c6a1"/><stop offset=".633" stop-color="#1cc0b4"/><stop offset=".656" stop-color="#02bbc3"/><stop offset=".667" stop-color="#01b7cb"/><stop offset=".7" stop-color="#1caadf"/><stop offset=".767" stop-color="#2d88f6"/><stop offset=".8" stop-color="#3479fd"/><stop offset=".856" stop-color="#465ffb"/><stop offset=".933" stop-color="#4740e3"/><stop offset="1" stop-color="#402bb7"/></linearGradient><linearGradient id="d18" gradientUnits="userSpaceOnUse" x1="499.15" x2="647.55"><stop offset="0" stop-color="#4562fc"/><stop offset=".022" stop-color="#307efb"/><stop offset=".067" stop-color="#1caadf"/><stop offset=".089" stop-color="#01b8ca"/><stop offset=".1" stop-color="#07bcbf"/><stop offset=".122" stop-color="#29c3aa"/><stop offset=".167" stop-color="#3eca8e"/><stop offset=".344" stop-color="#51cc7f"/><stop offset=".522" stop-color="#47cb87"/><stop offset=".589" stop-color="#3cc991"/><stop offset=".633" stop-color="#28c2ab"/><stop offset=".667" stop-color="#02bac3"/><stop offset=".678" stop-color="#02b7cc"/><stop offset=".7" stop-color="#18aedb"/><stop offset=".767" stop-color="#2d8cf3"/><stop offset=".811" stop-color="#3678fd"/><stop offset=".856" stop-color="#4563fc"/><stop offset=".933" stop-color="#4742e6"/><stop offset="1" stop-color="#412dbb"/></linearGradient><linearGradient id="d17" gradientUnits="userSpaceOnUse" x1="500.5" x2="648.9"><stop offset="0" stop-color="#4660fc"/><stop offset=".011" stop-color="#3f6eff"/><stop offset=".022" stop-color="#317dfc"/><stop offset=".067" stop-color="#1ca9e0"/><stop offset=".089" stop-color="#02b7cb"/><stop offset=".1" stop-color="#06bcc0"/><stop offset=".122" stop-color="#28c2ab"/><stop offset=".167" stop-color="#3eca8f"/><stop offset=".344" stop-color="#53cc7d"/><stop offset=".544" stop-color="#4acb84"/><stop offset=".589" stop-color="#42ca8b"/><stop offset=".644" stop-color="#26c2ad"/><stop offset=".667" stop-color="#08bcbe"/><stop offset=".678" stop-color="#00b9c6"/><stop offset=".689" stop-color="#06b5cf"/><stop offset=".711" stop-color="#1aacdd"/><stop offset=".778" stop-color="#2d8cf3"/><stop offset=".822" stop-color="#3777fe"/><stop offset=".867" stop-color="#4562fc"/><stop offset=".944" stop-color="#4741e4"/><stop offset="1" stop-color="#422ebf"/></linearGradient><linearGradient id="d16" gradientUnits="userSpaceOnUse" x1="501.92" x2="650.32"><stop offset="0" stop-color="#465ffb"/><stop offset=".011" stop-color="#406dfe"/><stop offset=".022" stop-color="#327bfc"/><stop offset=".067" stop-color="#1da8e0"/><stop offset=".078" stop-color="#13b0d7"/><stop offset=".089" stop-color="#02b7cc"/><stop offset=".1" stop-color="#04bcc1"/><stop offset=".122" stop-color="#27c2ac"/><stop offset=".167" stop-color="#3eca8f"/><stop offset=".333" stop-color="#56cc7b"/><stop offset=".556" stop-color="#4ecc81"/><stop offset=".6" stop-color="#42ca8c"/><stop offset=".656" stop-color="#21c1b1"/><stop offset=".678" stop-color="#03bbc2"/><stop offset=".689" stop-color="#01b8ca"/><stop offset=".722" stop-color="#1caadf"/><stop offset=".8" stop-color="#2e86f7"/><stop offset=".833" stop-color="#3777fe"/><stop offset=".878" stop-color="#4561fc"/><stop offset=".956" stop-color="#473fe3"/><stop offset="1" stop-color="#4230c4"/></linearGradient><linearGradient id="d15" gradientUnits="userSpaceOnUse" x1="503.53" x2="651.93"><stop offset="0" stop-color="#4660fc"/><stop offset=".011" stop-color="#3f6eff"/><stop offset=".022" stop-color="#317dfc"/><stop offset=".067" stop-color="#1da9e0"/><stop offset=".089" stop-color="#02b7cc"/><stop offset=".1" stop-color="#04bcc1"/><stop offset=".122" stop-color="#27c2ac"/><stop offset=".167" stop-color="#3eca8f"/><stop offset=".322" stop-color="#58cc79"/><stop offset=".556" stop-color="#53cc7d"/><stop offset=".589" stop-color="#4dcc82"/><stop offset=".656" stop-color="#27c2ac"/><stop offset=".689" stop-color="#01bac5"/><stop offset=".7" stop-color="#03b6cd"/><stop offset=".722" stop-color="#18aedb"/><stop offset=".8" stop-color="#2d8cf3"/><stop offset=".844" stop-color="#3777fe"/><stop offset=".889" stop-color="#4561fc"/><stop offset=".956" stop-color="#4743e8"/><stop offset="1" stop-color="#4332ca"/></linearGradient><linearGradient id="d14" gradientUnits="userSpaceOnUse" x1="505.27" x2="653.67"><stop offset="0" stop-color="#4368fe"/><stop offset=".022" stop-color="#2e83f9"/><stop offset=".067" stop-color="#1babde"/><stop offset=".089" stop-color="#01b8ca"/><stop offset=".1" stop-color="#07bcbf"/><stop offset=".122" stop-color="#28c2ab"/><stop offset=".167" stop-color="#3eca8f"/><stop offset=".311" stop-color="#5bcc77"/><stop offset=".544" stop-color="#5acc78"/><stop offset=".589" stop-color="#54cc7c"/><stop offset=".656" stop-color="#2dc4a6"/><stop offset=".678" stop-color="#17bfb6"/><stop offset=".689" stop-color="#07bcbf"/><stop offset=".7" stop-color="#00b9c7"/><stop offset=".744" stop-color="#1da8e0"/><stop offset=".856" stop-color="#3678fd"/><stop offset=".9" stop-color="#4562fc"/><stop offset=".967" stop-color="#4743e8"/><stop offset="1" stop-color="#4535d2"/></linearGradient><linearGradient id="d13" gradientUnits="userSpaceOnUse" x1="507" x2="655.4"><stop offset="0" stop-color="#3975fe"/><stop offset=".011" stop-color="#2f81fa"/><stop offset=".056" stop-color="#1ea7e1"/><stop offset=".067" stop-color="#16afd9"/><stop offset=".078" stop-color="#07b5d0"/><stop offset=".089" stop-color="#00b9c6"/><stop offset=".122" stop-color="#29c3aa"/><stop offset=".167" stop-color="#3eca8f"/><stop offset=".311" stop-color="#5ecd74"/><stop offset=".578" stop-color="#5fcd73"/><stop offset=".611" stop-color="#4fcc80"/><stop offset=".678" stop-color="#21c1b0"/><stop offset=".7" stop-color="#04bbc1"/><stop offset=".711" stop-color="#00b8c9"/><stop offset=".744" stop-color="#19acdc"/><stop offset=".844" stop-color="#2e84f9"/><stop offset=".9" stop-color="#4369fe"/><stop offset=".967" stop-color="#484aed"/><stop offset="1" stop-color="#463adc"/></linearGradient><linearGradient id="d12" gradientUnits="userSpaceOnUse" x1="508.68" x2="657.08"><stop offset="0" stop-color="#2f82fa"/><stop offset=".056" stop-color="#1aacdc"/><stop offset=".078" stop-color="#02b7cb"/><stop offset=".089" stop-color="#03bbc2"/><stop offset=".111" stop-color="#22c1b0"/><stop offset=".156" stop-color="#39c994"/><stop offset=".289" stop-color="#5dcd75"/><stop offset=".422" stop-color="#66cd6d"/><stop offset=".589" stop-color="#63cd6f"/><stop offset=".633" stop-color="#45cb88"/><stop offset=".689" stop-color="#1ec0b2"/><stop offset=".711" stop-color="#02bbc2"/><stop offset=".722" stop-color="#01b8ca"/><stop offset=".756" stop-color="#19addc"/><stop offset=".856" stop-color="#2e86f8"/><stop offset=".911" stop-color="#416bfe"/><stop offset=".978" stop-color="#484cef"/><stop offset="1" stop-color="#4741e5"/></linearGradient><linearGradient id="d11" gradientUnits="userSpaceOnUse" x1="510.29" x2="658.69"><stop offset="0" stop-color="#2d8cf3"/><stop offset=".056" stop-color="#14b0d8"/><stop offset=".067" stop-color="#07b5d0"/><stop offset=".078" stop-color="#00b9c7"/><stop offset=".089" stop-color="#08bcbe"/><stop offset=".111" stop-color="#24c1ae"/><stop offset=".178" stop-color="#41ca8c"/><stop offset=".311" stop-color="#64cd6f"/><stop offset=".544" stop-color="#6fcd66"/><stop offset=".589" stop-color="#6bcd69"/><stop offset=".633" stop-color="#4ecc82"/><stop offset=".678" stop-color="#2ec5a4"/><stop offset=".7" stop-color="#1cc0b4"/><stop offset=".722" stop-color="#02bbc3"/><stop offset=".733" stop-color="#01b8ca"/><stop offset=".778" stop-color="#1caadf"/><stop offset=".9" stop-color="#3579fd"/><stop offset=".944" stop-color="#4563fc"/><stop offset="1" stop-color="#4849ed"/></linearGradient><linearGradient id="d10" gradientUnits="userSpaceOnUse" x1="511.74" x2="660.14"><stop offset="0" stop-color="#2994ed"/><stop offset=".044" stop-color="#17aeda"/><stop offset=".067" stop-color="#02b7cb"/><stop offset=".078" stop-color="#02bac3"/><stop offset=".111" stop-color="#26c2ad"/><stop offset=".178" stop-color="#41ca8c"/><stop offset=".311" stop-color="#67cd6c"/><stop offset=".511" stop-color="#78cc5f"/><stop offset=".589" stop-color="#75cc61"/><stop offset=".633" stop-color="#57cc7a"/><stop offset=".678" stop-color="#33c79c"/><stop offset=".711" stop-color="#1cc0b4"/><stop offset=".733" stop-color="#03bbc2"/><stop offset=".744" stop-color="#00b8c9"/><stop offset=".789" stop-color="#1aacdd"/><stop offset=".889" stop-color="#2e86f7"/><stop offset=".922" stop-color="#3776fe"/><stop offset=".967" stop-color="#4660fc"/><stop offset="1" stop-color="#4851f3"/></linearGradient><linearGradient id="d9" gradientUnits="userSpaceOnUse" x1="512.98" x2="661.38"><stop offset="0" stop-color="#259be8"/><stop offset=".044" stop-color="#12b1d6"/><stop offset=".067" stop-color="#00b9c8"/><stop offset=".078" stop-color="#05bcc0"/><stop offset=".111" stop-color="#27c2ac"/><stop offset=".189" stop-color="#46cb88"/><stop offset=".322" stop-color="#72cd63"/><stop offset=".511" stop-color="#84cc56"/><stop offset=".589" stop-color="#82cc58"/><stop offset=".633" stop-color="#64cd6f"/><stop offset=".689" stop-color="#34c79b"/><stop offset=".722" stop-color="#1ec0b2"/><stop offset=".744" stop-color="#05bcc0"/><stop offset=".767" stop-color="#02b7cc"/><stop offset=".811" stop-color="#1babde"/><stop offset=".933" stop-color="#337afd"/><stop offset=".978" stop-color="#4564fd"/><stop offset="1" stop-color="#4759f8"/></linearGradient><linearGradient id="d8" gradientUnits="userSpaceOnUse" x1="514.07" x2="662.47"><stop offset="0" stop-color="#23a1e4"/><stop offset=".033" stop-color="#14b0d8"/><stop offset=".056" stop-color="#02b7cb"/><stop offset=".067" stop-color="#01bac4"/><stop offset=".111" stop-color="#29c3aa"/><stop offset=".222" stop-color="#59cc79"/><stop offset=".333" stop-color="#83cc57"/><stop offset=".522" stop-color="#93ca4a"/><stop offset=".589" stop-color="#91ca4c"/><stop offset=".633" stop-color="#74cd62"/><stop offset=".7" stop-color="#36c899"/><stop offset=".733" stop-color="#23c1af"/><stop offset=".767" stop-color="#03bbc2"/><stop offset=".789" stop-color="#03b7cc"/><stop offset=".833" stop-color="#1baade"/><stop offset=".956" stop-color="#3479fd"/><stop offset="1" stop-color="#4562fc"/></linearGradient><linearGradient id="d7" gradientUnits="userSpaceOnUse" x1="515.05" x2="663.45"><stop offset="0" stop-color="#1fa6e2"/><stop offset=".033" stop-color="#0eb2d4"/><stop offset=".056" stop-color="#00b9c7"/><stop offset=".067" stop-color="#04bbc1"/><stop offset=".111" stop-color="#2bc3a8"/><stop offset=".2" stop-color="#53cc7d"/><stop offset=".311" stop-color="#8bcb51"/><stop offset=".389" stop-color="#9bc944"/><stop offset=".578" stop-color="#a3c83e"/><stop offset=".611" stop-color="#96ca48"/><stop offset=".656" stop-color="#6fcd66"/><stop offset=".711" stop-color="#39c995"/><stop offset=".756" stop-color="#20c1b1"/><stop offset=".789" stop-color="#03bbc2"/><stop offset=".811" stop-color="#03b6cd"/><stop offset=".856" stop-color="#1baade"/><stop offset=".978" stop-color="#3578fd"/><stop offset="1" stop-color="#406dfe"/></linearGradient><linearGradient id="d6" gradientUnits="userSpaceOnUse" x1="515.99" x2="664.39"><stop offset="0" stop-color="#1ca9df"/><stop offset=".044" stop-color="#01b8ca"/><stop offset=".056" stop-color="#01bac4"/><stop offset=".1" stop-color="#27c2ac"/><stop offset=".178" stop-color="#4bcb84"/><stop offset=".3" stop-color="#96ca48"/><stop offset=".367" stop-color="#abc739"/><stop offset=".578" stop-color="#b4c534"/><stop offset=".622" stop-color="#a1c840"/><stop offset=".678" stop-color="#6acd6a"/><stop offset=".722" stop-color="#3dca90"/><stop offset=".778" stop-color="#20c1b1"/><stop offset=".811" stop-color="#03bbc2"/><stop offset=".833" stop-color="#03b7cc"/><stop offset=".878" stop-color="#1baade"/><stop offset="1" stop-color="#3678fe"/></linearGradient><linearGradient id="d5" gradientUnits="userSpaceOnUse" x1="516.92" x2="665.32"><stop offset="0" stop-color="#19addc"/><stop offset=".033" stop-color="#03b7cc"/><stop offset=".056" stop-color="#04bcc1"/><stop offset=".1" stop-color="#2ac3a9"/><stop offset=".167" stop-color="#49cb85"/><stop offset=".3" stop-color="#a6c83d"/><stop offset=".367" stop-color="#bcc42f"/><stop offset=".578" stop-color="#c5c22a"/><stop offset=".622" stop-color="#b4c534"/><stop offset=".667" stop-color="#8dcb50"/><stop offset=".733" stop-color="#45cb89"/><stop offset=".8" stop-color="#22c1b0"/><stop offset=".833" stop-color="#04bbc1"/><stop offset=".856" stop-color="#02b7cc"/><stop offset=".9" stop-color="#1babde"/><stop offset="1" stop-color="#2f82f9"/></linearGradient><linearGradient id="d4" gradientUnits="userSpaceOnUse" x1="517.85" x2="666.25"><stop offset="0" stop-color="#15afd9"/><stop offset=".033" stop-color="#00b8c9"/><stop offset=".056" stop-color="#0abdbd"/><stop offset=".089" stop-color="#27c2ac"/><stop offset=".156" stop-color="#47cb87"/><stop offset=".278" stop-color="#a7c73c"/><stop offset=".333" stop-color="#c5c22a"/><stop offset=".411" stop-color="#d1bf27"/><stop offset=".589" stop-color="#d4bf27"/><stop offset=".633" stop-color="#bfc32d"/><stop offset=".678" stop-color="#97ca47"/><stop offset=".756" stop-color="#45cb88"/><stop offset=".833" stop-color="#1bc0b4"/><stop offset=".856" stop-color="#06bcc0"/><stop offset=".878" stop-color="#01b7cb"/><stop offset=".922" stop-color="#1babde"/><stop offset="1" stop-color="#2d8cf3"/></linearGradient><linearGradient id="d3" gradientUnits="userSpaceOnUse" x1="518.76" x2="667.16"><stop offset="0" stop-color="#11b1d6"/><stop offset=".022" stop-color="#02b7cb"/><stop offset=".044" stop-color="#05bcc0"/><stop offset=".089" stop-color="#2ac3a9"/><stop offset=".144" stop-color="#44cb8a"/><stop offset=".222" stop-color="#84cc56"/><stop offset=".289" stop-color="#bdc42e"/><stop offset=".333" stop-color="#d4be27"/><stop offset=".411" stop-color="#e0bc2a"/><stop offset=".589" stop-color="#e4bb2c"/><stop offset=".644" stop-color="#cbc128"/><stop offset=".689" stop-color="#a3c83f"/><stop offset=".767" stop-color="#52cc7e"/><stop offset=".811" stop-color="#35c79a"/><stop offset=".856" stop-color="#1dc0b3"/><stop offset=".889" stop-color="#01bac4"/><stop offset=".911" stop-color="#07b5d0"/><stop offset=".944" stop-color="#1babde"/><stop offset="1" stop-color="#2995ec"/></linearGradient><linearGradient id="d2" gradientUnits="userSpaceOnUse" x1="519.64" x2="668.04"><stop offset="0" stop-color="#0cb3d3"/><stop offset=".022" stop-color="#00b8c8"/><stop offset=".044" stop-color="#0abdbd"/><stop offset=".078" stop-color="#27c2ac"/><stop offset=".133" stop-color="#41ca8c"/><stop offset=".211" stop-color="#84cc56"/><stop offset=".267" stop-color="#b9c430"/><stop offset=".3" stop-color="#d2bf27"/><stop offset=".356" stop-color="#e9bb2f"/><stop offset=".578" stop-color="#f3ba3a"/><stop offset=".633" stop-color="#e3bb2b"/><stop offset=".667" stop-color="#cdc027"/><stop offset=".711" stop-color="#a4c83e"/><stop offset=".789" stop-color="#57cc7a"/><stop offset=".833" stop-color="#36c898"/><stop offset=".878" stop-color="#1fc0b2"/><stop offset=".911" stop-color="#01bac4"/><stop offset=".933" stop-color="#07b5d0"/><stop offset=".967" stop-color="#1caadf"/><stop offset="1" stop-color="#259de7"/></linearGradient><linearGradient id="d1" gradientUnits="userSpaceOnUse" x1="520.49" x2="668.89"><stop offset="0" stop-color="#08b5d0"/><stop offset=".022" stop-color="#01bac6"/><stop offset=".044" stop-color="#0fbeba"/><stop offset=".078" stop-color="#2ac3a9"/><stop offset=".133" stop-color="#45cb88"/><stop offset=".2" stop-color="#82cc58"/><stop offset=".256" stop-color="#bcc42f"/><stop offset=".289" stop-color="#d8be28"/><stop offset=".344" stop-color="#f3ba39"/><stop offset=".478" stop-color="#febd3d"/><stop offset=".611" stop-color="#fbbb3e"/><stop offset=".667" stop-color="#e1bc2a"/><stop offset=".7" stop-color="#c6c22a"/><stop offset=".778" stop-color="#7acc5d"/><stop offset=".844" stop-color="#3eca8f"/><stop offset=".9" stop-color="#20c1b1"/><stop offset=".933" stop-color="#01bac4"/><stop offset=".956" stop-color="#08b4d0"/><stop offset=".989" stop-color="#1ca9df"/><stop offset="1" stop-color="#20a5e3"/></linearGradient><linearGradient id="d0" gradientUnits="userSpaceOnUse" x1="521.29" x2="669.69"><stop offset="0" stop-color="#04b6ce"/><stop offset=".022" stop-color="#02bac3"/><stop offset=".078" stop-color="#2cc4a7"/><stop offset=".122" stop-color="#41ca8c"/><stop offset=".189" stop-color="#7ecc5a"/><stop offset=".244" stop-color="#bcc42f"/><stop offset=".267" stop-color="#d2bf27"/><stop offset=".3" stop-color="#ebba31"/><stop offset=".333" stop-color="#fbbb3e"/><stop offset=".544" stop-color="#fec834"/><stop offset=".622" stop-color="#fec13a"/><stop offset=".656" stop-color="#f7ba3d"/><stop offset=".7" stop-color="#dbbd28"/><stop offset=".733" stop-color="#bfc32d"/><stop offset=".822" stop-color="#69cd6a"/><stop offset=".878" stop-color="#39c895"/><stop offset=".922" stop-color="#20c1b1"/><stop offset=".944" stop-color="#07bcbf"/><stop offset=".956" stop-color="#01bac5"/><stop offset=".967" stop-color="#02b7cc"/><stop offset="1" stop-color="#1aacdd"/></linearGradient></defs><g stroke-width=".6" stroke-linejoin="round"><path fill="url(#d84)" stroke="url(#d84)" d="M419 387.2l6.6-5.6l6.6-4.9l5-3.1l4.9-2.3l5-1.5l8.2-1.8l9.9-1.4l11.5-1.2l6.6 0l6.6 .4l28.1 3.3l24.7 4.4l24.7 5.6l-.9-.4l-26.4-5.7l-28-5l-24.7-2.9l-6.6-.4l-5 .1l-11.5 1.2l-9.9 1.4l-8.3 1.7l-4.9 1.5l-5 2.3l-4.9 3l-6.6 4.8l-6.6 5.5z"/><path fill="url(#d83)" stroke="url(#d83)" d="M420.5 389l6.6-5.8l6.6-5.2l5-3.2l4.9-2.4l5-1.5l8.2-1.8l9.9-1.4l11.5-1.3l6.6-.1l6.6 .5l21.5 2.1l11.5 1.5l21.4 3.8l23.1 5.5l-2.4-1l-24.7-5.4l-28-5.1l-26.4-3.1l-6.6-.4l-5 .1l-11.5 1.2l-9.9 1.4l-8.2 1.7l-5 1.6l-4.9 2.2l-5 3l-6.6 4.9l-6.6 5.4z"/><path fill="url(#d82)" stroke="url(#d82)" d="M421.8 390.7l6.6-6l6.6-5.4l5-3.3l4.9-2.5l5-1.5l8.2-1.8l9.9-1.5l11.5-1.4l6.6-.1l6.6 .4l23.1 2.2l13.2 1.6l19.8 3.5l21.4 5.2l-2-.7l-23.1-5.4l-24.8-4.4l-29.6-3.3l-6.6-.5l-6.6 .1l-11.6 1.2l-9.9 1.4l-8.2 1.8l-5 1.5l-4.9 2.4l-5 3.1l-6.5 5l-6.6 5.7z"/><path fill="url(#d81)" stroke="url(#d81)" d="M423 392.5l6.6-6.3l6.6-5.6l5-3.4l4.9-2.5l5-1.6l8.2-1.8l9.9-1.6l11.5-1.5l6.6-.1l6.6 .3l24.8 2.1l13.1 1.5l19.8 3.5l19.8 5l-1.9-.6l-21.4-5.2l-21.5-3.8l-13.1-1.7l-21.5-2.1l-6.6-.4l-6.6 .1l-11.5 1.3l-9.9 1.5l-8.3 1.8l-4.9 1.5l-4.9 2.4l-5 3.3l-6.6 5.2l-6.6 5.9z"/><path fill="url(#d80)" stroke="url(#d80)" d="M424.1 394.2l6.6-6.5l6.6-5.8l4.9-3.5l5-2.7l4.9-1.5l8.3-1.9l9.9-1.7l11.5-1.5l5-.2l6.6 .2l28 2.2l11.5 1.2l9.9 1.4l9.9 1.9l19.8 4.9l-1.7-.4l-21.5-5.3l-19.8-3.4l-11.5-1.4l-24.7-2.2l-6.6-.4l-6.6 .1l-11.6 1.4l-9.9 1.6l-8.2 1.8l-4.9 1.5l-5 2.5l-4.9 3.4l-6.6 5.4l-6.6 6.2z"/><path fill="url(#d79)" stroke="url(#d79)" d="M425.2 396l6.6-6.8l6.6-6l4.9-3.7l5-2.7l4.9-1.5l8.3-1.9l21.4-3.5l5-.2l6.5 .2l29.7 2.1l11.6 1.1l18.1 3l19.8 4.9l-1.7-.4l-19.8-5l-9.9-1.9l-9.9-1.5l-13.2-1.4l-26.4-2.2l-6.6-.2l-4.9 .2l-11.6 1.4l-9.9 1.7l-8.2 1.8l-5 1.6l-4.9 2.6l-5 3.4l-6.5 5.7l-6.6 6.4z"/><path fill="url(#d78)" stroke="url(#d78)" d="M426.2 397.7l8.3-8.6l4.9-4.6l5-3.8l4.9-2.8l3.3-1.1l9.9-2.4l21.4-3.6l5-.3l6.6 .2l29.7 1.8l11.5 1l18.1 2.9l19.8 4.8l-1.6-.3l-19.8-5l-18.2-3l-11.5-1.3l-29.7-2.2l-6.6-.2l-4.9 .2l-21.5 3.3l-8.2 1.9l-4.9 1.6l-5 2.7l-4.9 3.6l-6.6 5.8l-6.6 6.7z"/><path fill="url(#d77)" stroke="url(#d77)" d="M427.2 399.4l8.2-8.9l5-4.8l4.9-3.9l4.9-2.9l3.3-1.1l9.9-2.4l21.5-3.8l4.9-.3l6.6 .1l31.3 1.7l11.6 1l8.2 1.1l9.9 1.8l18.2 4.4l-1.5-.3l-19.8-4.9l-18.2-2.9l-11.5-1.1l-29.7-2l-6.6-.1l-4.9 .2l-21.5 3.5l-8.2 1.9l-4.9 1.6l-5 2.8l-4.9 3.7l-6.6 6.1l-6.6 6.9z"/><path fill="url(#d76)" stroke="url(#d76)" d="M428 401.1l8.2-9.3l5-4.9l4.9-4.1l5-2.9l3.3-1.2l9.9-2.4l21.4-4l4.9-.4l6.6 .1l31.4 1.6l11.5 .9l8.3 1l9.9 1.7l18.1 4.3l-1.3-.2l-9.9-2.6l-9.9-2.2l-9.9-1.7l-8.3-1.1l-9.9-.8l-31.3-1.9l-6.6-.1l-4.9 .3l-21.5 3.6l-9.9 2.4l-3.2 1.2l-5 2.8l-4.9 3.9l-5 4.6l-8.2 8.8z"/><path fill="url(#d75)" stroke="url(#d75)" d="M428.8 402.9l8.2-9.6l5-5.2l4.9-4.2l5-3l3.3-1.2l9.8-2.5l21.5-4.3l9.9-.4l33 1.5l11.5 .8l18.1 2.6l18.2 4.1l-1.3 0l-18.1-4.4l-9.9-1.8l-8.2-1l-11.6-1l-31.3-1.7l-6.6-.1l-5 .4l-21.4 3.8l-9.9 2.5l-3.3 1.2l-4.9 2.8l-5 4l-4.9 4.8l-8.3 9.1z"/><path fill="url(#d74)" stroke="url(#d74)" d="M429.4 404.5l11.6-13.6l4.9-4.7l5-3.6l3.3-1.5l8.2-2.3l13.2-3l11.6-2.3l9.8-.4l14.9 .8l19.8 .5l9.9 .7l18.1 2.4l18.1 3.9l-1 .1l-18.2-4.2l-9.9-1.7l-8.2-1l-11.6-.8l-31.3-1.5l-6.6-.1l-4.9 .4l-21.5 4.1l-9.9 2.5l-3.3 1.2l-4.9 2.9l-4.9 4.2l-5 5l-8.2 9.4z"/><path fill="url(#d73)" stroke="url(#d73)" d="M430.1 406.3l8.3-10.4l4.9-5.5l5-4.5l3.3-2.3l3.2-1.6l6.6-1.9l26.4-6l5-.5l4.9-.1l44.5 1.9l18.2 2.2l18.1 3.6l-1.1 .3l-18.1-4.1l-18.1-2.5l-9.9-.7l-34.7-1.5l-9.9 .5l-21.4 4.3l-9.9 2.5l-3.3 1.2l-4.9 3.1l-5 4.3l-4.9 5.2l-8.3 9.7z"/><path fill="url(#d72)" stroke="url(#d72)" d="M430.7 407.9l8.3-10.6l4.9-5.7l5-4.7l3.3-2.4l4.9-2.1l31.3-7.8l5-.5l4.9-.1l14.9 .8l18.1 .3l11.6 .6l18.1 2l18.1 3.3l-1 .3l-18.1-3.7l-18.1-2.4l-44.6-1.9l-4.9 0l-4.9 .5l-24.8 5.4l-8.2 2.3l-3.3 1.6l-5 3.6l-4.9 4.8l-11.6 13.8z"/><path fill="url(#d71)" stroke="url(#d71)" d="M431.4 409.5l8.2-10.9l4.9-5.8l5-4.8l3.3-2.5l4.9-2.2l31.4-8.2l4.9-.6l5-.1l14.8 .8l18.1 .3l11.6 .5l18.1 1.8l18.2 3l-1 .4l-18.2-3.5l-18.1-2.2l-44.5-1.8l-5 .1l-4.9 .5l-28.1 6.6l-4.9 1.4l-3.3 1.7l-3.3 2.3l-4.9 4.6l-5 5.6l-8.2 10.4z"/><path fill="url(#d70)" stroke="url(#d70)" d="M432 411.1l8.2-11.1l5-6l4.9-5l3.3-2.5l5-2.2l31.3-8.6l4.9-.7l5-.1l14.8 .8l28.1 .5l18.1 1.5l19.8 2.8l-1 .4l-18.2-3.1l-18.1-2l-11.5-.5l-18.2-.3l-14.8-.8l-5 0l-4.9 .6l-31.3 7.9l-5 2.2l-3.3 2.4l-4.9 4.8l-5 5.7l-8.2 10.7z"/><path fill="url(#d69)" stroke="url(#d69)" d="M432.6 412.7l8.2-11.4l5-6.1l4.9-5l3.3-2.6l5-2.3l31.3-9.1l5-.6l4.9-.2l14.8 .7l28.1 .4l18.1 1.3l19.8 2.4l-1 .5l-18.1-2.9l-18.2-1.7l-11.5-.5l-18.1-.2l-14.9-.8l-4.9 .1l-5 .6l-31.3 8.4l-5 2.2l-3.3 2.5l-4.9 4.8l-4.9 5.9l-8.3 11.1z"/><path fill="url(#d68)" stroke="url(#d68)" d="M433.2 414.3l8.3-11.6l4.9-6.2l5-5.2l3.3-2.6l4.9-2.5l18.1-5.6l13.2-3.8l5-.7l4.9-.1l14.9 .6l28 .2l18.1 1.1l19.8 2l-1 .5l-19.8-2.7l-18.1-1.4l-28-.4l-14.9-.8l-4.9 .1l-5 .7l-31.3 8.8l-4.9 2.3l-3.3 2.5l-5 5l-4.9 6l-8.3 11.3z"/><path fill="url(#d67)" stroke="url(#d67)" d="M433.9 415.9l8.2-11.8l5-6.3l4.9-5.2l3.3-2.7l3.3-1.9l5-1.8l13.2-4.4l13.2-3.9l4.9-.9l5-.4l16.4 .5l24.8 0l19.8 .8l21.4 1.8l-1.1 .4l-19.8-2.3l-18.1-1.2l-28-.3l-14.9-.7l-4.9 .2l-5 .6l-31.3 9.2l-4.9 2.4l-3.3 2.6l-5 5.1l-4.9 6.1l-8.3 11.5z"/><path fill="url(#d66)" stroke="url(#d66)" d="M434.6 417.4l11.5-16.2l5-5.7l4.9-4.4l3.3-2l8.2-3.2l11.6-3.9l11.5-3.4l5-.9l4.9-.4l16.5 .3l23.1-.1l21.4 .5l21.5 1.4l-1.1 .4l-21.4-2l-19.8-.9l-24.8-.1l-16.5-.6l-4.9 .4l-4.9 .9l-29.7 9.2l-5 2.5l-3.3 2.6l-4.9 5.2l-5 6.3l-8.2 11.6z"/><path fill="url(#d65)" stroke="url(#d65)" d="M435.3 418.8l11.5-16.3l5-5.8l4.9-4.4l3.3-2.1l9.9-3.9l11.6-4l9.9-2.9l4.9-.9l5-.4l16.4 .1l21.5-.3l21.4 .3l23.1 1l-1.2 .4l-21.4-1.6l-19.8-.8l-24.7 .1l-16.5-.4l-5 .3l-4.9 1l-11.5 3.4l-13.2 4.3l-6.6 2.4l-3.3 2l-3.3 2.7l-5 5.3l-4.9 6.3l-8.3 11.8z"/><path fill="url(#d64)" stroke="url(#d64)" d="M436.1 420.3l11.5-16.4l5-5.8l4.9-4.6l3.3-2.1l8.2-3.4l11.6-4.2l9.9-3.1l6.6-1.4l8.2-.5l13.2 .1l33-.6l33 .8l-1.3 .2l-21.4-1.2l-21.4-.5l-23.1 .3l-16.5-.3l-5 .4l-4.9 .9l-11.6 3.4l-11.5 4l-8.2 3.2l-3.3 2l-5 4.4l-4.9 5.8l-11.6 16.2z"/><path fill="url(#d63)" stroke="url(#d63)" d="M436.8 421.8l11.6-16.6l4.9-5.9l5-4.5l3.3-2.2l9.9-4.2l9.9-3.6l9.9-3.1l6.6-1.5l8.2-.6l46.2-.9l32.9 .3l-1.2 .2l-33-1.1l-32.9 .4l-13.2-.2l-8.3 .5l-6.6 1.4l-9.9 3l-11.5 4.2l-8.3 3.3l-3.3 2.1l-4.9 4.5l-5 5.8l-11.5 16.3z"/><path fill="url(#d62)" stroke="url(#d62)" d="M437.6 423.2l11.6-16.7l4.9-5.9l5-4.7l3.3-2.2l8.2-3.6l9.9-3.8l9.9-3.2l8.2-2l8.3-.7l46.1-1.4l33 0l-1.2 0l-33-.5l-33 .6l-13.2 0l-8.2 .6l-6.6 1.4l-9.9 3.1l-11.5 4.2l-8.3 3.5l-3.3 2.1l-4.9 4.6l-5 5.8l-11.5 16.5z"/><path fill="url(#d61)" stroke="url(#d61)" d="M438.4 424.7l11.5-16.9l5-6l4.9-4.7l3.3-2.2l8.3-3.7l9.9-3.9l8.2-2.8l8.3-2.2l8.2-.9l46.2-1.9l34.6-.5l-1.2 0l-33-.2l-47.8 1.2l-8.3 .9l-6.6 1.6l-9.9 3.2l-9.9 3.8l-8.2 3.6l-3.3 2.1l-5 4.6l-4.9 5.9l-11.5 16.6z"/><path fill="url(#d60)" stroke="url(#d60)" d="M439.2 426.2l11.5-17.1l5-6.1l4.9-4.7l3.3-2.3l6.6-3.1l9.9-4l8.2-2.9l9.9-2.7l8.3-1l46.2-2.4l34.6-.8l-1.3-.1l-32.9 .2l-46.2 1.6l-8.3 .7l-8.2 1.9l-9.9 3.3l-9.9 3.9l-8.2 3.6l-3.3 2.2l-5 4.7l-4.9 5.9l-11.6 16.8z"/><path fill="url(#d59)" stroke="url(#d59)" d="M440 427.5l11.5-17.2l4.9-6.1l5-4.8l3.3-2.3l6.6-3.1l9.9-4.1l8.2-2.9l9.9-2.7l9.9-1.3l37.9-2.3l41.3-1.5l-1.3-.1l-34.6 .6l-46.2 2l-8.2 1l-8.3 2.2l-8.2 2.8l-9.9 3.9l-8.3 3.7l-3.3 2.3l-4.9 4.7l-4.9 6l-11.6 17z"/><path fill="url(#d58)" stroke="url(#d58)" d="M440.8 428.9l11.5-17.3l5-6.1l4.9-4.9l3.3-2.3l5-2.4l9.9-4.3l8.2-3l9.9-2.9l9.9-1.6l33-2.5l47.8-2.4l-1.3-.1l-38 1.1l-42.8 2.4l-8.3 1l-9.9 2.8l-8.2 2.9l-9.9 4l-6.6 3.1l-3.3 2.3l-5 4.7l-4.9 6.1l-11.5 17.2z"/><path fill="url(#d57)" stroke="url(#d57)" d="M441.7 430.2l11.5-17.3l5-6.2l4.9-4.8l3.3-2.3l6.6-3.2l8.2-3.6l8.3-3.1l9.9-2.9l11.5-1.9l28-2.4l51.2-3.2l-1.4-.1l-42.9 1.8l-36.3 2.4l-9.9 1.2l-9.9 2.8l-8.2 2.9l-9.9 4.1l-6.6 3.1l-3.3 2.3l-5 4.9l-4.9 6.1l-11.5 17.3z"/><path fill="url(#d56)" stroke="url(#d56)" d="M442.6 431.3l11.6-17.1l4.9-6.1l5-4.8l3.3-2.3l6.6-3.3l8.2-3.6l8.3-3.1l9.9-3l11.5-1.9l24.7-2.5l54.4-4.1l-1.5-.3l-47.8 2.7l-31.4 2.4l-6.6 .8l-4.9 .9l-9.9 3l-8.3 3l-9.8 4.3l-5 2.4l-3.3 2.3l-4.9 4.9l-5 6.1l-11.5 17.3z"/><path fill="url(#d55)" stroke="url(#d55)" d="M443.7 432.3l11.6-16.8l4.9-5.9l5-4.8l3.3-2.3l6.6-3.3l8.2-3.7l8.3-3.2l11.5-3.3l11.5-1.9l21.5-2.4l56-5l-1.7-.3l-52.8 3.5l-26.3 2.4l-11.6 1.9l-9.9 2.9l-8.2 3.1l-8.3 3.6l-6.6 3.2l-3.3 2.4l-4.9 4.8l-5 6.1l-11.5 17.3z"/><path fill="url(#d54)" stroke="url(#d54)" d="M445 432.9l11.5-16l5-5.8l4.9-4.6l3.3-2.3l6.6-3.3l8.3-3.8l8.2-3.2l11.5-3.4l11.6-2.1l19.8-2.5l23.1-2.1l34.6-3.8l-2-.5l-54.4 4.4l-24.8 2.6l-11.5 1.9l-9.9 3l-8.2 3.2l-8.3 3.6l-6.6 3.3l-3.3 2.3l-4.9 4.8l-5 6l-11.5 17z"/><path fill="url(#d53)" stroke="url(#d53)" d="M446.3 433.3l11.6-15.1l4.9-5.4l5-4.5l3.3-2.3l8.2-4.2l8.2-3.7l6.6-2.6l11.6-3.4l14.8-2.7l16.5-2.3l23.1-2.3l34.6-4.2l-2.1-.8l-56.1 5.2l-21.4 2.6l-11.6 1.9l-11.5 3.4l-8.3 3.2l-8.2 3.7l-6.6 3.3l-3.3 2.3l-4.9 4.7l-5 5.9l-11.5 16.5z"/><path fill="url(#d52)" stroke="url(#d52)" d="M447.7 433.7l11.6-14.2l4.9-5.1l5-4.2l3.3-2.3l9.9-5l8.2-3.8l6.6-2.5l6.6-2.1l6.6-1.5l23.1-4l62.6-7.5l-2.2-1.3l-34.6 3.9l-23.1 2.2l-18.2 2.5l-13.2 2.3l-11.5 3.4l-8.2 3.3l-8.3 3.7l-6.6 3.4l-3.3 2.3l-4.9 4.6l-5 5.6l-11.5 15.7z"/><path fill="url(#d51)" stroke="url(#d51)" d="M449.2 433.9l11.6-13l4.9-4.7l5-4.1l4.9-3.1l9.9-5l8.2-3.8l6.6-2.4l13.2-3.5l23.1-4.1l61-7.4l-2.4-1.9l-34.6 4.3l-28 3l-23.1 3.7l-6.6 1.6l-6.6 2l-6.6 2.5l-8.2 3.7l-9.9 5l-3.3 2.3l-5 4.4l-4.9 5.3l-11.6 14.8z"/><path fill="url(#d50)" stroke="url(#d50)" d="M450.8 434.1l11.5-11.8l5-4.4l4.9-3.8l5-3l11.5-6l6.6-3l6.6-2.5l6.6-2l8.2-1.9l24.8-4.6l31.3-3.8l26.4-2.7l-2.5-2.6l-61 7.3l-23.1 4l-8.2 1.9l-6.6 2.1l-6.6 2.5l-8.3 3.8l-9.9 5.1l-3.3 2.2l-4.9 4.2l-5 5l-11.5 13.7z"/><path fill="url(#d49)" stroke="url(#d49)" d="M452.5 434.2l13.2-11.9l9.9-7.1l16.5-8.8l6.6-2.9l6.6-2.5l16.4-4.1l24.8-4.7l28-3.5l26.4-2l-2.7-3.3l-59.4 7l-23.1 4.1l-8.2 2l-6.6 1.9l-6.6 2.5l-8.3 3.7l-9.9 5.1l-4.9 3.1l-5 4l-4.9 4.6l-11.5 12.6z"/><path fill="url(#d48)" stroke="url(#d48)" d="M454.4 434.2l13.1-10.3l9.9-6.5l18.2-9.5l6.6-2.9l6.6-2.3l21.4-5.2l13.2-2.6l9.9-1.6l24.7-3l11.6-.7l13.2-.5l-3-3.8l-26.4 2.4l-29.7 3.7l-24.7 4.6l-14.9 3.7l-6.6 2.4l-6.6 3l-16.4 8.7l-5 3.5l-4.9 4l-13.2 12.8z"/><path fill="url(#d47)" stroke="url(#d47)" d="M456.4 434.4l13.2-8.8l9.9-5.9l19.7-10.1l6.6-2.8l5-1.7l13.2-3.4l16.5-3.8l16.5-2.9l14.8-1.8l9.9-.9l11.5-.5l11.6 0l-3.3-4.2l-24.7 1.6l-28 3.4l-26.4 5l-16.5 4.2l-11.5 4.6l-18.2 9.6l-9.9 6.9l-13.2 11.3z"/><path fill="url(#d46)" stroke="url(#d46)" d="M458.4 434.8l18.1-10.4l21.5-10.8l9.9-4.4l8.2-2.6l28-6.9l16.5-2.8l13.2-1.5l9.9-.7l11.6-.3l11.5 .3l-3.2-4.5l-23.1 .8l-24.8 2.8l-9.8 1.6l-11.6 2.3l-13.2 2.9l-11.5 3l-5 1.7l-6.6 2.8l-19.8 10.3l-9.8 6.2l-13.2 9.7z"/><path fill="url(#d45)" stroke="url(#d45)" d="M460.2 435.3l18.1-9.3l28-13.3l8.3-3l16.5-4.4l21.4-5l21.4-2.8l8.3-.6l8.2-.2l18.2 .9l-2.9-4.4l-11.5-.2l-11.5 .4l-9.9 .8l-13.2 1.6l-16.5 2.8l-29.7 7.2l-4.9 1.5l-6.6 2.7l-19.8 9.9l-11.6 6.4l-13.2 8.3z"/><path fill="url(#d44)" stroke="url(#d44)" d="M461.8 435.7l42.9-19.6l6.6-2.7l11.5-3.5l24.8-6.3l13.1-2.5l19.8-2l13.2-.1l16.5 1.3l-2.6-4.4l-11.6-.4l-9.9 0l-9.9 .6l-11.5 1.2l-9.9 1.4l-8.2 1.5l-24.8 6l-9.9 2.8l-9.9 3.9l-24.7 12.2l-18.1 9.9z"/><path fill="url(#d43)" stroke="url(#d43)" d="M463.6 436.2l26.4-10.6l16.5-7.3l8.2-3.3l14.9-4.2l21.4-5.4l14.9-2.5l18.1-1.8l13.2 .3l14.8 1.7l-2.9-4.6l-16.5-1l-14.8 .4l-21.4 2.5l-8.3 1.5l-9.9 2.4l-21.4 5.6l-8.3 2.8l-29.6 13.8l-18.2 8.9z"/><path fill="url(#d42)" stroke="url(#d42)" d="M465.6 436.7l26.4-9.1l19.8-8.3l6.6-2.3l16.5-4.5l19.8-4.9l14.8-2.5l16.5-1.6l6.6 .1l6.6 .4l14.8 2.1l-3.2-4.8l-16.5-1.5l-13.2 0l-19.8 2l-13.1 2.5l-24.8 6.3l-11.5 3.5l-49.5 21.8z"/><path fill="url(#d41)" stroke="url(#d41)" d="M467.6 437.3l28-8.2l19.8-7.7l6.6-2.2l28.1-7.5l9.9-2.3l14.8-2.1l8.2-.9l6.6-.2l11.6 .5l14.8 2.1l-3.1-4.4l-14.9-1.9l-13.2-.4l-16.5 1.6l-14.8 2.4l-21.4 5.3l-16.5 4.6l-6.6 2.6l-18.2 7.8l-26.3 10z"/><path fill="url(#d40)" stroke="url(#d40)" d="M469.5 438l13.2-3.1l13.2-3.5l28-9.5l29.7-8.5l8.2-1.8l13.2-1.6l16.5-1.1l13.2 .7l13.2 1.8l-3-4.1l-14.8-2.2l-11.6-.5l-6.6 .3l-8.2 .9l-16.5 2.5l-18.2 4.5l-19.7 5.3l-6.6 2.4l-18.2 7.4l-28 9.1z"/><path fill="url(#d39)" stroke="url(#d39)" d="M471.7 438.8l13.2-2.4l9.9-2.3l59.3-17.6l9.9-2.2l11.6-1.3l18.1-.9l13.2 .6l13.2 1.6l-3.6-4.7l-14.8-2.1l-11.5-.6l-14.9 1.1l-14.8 2l-8.3 1.9l-29.6 8l-26.4 9.7l-28.1 7.9z"/><path fill="url(#d38)" stroke="url(#d38)" d="M474.4 440.2l49.5-11.7l36.3-9.5l8.2-1.6l13.2-1.5l14.9-.9l13.2 .4l13.1 1.4l-4.3-4.6l-13.2-1.7l-13.2-.7l-18.2 1.1l-11.5 1.4l-8.2 1.8l-29.7 8.6l-28.1 9.3l-13.2 3.4l-13.1 2.8z"/><path fill="url(#d37)" stroke="url(#d37)" d="M477.1 441.9l13.2-4.5l16.5-4.7l24.8-4.2l28-6l18.1-3.3l13.2-1.8l9.9-.6l11.6 .4l13.1 1.3l-4.3-3l-13.2-1.5l-13.1-.5l-18.2 .9l-11.5 1.2l-8.3 1.8l-29.7 8.7l-29.6 8l-9.9 2.4l-14.9 2.8z"/><path fill="url(#d36)" stroke="url(#d36)" d="M479.4 443.8l8.3-4.3l8.2-3.5l8.3-2.8l6.6-1.5l23-2.1l36.3-7.1l13.2-2.2l9.9-1.2l8.2-.6l8.3 0l8.2 .4l9.9 1l-3.6-2.2l-13.2-1.4l-13.2-.3l-11.5 .8l-14.9 1.9l-9.9 1.8l-31.3 7.4l-24.7 5.1l-29.7 8z"/><path fill="url(#d35)" stroke="url(#d35)" d="M481 445.1l8.2-5.5l6.6-3.6l8.3-3.4l6.6-1.7l4.9-.4l13.2 .4l6.6-.5l34.6-7l13.2-2l13.2-1.5l14.8-.4l18.2 1.3l-2.5-1.5l-13.2-1.3l-11.5-.2l-9.9 .6l-11.6 1.6l-19.8 3.5l-28 5.6l-18.1 2.1l-6.6 1.1l-6.6 1.8l-8.3 2.7l-8.2 3.2l-6.6 3z"/><path fill="url(#d34)" stroke="url(#d34)" d="M482.2 446.2l8.2-6.7l6.6-4.3l6.6-3.2l6.6-2.1l6.6-.4l13.2 1.4l6.6-.2l34.6-7l13.2-1.8l13.2-1.2l14.8-.3l18.2 1.1l-1.9-1.1l-9.9-.9l-8.3-.5l-8.2 .1l-8.3 .5l-11.5 1.4l-13.2 2.2l-34.6 6.9l-6.6 .5l-13.2 .3l-5 .6l-6.6 1.7l-8.2 3.1l-6.6 3.3l-8.2 4.9z"/><path fill="url(#d33)" stroke="url(#d33)" d="M483.3 447.2l8.2-7.8l6.6-5l6.6-3.7l3.3-1.2l3.3-.9l3.3-.3l3.3 .1l13.2 2l4.9 .2l8.3-1.2l24.7-5l18.1-2.2l11.6-.9l9.9-.3l11.5 .3l11.6 .8l-1.8-1l-18.1-1.2l-14.9 .4l-13.2 1.3l-13.1 2l-34.7 7l-6.6 .3l-13.2-.8l-6.6 .6l-6.6 2l-6.5 3l-6.6 3.8l-8.3 6.1z"/><path fill="url(#d32)" stroke="url(#d32)" d="M484.3 448.1l8.2-8.7l6.6-5.6l6.6-4l3.3-1.4l3.3-.8l3.3-.3l3.3 .1l13.2 2l5 .3l8.2-.9l24.7-4.3l19.8-2.1l11.6-.7l9.9-.1l9.8 .3l11.6 .7l-1.7-.9l-11.5-.8l-9.9-.3l-9.9 .3l-11.5 .9l-19.8 2.5l-24.8 5.2l-8.2 1.3l-4.9-.1l-13.2-1.6l-6.6 .3l-6.6 2l-6.6 3.4l-6.6 4.6l-8.3 7.2z"/><path fill="url(#d31)" stroke="url(#d31)" d="M485.2 448.9l8.3-9.4l6.6-6l6.6-4.3l3.3-1.4l3.3-.9l6.5-.3l14.9 1.9l4.9 .1l8.3-.8l23.1-3.2l24.7-2.2l18.1-.3l19.8 1l-1.5-.8l-11.5-.7l-9.9-.3l-9.9 .2l-11.5 .7l-19.8 2.3l-24.8 4.7l-8.2 1.1l-5-.3l-13.1-2.1l-3.3-.1l-3.3 .3l-3.3 .8l-3.3 1.4l-6.6 3.8l-6.6 5.2l-8.3 8.3z"/><path fill="url(#d30)" stroke="url(#d30)" d="M486.2 449.7l8.2-9.8l6.6-6.4l3.3-2.6l3.3-2l3.3-1.5l3.3-.9l3.3-.4l4.9-.1l13.2 1.3l6.6 0l42.9-3.9l16.5-1l16.5 .1l16.5 1.1l-1.5-.8l-11.6-.7l-9.9-.3l-9.9 .1l-9.9 .5l-21.4 2.2l-23.1 3.7l-8.2 1l-6.6-.3l-13.2-2l-3.3-.1l-3.3 .4l-3.3 .8l-3.3 1.4l-6.6 4.1l-6.6 5.8l-8.2 9z"/><path fill="url(#d29)" stroke="url(#d29)" d="M487.2 450.6l8.2-10.2l5-5.2l3.3-2.9l3.3-2.4l3.3-1.9l3.3-1.1l3.3-.7l6.6-.6l19.8 .5l49.4-3.1l9.9-.4l16.5 .3l16.5 1.2l-1.7-.8l-19.8-1.1l-18.1 .3l-21.4 1.8l-26.4 3.2l-8.3 .7l-4.9-.1l-14.8-1.8l-6.6 .5l-3.3 .8l-3.3 1.4l-3.3 2l-3.3 2.5l-6.6 6.1l-8.3 9.6z"/><path fill="url(#d28)" stroke="url(#d28)" d="M488.3 451.5l8.3-10.4l4.9-5.4l3.3-3.1l3.3-2.5l3.3-1.9l3.3-1.2l3.3-.7l9.9-1l13.2-.2l57.7-2.3l18.1 .3l19.8 1.6l-1.8-.9l-16.5-1.1l-16.5-.2l-13.2 .7l-46.1 3.7l-6.6-.1l-13.2-.9l-5 .1l-3.3 .5l-3.3 .9l-3.3 1.4l-3.3 2.1l-3.3 2.6l-6.5 6.5l-8.3 10z"/><path fill="url(#d27)" stroke="url(#d27)" d="M489.5 452.5l9.9-12.7l6.6-6.7l3.3-2.6l3.3-2l3.3-1.2l4.9-1.1l9.9-1.3l21.5-1.4l37.9-.8l23.1 .5l24.7 2.1l-1.9-.9l-18.1-1.4l-16.5-.3l-59.4 3l-16.5-.2l-8.2 .7l-3.3 .7l-3.3 1.2l-3.3 1.8l-3.3 2.5l-3.3 3l-4.9 5.2l-8.3 10.4z"/><path fill="url(#d26)" stroke="url(#d26)" d="M490.7 453.5l9.9-13l4.9-5.5l3.3-3l3.3-2.3l3.3-1.7l8.2-2l9.9-1.5l18.2-1.8l11.5-.6l14.9-.2l13.1 .2l18.2 1l29.7 2.7l-1.9-.9l-19.7-1.6l-19.8-.5l-46.2 1.3l-23.1 1.1l-8.2 .9l-5 1l-3.3 1.2l-3.3 2l-3.3 2.5l-6.6 6.7l-9.9 12.5z"/><path fill="url(#d25)" stroke="url(#d25)" d="M491.8 454.6l6.6-9.2l4.9-6.2l5-5.2l3.3-2.8l4.9-2.8l13.2-3.2l18.2-2.9l6.6-.8l9.9-.5l13.1-.2l14.9 .8l47.8 4.6l-1.8-.7l-14.9-1.5l-13.2-.9l-14.8-.5l-14.8-.1l-29.7 .7l-19.8 1.6l-9.9 1.4l-4.9 1.2l-3.3 1.2l-3.3 2l-3.3 2.6l-6.6 6.9l-9.9 12.8z"/><path fill="url(#d24)" stroke="url(#d24)" d="M493 455.6l8.2-11.4l5-6.1l4.9-5l3.3-2.5l3.3-1.7l5-1.5l26.4-5.9l6.5-1l6.6-.5l19.8-.2l59.4 6.9l-1.9-.8l-29.7-2.8l-19.8-1.3l-11.5-.3l-14.9 .2l-11.5 .6l-16.5 1.9l-9.9 1.6l-9.9 2.3l-3.3 1.7l-3.3 2.4l-3.3 3l-4.9 5.5l-9.9 13.2z"/><path fill="url(#d23)" stroke="url(#d23)" d="M494.1 456.7l8.3-11.7l4.9-6.2l5-5.1l3.3-2.5l1.6-1l3.3-1.4l31.3-8.2l6.6-1l6.6-.6l18.2-.2l6.6 .8l18.1 3.2l34.6 4.3l-1.8-.7l-49.5-5.2l-11.5-.8l-13.2 0l-9.9 .5l-6.6 .8l-14.8 2.6l-16.5 3.7l-3.3 1.3l-3.3 2.1l-3.3 2.8l-5 5.3l-4.9 6.3l-6.6 9.2z"/><path fill="url(#d22)" stroke="url(#d22)" d="M495.2 457.6l8.3-11.7l4.9-6.3l5-5.2l3.3-2.6l1.6-1.1l3.3-1.3l19.8-5.9l13.2-3.5l6.6-1.1l6.6-.7l11.5-.5l5 .1l6.6 1l18.1 4.1l18.1 2.6l16.5 1.9l-1.7-.5l-34.6-4.1l-18.2-2.7l-6.6-.7l-18.1 .1l-6.6 .5l-6.6 .9l-16.5 3.8l-14.8 3.8l-3.3 1.3l-1.7 1l-3.3 2.5l-4.9 5.1l-5 6.1l-8.2 11.6z"/><path fill="url(#d21)" stroke="url(#d21)" d="M496.3 458.5l8.2-11.8l4.9-6.4l5-5.3l4.9-3.7l3.3-1.4l13.2-4.2l21.5-6l6.6-1.2l8.2-1.1l9.9-.8l3.3 .1l6.6 1.2l13.2 3.9l4.9 1.1l18.2 2.9l16.5 1.9l-1.7-.5l-34.6-4.4l-18.2-3.5l-6.6-.9l-4.9-.2l-11.6 .4l-6.5 .6l-6.6 .9l-13.2 3.4l-19.8 5.6l-3.3 1.3l-1.7 1l-3.3 2.6l-4.9 5.2l-5 6.2l-8.2 11.7z"/><path fill="url(#d20)" stroke="url(#d20)" d="M497.3 459.4l8.2-12l5-6.4l4.9-5.4l5-3.8l3.3-1.4l16.5-5.4l13.2-3.8l8.2-2.1l18.1-3.1l3.3-.3l3.3 0l6.6 1.3l13.2 4.6l5 1.3l18.1 3.1l16.5 2l-1.7-.4l-16.5-2l-18.1-2.7l-18.1-4.5l-6.6-1.1l-5 0l-9.9 .6l-13.2 1.8l-13.2 3.4l-21.4 6.5l-4.9 2.4l-3.3 2.7l-5 5.2l-4.9 6.3l-8.3 11.8z"/><path fill="url(#d19)" stroke="url(#d19)" d="M498.5 460.3l8.2-12.1l5-6.5l4.9-5.4l5-3.8l6.6-2.7l16.4-5.4l13.2-3.7l13.2-3.2l13.2-2.5l5 .1l4.9 1.2l13.2 5.1l5 1.5l18.1 3.3l16.5 2.2l-1.9-.6l-16.5-2l-18.2-2.9l-4.9-1.2l-13.2-4.1l-6.6-1.2l-3.3-.1l-8.2 .8l-14.9 2.3l-6.6 1.6l-14.8 4.3l-14.8 4.7l-3.3 1.5l-5 3.7l-4.9 5.3l-5 6.4l-8.2 11.9z"/><path fill="url(#d18)" stroke="url(#d18)" d="M499.8 461.3l8.3-12.2l4.9-6.6l5-5.4l4.9-4l3.3-1.5l5-1.8l18.1-5.9l16.5-4.5l16.5-3.9l4.9-.8l5 .5l4.9 1.5l11.6 4.7l4.9 1.4l18.1 3.5l16.5 2.4l-2.1-.6l-16.5-2l-18.2-3.2l-4.9-1.4l-13.2-4.8l-4.9-1.1l-3.3-.3l-3.3 .3l-16.5 2.9l-9.9 2.3l-13.2 3.8l-18.1 5.9l-3.3 1.5l-5 3.9l-4.9 5.3l-5 6.5l-8.2 12z"/><path fill="url(#d17)" stroke="url(#d17)" d="M501.2 462.2l8.2-12.3l5-6.6l4.9-5.5l5-4l3.3-1.6l6.6-2.4l16.4-5.4l16.5-4.6l18.2-4.4l3.3-.5l4.9 .4l5 1.4l11.5 4.6l4.9 1.5l18.2 3.6l16.5 2.6l-2.2-.5l-16.5-2.2l-18.1-3.4l-5-1.5l-13.1-5.2l-5-1.2l-4.9-.1l-8.3 1.6l-14.8 3.5l-14.9 4.1l-18.1 5.9l-6.6 2.7l-4.9 3.9l-5 5.4l-4.9 6.6l-8.3 12.1z"/><path fill="url(#d16)" stroke="url(#d16)" d="M502.7 463l8.2-12.3l6.6-8.6l5-5l4.9-3.5l11.6-4.4l13.1-4.3l16.5-4.6l18.2-4.5l4.9-.6l5 .7l4.9 1.5l9.9 3.8l4.9 1.5l18.2 3.7l16.5 2.9l-2.4-.5l-16.5-2.5l-18.2-3.5l-4.9-1.5l-11.5-4.6l-5-1.5l-4.9-.4l-5 .8l-16.5 4l-16.5 4.5l-18.1 5.9l-4.9 1.8l-3.3 1.6l-5 3.9l-4.9 5.5l-5 6.5l-8.2 12.3z"/><path fill="url(#d15)" stroke="url(#d15)" d="M504.4 463.2l8.2-12l6.6-8.4l5-4.9l4.9-3.4l11.6-4.6l13.2-4.4l34.6-9.3l4.9-.6l5 .6l4.9 1.4l13.2 4.6l36.3 7.4l-2.7-.5l-16.5-2.7l-18.2-3.7l-4.9-1.4l-11.6-4.5l-4.9-1.4l-5-.4l-3.3 .5l-18.1 4.5l-16.5 4.6l-16.5 5.4l-6.6 2.4l-3.3 1.7l-4.9 3.9l-5 5.6l-4.9 6.6l-8.2 12.3z"/><path fill="url(#d14)" stroke="url(#d14)" d="M506.1 462.4l8.3-11.2l6.6-7.8l4.9-4.7l5-3.4l11.5-4.7l13.2-4.5l36.3-9.9l3.3-.3l4.9 .5l5 1.3l13.2 4.4l36.2 7.5l-2.8-.2l-19.8-3.7l-16.4-3.5l-13.2-4.7l-5-1.5l-4.9-.6l-5 .5l-18.1 4.6l-16.5 4.6l-13.2 4.4l-11.5 4.5l-5 3.4l-4.9 5l-6.6 8.5l-8.3 12.3z"/><path fill="url(#d13)" stroke="url(#d13)" d="M507.9 461.3l8.2-10.3l6.6-7.2l4.9-4.4l5-3.2l11.5-4.9l11.6-4.1l37.9-10.7l4.9-.3l5 .7l16.5 5.1l36.3 7.4l-2.8 .2l-36.3-7.4l-13.1-4.6l-5-1.3l-4.9-.6l-5 .7l-34.6 9.3l-13.2 4.5l-11.5 4.6l-5 3.4l-4.9 4.9l-6.6 8.1l-8.3 11.7z"/><path fill="url(#d12)" stroke="url(#d12)" d="M509.5 460.3l8.3-9.4l6.6-6.7l4.9-4.1l4.9-3.1l13.2-5.6l11.6-4.2l36.3-10.4l4.9-.4l4.9 .7l16.5 4.7l36.3 7.2l-2.6 .6l-36.3-7.5l-13.2-4.4l-5-1.3l-4.9-.4l-3.3 .3l-36.3 10l-11.5 4l-13.2 5.4l-5 3.3l-4.9 4.5l-6.6 7.6l-8.2 10.9z"/><path fill="url(#d11)" stroke="url(#d11)" d="M511.1 459.5l6.6-7l6.6-6.4l6.6-5.3l4.9-3.1l11.5-5l13.2-4.9l36.3-10.8l5-.4l4.9 .5l16.5 4.4l36.3 7.1l-2.5 .7l-36.3-7.4l-16.5-4.9l-4.9-.7l-5 .4l-37.9 10.8l-11.5 4.1l-11.6 4.9l-4.9 3.2l-5 4.3l-6.6 6.9l-8.2 9.9z"/><path fill="url(#d10)" stroke="url(#d10)" d="M512.4 458.9l8.3-8.1l6.6-5.7l6.5-4.8l5-2.7l11.5-5.2l11.6-4.4l18.1-5.7l18.2-5.3l4.9-.5l4.9 .5l16.5 4l18.2 3.2l18.1 3.8l-2.1 .9l-36.3-7.2l-16.5-4.6l-5-.6l-4.9 .4l-36.3 10.6l-13.2 4.8l-11.5 5l-5 3.1l-4.9 4l-6.6 6.5l-8.2 9z"/><path fill="url(#d9)" stroke="url(#d9)" d="M513.6 458.3l8.2-7.5l8.2-6.6l6.6-4.4l6.6-3.4l11.6-5.3l9.9-3.9l18.1-5.7l16.5-4.8l4.9-.5l6.6 .7l13.2 3.1l19.8 3.4l18.2 3.8l-1.9 1.1l-18.1-3.7l-18.1-3.3l-16.5-4.2l-5-.5l-4.9 .5l-18.2 5.2l-18.1 5.6l-13.2 5l-11.5 5.2l-5 3l-6.6 5.2l-6.6 6.2l-6.6 6.7z"/><path fill="url(#d8)" stroke="url(#d8)" d="M514.6 457.8l9.9-8.3l8.2-6.2l6.6-4.1l11.6-6l8.2-3.8l8.3-3.2l18.1-5.7l14.8-4.2l5-.6l6.6 .6l13.2 2.9l19.8 3.2l18.1 3.8l-1.7 1.4l-18.1-3.7l-18.1-3.2l-16.5-3.9l-5-.4l-4.9 .5l-18.2 5.3l-18.1 5.8l-11.5 4.5l-11.6 5.3l-4.9 2.7l-6.6 4.7l-6.6 5.6l-8.3 7.8z"/><path fill="url(#d7)" stroke="url(#d7)" d="M515.5 457.5l9.9-8l9.9-7l6.6-4l14.8-7.9l6.6-3l6.6-2.5l31.4-9.4l4.9-.6l6.6 .5l13.2 2.7l23.1 3.7l14.8 3.1l-1.5 1.6l-18.1-3.7l-19.8-3.4l-13.2-3l-6.6-.6l-4.9 .6l-14.9 4.2l-18.1 5.7l-9.9 3.8l-9.9 4.6l-8.2 4.1l-6.6 4.1l-8.3 6.3l-9.9 8.7z"/><path fill="url(#d6)" stroke="url(#d6)" d="M516.5 457.2l9.8-7.7l9.9-6.9l14.9-8.8l9.9-5.3l9.9-4.1l31.3-9.3l4.9-.7l6.6 .4l13.2 2.5l21.5 3.3l16.5 3.4l-1.5 1.8l-18.2-3.8l-19.8-3.2l-13.2-2.8l-6.6-.5l-4.9 .6l-31.3 9.3l-6.6 2.5l-8.3 3.7l-13.2 6.8l-6.6 3.9l-8.2 5.9l-11.5 9.5z"/><path fill="url(#d5)" stroke="url(#d5)" d="M517.4 457l9.9-7.4l9.9-6.8l18.1-11.1l8.3-4.6l8.2-3.5l31.3-9.3l6.6-.7l6.6 .6l11.6 2.1l19.7 2.9l18.2 3.7l-1.5 1.8l-16.5-3.4l-21.4-3.4l-13.2-2.6l-6.6-.4l-5 .6l-31.3 9.3l-4.9 1.8l-6.6 3l-11.6 6.2l-11.5 6.7l-9.9 7l-9.9 7.9z"/><path fill="url(#d4)" stroke="url(#d4)" d="M518.3 456.9l9.9-7.3l9.9-6.7l19.8-12.6l8.2-4.7l8.3-3.3l29.7-8.9l6.6-.7l6.6 .5l31.3 4.8l18.1 3.8l-1.5 1.7l-18.1-3.6l-19.8-3l-13.2-2.4l-6.6-.4l-4.9 .7l-31.4 9.3l-9.9 4.2l-8.2 4.5l-16.5 9.9l-9.9 6.9l-9.9 7.5z"/><path fill="url(#d3)" stroke="url(#d3)" d="M519.2 456.9l19.8-14l21.4-14.1l6.6-3.8l5-2.3l3.3-1.2l29.6-9l6.6-.7l6.6 .4l29.7 4.4l19.8 4.1l-1.4 1.7l-18.1-3.7l-19.8-2.9l-11.6-2l-6.6-.5l-6.6 .6l-31.3 9.4l-8.2 3.6l-8.3 4.6l-18.1 11.3l-9.9 6.8l-9.9 7.4z"/><path fill="url(#d2)" stroke="url(#d2)" d="M520.1 456.9l13.2-9.4l26.4-18.1l9.8-6l5-2.2l6.6-2.2l24.7-7.5l6.6-.7l8.3 .5l28 4.1l19.8 4.2l-1.4 1.8l-19.8-4.1l-29.7-4.5l-6.6-.4l-6.6 .7l-29.7 8.9l-8.2 3.4l-8.3 4.7l-19.7 12.8l-19.8 14z"/><path fill="url(#d1)" stroke="url(#d1)" d="M520.9 457l28-19.6l13.2-9.6l8.3-5.3l4.9-2.3l5-1.6l24.7-7.7l3.3-.8l4.9-.4l8.3 .5l28 3.9l9.9 2l9.9 2.5l-1.3 1.7l-19.8-4.2l-29.7-4.3l-6.6-.4l-6.6 .7l-13.2 3.8l-16.5 5.2l-3.3 1.2l-4.9 2.4l-6.6 3.9l-23.1 15.4l-18.1 12.9z"/><path fill="url(#d0)" stroke="url(#d0)" d="M521.7 457l28-19.7l14.9-11.4l6.6-4.3l4.9-2.3l4.9-1.8l24.8-7.7l3.3-.8l4.9-.5l8.3 .5l26.3 3.6l9.9 2l11.6 2.9l-1.3 1.7l-9.9-2.4l-9.8-2l-28.1-4l-8.2-.5l-6.6 .8l-24.8 7.5l-6.5 2.2l-5 2.2l-8.2 5.1l-41.3 28.8z"/></g>
<path d="M418.1 458.1L418.1 341.4" stroke="#c8c8c8" stroke-width="1.8" fill="none"/>
<path d="M531.1 512.2L418.1 457.8M531.1 512.2L679.5 470.9M531.1 512.2L527.1 513.3M507.6 500.9L503.5 502M484 489.5L480 490.7M460.5 478.2L456.4 479.3M436.9 466.9L432.9 468M531.1 512.2L534.7 513.9M554.7 505.6L558.3 507.4M578.3 499.1L581.9 500.8M602 492.5L605.6 494.2M625.6 485.9L629.2 487.6M649.2 479.3L652.8 481.1M672.8 472.8L676.4 474.5M418.1 457.8L414.5 456.1M418.1 428.7L414.5 427M418.1 399.6L414.5 397.9M418.1 370.5L414.5 368.8M418.1 341.4L414.5 339.7" stroke="#262626" stroke-width="0.7" fill="none"/>
<g font-size="8.35" fill="#262626"><text x="523.5" y="522.3" text-anchor="end">0</text><text x="500" y="511" text-anchor="end">5</text><text x="476.4" y="499.6" text-anchor="end">10</text><text x="452.9" y="488.3" text-anchor="end">15</text><text x="429.3" y="477" text-anchor="end">20</text><text x="537.1" y="523.3">0</text><text x="560.7" y="516.7">0.5</text><text x="584.3" y="510.2">1</text><text x="608" y="503.6">1.5</text><text x="631.6" y="497">2</text><text x="655.2" y="490.4">2.5</text><text x="678.8" y="483.9">3</text><text x="411.3" y="458.4" text-anchor="end">0.07</text><text x="411.3" y="429.3" text-anchor="end">0.075</text><text x="411.3" y="400.2" text-anchor="end">0.08</text><text x="411.3" y="371.1" text-anchor="end">0.085</text><text x="411.3" y="342" text-anchor="end">0.09</text></g>
<g fill="#262626"><text x="465.6" y="526" font-size="13.7">Z</text><text x="473.9" y="532.6" font-size="11">c</text><text x="594.3" y="529.2" font-size="13.2" font-family="Liberation Serif" font-style="italic" fill="#333">&#981;</text><text x="601.3" y="529.5" font-size="13.6">(rad)</text><text transform="translate(378.5 407.9) rotate(-90)"><tspan font-family="Liberation Serif" font-style="italic" font-size="13" fill="#333">&#956;</tspan><tspan font-size="10.6" dy="6.8" dx="0.3">cof</tspan></text></g>
<text x="536.6" y="558.8" font-family="Liberation Serif" font-size="12.3" text-anchor="middle" fill="#000">(d)</text>
</svg>
</body></html>
